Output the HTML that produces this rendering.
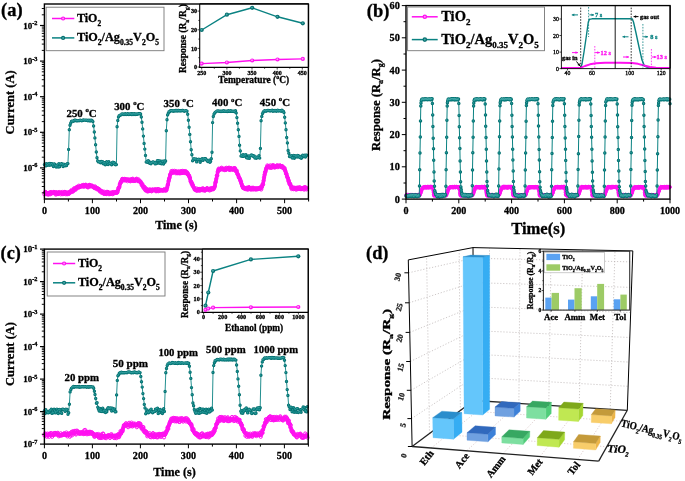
<!DOCTYPE html><html><head><meta charset="utf-8"><style>html,body{margin:0;padding:0;background:#fff}svg{display:block;filter:blur(0.45px)}text{stroke:#000;stroke-width:.3px}</style></head><body><svg width="685" height="481" viewBox="0 0 685 481" font-family="Liberation Serif, serif">
<rect width="685" height="481" fill="#fff"/>
<path d="M44.4 164.6 45.1 164 45.8 165.9 46.5 163.7 47.2 165.4 47.9 164.8 48.6 163.6 49.2 165.3 49.9 163.5 50.6 165 51.3 163.7 52 163.7 52.7 165 53.4 166.5 54.1 163.9 54.8 164.2 55.5 165.8 56.2 167 56.9 165.6 57.6 164.9 58.2 167.1 58.9 163.6 59.6 166.7 60.3 164.5 61 163.9 61.7 163.8 62.4 164.6 63.1 166.5 63.8 164.1 64.5 165.6 65.2 165.8 65.9 164.8 66.6 165.5 67.2 163.6 67.9 163.6 68.6 149.4 69.3 129.7 70 125.3 70.7 123.3 71.4 121.5 72.1 121.2 72.8 121.1 73.5 121.2 74.2 120.5 74.9 120.2 75.6 120.1 76.2 120.8 76.9 120.9 77.6 120.7 78.3 120.6 79 120.8 79.7 120.5 80.4 120.1 81.1 120.6 81.8 120.8 82.5 120.4 83.2 120 83.9 120.2 84.6 120.1 85.3 120.1 85.9 120.4 86.6 120.1 87.3 120.5 88 120.8 88.7 120.3 89.4 120.4 90.1 121 90.8 120.2 91.5 120.2 92.2 120.6 92.9 121.6 93.6 126 94.3 132 94.9 137.9 95.6 144.8 96.3 152 97 157.8 97.7 160.9 98.4 161.9 99.1 161.7 99.8 162.3 100.5 162.8 101.2 161.5 101.9 161.9 102.6 161.6 103.3 163.8 103.9 162.5 104.6 162.9 105.3 164.7 106 163.3 106.7 161.8 107.4 162.8 108.1 164.6 108.8 161.6 109.5 163.5 110.2 163.6 110.9 163.5 111.6 164.8 112.3 162.5 112.9 162.1 113.6 163.5 114.3 162.8 115 164.6 115.7 164.7 116.4 164.6 117.1 126.8 117.8 120.5 118.5 117 119.2 115.6 119.9 115.5 120.6 115 121.3 114.8 121.9 113.9 122.6 113.9 123.3 114.3 124 114.5 124.7 114.3 125.4 113.7 126.1 114.5 126.8 114.4 127.5 113.8 128.2 113.9 128.9 114.6 129.6 114 130.3 114.3 130.9 113.7 131.6 114.5 132.3 113.7 133 114.6 133.7 114 134.4 113.7 135.1 114.6 135.8 114.1 136.5 114 137.2 114.4 137.9 113.9 138.6 113.8 139.3 113.9 139.9 113.7 140.6 114 141.3 117 142 122.3 142.7 128.9 143.4 136.1 144.1 143.4 144.8 149.1 145.5 155.4 146.2 162.1 146.9 161.5 147.6 162.4 148.3 160.7 148.9 161.2 149.6 163.2 150.3 162.4 151 163.8 151.7 162.6 152.4 162.2 153.1 162 153.8 162.1 154.5 163 155.2 163.9 155.9 162.4 156.6 163.5 157.3 160.8 157.9 160.6 158.6 160.6 159.3 163.3 160 160.9 160.7 162.8 161.4 163.7 162.1 161.1 162.8 161.8 163.5 164.1 164.2 160.9 164.9 162.3 165.6 161 166.3 130.7 167 119.7 167.6 114.9 168.3 113.3 169 111.7 169.7 111.8 170.4 110.8 171.1 110.6 171.8 110.8 172.5 110.9 173.2 111.2 173.9 110.6 174.6 111 175.3 110.5 176 111.1 176.6 110.5 177.3 111 178 110.5 178.7 110.5 179.4 110.9 180.1 111 180.8 110.7 181.5 110.9 182.2 110.5 182.9 110.5 183.6 110.7 184.3 111.2 185 110.9 185.6 110.7 186.3 110.7 187 111.1 187.7 114.3 188.4 120.3 189.1 127.2 189.8 134.4 190.5 141.7 191.2 149.7 191.9 154.7 192.6 160.7 193.3 160.1 194 158.8 194.6 158.9 195.3 159.6 196 158.9 196.7 161.9 197.4 159.7 198.1 159.7 198.8 159.2 199.5 159.6 200.2 162.3 200.9 159.5 201.6 159.8 202.3 158.6 203 160.4 203.6 159.4 204.3 158.6 205 158.9 205.7 158.8 206.4 159.8 207.1 160.8 207.8 161.5 208.5 161.3 209.2 160.1 209.9 162.3 210.6 161.4 211.3 158.8 212 152.2 212.6 122.6 213.3 116.5 214 114.1 214.7 113 215.4 112.1 216.1 111.8 216.8 111.1 217.5 110.9 218.2 110.9 218.9 111.3 219.6 111.3 220.3 111.2 221 111.5 221.6 111.2 222.3 111.4 223 111.4 223.7 110.8 224.4 111.4 225.1 111.4 225.8 111.2 226.5 111.2 227.2 111.5 227.9 111.3 228.6 110.8 229.3 111.4 230 111.3 230.6 110.8 231.3 111.4 232 111.4 232.7 111.2 233.4 111.2 234.1 111.6 234.8 111.7 235.5 110.7 236.2 112.9 236.9 117.6 237.6 123.2 238.3 129.8 239 136.4 239.6 145.2 240.3 150.9 241 156.1 241.7 155.5 242.4 156.4 243.1 154.6 243.8 156.3 244.5 155.1 245.2 155.8 245.9 154.6 246.6 157.8 247.3 158.1 248 158 248.7 156 249.3 158.4 250 156 250.7 155.6 251.4 155 252.1 155.7 252.8 155.5 253.5 156.5 254.2 156 254.9 158 255.6 157 256.3 158.2 257 157.3 257.7 157.4 258.3 157.5 259 155.7 259.7 158.1 260.4 148.4 261.1 120.8 261.8 116.4 262.5 113.6 263.2 112.2 263.9 111.1 264.6 110.8 265.3 110.9 266 111.2 266.7 110.7 267.3 110.4 268 110.6 268.7 110.4 269.4 110.8 270.1 111 270.8 110.6 271.5 110.6 272.2 110.3 272.9 111.2 273.6 110.7 274.3 111.1 275 110.5 275.7 110.6 276.3 111.2 277 111.1 277.7 110.2 278.4 111.1 279.1 110.8 279.8 110.6 280.5 111 281.2 111.2 281.9 110.3 282.6 110.7 283.3 111.1 284 112.6 284.7 117.3 285.3 122.9 286 129.7 286.7 137.5 287.4 142.9 288.1 150.4 288.8 153.3 289.5 156.5 290.2 156 290.9 156.8 291.6 155.6 292.3 158.1 293 157.9 293.7 155.4 294.3 158.2 295 155.7 295.7 156.4 296.4 156.1 297.1 157 297.8 155.4 298.5 155.8 299.2 157.1 299.9 157.5 300.6 156.4 301.3 158.2 302 157.6 302.7 155.3 303.3 155.6 304 156.4 304.7 155.3 305.4 157 306.1 155.1 306.8 155.3" stroke="#0a8282" stroke-width="0.9" fill="none" stroke-linejoin="round"/>
<path d="M44.4 164.6h0M45.1 164h0M45.8 165.9h0M46.5 163.7h0M47.2 165.4h0M47.9 164.8h0M48.6 163.6h0M49.2 165.3h0M49.9 163.5h0M50.6 165h0M51.3 163.7h0M52 163.7h0M52.7 165h0M53.4 166.5h0M54.1 163.9h0M54.8 164.2h0M55.5 165.8h0M56.2 167h0M56.9 165.6h0M57.6 164.9h0M58.2 167.1h0M58.9 163.6h0M59.6 166.7h0M60.3 164.5h0M61 163.9h0M61.7 163.8h0M62.4 164.6h0M63.1 166.5h0M63.8 164.1h0M64.5 165.6h0M65.2 165.8h0M65.9 164.8h0M66.6 165.5h0M67.2 163.6h0M67.9 163.6h0M68.6 149.4h0M69.3 129.7h0M70 125.3h0M70.7 123.3h0M71.4 121.5h0M72.1 121.2h0M72.8 121.1h0M73.5 121.2h0M74.2 120.5h0M74.9 120.2h0M75.6 120.1h0M76.2 120.8h0M76.9 120.9h0M77.6 120.7h0M78.3 120.6h0M79 120.8h0M79.7 120.5h0M80.4 120.1h0M81.1 120.6h0M81.8 120.8h0M82.5 120.4h0M83.2 120h0M83.9 120.2h0M84.6 120.1h0M85.3 120.1h0M85.9 120.4h0M86.6 120.1h0M87.3 120.5h0M88 120.8h0M88.7 120.3h0M89.4 120.4h0M90.1 121h0M90.8 120.2h0M91.5 120.2h0M92.2 120.6h0M92.9 121.6h0M93.6 126h0M94.3 132h0M94.9 137.9h0M95.6 144.8h0M96.3 152h0M97 157.8h0M97.7 160.9h0M98.4 161.9h0M99.1 161.7h0M99.8 162.3h0M100.5 162.8h0M101.2 161.5h0M101.9 161.9h0M102.6 161.6h0M103.3 163.8h0M103.9 162.5h0M104.6 162.9h0M105.3 164.7h0M106 163.3h0M106.7 161.8h0M107.4 162.8h0M108.1 164.6h0M108.8 161.6h0M109.5 163.5h0M110.2 163.6h0M110.9 163.5h0M111.6 164.8h0M112.3 162.5h0M112.9 162.1h0M113.6 163.5h0M114.3 162.8h0M115 164.6h0M115.7 164.7h0M116.4 164.6h0M117.1 126.8h0M117.8 120.5h0M118.5 117h0M119.2 115.6h0M119.9 115.5h0M120.6 115h0M121.3 114.8h0M121.9 113.9h0M122.6 113.9h0M123.3 114.3h0M124 114.5h0M124.7 114.3h0M125.4 113.7h0M126.1 114.5h0M126.8 114.4h0M127.5 113.8h0M128.2 113.9h0M128.9 114.6h0M129.6 114h0M130.3 114.3h0M130.9 113.7h0M131.6 114.5h0M132.3 113.7h0M133 114.6h0M133.7 114h0M134.4 113.7h0M135.1 114.6h0M135.8 114.1h0M136.5 114h0M137.2 114.4h0M137.9 113.9h0M138.6 113.8h0M139.3 113.9h0M139.9 113.7h0M140.6 114h0M141.3 117h0M142 122.3h0M142.7 128.9h0M143.4 136.1h0M144.1 143.4h0M144.8 149.1h0M145.5 155.4h0M146.2 162.1h0M146.9 161.5h0M147.6 162.4h0M148.3 160.7h0M148.9 161.2h0M149.6 163.2h0M150.3 162.4h0M151 163.8h0M151.7 162.6h0M152.4 162.2h0M153.1 162h0M153.8 162.1h0M154.5 163h0M155.2 163.9h0M155.9 162.4h0M156.6 163.5h0M157.3 160.8h0M157.9 160.6h0M158.6 160.6h0M159.3 163.3h0M160 160.9h0M160.7 162.8h0M161.4 163.7h0M162.1 161.1h0M162.8 161.8h0M163.5 164.1h0M164.2 160.9h0M164.9 162.3h0M165.6 161h0M166.3 130.7h0M167 119.7h0M167.6 114.9h0M168.3 113.3h0M169 111.7h0M169.7 111.8h0M170.4 110.8h0M171.1 110.6h0M171.8 110.8h0M172.5 110.9h0M173.2 111.2h0M173.9 110.6h0M174.6 111h0M175.3 110.5h0M176 111.1h0M176.6 110.5h0M177.3 111h0M178 110.5h0M178.7 110.5h0M179.4 110.9h0M180.1 111h0M180.8 110.7h0M181.5 110.9h0M182.2 110.5h0M182.9 110.5h0M183.6 110.7h0M184.3 111.2h0M185 110.9h0M185.6 110.7h0M186.3 110.7h0M187 111.1h0M187.7 114.3h0M188.4 120.3h0M189.1 127.2h0M189.8 134.4h0M190.5 141.7h0M191.2 149.7h0M191.9 154.7h0M192.6 160.7h0M193.3 160.1h0M194 158.8h0M194.6 158.9h0M195.3 159.6h0M196 158.9h0M196.7 161.9h0M197.4 159.7h0M198.1 159.7h0M198.8 159.2h0M199.5 159.6h0M200.2 162.3h0M200.9 159.5h0M201.6 159.8h0M202.3 158.6h0M203 160.4h0M203.6 159.4h0M204.3 158.6h0M205 158.9h0M205.7 158.8h0M206.4 159.8h0M207.1 160.8h0M207.8 161.5h0M208.5 161.3h0M209.2 160.1h0M209.9 162.3h0M210.6 161.4h0M211.3 158.8h0M212 152.2h0M212.6 122.6h0M213.3 116.5h0M214 114.1h0M214.7 113h0M215.4 112.1h0M216.1 111.8h0M216.8 111.1h0M217.5 110.9h0M218.2 110.9h0M218.9 111.3h0M219.6 111.3h0M220.3 111.2h0M221 111.5h0M221.6 111.2h0M222.3 111.4h0M223 111.4h0M223.7 110.8h0M224.4 111.4h0M225.1 111.4h0M225.8 111.2h0M226.5 111.2h0M227.2 111.5h0M227.9 111.3h0M228.6 110.8h0M229.3 111.4h0M230 111.3h0M230.6 110.8h0M231.3 111.4h0M232 111.4h0M232.7 111.2h0M233.4 111.2h0M234.1 111.6h0M234.8 111.7h0M235.5 110.7h0M236.2 112.9h0M236.9 117.6h0M237.6 123.2h0M238.3 129.8h0M239 136.4h0M239.6 145.2h0M240.3 150.9h0M241 156.1h0M241.7 155.5h0M242.4 156.4h0M243.1 154.6h0M243.8 156.3h0M244.5 155.1h0M245.2 155.8h0M245.9 154.6h0M246.6 157.8h0M247.3 158.1h0M248 158h0M248.7 156h0M249.3 158.4h0M250 156h0M250.7 155.6h0M251.4 155h0M252.1 155.7h0M252.8 155.5h0M253.5 156.5h0M254.2 156h0M254.9 158h0M255.6 157h0M256.3 158.2h0M257 157.3h0M257.7 157.4h0M258.3 157.5h0M259 155.7h0M259.7 158.1h0M260.4 148.4h0M261.1 120.8h0M261.8 116.4h0M262.5 113.6h0M263.2 112.2h0M263.9 111.1h0M264.6 110.8h0M265.3 110.9h0M266 111.2h0M266.7 110.7h0M267.3 110.4h0M268 110.6h0M268.7 110.4h0M269.4 110.8h0M270.1 111h0M270.8 110.6h0M271.5 110.6h0M272.2 110.3h0M272.9 111.2h0M273.6 110.7h0M274.3 111.1h0M275 110.5h0M275.7 110.6h0M276.3 111.2h0M277 111.1h0M277.7 110.2h0M278.4 111.1h0M279.1 110.8h0M279.8 110.6h0M280.5 111h0M281.2 111.2h0M281.9 110.3h0M282.6 110.7h0M283.3 111.1h0M284 112.6h0M284.7 117.3h0M285.3 122.9h0M286 129.7h0M286.7 137.5h0M287.4 142.9h0M288.1 150.4h0M288.8 153.3h0M289.5 156.5h0M290.2 156h0M290.9 156.8h0M291.6 155.6h0M292.3 158.1h0M293 157.9h0M293.7 155.4h0M294.3 158.2h0M295 155.7h0M295.7 156.4h0M296.4 156.1h0M297.1 157h0M297.8 155.4h0M298.5 155.8h0M299.2 157.1h0M299.9 157.5h0M300.6 156.4h0M301.3 158.2h0M302 157.6h0M302.7 155.3h0M303.3 155.6h0M304 156.4h0M304.7 155.3h0M305.4 157h0M306.1 155.1h0M306.8 155.3h0" stroke="#077070" stroke-width="3.4" stroke-linecap="round" fill="none"/>
<path d="M44.4 164.6h0M45.1 164h0M45.8 165.9h0M46.5 163.7h0M47.2 165.4h0M47.9 164.8h0M48.6 163.6h0M49.2 165.3h0M49.9 163.5h0M50.6 165h0M51.3 163.7h0M52 163.7h0M52.7 165h0M53.4 166.5h0M54.1 163.9h0M54.8 164.2h0M55.5 165.8h0M56.2 167h0M56.9 165.6h0M57.6 164.9h0M58.2 167.1h0M58.9 163.6h0M59.6 166.7h0M60.3 164.5h0M61 163.9h0M61.7 163.8h0M62.4 164.6h0M63.1 166.5h0M63.8 164.1h0M64.5 165.6h0M65.2 165.8h0M65.9 164.8h0M66.6 165.5h0M67.2 163.6h0M67.9 163.6h0M68.6 149.4h0M69.3 129.7h0M70 125.3h0M70.7 123.3h0M71.4 121.5h0M72.1 121.2h0M72.8 121.1h0M73.5 121.2h0M74.2 120.5h0M74.9 120.2h0M75.6 120.1h0M76.2 120.8h0M76.9 120.9h0M77.6 120.7h0M78.3 120.6h0M79 120.8h0M79.7 120.5h0M80.4 120.1h0M81.1 120.6h0M81.8 120.8h0M82.5 120.4h0M83.2 120h0M83.9 120.2h0M84.6 120.1h0M85.3 120.1h0M85.9 120.4h0M86.6 120.1h0M87.3 120.5h0M88 120.8h0M88.7 120.3h0M89.4 120.4h0M90.1 121h0M90.8 120.2h0M91.5 120.2h0M92.2 120.6h0M92.9 121.6h0M93.6 126h0M94.3 132h0M94.9 137.9h0M95.6 144.8h0M96.3 152h0M97 157.8h0M97.7 160.9h0M98.4 161.9h0M99.1 161.7h0M99.8 162.3h0M100.5 162.8h0M101.2 161.5h0M101.9 161.9h0M102.6 161.6h0M103.3 163.8h0M103.9 162.5h0M104.6 162.9h0M105.3 164.7h0M106 163.3h0M106.7 161.8h0M107.4 162.8h0M108.1 164.6h0M108.8 161.6h0M109.5 163.5h0M110.2 163.6h0M110.9 163.5h0M111.6 164.8h0M112.3 162.5h0M112.9 162.1h0M113.6 163.5h0M114.3 162.8h0M115 164.6h0M115.7 164.7h0M116.4 164.6h0M117.1 126.8h0M117.8 120.5h0M118.5 117h0M119.2 115.6h0M119.9 115.5h0M120.6 115h0M121.3 114.8h0M121.9 113.9h0M122.6 113.9h0M123.3 114.3h0M124 114.5h0M124.7 114.3h0M125.4 113.7h0M126.1 114.5h0M126.8 114.4h0M127.5 113.8h0M128.2 113.9h0M128.9 114.6h0M129.6 114h0M130.3 114.3h0M130.9 113.7h0M131.6 114.5h0M132.3 113.7h0M133 114.6h0M133.7 114h0M134.4 113.7h0M135.1 114.6h0M135.8 114.1h0M136.5 114h0M137.2 114.4h0M137.9 113.9h0M138.6 113.8h0M139.3 113.9h0M139.9 113.7h0M140.6 114h0M141.3 117h0M142 122.3h0M142.7 128.9h0M143.4 136.1h0M144.1 143.4h0M144.8 149.1h0M145.5 155.4h0M146.2 162.1h0M146.9 161.5h0M147.6 162.4h0M148.3 160.7h0M148.9 161.2h0M149.6 163.2h0M150.3 162.4h0M151 163.8h0M151.7 162.6h0M152.4 162.2h0M153.1 162h0M153.8 162.1h0M154.5 163h0M155.2 163.9h0M155.9 162.4h0M156.6 163.5h0M157.3 160.8h0M157.9 160.6h0M158.6 160.6h0M159.3 163.3h0M160 160.9h0M160.7 162.8h0M161.4 163.7h0M162.1 161.1h0M162.8 161.8h0M163.5 164.1h0M164.2 160.9h0M164.9 162.3h0M165.6 161h0M166.3 130.7h0M167 119.7h0M167.6 114.9h0M168.3 113.3h0M169 111.7h0M169.7 111.8h0M170.4 110.8h0M171.1 110.6h0M171.8 110.8h0M172.5 110.9h0M173.2 111.2h0M173.9 110.6h0M174.6 111h0M175.3 110.5h0M176 111.1h0M176.6 110.5h0M177.3 111h0M178 110.5h0M178.7 110.5h0M179.4 110.9h0M180.1 111h0M180.8 110.7h0M181.5 110.9h0M182.2 110.5h0M182.9 110.5h0M183.6 110.7h0M184.3 111.2h0M185 110.9h0M185.6 110.7h0M186.3 110.7h0M187 111.1h0M187.7 114.3h0M188.4 120.3h0M189.1 127.2h0M189.8 134.4h0M190.5 141.7h0M191.2 149.7h0M191.9 154.7h0M192.6 160.7h0M193.3 160.1h0M194 158.8h0M194.6 158.9h0M195.3 159.6h0M196 158.9h0M196.7 161.9h0M197.4 159.7h0M198.1 159.7h0M198.8 159.2h0M199.5 159.6h0M200.2 162.3h0M200.9 159.5h0M201.6 159.8h0M202.3 158.6h0M203 160.4h0M203.6 159.4h0M204.3 158.6h0M205 158.9h0M205.7 158.8h0M206.4 159.8h0M207.1 160.8h0M207.8 161.5h0M208.5 161.3h0M209.2 160.1h0M209.9 162.3h0M210.6 161.4h0M211.3 158.8h0M212 152.2h0M212.6 122.6h0M213.3 116.5h0M214 114.1h0M214.7 113h0M215.4 112.1h0M216.1 111.8h0M216.8 111.1h0M217.5 110.9h0M218.2 110.9h0M218.9 111.3h0M219.6 111.3h0M220.3 111.2h0M221 111.5h0M221.6 111.2h0M222.3 111.4h0M223 111.4h0M223.7 110.8h0M224.4 111.4h0M225.1 111.4h0M225.8 111.2h0M226.5 111.2h0M227.2 111.5h0M227.9 111.3h0M228.6 110.8h0M229.3 111.4h0M230 111.3h0M230.6 110.8h0M231.3 111.4h0M232 111.4h0M232.7 111.2h0M233.4 111.2h0M234.1 111.6h0M234.8 111.7h0M235.5 110.7h0M236.2 112.9h0M236.9 117.6h0M237.6 123.2h0M238.3 129.8h0M239 136.4h0M239.6 145.2h0M240.3 150.9h0M241 156.1h0M241.7 155.5h0M242.4 156.4h0M243.1 154.6h0M243.8 156.3h0M244.5 155.1h0M245.2 155.8h0M245.9 154.6h0M246.6 157.8h0M247.3 158.1h0M248 158h0M248.7 156h0M249.3 158.4h0M250 156h0M250.7 155.6h0M251.4 155h0M252.1 155.7h0M252.8 155.5h0M253.5 156.5h0M254.2 156h0M254.9 158h0M255.6 157h0M256.3 158.2h0M257 157.3h0M257.7 157.4h0M258.3 157.5h0M259 155.7h0M259.7 158.1h0M260.4 148.4h0M261.1 120.8h0M261.8 116.4h0M262.5 113.6h0M263.2 112.2h0M263.9 111.1h0M264.6 110.8h0M265.3 110.9h0M266 111.2h0M266.7 110.7h0M267.3 110.4h0M268 110.6h0M268.7 110.4h0M269.4 110.8h0M270.1 111h0M270.8 110.6h0M271.5 110.6h0M272.2 110.3h0M272.9 111.2h0M273.6 110.7h0M274.3 111.1h0M275 110.5h0M275.7 110.6h0M276.3 111.2h0M277 111.1h0M277.7 110.2h0M278.4 111.1h0M279.1 110.8h0M279.8 110.6h0M280.5 111h0M281.2 111.2h0M281.9 110.3h0M282.6 110.7h0M283.3 111.1h0M284 112.6h0M284.7 117.3h0M285.3 122.9h0M286 129.7h0M286.7 137.5h0M287.4 142.9h0M288.1 150.4h0M288.8 153.3h0M289.5 156.5h0M290.2 156h0M290.9 156.8h0M291.6 155.6h0M292.3 158.1h0M293 157.9h0M293.7 155.4h0M294.3 158.2h0M295 155.7h0M295.7 156.4h0M296.4 156.1h0M297.1 157h0M297.8 155.4h0M298.5 155.8h0M299.2 157.1h0M299.9 157.5h0M300.6 156.4h0M301.3 158.2h0M302 157.6h0M302.7 155.3h0M303.3 155.6h0M304 156.4h0M304.7 155.3h0M305.4 157h0M306.1 155.1h0M306.8 155.3h0" stroke="#0a8282" stroke-width="2" stroke-linecap="round" fill="none"/>
<path d="M44.1 164.4h0M44.8 163.7h0M45.5 165.6h0M46.2 163.4h0M46.9 165.2h0M47.6 164.5h0M48.3 163.4h0M49 165.1h0M49.7 163.3h0M50.4 164.8h0M51.1 163.4h0M51.8 163.5h0M52.5 164.8h0M53.2 166.3h0M53.8 163.6h0M54.5 164h0M55.2 165.5h0M55.9 166.8h0M56.6 165.3h0M57.3 164.7h0M58 166.9h0M58.7 163.3h0M59.4 166.4h0M60.1 164.3h0M60.8 163.7h0M61.5 163.6h0M62.2 164.3h0M62.8 166.3h0M63.5 163.8h0M64.2 165.4h0M64.9 165.6h0M65.6 164.6h0M66.3 165.2h0M67 163.4h0M67.7 163.4h0M68.4 149.1h0M69.1 129.5h0M69.8 125h0M70.5 123h0M71.2 121.3h0M71.8 120.9h0M72.5 120.8h0M73.2 120.9h0M73.9 120.3h0M74.6 119.9h0M75.3 119.8h0M76 120.5h0M76.7 120.6h0M77.4 120.4h0M78.1 120.3h0M78.8 120.6h0M79.5 120.2h0M80.2 119.8h0M80.8 120.4h0M81.5 120.6h0M82.2 120.1h0M82.9 119.8h0M83.6 119.9h0M84.3 119.8h0M85 119.9h0M85.7 120.1h0M86.4 119.8h0M87.1 120.3h0M87.8 120.6h0M88.5 120h0M89.2 120.1h0M89.8 120.7h0M90.5 119.9h0M91.2 120h0M91.9 120.3h0M92.6 121.4h0M93.3 125.7h0M94 131.7h0M94.7 137.6h0M95.4 144.6h0M96.1 151.7h0M96.8 157.6h0M97.5 160.6h0M98.2 161.6h0M98.8 161.5h0M99.5 162h0M100.2 162.5h0M100.9 161.3h0M101.6 161.6h0M102.3 161.3h0M103 163.6h0M103.7 162.2h0M104.4 162.6h0M105.1 164.5h0M105.8 163h0M106.5 161.6h0M107.2 162.6h0M107.8 164.4h0M108.5 161.3h0M109.2 163.3h0M109.9 163.3h0M110.6 163.3h0M111.3 164.5h0M112 162.2h0M112.7 161.9h0M113.4 163.3h0M114.1 162.5h0M114.8 164.3h0M115.5 164.5h0M116.2 164.4h0M116.8 126.6h0M117.5 120.2h0M118.2 116.7h0M118.9 115.3h0M119.6 115.2h0M120.3 114.8h0M121 114.5h0M121.7 113.7h0M122.4 113.6h0M123.1 114h0M123.8 114.2h0M124.5 114h0M125.2 113.4h0M125.9 114.3h0M126.5 114.1h0M127.2 113.5h0M127.9 113.7h0M128.6 114.3h0M129.3 113.8h0M130 114.1h0M130.7 113.5h0M131.4 114.3h0M132.1 113.5h0M132.8 114.3h0M133.5 113.7h0M134.2 113.5h0M134.9 114.3h0M135.5 113.9h0M136.2 113.8h0M136.9 114.2h0M137.6 113.6h0M138.3 113.6h0M139 113.6h0M139.7 113.5h0M140.4 113.7h0M141.1 116.7h0M141.8 122h0M142.5 128.6h0M143.2 135.9h0M143.9 143.1h0M144.5 148.8h0M145.2 155.2h0M145.9 161.9h0M146.6 161.3h0M147.3 162.2h0M148 160.5h0M148.7 161h0M149.4 163h0M150.1 162.2h0M150.8 163.5h0M151.5 162.4h0M152.2 162h0M152.9 161.8h0M153.5 161.9h0M154.2 162.7h0M154.9 163.6h0M155.6 162.2h0M156.3 163.2h0M157 160.5h0M157.7 160.3h0M158.4 160.3h0M159.1 163h0M159.8 160.6h0M160.5 162.6h0M161.2 163.4h0M161.9 160.9h0M162.5 161.6h0M163.2 163.8h0M163.9 160.7h0M164.6 162h0M165.3 160.8h0M166 130.4h0M166.7 119.4h0M167.4 114.7h0M168.1 113.1h0M168.8 111.4h0M169.5 111.6h0M170.2 110.6h0M170.9 110.4h0M171.5 110.5h0M172.2 110.6h0M172.9 111h0M173.6 110.3h0M174.3 110.7h0M175 110.2h0M175.7 110.8h0M176.4 110.2h0M177.1 110.8h0M177.8 110.2h0M178.5 110.2h0M179.2 110.6h0M179.9 110.7h0M180.5 110.4h0M181.2 110.7h0M181.9 110.3h0M182.6 110.2h0M183.3 110.5h0M184 110.9h0M184.7 110.7h0M185.4 110.5h0M186.1 110.4h0M186.8 110.9h0M187.5 114h0M188.2 120.1h0M188.9 127h0M189.5 134.1h0M190.2 141.5h0M190.9 149.4h0M191.6 154.5h0M192.3 160.5h0M193 159.9h0M193.7 158.6h0M194.4 158.6h0M195.1 159.3h0M195.8 158.7h0M196.5 161.7h0M197.2 159.4h0M197.9 159.5h0M198.5 158.9h0M199.2 159.4h0M199.9 162h0M200.6 159.3h0M201.3 159.5h0M202 158.4h0M202.7 160.2h0M203.4 159.1h0M204.1 158.4h0M204.8 158.7h0M205.5 158.5h0M206.2 159.5h0M206.9 160.6h0M207.6 161.2h0M208.2 161.1h0M208.9 159.8h0M209.6 162.1h0M210.3 161.1h0M211 158.5h0M211.7 152h0M212.4 122.3h0M213.1 116.3h0M213.8 113.9h0M214.5 112.8h0M215.2 111.8h0M215.9 111.5h0M216.6 110.9h0M217.2 110.7h0M217.9 110.6h0M218.6 111h0M219.3 111.1h0M220 110.9h0M220.7 111.3h0M221.4 111h0M222.1 111.1h0M222.8 111.2h0M223.5 110.5h0M224.2 111.2h0M224.9 111.2h0M225.6 110.9h0M226.2 110.9h0M226.9 111.2h0M227.6 111.1h0M228.3 110.6h0M229 111.2h0M229.7 111h0M230.4 110.5h0M231.1 111.1h0M231.8 111.1h0M232.5 111h0M233.2 110.9h0M233.9 111.3h0M234.6 111.4h0M235.2 110.5h0M235.9 112.7h0M236.6 117.3h0M237.3 123h0M238 129.5h0M238.7 136.2h0M239.4 144.9h0M240.1 150.7h0M240.8 155.8h0M241.5 155.2h0M242.2 156.2h0M242.9 154.4h0M243.6 156.1h0M244.2 154.9h0M244.9 155.6h0M245.6 154.4h0M246.3 157.5h0M247 157.9h0M247.7 157.8h0M248.4 155.8h0M249.1 158.1h0M249.8 155.7h0M250.5 155.4h0M251.2 154.7h0M251.9 155.4h0M252.6 155.3h0M253.2 156.3h0M253.9 155.8h0M254.6 157.7h0M255.3 156.7h0M256 157.9h0M256.7 157.1h0M257.4 157.1h0M258.1 157.2h0M258.8 155.4h0M259.5 157.9h0M260.2 148.2h0M260.9 120.6h0M261.6 116.2h0M262.2 113.3h0M262.9 111.9h0M263.6 110.8h0M264.3 110.5h0M265 110.6h0M265.7 111h0M266.4 110.5h0M267.1 110.2h0M267.8 110.3h0M268.5 110.2h0M269.2 110.5h0M269.9 110.7h0M270.6 110.4h0M271.2 110.3h0M271.9 110h0M272.6 110.9h0M273.3 110.5h0M274 110.8h0M274.7 110.2h0M275.4 110.3h0M276.1 110.9h0M276.8 110.8h0M277.5 110h0M278.2 110.8h0M278.9 110.5h0M279.6 110.3h0M280.2 110.8h0M280.9 110.9h0M281.6 110.1h0M282.3 110.5h0M283 110.9h0M283.7 112.3h0M284.4 117.1h0M285.1 122.6h0M285.8 129.5h0M286.5 137.3h0M287.2 142.7h0M287.9 150.1h0M288.6 153h0M289.3 156.2h0M289.9 155.7h0M290.6 156.5h0M291.3 155.4h0M292 157.9h0M292.7 157.6h0M293.4 155.1h0M294.1 157.9h0M294.8 155.4h0M295.5 156.1h0M296.2 155.8h0M296.9 156.8h0M297.6 155.1h0M298.3 155.5h0M298.9 156.8h0M299.6 157.3h0M300.3 156.2h0M301 157.9h0M301.7 157.4h0M302.4 155.1h0M303.1 155.4h0M303.8 156.1h0M304.5 155.1h0M305.2 156.8h0M305.9 154.8h0M306.6 155.1h0" stroke="#48aaaa" stroke-width="0.8" stroke-linecap="round" fill="none"/>
<path d="M44.4 193.2 44.9 193.2 45.4 193.2 45.8 193.2 46.3 193.2 46.8 193.2 47.3 193.2 47.7 193.2 48.2 193.2 48.7 193.2 49.2 193.2 49.7 193.2 50.1 193.2 50.6 193.2 51.1 193.2 51.6 193.2 52 193.2 52.5 193.2 53 193.2 53.5 193.2 53.9 193.2 54.4 193.2 54.9 193.2 55.4 193.2 55.9 193.2 56.3 193.2 56.8 193.2 57.3 193.2 57.8 193.2 58.2 193.2 58.7 193.2 59.2 193.2 59.7 193.2 60.2 193.2 60.6 193.2 61.1 193.2 61.6 193.2 62.1 193.2 62.5 193.2 63 193.2 63.5 193.2 64 193.2 64.5 193.2 64.9 193.2 65.4 193.2 65.9 193.2 66.4 193.2 66.8 193.2 67.3 193.2 67.8 193.1 68.3 193 68.8 192.9 69.2 192.7 69.7 192.5 70.2 192.2 70.7 191.9 71.1 191.6 71.6 191.3 72.1 191 72.6 190.7 73 190.3 73.5 190 74 189.6 74.5 189.2 75 188.9 75.4 188.5 75.9 188.2 76.4 187.9 76.9 187.6 77.3 187.3 77.8 187 78.3 186.7 78.8 186.5 79.3 186.3 79.7 186.2 80.2 186.1 80.7 186 81.2 186 81.6 186 82.1 186 82.6 186 83.1 186 83.6 186 84 186 84.5 186 85 186 85.5 186 85.9 186 86.4 186 86.9 186 87.4 186 87.9 186 88.3 186 88.8 186 89.3 186 89.8 186 90.2 186 90.7 186 91.2 186 91.7 186.1 92.2 186.2 92.6 186.3 93.1 186.5 93.6 186.6 94.1 186.9 94.5 187.1 95 187.3 95.5 187.6 96 187.9 96.4 188.2 96.9 188.5 97.4 188.8 97.9 189.2 98.4 189.5 98.8 189.8 99.3 190.2 99.8 190.5 100.3 190.8 100.7 191.1 101.2 191.4 101.7 191.7 102.2 191.9 102.7 192.1 103.1 192.4 103.6 192.5 104.1 192.7 104.6 192.8 105 192.9 105.5 193 106 193 106.5 193 107 193 107.4 193 107.9 193 108.4 193 108.9 193 109.3 193 109.8 193 110.3 193 110.8 193 111.2 193 111.7 193 112.2 193 112.7 193 113.2 193 113.6 193 114.1 193 114.6 193 115.1 193 115.5 193 116 193 116.5 192.9 117 192.5 117.5 191.7 117.9 190.7 118.4 189.4 118.9 188 119.4 186.5 119.8 185 120.3 183.6 120.8 182.3 121.3 181.3 121.8 180.5 122.2 180.1 122.7 180 123.2 180 123.7 180 124.1 180 124.6 180 125.1 180 125.6 180 126.1 180 126.5 180 127 180 127.5 180 128 180 128.4 180 128.9 180 129.4 180 129.9 180 130.3 180 130.8 180 131.3 180 131.8 180 132.3 180 132.7 180 133.2 180 133.7 180 134.2 180 134.6 180 135.1 180 135.6 180 136.1 180 136.6 180 137 180 137.5 180 138 180.2 138.5 180.4 138.9 180.7 139.4 181.2 139.9 181.7 140.4 182.2 140.9 182.8 141.3 183.5 141.8 184.2 142.3 184.9 142.8 185.6 143.2 186.3 143.7 186.9 144.2 187.6 144.7 188.2 145.2 188.7 145.6 189.2 146.1 189.6 146.6 190 147.1 190.2 147.5 190.3 148 190.3 148.5 190.3 149 190.3 149.4 190.3 149.9 190.3 150.4 190.3 150.9 190.3 151.4 190.3 151.8 190.3 152.3 190.3 152.8 190.3 153.3 190.3 153.7 190.3 154.2 190.3 154.7 190.3 155.2 190.3 155.7 190.3 156.1 190.3 156.6 190.3 157.1 190.3 157.6 190.3 158 190.3 158.5 190.3 159 190.3 159.5 190.3 160 190.3 160.4 190.3 160.9 190.3 161.4 190.3 161.9 190.3 162.3 190.3 162.8 190.3 163.3 190.3 163.8 190.3 164.3 190.3 164.7 190.3 165.2 190.3 165.7 190.3 166.2 189.9 166.6 189 167.1 187.7 167.6 186 168.1 184.1 168.5 182 169 179.9 169.5 177.8 170 176 170.5 174.3 170.9 173.1 171.4 172.3 171.9 172 172.4 172 172.8 172 173.3 172 173.8 172 174.3 172 174.8 172 175.2 172 175.7 172 176.2 172 176.7 172 177.1 172 177.6 172 178.1 172 178.6 172 179.1 172 179.5 172 180 172 180.5 172 181 172 181.4 172 181.9 172 182.4 172 182.9 172 183.4 172 183.8 172 184.3 172 184.8 172 185.3 172 185.7 172 186.2 172.2 186.7 172.6 187.2 173.2 187.7 173.9 188.1 174.7 188.6 175.7 189.1 176.7 189.6 177.8 190 179 190.5 180.2 191 181.3 191.5 182.5 191.9 183.7 192.4 184.8 192.9 185.8 193.4 186.8 193.9 187.6 194.3 188.3 194.8 188.9 195.3 189.3 195.8 189.5 196.2 189.5 196.7 189.5 197.2 189.5 197.7 189.5 198.2 189.5 198.6 189.5 199.1 189.5 199.6 189.5 200.1 189.5 200.5 189.5 201 189.5 201.5 189.5 202 189.5 202.5 189.5 202.9 189.5 203.4 189.5 203.9 189.5 204.4 189.5 204.8 189.5 205.3 189.5 205.8 189.5 206.3 189.5 206.8 189.5 207.2 189.5 207.7 189.5 208.2 189.5 208.7 189.5 209.1 189.5 209.6 189.5 210.1 189.5 210.6 189.5 211 189.5 211.5 189.5 212 189.5 212.5 189.5 213 189.5 213.4 189.4 213.9 188.6 214.4 187.4 214.9 185.7 215.3 183.6 215.8 181.4 216.3 179 216.8 176.7 217.3 174.5 217.7 172.5 218.2 170.8 218.7 169.7 219.2 169.1 219.6 169 220.1 169 220.6 169 221.1 169 221.6 169 222 169 222.5 169 223 169 223.5 169 223.9 169 224.4 169 224.9 169 225.4 169 225.8 169 226.3 169 226.8 169 227.3 169 227.8 169 228.2 169 228.7 169 229.2 169 229.7 169 230.1 169 230.6 169 231.1 169 231.6 169 232.1 169 232.5 169 233 169 233.5 169 234 169 234.4 169 234.9 169.2 235.4 169.6 235.9 170.2 236.4 171 236.8 171.9 237.3 173 237.8 174.1 238.3 175.3 238.7 176.6 239.2 177.9 239.7 179.2 240.2 180.5 240.7 181.8 241.1 183.1 241.6 184.2 242.1 185.3 242.6 186.2 243 187 243.5 187.7 244 188.1 244.5 188.4 244.9 188.4 245.4 188.4 245.9 188.4 246.4 188.4 246.9 188.4 247.3 188.4 247.8 188.4 248.3 188.4 248.8 188.4 249.2 188.4 249.7 188.4 250.2 188.4 250.7 188.4 251.2 188.4 251.6 188.4 252.1 188.4 252.6 188.4 253.1 188.4 253.5 188.4 254 188.4 254.5 188.4 255 188.4 255.5 188.4 255.9 188.4 256.4 188.4 256.9 188.4 257.4 188.4 257.8 188.4 258.3 188.4 258.8 188.4 259.3 188.4 259.8 188.4 260.2 188.4 260.7 188.4 261.2 188.4 261.7 188 262.1 186.9 262.6 185.3 263.1 183.2 263.6 180.9 264 178.5 264.5 175.9 265 173.5 265.5 171.2 266 169.3 266.4 167.8 266.9 166.8 267.4 166.5 267.9 166.5 268.3 166.5 268.8 166.5 269.3 166.5 269.8 166.5 270.3 166.5 270.7 166.5 271.2 166.5 271.7 166.5 272.2 166.5 272.6 166.5 273.1 166.5 273.6 166.5 274.1 166.5 274.6 166.5 275 166.5 275.5 166.5 276 166.5 276.5 166.5 276.9 166.5 277.4 166.5 277.9 166.5 278.4 166.5 278.9 166.5 279.3 166.5 279.8 166.5 280.3 166.5 280.8 166.5 281.2 166.5 281.7 166.5 282.2 166.5 282.7 166.6 283.1 167 283.6 167.5 284.1 168.3 284.6 169.3 285.1 170.4 285.5 171.6 286 172.9 286.5 174.4 287 175.8 287.4 177.3 287.9 178.8 288.4 180.3 288.9 181.7 289.4 183 289.8 184.3 290.3 185.4 290.8 186.4 291.3 187.2 291.7 187.8 292.2 188.2 292.7 188.4 293.2 188.4 293.7 188.4 294.1 188.4 294.6 188.4 295.1 188.4 295.6 188.4 296 188.4 296.5 188.4 297 188.4 297.5 188.4 298 188.4 298.4 188.4 298.9 188.4 299.4 188.4 299.9 188.4 300.3 188.4 300.8 188.4 301.3 188.4 301.8 188.4 302.2 188.4 302.7 188.4 303.2 188.4 303.7 188.4 304.2 188.4 304.6 188.4 305.1 188.4 305.6 188.4 306.1 188.4 306.5 188.4 307 188.4" stroke="#ff10f0" stroke-width="3.6" fill="none" stroke-linejoin="round"/>
<path d="M42.8 194.4a1.6 1.6 0 1 0 3.2 0a1.6 1.6 0 1 0 -3.2 0M43.3 192.3a1.6 1.6 0 1 0 3.2 0a1.6 1.6 0 1 0 -3.2 0M43.8 192a1.6 1.6 0 1 0 3.2 0a1.6 1.6 0 1 0 -3.2 0M44.2 192.1a1.6 1.6 0 1 0 3.2 0a1.6 1.6 0 1 0 -3.2 0M44.7 192.9a1.6 1.6 0 1 0 3.2 0a1.6 1.6 0 1 0 -3.2 0M45.2 194.2a1.6 1.6 0 1 0 3.2 0a1.6 1.6 0 1 0 -3.2 0M45.7 194.2a1.6 1.6 0 1 0 3.2 0a1.6 1.6 0 1 0 -3.2 0M46.1 193.8a1.6 1.6 0 1 0 3.2 0a1.6 1.6 0 1 0 -3.2 0M46.6 194.5a1.6 1.6 0 1 0 3.2 0a1.6 1.6 0 1 0 -3.2 0M47.1 194.3a1.6 1.6 0 1 0 3.2 0a1.6 1.6 0 1 0 -3.2 0M47.6 192.8a1.6 1.6 0 1 0 3.2 0a1.6 1.6 0 1 0 -3.2 0M48.1 192.4a1.6 1.6 0 1 0 3.2 0a1.6 1.6 0 1 0 -3.2 0M48.5 194.3a1.6 1.6 0 1 0 3.2 0a1.6 1.6 0 1 0 -3.2 0M49 193.8a1.6 1.6 0 1 0 3.2 0a1.6 1.6 0 1 0 -3.2 0M49.5 192a1.6 1.6 0 1 0 3.2 0a1.6 1.6 0 1 0 -3.2 0M50 193.6a1.6 1.6 0 1 0 3.2 0a1.6 1.6 0 1 0 -3.2 0M50.4 192.9a1.6 1.6 0 1 0 3.2 0a1.6 1.6 0 1 0 -3.2 0M50.9 192.9a1.6 1.6 0 1 0 3.2 0a1.6 1.6 0 1 0 -3.2 0M51.4 192.8a1.6 1.6 0 1 0 3.2 0a1.6 1.6 0 1 0 -3.2 0M51.9 192.3a1.6 1.6 0 1 0 3.2 0a1.6 1.6 0 1 0 -3.2 0M52.3 191.9a1.6 1.6 0 1 0 3.2 0a1.6 1.6 0 1 0 -3.2 0M52.8 192.6a1.6 1.6 0 1 0 3.2 0a1.6 1.6 0 1 0 -3.2 0M53.3 192.8a1.6 1.6 0 1 0 3.2 0a1.6 1.6 0 1 0 -3.2 0M53.8 194.4a1.6 1.6 0 1 0 3.2 0a1.6 1.6 0 1 0 -3.2 0M54.3 192.2a1.6 1.6 0 1 0 3.2 0a1.6 1.6 0 1 0 -3.2 0M54.7 194.4a1.6 1.6 0 1 0 3.2 0a1.6 1.6 0 1 0 -3.2 0M55.2 192.4a1.6 1.6 0 1 0 3.2 0a1.6 1.6 0 1 0 -3.2 0M55.7 192.8a1.6 1.6 0 1 0 3.2 0a1.6 1.6 0 1 0 -3.2 0M56.2 194a1.6 1.6 0 1 0 3.2 0a1.6 1.6 0 1 0 -3.2 0M56.6 194a1.6 1.6 0 1 0 3.2 0a1.6 1.6 0 1 0 -3.2 0M57.1 193a1.6 1.6 0 1 0 3.2 0a1.6 1.6 0 1 0 -3.2 0M57.6 192a1.6 1.6 0 1 0 3.2 0a1.6 1.6 0 1 0 -3.2 0M58.1 193.1a1.6 1.6 0 1 0 3.2 0a1.6 1.6 0 1 0 -3.2 0M58.6 192.9a1.6 1.6 0 1 0 3.2 0a1.6 1.6 0 1 0 -3.2 0M59 194.3a1.6 1.6 0 1 0 3.2 0a1.6 1.6 0 1 0 -3.2 0M59.5 192.4a1.6 1.6 0 1 0 3.2 0a1.6 1.6 0 1 0 -3.2 0M60 192.8a1.6 1.6 0 1 0 3.2 0a1.6 1.6 0 1 0 -3.2 0M60.5 194.2a1.6 1.6 0 1 0 3.2 0a1.6 1.6 0 1 0 -3.2 0M60.9 192a1.6 1.6 0 1 0 3.2 0a1.6 1.6 0 1 0 -3.2 0M61.4 193a1.6 1.6 0 1 0 3.2 0a1.6 1.6 0 1 0 -3.2 0M61.9 194a1.6 1.6 0 1 0 3.2 0a1.6 1.6 0 1 0 -3.2 0M62.4 193.9a1.6 1.6 0 1 0 3.2 0a1.6 1.6 0 1 0 -3.2 0M62.9 192a1.6 1.6 0 1 0 3.2 0a1.6 1.6 0 1 0 -3.2 0M63.3 192a1.6 1.6 0 1 0 3.2 0a1.6 1.6 0 1 0 -3.2 0M63.8 192.1a1.6 1.6 0 1 0 3.2 0a1.6 1.6 0 1 0 -3.2 0M64.3 194.3a1.6 1.6 0 1 0 3.2 0a1.6 1.6 0 1 0 -3.2 0M64.8 192.6a1.6 1.6 0 1 0 3.2 0a1.6 1.6 0 1 0 -3.2 0M65.2 193.8a1.6 1.6 0 1 0 3.2 0a1.6 1.6 0 1 0 -3.2 0M65.7 194.2a1.6 1.6 0 1 0 3.2 0a1.6 1.6 0 1 0 -3.2 0M66.2 192.7a1.6 1.6 0 1 0 3.2 0a1.6 1.6 0 1 0 -3.2 0M66.7 192.4a1.6 1.6 0 1 0 3.2 0a1.6 1.6 0 1 0 -3.2 0M67.2 194a1.6 1.6 0 1 0 3.2 0a1.6 1.6 0 1 0 -3.2 0M67.6 193a1.6 1.6 0 1 0 3.2 0a1.6 1.6 0 1 0 -3.2 0M68.1 191.8a1.6 1.6 0 1 0 3.2 0a1.6 1.6 0 1 0 -3.2 0M68.6 192.8a1.6 1.6 0 1 0 3.2 0a1.6 1.6 0 1 0 -3.2 0M69.1 191.5a1.6 1.6 0 1 0 3.2 0a1.6 1.6 0 1 0 -3.2 0M69.5 191.1a1.6 1.6 0 1 0 3.2 0a1.6 1.6 0 1 0 -3.2 0M70 190a1.6 1.6 0 1 0 3.2 0a1.6 1.6 0 1 0 -3.2 0M70.5 191.7a1.6 1.6 0 1 0 3.2 0a1.6 1.6 0 1 0 -3.2 0M71 191.7a1.6 1.6 0 1 0 3.2 0a1.6 1.6 0 1 0 -3.2 0M71.5 190.7a1.6 1.6 0 1 0 3.2 0a1.6 1.6 0 1 0 -3.2 0M71.9 191.1a1.6 1.6 0 1 0 3.2 0a1.6 1.6 0 1 0 -3.2 0M72.4 188.4a1.6 1.6 0 1 0 3.2 0a1.6 1.6 0 1 0 -3.2 0M72.9 188.5a1.6 1.6 0 1 0 3.2 0a1.6 1.6 0 1 0 -3.2 0M73.4 188.8a1.6 1.6 0 1 0 3.2 0a1.6 1.6 0 1 0 -3.2 0M73.8 189.7a1.6 1.6 0 1 0 3.2 0a1.6 1.6 0 1 0 -3.2 0M74.3 189.4a1.6 1.6 0 1 0 3.2 0a1.6 1.6 0 1 0 -3.2 0M74.8 187.6a1.6 1.6 0 1 0 3.2 0a1.6 1.6 0 1 0 -3.2 0M75.3 186.9a1.6 1.6 0 1 0 3.2 0a1.6 1.6 0 1 0 -3.2 0M75.7 187.1a1.6 1.6 0 1 0 3.2 0a1.6 1.6 0 1 0 -3.2 0M76.2 187a1.6 1.6 0 1 0 3.2 0a1.6 1.6 0 1 0 -3.2 0M76.7 187.9a1.6 1.6 0 1 0 3.2 0a1.6 1.6 0 1 0 -3.2 0M77.2 185.7a1.6 1.6 0 1 0 3.2 0a1.6 1.6 0 1 0 -3.2 0M77.7 187.1a1.6 1.6 0 1 0 3.2 0a1.6 1.6 0 1 0 -3.2 0M78.1 186.8a1.6 1.6 0 1 0 3.2 0a1.6 1.6 0 1 0 -3.2 0M78.6 186.9a1.6 1.6 0 1 0 3.2 0a1.6 1.6 0 1 0 -3.2 0M79.1 186.7a1.6 1.6 0 1 0 3.2 0a1.6 1.6 0 1 0 -3.2 0M79.6 186.3a1.6 1.6 0 1 0 3.2 0a1.6 1.6 0 1 0 -3.2 0M80 185.6a1.6 1.6 0 1 0 3.2 0a1.6 1.6 0 1 0 -3.2 0M80.5 185.5a1.6 1.6 0 1 0 3.2 0a1.6 1.6 0 1 0 -3.2 0M81 185.6a1.6 1.6 0 1 0 3.2 0a1.6 1.6 0 1 0 -3.2 0M81.5 186.7a1.6 1.6 0 1 0 3.2 0a1.6 1.6 0 1 0 -3.2 0M82 184.9a1.6 1.6 0 1 0 3.2 0a1.6 1.6 0 1 0 -3.2 0M82.4 185.2a1.6 1.6 0 1 0 3.2 0a1.6 1.6 0 1 0 -3.2 0M82.9 186.7a1.6 1.6 0 1 0 3.2 0a1.6 1.6 0 1 0 -3.2 0M83.4 185.3a1.6 1.6 0 1 0 3.2 0a1.6 1.6 0 1 0 -3.2 0M83.9 184.9a1.6 1.6 0 1 0 3.2 0a1.6 1.6 0 1 0 -3.2 0M84.3 184.8a1.6 1.6 0 1 0 3.2 0a1.6 1.6 0 1 0 -3.2 0M84.8 186.1a1.6 1.6 0 1 0 3.2 0a1.6 1.6 0 1 0 -3.2 0M85.3 185.5a1.6 1.6 0 1 0 3.2 0a1.6 1.6 0 1 0 -3.2 0M85.8 187.2a1.6 1.6 0 1 0 3.2 0a1.6 1.6 0 1 0 -3.2 0M86.3 187a1.6 1.6 0 1 0 3.2 0a1.6 1.6 0 1 0 -3.2 0M86.7 187.3a1.6 1.6 0 1 0 3.2 0a1.6 1.6 0 1 0 -3.2 0M87.2 185.4a1.6 1.6 0 1 0 3.2 0a1.6 1.6 0 1 0 -3.2 0M87.7 184.9a1.6 1.6 0 1 0 3.2 0a1.6 1.6 0 1 0 -3.2 0M88.2 185a1.6 1.6 0 1 0 3.2 0a1.6 1.6 0 1 0 -3.2 0M88.6 186a1.6 1.6 0 1 0 3.2 0a1.6 1.6 0 1 0 -3.2 0M89.1 186.5a1.6 1.6 0 1 0 3.2 0a1.6 1.6 0 1 0 -3.2 0M89.6 185.9a1.6 1.6 0 1 0 3.2 0a1.6 1.6 0 1 0 -3.2 0M90.1 185.4a1.6 1.6 0 1 0 3.2 0a1.6 1.6 0 1 0 -3.2 0M90.6 186a1.6 1.6 0 1 0 3.2 0a1.6 1.6 0 1 0 -3.2 0M91 186.6a1.6 1.6 0 1 0 3.2 0a1.6 1.6 0 1 0 -3.2 0M91.5 186.9a1.6 1.6 0 1 0 3.2 0a1.6 1.6 0 1 0 -3.2 0M92 187.3a1.6 1.6 0 1 0 3.2 0a1.6 1.6 0 1 0 -3.2 0M92.5 187.8a1.6 1.6 0 1 0 3.2 0a1.6 1.6 0 1 0 -3.2 0M92.9 187.5a1.6 1.6 0 1 0 3.2 0a1.6 1.6 0 1 0 -3.2 0M93.4 186.4a1.6 1.6 0 1 0 3.2 0a1.6 1.6 0 1 0 -3.2 0M93.9 188.5a1.6 1.6 0 1 0 3.2 0a1.6 1.6 0 1 0 -3.2 0M94.4 187.4a1.6 1.6 0 1 0 3.2 0a1.6 1.6 0 1 0 -3.2 0M94.8 188.4a1.6 1.6 0 1 0 3.2 0a1.6 1.6 0 1 0 -3.2 0M95.3 188.2a1.6 1.6 0 1 0 3.2 0a1.6 1.6 0 1 0 -3.2 0M95.8 189.5a1.6 1.6 0 1 0 3.2 0a1.6 1.6 0 1 0 -3.2 0M96.3 188.4a1.6 1.6 0 1 0 3.2 0a1.6 1.6 0 1 0 -3.2 0M96.8 188.8a1.6 1.6 0 1 0 3.2 0a1.6 1.6 0 1 0 -3.2 0M97.2 189.2a1.6 1.6 0 1 0 3.2 0a1.6 1.6 0 1 0 -3.2 0M97.7 189.3a1.6 1.6 0 1 0 3.2 0a1.6 1.6 0 1 0 -3.2 0M98.2 191.5a1.6 1.6 0 1 0 3.2 0a1.6 1.6 0 1 0 -3.2 0M98.7 191a1.6 1.6 0 1 0 3.2 0a1.6 1.6 0 1 0 -3.2 0M99.1 190.6a1.6 1.6 0 1 0 3.2 0a1.6 1.6 0 1 0 -3.2 0M99.6 191.1a1.6 1.6 0 1 0 3.2 0a1.6 1.6 0 1 0 -3.2 0M100.1 192.9a1.6 1.6 0 1 0 3.2 0a1.6 1.6 0 1 0 -3.2 0M100.6 191.9a1.6 1.6 0 1 0 3.2 0a1.6 1.6 0 1 0 -3.2 0M101.1 191.4a1.6 1.6 0 1 0 3.2 0a1.6 1.6 0 1 0 -3.2 0M101.5 193.2a1.6 1.6 0 1 0 3.2 0a1.6 1.6 0 1 0 -3.2 0M102 192.9a1.6 1.6 0 1 0 3.2 0a1.6 1.6 0 1 0 -3.2 0M102.5 194a1.6 1.6 0 1 0 3.2 0a1.6 1.6 0 1 0 -3.2 0M103 191.8a1.6 1.6 0 1 0 3.2 0a1.6 1.6 0 1 0 -3.2 0M103.4 192.9a1.6 1.6 0 1 0 3.2 0a1.6 1.6 0 1 0 -3.2 0M103.9 193.8a1.6 1.6 0 1 0 3.2 0a1.6 1.6 0 1 0 -3.2 0M104.4 193.9a1.6 1.6 0 1 0 3.2 0a1.6 1.6 0 1 0 -3.2 0M104.9 194.1a1.6 1.6 0 1 0 3.2 0a1.6 1.6 0 1 0 -3.2 0M105.4 191.8a1.6 1.6 0 1 0 3.2 0a1.6 1.6 0 1 0 -3.2 0M105.8 192.5a1.6 1.6 0 1 0 3.2 0a1.6 1.6 0 1 0 -3.2 0M106.3 192a1.6 1.6 0 1 0 3.2 0a1.6 1.6 0 1 0 -3.2 0M106.8 192.2a1.6 1.6 0 1 0 3.2 0a1.6 1.6 0 1 0 -3.2 0M107.3 194.2a1.6 1.6 0 1 0 3.2 0a1.6 1.6 0 1 0 -3.2 0M107.7 193.2a1.6 1.6 0 1 0 3.2 0a1.6 1.6 0 1 0 -3.2 0M108.2 194.1a1.6 1.6 0 1 0 3.2 0a1.6 1.6 0 1 0 -3.2 0M108.7 192.7a1.6 1.6 0 1 0 3.2 0a1.6 1.6 0 1 0 -3.2 0M109.2 194a1.6 1.6 0 1 0 3.2 0a1.6 1.6 0 1 0 -3.2 0M109.7 192.9a1.6 1.6 0 1 0 3.2 0a1.6 1.6 0 1 0 -3.2 0M110.1 192.4a1.6 1.6 0 1 0 3.2 0a1.6 1.6 0 1 0 -3.2 0M110.6 193.7a1.6 1.6 0 1 0 3.2 0a1.6 1.6 0 1 0 -3.2 0M111.1 194.2a1.6 1.6 0 1 0 3.2 0a1.6 1.6 0 1 0 -3.2 0M111.6 192a1.6 1.6 0 1 0 3.2 0a1.6 1.6 0 1 0 -3.2 0M112 193.2a1.6 1.6 0 1 0 3.2 0a1.6 1.6 0 1 0 -3.2 0M112.5 193.3a1.6 1.6 0 1 0 3.2 0a1.6 1.6 0 1 0 -3.2 0M113 192.3a1.6 1.6 0 1 0 3.2 0a1.6 1.6 0 1 0 -3.2 0M113.5 192.7a1.6 1.6 0 1 0 3.2 0a1.6 1.6 0 1 0 -3.2 0M113.9 192.1a1.6 1.6 0 1 0 3.2 0a1.6 1.6 0 1 0 -3.2 0M114.4 192.2a1.6 1.6 0 1 0 3.2 0a1.6 1.6 0 1 0 -3.2 0M114.9 192.3a1.6 1.6 0 1 0 3.2 0a1.6 1.6 0 1 0 -3.2 0M115.4 192.8a1.6 1.6 0 1 0 3.2 0a1.6 1.6 0 1 0 -3.2 0M115.9 192.1a1.6 1.6 0 1 0 3.2 0a1.6 1.6 0 1 0 -3.2 0M116.3 189.9a1.6 1.6 0 1 0 3.2 0a1.6 1.6 0 1 0 -3.2 0M116.8 188.1a1.6 1.6 0 1 0 3.2 0a1.6 1.6 0 1 0 -3.2 0M117.3 187.5a1.6 1.6 0 1 0 3.2 0a1.6 1.6 0 1 0 -3.2 0M117.8 187a1.6 1.6 0 1 0 3.2 0a1.6 1.6 0 1 0 -3.2 0M118.2 184.2a1.6 1.6 0 1 0 3.2 0a1.6 1.6 0 1 0 -3.2 0M118.7 183.1a1.6 1.6 0 1 0 3.2 0a1.6 1.6 0 1 0 -3.2 0M119.2 181.5a1.6 1.6 0 1 0 3.2 0a1.6 1.6 0 1 0 -3.2 0M119.7 182a1.6 1.6 0 1 0 3.2 0a1.6 1.6 0 1 0 -3.2 0M120.2 180.6a1.6 1.6 0 1 0 3.2 0a1.6 1.6 0 1 0 -3.2 0M120.6 178.9a1.6 1.6 0 1 0 3.2 0a1.6 1.6 0 1 0 -3.2 0M121.1 179a1.6 1.6 0 1 0 3.2 0a1.6 1.6 0 1 0 -3.2 0M121.6 179.7a1.6 1.6 0 1 0 3.2 0a1.6 1.6 0 1 0 -3.2 0M122.1 180.1a1.6 1.6 0 1 0 3.2 0a1.6 1.6 0 1 0 -3.2 0M122.5 180.4a1.6 1.6 0 1 0 3.2 0a1.6 1.6 0 1 0 -3.2 0M123 178.9a1.6 1.6 0 1 0 3.2 0a1.6 1.6 0 1 0 -3.2 0M123.5 179.1a1.6 1.6 0 1 0 3.2 0a1.6 1.6 0 1 0 -3.2 0M124 180.5a1.6 1.6 0 1 0 3.2 0a1.6 1.6 0 1 0 -3.2 0M124.5 179.8a1.6 1.6 0 1 0 3.2 0a1.6 1.6 0 1 0 -3.2 0M124.9 179.4a1.6 1.6 0 1 0 3.2 0a1.6 1.6 0 1 0 -3.2 0M125.4 179.5a1.6 1.6 0 1 0 3.2 0a1.6 1.6 0 1 0 -3.2 0M125.9 181.2a1.6 1.6 0 1 0 3.2 0a1.6 1.6 0 1 0 -3.2 0M126.4 179.5a1.6 1.6 0 1 0 3.2 0a1.6 1.6 0 1 0 -3.2 0M126.8 180.2a1.6 1.6 0 1 0 3.2 0a1.6 1.6 0 1 0 -3.2 0M127.3 179.6a1.6 1.6 0 1 0 3.2 0a1.6 1.6 0 1 0 -3.2 0M127.8 179.8a1.6 1.6 0 1 0 3.2 0a1.6 1.6 0 1 0 -3.2 0M128.3 180.9a1.6 1.6 0 1 0 3.2 0a1.6 1.6 0 1 0 -3.2 0M128.8 181.3a1.6 1.6 0 1 0 3.2 0a1.6 1.6 0 1 0 -3.2 0M129.2 179.6a1.6 1.6 0 1 0 3.2 0a1.6 1.6 0 1 0 -3.2 0M129.7 179.2a1.6 1.6 0 1 0 3.2 0a1.6 1.6 0 1 0 -3.2 0M130.2 180.6a1.6 1.6 0 1 0 3.2 0a1.6 1.6 0 1 0 -3.2 0M130.7 179.2a1.6 1.6 0 1 0 3.2 0a1.6 1.6 0 1 0 -3.2 0M131.1 178.7a1.6 1.6 0 1 0 3.2 0a1.6 1.6 0 1 0 -3.2 0M131.6 181a1.6 1.6 0 1 0 3.2 0a1.6 1.6 0 1 0 -3.2 0M132.1 179.8a1.6 1.6 0 1 0 3.2 0a1.6 1.6 0 1 0 -3.2 0M132.6 180.8a1.6 1.6 0 1 0 3.2 0a1.6 1.6 0 1 0 -3.2 0M133 179.8a1.6 1.6 0 1 0 3.2 0a1.6 1.6 0 1 0 -3.2 0M133.5 181a1.6 1.6 0 1 0 3.2 0a1.6 1.6 0 1 0 -3.2 0M134 179.9a1.6 1.6 0 1 0 3.2 0a1.6 1.6 0 1 0 -3.2 0M134.5 179.1a1.6 1.6 0 1 0 3.2 0a1.6 1.6 0 1 0 -3.2 0M135 178.7a1.6 1.6 0 1 0 3.2 0a1.6 1.6 0 1 0 -3.2 0M135.4 180.1a1.6 1.6 0 1 0 3.2 0a1.6 1.6 0 1 0 -3.2 0M135.9 180.4a1.6 1.6 0 1 0 3.2 0a1.6 1.6 0 1 0 -3.2 0M136.4 181.2a1.6 1.6 0 1 0 3.2 0a1.6 1.6 0 1 0 -3.2 0M136.9 179.3a1.6 1.6 0 1 0 3.2 0a1.6 1.6 0 1 0 -3.2 0M137.3 181.1a1.6 1.6 0 1 0 3.2 0a1.6 1.6 0 1 0 -3.2 0M137.8 180.8a1.6 1.6 0 1 0 3.2 0a1.6 1.6 0 1 0 -3.2 0M138.3 181.7a1.6 1.6 0 1 0 3.2 0a1.6 1.6 0 1 0 -3.2 0M138.8 181.3a1.6 1.6 0 1 0 3.2 0a1.6 1.6 0 1 0 -3.2 0M139.3 182.3a1.6 1.6 0 1 0 3.2 0a1.6 1.6 0 1 0 -3.2 0M139.7 183.5a1.6 1.6 0 1 0 3.2 0a1.6 1.6 0 1 0 -3.2 0M140.2 185.3a1.6 1.6 0 1 0 3.2 0a1.6 1.6 0 1 0 -3.2 0M140.7 183.9a1.6 1.6 0 1 0 3.2 0a1.6 1.6 0 1 0 -3.2 0M141.2 185.5a1.6 1.6 0 1 0 3.2 0a1.6 1.6 0 1 0 -3.2 0M141.6 187.1a1.6 1.6 0 1 0 3.2 0a1.6 1.6 0 1 0 -3.2 0M142.1 188.2a1.6 1.6 0 1 0 3.2 0a1.6 1.6 0 1 0 -3.2 0M142.6 186.8a1.6 1.6 0 1 0 3.2 0a1.6 1.6 0 1 0 -3.2 0M143.1 187.2a1.6 1.6 0 1 0 3.2 0a1.6 1.6 0 1 0 -3.2 0M143.6 189.9a1.6 1.6 0 1 0 3.2 0a1.6 1.6 0 1 0 -3.2 0M144 190.5a1.6 1.6 0 1 0 3.2 0a1.6 1.6 0 1 0 -3.2 0M144.5 189.6a1.6 1.6 0 1 0 3.2 0a1.6 1.6 0 1 0 -3.2 0M145 188.8a1.6 1.6 0 1 0 3.2 0a1.6 1.6 0 1 0 -3.2 0M145.5 191.3a1.6 1.6 0 1 0 3.2 0a1.6 1.6 0 1 0 -3.2 0M145.9 190a1.6 1.6 0 1 0 3.2 0a1.6 1.6 0 1 0 -3.2 0M146.4 191.4a1.6 1.6 0 1 0 3.2 0a1.6 1.6 0 1 0 -3.2 0M146.9 190.6a1.6 1.6 0 1 0 3.2 0a1.6 1.6 0 1 0 -3.2 0M147.4 191.1a1.6 1.6 0 1 0 3.2 0a1.6 1.6 0 1 0 -3.2 0M147.8 189.4a1.6 1.6 0 1 0 3.2 0a1.6 1.6 0 1 0 -3.2 0M148.3 191a1.6 1.6 0 1 0 3.2 0a1.6 1.6 0 1 0 -3.2 0M148.8 189.6a1.6 1.6 0 1 0 3.2 0a1.6 1.6 0 1 0 -3.2 0M149.3 190.1a1.6 1.6 0 1 0 3.2 0a1.6 1.6 0 1 0 -3.2 0M149.8 191.2a1.6 1.6 0 1 0 3.2 0a1.6 1.6 0 1 0 -3.2 0M150.2 191.2a1.6 1.6 0 1 0 3.2 0a1.6 1.6 0 1 0 -3.2 0M150.7 189.5a1.6 1.6 0 1 0 3.2 0a1.6 1.6 0 1 0 -3.2 0M151.2 189.6a1.6 1.6 0 1 0 3.2 0a1.6 1.6 0 1 0 -3.2 0M151.7 190a1.6 1.6 0 1 0 3.2 0a1.6 1.6 0 1 0 -3.2 0M152.1 190.3a1.6 1.6 0 1 0 3.2 0a1.6 1.6 0 1 0 -3.2 0M152.6 190a1.6 1.6 0 1 0 3.2 0a1.6 1.6 0 1 0 -3.2 0M153.1 189.3a1.6 1.6 0 1 0 3.2 0a1.6 1.6 0 1 0 -3.2 0M153.6 189.6a1.6 1.6 0 1 0 3.2 0a1.6 1.6 0 1 0 -3.2 0M154.1 190.9a1.6 1.6 0 1 0 3.2 0a1.6 1.6 0 1 0 -3.2 0M154.5 191.3a1.6 1.6 0 1 0 3.2 0a1.6 1.6 0 1 0 -3.2 0M155 189.1a1.6 1.6 0 1 0 3.2 0a1.6 1.6 0 1 0 -3.2 0M155.5 190.5a1.6 1.6 0 1 0 3.2 0a1.6 1.6 0 1 0 -3.2 0M156 191a1.6 1.6 0 1 0 3.2 0a1.6 1.6 0 1 0 -3.2 0M156.4 189.1a1.6 1.6 0 1 0 3.2 0a1.6 1.6 0 1 0 -3.2 0M156.9 191.2a1.6 1.6 0 1 0 3.2 0a1.6 1.6 0 1 0 -3.2 0M157.4 189.3a1.6 1.6 0 1 0 3.2 0a1.6 1.6 0 1 0 -3.2 0M157.9 190.6a1.6 1.6 0 1 0 3.2 0a1.6 1.6 0 1 0 -3.2 0M158.4 190.4a1.6 1.6 0 1 0 3.2 0a1.6 1.6 0 1 0 -3.2 0M158.8 190.6a1.6 1.6 0 1 0 3.2 0a1.6 1.6 0 1 0 -3.2 0M159.3 189.8a1.6 1.6 0 1 0 3.2 0a1.6 1.6 0 1 0 -3.2 0M159.8 190.1a1.6 1.6 0 1 0 3.2 0a1.6 1.6 0 1 0 -3.2 0M160.3 190.5a1.6 1.6 0 1 0 3.2 0a1.6 1.6 0 1 0 -3.2 0M160.7 190.1a1.6 1.6 0 1 0 3.2 0a1.6 1.6 0 1 0 -3.2 0M161.2 190.7a1.6 1.6 0 1 0 3.2 0a1.6 1.6 0 1 0 -3.2 0M161.7 190.2a1.6 1.6 0 1 0 3.2 0a1.6 1.6 0 1 0 -3.2 0M162.2 190.1a1.6 1.6 0 1 0 3.2 0a1.6 1.6 0 1 0 -3.2 0M162.7 189.1a1.6 1.6 0 1 0 3.2 0a1.6 1.6 0 1 0 -3.2 0M163.1 190.6a1.6 1.6 0 1 0 3.2 0a1.6 1.6 0 1 0 -3.2 0M163.6 190.3a1.6 1.6 0 1 0 3.2 0a1.6 1.6 0 1 0 -3.2 0M164.1 189.6a1.6 1.6 0 1 0 3.2 0a1.6 1.6 0 1 0 -3.2 0M164.6 190.6a1.6 1.6 0 1 0 3.2 0a1.6 1.6 0 1 0 -3.2 0M165 189.7a1.6 1.6 0 1 0 3.2 0a1.6 1.6 0 1 0 -3.2 0M165.5 187.6a1.6 1.6 0 1 0 3.2 0a1.6 1.6 0 1 0 -3.2 0M166 185.2a1.6 1.6 0 1 0 3.2 0a1.6 1.6 0 1 0 -3.2 0M166.5 184a1.6 1.6 0 1 0 3.2 0a1.6 1.6 0 1 0 -3.2 0M166.9 181a1.6 1.6 0 1 0 3.2 0a1.6 1.6 0 1 0 -3.2 0M167.4 178.9a1.6 1.6 0 1 0 3.2 0a1.6 1.6 0 1 0 -3.2 0M167.9 177.7a1.6 1.6 0 1 0 3.2 0a1.6 1.6 0 1 0 -3.2 0M168.4 174.9a1.6 1.6 0 1 0 3.2 0a1.6 1.6 0 1 0 -3.2 0M168.9 174.2a1.6 1.6 0 1 0 3.2 0a1.6 1.6 0 1 0 -3.2 0M169.3 173.1a1.6 1.6 0 1 0 3.2 0a1.6 1.6 0 1 0 -3.2 0M169.8 171.1a1.6 1.6 0 1 0 3.2 0a1.6 1.6 0 1 0 -3.2 0M170.3 172.4a1.6 1.6 0 1 0 3.2 0a1.6 1.6 0 1 0 -3.2 0M170.8 170.9a1.6 1.6 0 1 0 3.2 0a1.6 1.6 0 1 0 -3.2 0M171.2 172.6a1.6 1.6 0 1 0 3.2 0a1.6 1.6 0 1 0 -3.2 0M171.7 172.7a1.6 1.6 0 1 0 3.2 0a1.6 1.6 0 1 0 -3.2 0M172.2 172a1.6 1.6 0 1 0 3.2 0a1.6 1.6 0 1 0 -3.2 0M172.7 170.8a1.6 1.6 0 1 0 3.2 0a1.6 1.6 0 1 0 -3.2 0M173.2 172a1.6 1.6 0 1 0 3.2 0a1.6 1.6 0 1 0 -3.2 0M173.6 171.7a1.6 1.6 0 1 0 3.2 0a1.6 1.6 0 1 0 -3.2 0M174.1 173.2a1.6 1.6 0 1 0 3.2 0a1.6 1.6 0 1 0 -3.2 0M174.6 171.1a1.6 1.6 0 1 0 3.2 0a1.6 1.6 0 1 0 -3.2 0M175.1 172.9a1.6 1.6 0 1 0 3.2 0a1.6 1.6 0 1 0 -3.2 0M175.5 173.3a1.6 1.6 0 1 0 3.2 0a1.6 1.6 0 1 0 -3.2 0M176 172.6a1.6 1.6 0 1 0 3.2 0a1.6 1.6 0 1 0 -3.2 0M176.5 172.8a1.6 1.6 0 1 0 3.2 0a1.6 1.6 0 1 0 -3.2 0M177 171.2a1.6 1.6 0 1 0 3.2 0a1.6 1.6 0 1 0 -3.2 0M177.5 173.3a1.6 1.6 0 1 0 3.2 0a1.6 1.6 0 1 0 -3.2 0M177.9 172a1.6 1.6 0 1 0 3.2 0a1.6 1.6 0 1 0 -3.2 0M178.4 173.2a1.6 1.6 0 1 0 3.2 0a1.6 1.6 0 1 0 -3.2 0M178.9 173.1a1.6 1.6 0 1 0 3.2 0a1.6 1.6 0 1 0 -3.2 0M179.4 171.1a1.6 1.6 0 1 0 3.2 0a1.6 1.6 0 1 0 -3.2 0M179.8 172.7a1.6 1.6 0 1 0 3.2 0a1.6 1.6 0 1 0 -3.2 0M180.3 173.1a1.6 1.6 0 1 0 3.2 0a1.6 1.6 0 1 0 -3.2 0M180.8 170.9a1.6 1.6 0 1 0 3.2 0a1.6 1.6 0 1 0 -3.2 0M181.3 171.6a1.6 1.6 0 1 0 3.2 0a1.6 1.6 0 1 0 -3.2 0M181.8 172.7a1.6 1.6 0 1 0 3.2 0a1.6 1.6 0 1 0 -3.2 0M182.2 171.1a1.6 1.6 0 1 0 3.2 0a1.6 1.6 0 1 0 -3.2 0M182.7 173a1.6 1.6 0 1 0 3.2 0a1.6 1.6 0 1 0 -3.2 0M183.2 171.4a1.6 1.6 0 1 0 3.2 0a1.6 1.6 0 1 0 -3.2 0M183.7 172.8a1.6 1.6 0 1 0 3.2 0a1.6 1.6 0 1 0 -3.2 0M184.1 171.1a1.6 1.6 0 1 0 3.2 0a1.6 1.6 0 1 0 -3.2 0M184.6 172.2a1.6 1.6 0 1 0 3.2 0a1.6 1.6 0 1 0 -3.2 0M185.1 173.7a1.6 1.6 0 1 0 3.2 0a1.6 1.6 0 1 0 -3.2 0M185.6 172.4a1.6 1.6 0 1 0 3.2 0a1.6 1.6 0 1 0 -3.2 0M186.1 173.3a1.6 1.6 0 1 0 3.2 0a1.6 1.6 0 1 0 -3.2 0M186.5 174.7a1.6 1.6 0 1 0 3.2 0a1.6 1.6 0 1 0 -3.2 0M187 175.2a1.6 1.6 0 1 0 3.2 0a1.6 1.6 0 1 0 -3.2 0M187.5 175.5a1.6 1.6 0 1 0 3.2 0a1.6 1.6 0 1 0 -3.2 0M188 177a1.6 1.6 0 1 0 3.2 0a1.6 1.6 0 1 0 -3.2 0M188.4 178.1a1.6 1.6 0 1 0 3.2 0a1.6 1.6 0 1 0 -3.2 0M188.9 181.3a1.6 1.6 0 1 0 3.2 0a1.6 1.6 0 1 0 -3.2 0M189.4 181.8a1.6 1.6 0 1 0 3.2 0a1.6 1.6 0 1 0 -3.2 0M189.9 183.6a1.6 1.6 0 1 0 3.2 0a1.6 1.6 0 1 0 -3.2 0M190.3 182.8a1.6 1.6 0 1 0 3.2 0a1.6 1.6 0 1 0 -3.2 0M190.8 185.5a1.6 1.6 0 1 0 3.2 0a1.6 1.6 0 1 0 -3.2 0M191.3 184.8a1.6 1.6 0 1 0 3.2 0a1.6 1.6 0 1 0 -3.2 0M191.8 186.8a1.6 1.6 0 1 0 3.2 0a1.6 1.6 0 1 0 -3.2 0M192.3 188a1.6 1.6 0 1 0 3.2 0a1.6 1.6 0 1 0 -3.2 0M192.7 187.9a1.6 1.6 0 1 0 3.2 0a1.6 1.6 0 1 0 -3.2 0M193.2 189.8a1.6 1.6 0 1 0 3.2 0a1.6 1.6 0 1 0 -3.2 0M193.7 189.4a1.6 1.6 0 1 0 3.2 0a1.6 1.6 0 1 0 -3.2 0M194.2 189.7a1.6 1.6 0 1 0 3.2 0a1.6 1.6 0 1 0 -3.2 0M194.6 190.5a1.6 1.6 0 1 0 3.2 0a1.6 1.6 0 1 0 -3.2 0M195.1 188.5a1.6 1.6 0 1 0 3.2 0a1.6 1.6 0 1 0 -3.2 0M195.6 190.8a1.6 1.6 0 1 0 3.2 0a1.6 1.6 0 1 0 -3.2 0M196.1 189.8a1.6 1.6 0 1 0 3.2 0a1.6 1.6 0 1 0 -3.2 0M196.6 189.2a1.6 1.6 0 1 0 3.2 0a1.6 1.6 0 1 0 -3.2 0M197 190.3a1.6 1.6 0 1 0 3.2 0a1.6 1.6 0 1 0 -3.2 0M197.5 188.9a1.6 1.6 0 1 0 3.2 0a1.6 1.6 0 1 0 -3.2 0M198 190.8a1.6 1.6 0 1 0 3.2 0a1.6 1.6 0 1 0 -3.2 0M198.5 189.7a1.6 1.6 0 1 0 3.2 0a1.6 1.6 0 1 0 -3.2 0M198.9 189.1a1.6 1.6 0 1 0 3.2 0a1.6 1.6 0 1 0 -3.2 0M199.4 190.2a1.6 1.6 0 1 0 3.2 0a1.6 1.6 0 1 0 -3.2 0M199.9 189.3a1.6 1.6 0 1 0 3.2 0a1.6 1.6 0 1 0 -3.2 0M200.4 188.7a1.6 1.6 0 1 0 3.2 0a1.6 1.6 0 1 0 -3.2 0M200.9 190.1a1.6 1.6 0 1 0 3.2 0a1.6 1.6 0 1 0 -3.2 0M201.3 188.3a1.6 1.6 0 1 0 3.2 0a1.6 1.6 0 1 0 -3.2 0M201.8 190.3a1.6 1.6 0 1 0 3.2 0a1.6 1.6 0 1 0 -3.2 0M202.3 188.9a1.6 1.6 0 1 0 3.2 0a1.6 1.6 0 1 0 -3.2 0M202.8 189.9a1.6 1.6 0 1 0 3.2 0a1.6 1.6 0 1 0 -3.2 0M203.2 190.8a1.6 1.6 0 1 0 3.2 0a1.6 1.6 0 1 0 -3.2 0M203.7 189.7a1.6 1.6 0 1 0 3.2 0a1.6 1.6 0 1 0 -3.2 0M204.2 189.9a1.6 1.6 0 1 0 3.2 0a1.6 1.6 0 1 0 -3.2 0M204.7 189a1.6 1.6 0 1 0 3.2 0a1.6 1.6 0 1 0 -3.2 0M205.2 188.2a1.6 1.6 0 1 0 3.2 0a1.6 1.6 0 1 0 -3.2 0M205.6 188.3a1.6 1.6 0 1 0 3.2 0a1.6 1.6 0 1 0 -3.2 0M206.1 188.6a1.6 1.6 0 1 0 3.2 0a1.6 1.6 0 1 0 -3.2 0M206.6 189.8a1.6 1.6 0 1 0 3.2 0a1.6 1.6 0 1 0 -3.2 0M207.1 189.3a1.6 1.6 0 1 0 3.2 0a1.6 1.6 0 1 0 -3.2 0M207.5 189.5a1.6 1.6 0 1 0 3.2 0a1.6 1.6 0 1 0 -3.2 0M208 190.5a1.6 1.6 0 1 0 3.2 0a1.6 1.6 0 1 0 -3.2 0M208.5 188.5a1.6 1.6 0 1 0 3.2 0a1.6 1.6 0 1 0 -3.2 0M209 188.8a1.6 1.6 0 1 0 3.2 0a1.6 1.6 0 1 0 -3.2 0M209.4 189.9a1.6 1.6 0 1 0 3.2 0a1.6 1.6 0 1 0 -3.2 0M209.9 188.3a1.6 1.6 0 1 0 3.2 0a1.6 1.6 0 1 0 -3.2 0M210.4 188.2a1.6 1.6 0 1 0 3.2 0a1.6 1.6 0 1 0 -3.2 0M210.9 189.1a1.6 1.6 0 1 0 3.2 0a1.6 1.6 0 1 0 -3.2 0M211.4 188.5a1.6 1.6 0 1 0 3.2 0a1.6 1.6 0 1 0 -3.2 0M211.8 189a1.6 1.6 0 1 0 3.2 0a1.6 1.6 0 1 0 -3.2 0M212.3 187.9a1.6 1.6 0 1 0 3.2 0a1.6 1.6 0 1 0 -3.2 0M212.8 187.6a1.6 1.6 0 1 0 3.2 0a1.6 1.6 0 1 0 -3.2 0M213.3 185.9a1.6 1.6 0 1 0 3.2 0a1.6 1.6 0 1 0 -3.2 0M213.7 182.8a1.6 1.6 0 1 0 3.2 0a1.6 1.6 0 1 0 -3.2 0M214.2 181.7a1.6 1.6 0 1 0 3.2 0a1.6 1.6 0 1 0 -3.2 0M214.7 178.9a1.6 1.6 0 1 0 3.2 0a1.6 1.6 0 1 0 -3.2 0M215.2 175.7a1.6 1.6 0 1 0 3.2 0a1.6 1.6 0 1 0 -3.2 0M215.7 175.6a1.6 1.6 0 1 0 3.2 0a1.6 1.6 0 1 0 -3.2 0M216.1 171.8a1.6 1.6 0 1 0 3.2 0a1.6 1.6 0 1 0 -3.2 0M216.6 169.9a1.6 1.6 0 1 0 3.2 0a1.6 1.6 0 1 0 -3.2 0M217.1 168.6a1.6 1.6 0 1 0 3.2 0a1.6 1.6 0 1 0 -3.2 0M217.6 169.4a1.6 1.6 0 1 0 3.2 0a1.6 1.6 0 1 0 -3.2 0M218 170a1.6 1.6 0 1 0 3.2 0a1.6 1.6 0 1 0 -3.2 0M218.5 169.7a1.6 1.6 0 1 0 3.2 0a1.6 1.6 0 1 0 -3.2 0M219 168.7a1.6 1.6 0 1 0 3.2 0a1.6 1.6 0 1 0 -3.2 0M219.5 168.4a1.6 1.6 0 1 0 3.2 0a1.6 1.6 0 1 0 -3.2 0M220 167.7a1.6 1.6 0 1 0 3.2 0a1.6 1.6 0 1 0 -3.2 0M220.4 169.4a1.6 1.6 0 1 0 3.2 0a1.6 1.6 0 1 0 -3.2 0M220.9 169.2a1.6 1.6 0 1 0 3.2 0a1.6 1.6 0 1 0 -3.2 0M221.4 168.6a1.6 1.6 0 1 0 3.2 0a1.6 1.6 0 1 0 -3.2 0M221.9 169.4a1.6 1.6 0 1 0 3.2 0a1.6 1.6 0 1 0 -3.2 0M222.3 168.9a1.6 1.6 0 1 0 3.2 0a1.6 1.6 0 1 0 -3.2 0M222.8 170.1a1.6 1.6 0 1 0 3.2 0a1.6 1.6 0 1 0 -3.2 0M223.3 169.6a1.6 1.6 0 1 0 3.2 0a1.6 1.6 0 1 0 -3.2 0M223.8 168.3a1.6 1.6 0 1 0 3.2 0a1.6 1.6 0 1 0 -3.2 0M224.2 170a1.6 1.6 0 1 0 3.2 0a1.6 1.6 0 1 0 -3.2 0M224.7 167.8a1.6 1.6 0 1 0 3.2 0a1.6 1.6 0 1 0 -3.2 0M225.2 169.1a1.6 1.6 0 1 0 3.2 0a1.6 1.6 0 1 0 -3.2 0M225.7 168.8a1.6 1.6 0 1 0 3.2 0a1.6 1.6 0 1 0 -3.2 0M226.2 168.3a1.6 1.6 0 1 0 3.2 0a1.6 1.6 0 1 0 -3.2 0M226.6 167.9a1.6 1.6 0 1 0 3.2 0a1.6 1.6 0 1 0 -3.2 0M227.1 169.7a1.6 1.6 0 1 0 3.2 0a1.6 1.6 0 1 0 -3.2 0M227.6 167.7a1.6 1.6 0 1 0 3.2 0a1.6 1.6 0 1 0 -3.2 0M228.1 169.1a1.6 1.6 0 1 0 3.2 0a1.6 1.6 0 1 0 -3.2 0M228.5 170.1a1.6 1.6 0 1 0 3.2 0a1.6 1.6 0 1 0 -3.2 0M229 168.1a1.6 1.6 0 1 0 3.2 0a1.6 1.6 0 1 0 -3.2 0M229.5 168.2a1.6 1.6 0 1 0 3.2 0a1.6 1.6 0 1 0 -3.2 0M230 169.3a1.6 1.6 0 1 0 3.2 0a1.6 1.6 0 1 0 -3.2 0M230.5 169a1.6 1.6 0 1 0 3.2 0a1.6 1.6 0 1 0 -3.2 0M230.9 169.4a1.6 1.6 0 1 0 3.2 0a1.6 1.6 0 1 0 -3.2 0M231.4 169.8a1.6 1.6 0 1 0 3.2 0a1.6 1.6 0 1 0 -3.2 0M231.9 168.2a1.6 1.6 0 1 0 3.2 0a1.6 1.6 0 1 0 -3.2 0M232.4 168.5a1.6 1.6 0 1 0 3.2 0a1.6 1.6 0 1 0 -3.2 0M232.8 168.5a1.6 1.6 0 1 0 3.2 0a1.6 1.6 0 1 0 -3.2 0M233.3 168.1a1.6 1.6 0 1 0 3.2 0a1.6 1.6 0 1 0 -3.2 0M233.8 170.7a1.6 1.6 0 1 0 3.2 0a1.6 1.6 0 1 0 -3.2 0M234.3 171a1.6 1.6 0 1 0 3.2 0a1.6 1.6 0 1 0 -3.2 0M234.8 171.6a1.6 1.6 0 1 0 3.2 0a1.6 1.6 0 1 0 -3.2 0M235.2 170.6a1.6 1.6 0 1 0 3.2 0a1.6 1.6 0 1 0 -3.2 0M235.7 173.9a1.6 1.6 0 1 0 3.2 0a1.6 1.6 0 1 0 -3.2 0M236.2 174.7a1.6 1.6 0 1 0 3.2 0a1.6 1.6 0 1 0 -3.2 0M236.7 175.2a1.6 1.6 0 1 0 3.2 0a1.6 1.6 0 1 0 -3.2 0M237.1 177.2a1.6 1.6 0 1 0 3.2 0a1.6 1.6 0 1 0 -3.2 0M237.6 177.8a1.6 1.6 0 1 0 3.2 0a1.6 1.6 0 1 0 -3.2 0M238.1 178.5a1.6 1.6 0 1 0 3.2 0a1.6 1.6 0 1 0 -3.2 0M238.6 179.5a1.6 1.6 0 1 0 3.2 0a1.6 1.6 0 1 0 -3.2 0M239.1 181.1a1.6 1.6 0 1 0 3.2 0a1.6 1.6 0 1 0 -3.2 0M239.5 181.9a1.6 1.6 0 1 0 3.2 0a1.6 1.6 0 1 0 -3.2 0M240 183.8a1.6 1.6 0 1 0 3.2 0a1.6 1.6 0 1 0 -3.2 0M240.5 185.9a1.6 1.6 0 1 0 3.2 0a1.6 1.6 0 1 0 -3.2 0M241 186.7a1.6 1.6 0 1 0 3.2 0a1.6 1.6 0 1 0 -3.2 0M241.4 187.9a1.6 1.6 0 1 0 3.2 0a1.6 1.6 0 1 0 -3.2 0M241.9 188.2a1.6 1.6 0 1 0 3.2 0a1.6 1.6 0 1 0 -3.2 0M242.4 187.5a1.6 1.6 0 1 0 3.2 0a1.6 1.6 0 1 0 -3.2 0M242.9 188.5a1.6 1.6 0 1 0 3.2 0a1.6 1.6 0 1 0 -3.2 0M243.3 188.2a1.6 1.6 0 1 0 3.2 0a1.6 1.6 0 1 0 -3.2 0M243.8 189.1a1.6 1.6 0 1 0 3.2 0a1.6 1.6 0 1 0 -3.2 0M244.3 188.5a1.6 1.6 0 1 0 3.2 0a1.6 1.6 0 1 0 -3.2 0M244.8 187.8a1.6 1.6 0 1 0 3.2 0a1.6 1.6 0 1 0 -3.2 0M245.3 188.8a1.6 1.6 0 1 0 3.2 0a1.6 1.6 0 1 0 -3.2 0M245.7 189.6a1.6 1.6 0 1 0 3.2 0a1.6 1.6 0 1 0 -3.2 0M246.2 187.7a1.6 1.6 0 1 0 3.2 0a1.6 1.6 0 1 0 -3.2 0M246.7 189.4a1.6 1.6 0 1 0 3.2 0a1.6 1.6 0 1 0 -3.2 0M247.2 187.1a1.6 1.6 0 1 0 3.2 0a1.6 1.6 0 1 0 -3.2 0M247.6 187.8a1.6 1.6 0 1 0 3.2 0a1.6 1.6 0 1 0 -3.2 0M248.1 187.7a1.6 1.6 0 1 0 3.2 0a1.6 1.6 0 1 0 -3.2 0M248.6 189a1.6 1.6 0 1 0 3.2 0a1.6 1.6 0 1 0 -3.2 0M249.1 189.6a1.6 1.6 0 1 0 3.2 0a1.6 1.6 0 1 0 -3.2 0M249.6 189a1.6 1.6 0 1 0 3.2 0a1.6 1.6 0 1 0 -3.2 0M250 187.9a1.6 1.6 0 1 0 3.2 0a1.6 1.6 0 1 0 -3.2 0M250.5 189.4a1.6 1.6 0 1 0 3.2 0a1.6 1.6 0 1 0 -3.2 0M251 188a1.6 1.6 0 1 0 3.2 0a1.6 1.6 0 1 0 -3.2 0M251.5 187.7a1.6 1.6 0 1 0 3.2 0a1.6 1.6 0 1 0 -3.2 0M251.9 189.5a1.6 1.6 0 1 0 3.2 0a1.6 1.6 0 1 0 -3.2 0M252.4 188.7a1.6 1.6 0 1 0 3.2 0a1.6 1.6 0 1 0 -3.2 0M252.9 188.9a1.6 1.6 0 1 0 3.2 0a1.6 1.6 0 1 0 -3.2 0M253.4 188.8a1.6 1.6 0 1 0 3.2 0a1.6 1.6 0 1 0 -3.2 0M253.9 189.6a1.6 1.6 0 1 0 3.2 0a1.6 1.6 0 1 0 -3.2 0M254.3 188.3a1.6 1.6 0 1 0 3.2 0a1.6 1.6 0 1 0 -3.2 0M254.8 189.3a1.6 1.6 0 1 0 3.2 0a1.6 1.6 0 1 0 -3.2 0M255.3 188.9a1.6 1.6 0 1 0 3.2 0a1.6 1.6 0 1 0 -3.2 0M255.8 189.3a1.6 1.6 0 1 0 3.2 0a1.6 1.6 0 1 0 -3.2 0M256.2 188.2a1.6 1.6 0 1 0 3.2 0a1.6 1.6 0 1 0 -3.2 0M256.7 189a1.6 1.6 0 1 0 3.2 0a1.6 1.6 0 1 0 -3.2 0M257.2 188.6a1.6 1.6 0 1 0 3.2 0a1.6 1.6 0 1 0 -3.2 0M257.7 187.9a1.6 1.6 0 1 0 3.2 0a1.6 1.6 0 1 0 -3.2 0M258.2 187.7a1.6 1.6 0 1 0 3.2 0a1.6 1.6 0 1 0 -3.2 0M258.6 188.7a1.6 1.6 0 1 0 3.2 0a1.6 1.6 0 1 0 -3.2 0M259.1 187.3a1.6 1.6 0 1 0 3.2 0a1.6 1.6 0 1 0 -3.2 0M259.6 189.5a1.6 1.6 0 1 0 3.2 0a1.6 1.6 0 1 0 -3.2 0M260.1 187a1.6 1.6 0 1 0 3.2 0a1.6 1.6 0 1 0 -3.2 0M260.5 185.6a1.6 1.6 0 1 0 3.2 0a1.6 1.6 0 1 0 -3.2 0M261 184.2a1.6 1.6 0 1 0 3.2 0a1.6 1.6 0 1 0 -3.2 0M261.5 184.4a1.6 1.6 0 1 0 3.2 0a1.6 1.6 0 1 0 -3.2 0M262 180.5a1.6 1.6 0 1 0 3.2 0a1.6 1.6 0 1 0 -3.2 0M262.4 177.5a1.6 1.6 0 1 0 3.2 0a1.6 1.6 0 1 0 -3.2 0M262.9 174.7a1.6 1.6 0 1 0 3.2 0a1.6 1.6 0 1 0 -3.2 0M263.4 172.3a1.6 1.6 0 1 0 3.2 0a1.6 1.6 0 1 0 -3.2 0M263.9 171.7a1.6 1.6 0 1 0 3.2 0a1.6 1.6 0 1 0 -3.2 0M264.4 169.6a1.6 1.6 0 1 0 3.2 0a1.6 1.6 0 1 0 -3.2 0M264.8 168.3a1.6 1.6 0 1 0 3.2 0a1.6 1.6 0 1 0 -3.2 0M265.3 167.4a1.6 1.6 0 1 0 3.2 0a1.6 1.6 0 1 0 -3.2 0M265.8 165.4a1.6 1.6 0 1 0 3.2 0a1.6 1.6 0 1 0 -3.2 0M266.3 166.7a1.6 1.6 0 1 0 3.2 0a1.6 1.6 0 1 0 -3.2 0M266.7 166.1a1.6 1.6 0 1 0 3.2 0a1.6 1.6 0 1 0 -3.2 0M267.2 167.3a1.6 1.6 0 1 0 3.2 0a1.6 1.6 0 1 0 -3.2 0M267.7 167.3a1.6 1.6 0 1 0 3.2 0a1.6 1.6 0 1 0 -3.2 0M268.2 167.5a1.6 1.6 0 1 0 3.2 0a1.6 1.6 0 1 0 -3.2 0M268.7 165.4a1.6 1.6 0 1 0 3.2 0a1.6 1.6 0 1 0 -3.2 0M269.1 167.5a1.6 1.6 0 1 0 3.2 0a1.6 1.6 0 1 0 -3.2 0M269.6 167.6a1.6 1.6 0 1 0 3.2 0a1.6 1.6 0 1 0 -3.2 0M270.1 167.7a1.6 1.6 0 1 0 3.2 0a1.6 1.6 0 1 0 -3.2 0M270.6 165.5a1.6 1.6 0 1 0 3.2 0a1.6 1.6 0 1 0 -3.2 0M271 165.7a1.6 1.6 0 1 0 3.2 0a1.6 1.6 0 1 0 -3.2 0M271.5 165.5a1.6 1.6 0 1 0 3.2 0a1.6 1.6 0 1 0 -3.2 0M272 165.3a1.6 1.6 0 1 0 3.2 0a1.6 1.6 0 1 0 -3.2 0M272.5 167.4a1.6 1.6 0 1 0 3.2 0a1.6 1.6 0 1 0 -3.2 0M273 167.3a1.6 1.6 0 1 0 3.2 0a1.6 1.6 0 1 0 -3.2 0M273.4 166.8a1.6 1.6 0 1 0 3.2 0a1.6 1.6 0 1 0 -3.2 0M273.9 167.3a1.6 1.6 0 1 0 3.2 0a1.6 1.6 0 1 0 -3.2 0M274.4 166.8a1.6 1.6 0 1 0 3.2 0a1.6 1.6 0 1 0 -3.2 0M274.9 165.9a1.6 1.6 0 1 0 3.2 0a1.6 1.6 0 1 0 -3.2 0M275.3 165.5a1.6 1.6 0 1 0 3.2 0a1.6 1.6 0 1 0 -3.2 0M275.8 165.5a1.6 1.6 0 1 0 3.2 0a1.6 1.6 0 1 0 -3.2 0M276.3 167.2a1.6 1.6 0 1 0 3.2 0a1.6 1.6 0 1 0 -3.2 0M276.8 165.7a1.6 1.6 0 1 0 3.2 0a1.6 1.6 0 1 0 -3.2 0M277.3 166a1.6 1.6 0 1 0 3.2 0a1.6 1.6 0 1 0 -3.2 0M277.7 166.3a1.6 1.6 0 1 0 3.2 0a1.6 1.6 0 1 0 -3.2 0M278.2 165.3a1.6 1.6 0 1 0 3.2 0a1.6 1.6 0 1 0 -3.2 0M278.7 165.9a1.6 1.6 0 1 0 3.2 0a1.6 1.6 0 1 0 -3.2 0M279.2 165.9a1.6 1.6 0 1 0 3.2 0a1.6 1.6 0 1 0 -3.2 0M279.6 167.1a1.6 1.6 0 1 0 3.2 0a1.6 1.6 0 1 0 -3.2 0M280.1 166.2a1.6 1.6 0 1 0 3.2 0a1.6 1.6 0 1 0 -3.2 0M280.6 166a1.6 1.6 0 1 0 3.2 0a1.6 1.6 0 1 0 -3.2 0M281.1 167.8a1.6 1.6 0 1 0 3.2 0a1.6 1.6 0 1 0 -3.2 0M281.5 167a1.6 1.6 0 1 0 3.2 0a1.6 1.6 0 1 0 -3.2 0M282 168.5a1.6 1.6 0 1 0 3.2 0a1.6 1.6 0 1 0 -3.2 0M282.5 168.6a1.6 1.6 0 1 0 3.2 0a1.6 1.6 0 1 0 -3.2 0M283 168.1a1.6 1.6 0 1 0 3.2 0a1.6 1.6 0 1 0 -3.2 0M283.5 170.2a1.6 1.6 0 1 0 3.2 0a1.6 1.6 0 1 0 -3.2 0M283.9 171.4a1.6 1.6 0 1 0 3.2 0a1.6 1.6 0 1 0 -3.2 0M284.4 173.7a1.6 1.6 0 1 0 3.2 0a1.6 1.6 0 1 0 -3.2 0M284.9 174a1.6 1.6 0 1 0 3.2 0a1.6 1.6 0 1 0 -3.2 0M285.4 176.3a1.6 1.6 0 1 0 3.2 0a1.6 1.6 0 1 0 -3.2 0M285.8 177.4a1.6 1.6 0 1 0 3.2 0a1.6 1.6 0 1 0 -3.2 0M286.3 178.1a1.6 1.6 0 1 0 3.2 0a1.6 1.6 0 1 0 -3.2 0M286.8 181.2a1.6 1.6 0 1 0 3.2 0a1.6 1.6 0 1 0 -3.2 0M287.3 180.6a1.6 1.6 0 1 0 3.2 0a1.6 1.6 0 1 0 -3.2 0M287.8 183.9a1.6 1.6 0 1 0 3.2 0a1.6 1.6 0 1 0 -3.2 0M288.2 183.4a1.6 1.6 0 1 0 3.2 0a1.6 1.6 0 1 0 -3.2 0M288.7 184.1a1.6 1.6 0 1 0 3.2 0a1.6 1.6 0 1 0 -3.2 0M289.2 185.6a1.6 1.6 0 1 0 3.2 0a1.6 1.6 0 1 0 -3.2 0M289.7 187.9a1.6 1.6 0 1 0 3.2 0a1.6 1.6 0 1 0 -3.2 0M290.1 189.1a1.6 1.6 0 1 0 3.2 0a1.6 1.6 0 1 0 -3.2 0M290.6 187a1.6 1.6 0 1 0 3.2 0a1.6 1.6 0 1 0 -3.2 0M291.1 188.4a1.6 1.6 0 1 0 3.2 0a1.6 1.6 0 1 0 -3.2 0M291.6 188.4a1.6 1.6 0 1 0 3.2 0a1.6 1.6 0 1 0 -3.2 0M292.1 189.2a1.6 1.6 0 1 0 3.2 0a1.6 1.6 0 1 0 -3.2 0M292.5 187.6a1.6 1.6 0 1 0 3.2 0a1.6 1.6 0 1 0 -3.2 0M293 188.4a1.6 1.6 0 1 0 3.2 0a1.6 1.6 0 1 0 -3.2 0M293.5 188a1.6 1.6 0 1 0 3.2 0a1.6 1.6 0 1 0 -3.2 0M294 189.3a1.6 1.6 0 1 0 3.2 0a1.6 1.6 0 1 0 -3.2 0M294.4 187.8a1.6 1.6 0 1 0 3.2 0a1.6 1.6 0 1 0 -3.2 0M294.9 189.6a1.6 1.6 0 1 0 3.2 0a1.6 1.6 0 1 0 -3.2 0M295.4 187.8a1.6 1.6 0 1 0 3.2 0a1.6 1.6 0 1 0 -3.2 0M295.9 187.7a1.6 1.6 0 1 0 3.2 0a1.6 1.6 0 1 0 -3.2 0M296.4 188.9a1.6 1.6 0 1 0 3.2 0a1.6 1.6 0 1 0 -3.2 0M296.8 188.4a1.6 1.6 0 1 0 3.2 0a1.6 1.6 0 1 0 -3.2 0M297.3 187.4a1.6 1.6 0 1 0 3.2 0a1.6 1.6 0 1 0 -3.2 0M297.8 188.8a1.6 1.6 0 1 0 3.2 0a1.6 1.6 0 1 0 -3.2 0M298.3 187.3a1.6 1.6 0 1 0 3.2 0a1.6 1.6 0 1 0 -3.2 0M298.7 189.1a1.6 1.6 0 1 0 3.2 0a1.6 1.6 0 1 0 -3.2 0M299.2 188.9a1.6 1.6 0 1 0 3.2 0a1.6 1.6 0 1 0 -3.2 0M299.7 189.1a1.6 1.6 0 1 0 3.2 0a1.6 1.6 0 1 0 -3.2 0M300.2 188.7a1.6 1.6 0 1 0 3.2 0a1.6 1.6 0 1 0 -3.2 0M300.6 188a1.6 1.6 0 1 0 3.2 0a1.6 1.6 0 1 0 -3.2 0M301.1 188.1a1.6 1.6 0 1 0 3.2 0a1.6 1.6 0 1 0 -3.2 0M301.6 188.1a1.6 1.6 0 1 0 3.2 0a1.6 1.6 0 1 0 -3.2 0M302.1 189.4a1.6 1.6 0 1 0 3.2 0a1.6 1.6 0 1 0 -3.2 0M302.6 187.3a1.6 1.6 0 1 0 3.2 0a1.6 1.6 0 1 0 -3.2 0M303 189.4a1.6 1.6 0 1 0 3.2 0a1.6 1.6 0 1 0 -3.2 0M303.5 187.2a1.6 1.6 0 1 0 3.2 0a1.6 1.6 0 1 0 -3.2 0M304 187.6a1.6 1.6 0 1 0 3.2 0a1.6 1.6 0 1 0 -3.2 0M304.5 187.8a1.6 1.6 0 1 0 3.2 0a1.6 1.6 0 1 0 -3.2 0M304.9 189.4a1.6 1.6 0 1 0 3.2 0a1.6 1.6 0 1 0 -3.2 0M305.4 188.4a1.6 1.6 0 1 0 3.2 0a1.6 1.6 0 1 0 -3.2 0" stroke="#ff10f0" stroke-width="1.0" fill="none"/>
<line x1="44.4" y1="199" x2="44.4" y2="203.2" stroke="#000" stroke-width="1.0"/>
<text x="44.4" y="214" font-size="10.1" text-anchor="middle" font-weight="bold">0</text>
<line x1="68.4" y1="199" x2="68.4" y2="201.5" stroke="#000" stroke-width="1.0"/>
<line x1="92.4" y1="199" x2="92.4" y2="203.2" stroke="#000" stroke-width="1.0"/>
<text x="92.4" y="214" font-size="10.1" text-anchor="middle" font-weight="bold">100</text>
<line x1="116.5" y1="199" x2="116.5" y2="201.5" stroke="#000" stroke-width="1.0"/>
<line x1="140.5" y1="199" x2="140.5" y2="203.2" stroke="#000" stroke-width="1.0"/>
<text x="140.5" y="214" font-size="10.1" text-anchor="middle" font-weight="bold">200</text>
<line x1="164.5" y1="199" x2="164.5" y2="201.5" stroke="#000" stroke-width="1.0"/>
<line x1="188.5" y1="199" x2="188.5" y2="203.2" stroke="#000" stroke-width="1.0"/>
<text x="188.5" y="214" font-size="10.1" text-anchor="middle" font-weight="bold">300</text>
<line x1="212.5" y1="199" x2="212.5" y2="201.5" stroke="#000" stroke-width="1.0"/>
<line x1="236.6" y1="199" x2="236.6" y2="203.2" stroke="#000" stroke-width="1.0"/>
<text x="236.6" y="214" font-size="10.1" text-anchor="middle" font-weight="bold">400</text>
<line x1="260.6" y1="199" x2="260.6" y2="201.5" stroke="#000" stroke-width="1.0"/>
<line x1="284.6" y1="199" x2="284.6" y2="203.2" stroke="#000" stroke-width="1.0"/>
<text x="284.6" y="214" font-size="10.1" text-anchor="middle" font-weight="bold">500</text>
<line x1="308.6" y1="199" x2="308.6" y2="201.5" stroke="#000" stroke-width="1.0"/>
<line x1="40" y1="167.9" x2="44.4" y2="167.9" stroke="#000" stroke-width="1.2"/>
<line x1="41.8" y1="157.2" x2="44.4" y2="157.2" stroke="#000" stroke-width="0.95"/>
<line x1="41.8" y1="150.9" x2="44.4" y2="150.9" stroke="#000" stroke-width="0.95"/>
<line x1="41.8" y1="146.5" x2="44.4" y2="146.5" stroke="#000" stroke-width="0.95"/>
<line x1="41.8" y1="143" x2="44.4" y2="143" stroke="#000" stroke-width="0.95"/>
<line x1="41.8" y1="140.2" x2="44.4" y2="140.2" stroke="#000" stroke-width="0.95"/>
<line x1="41.8" y1="137.8" x2="44.4" y2="137.8" stroke="#000" stroke-width="0.95"/>
<line x1="41.8" y1="135.7" x2="44.4" y2="135.7" stroke="#000" stroke-width="0.95"/>
<line x1="41.8" y1="133.9" x2="44.4" y2="133.9" stroke="#000" stroke-width="0.95"/>
<line x1="40" y1="132.3" x2="44.4" y2="132.3" stroke="#000" stroke-width="1.2"/>
<line x1="41.8" y1="121.6" x2="44.4" y2="121.6" stroke="#000" stroke-width="0.95"/>
<line x1="41.8" y1="115.3" x2="44.4" y2="115.3" stroke="#000" stroke-width="0.95"/>
<line x1="41.8" y1="110.9" x2="44.4" y2="110.9" stroke="#000" stroke-width="0.95"/>
<line x1="41.8" y1="107.4" x2="44.4" y2="107.4" stroke="#000" stroke-width="0.95"/>
<line x1="41.8" y1="104.6" x2="44.4" y2="104.6" stroke="#000" stroke-width="0.95"/>
<line x1="41.8" y1="102.2" x2="44.4" y2="102.2" stroke="#000" stroke-width="0.95"/>
<line x1="41.8" y1="100.1" x2="44.4" y2="100.1" stroke="#000" stroke-width="0.95"/>
<line x1="41.8" y1="98.3" x2="44.4" y2="98.3" stroke="#000" stroke-width="0.95"/>
<line x1="40" y1="96.7" x2="44.4" y2="96.7" stroke="#000" stroke-width="1.2"/>
<line x1="41.8" y1="86" x2="44.4" y2="86" stroke="#000" stroke-width="0.95"/>
<line x1="41.8" y1="79.7" x2="44.4" y2="79.7" stroke="#000" stroke-width="0.95"/>
<line x1="41.8" y1="75.3" x2="44.4" y2="75.3" stroke="#000" stroke-width="0.95"/>
<line x1="41.8" y1="71.8" x2="44.4" y2="71.8" stroke="#000" stroke-width="0.95"/>
<line x1="41.8" y1="69" x2="44.4" y2="69" stroke="#000" stroke-width="0.95"/>
<line x1="41.8" y1="66.6" x2="44.4" y2="66.6" stroke="#000" stroke-width="0.95"/>
<line x1="41.8" y1="64.5" x2="44.4" y2="64.5" stroke="#000" stroke-width="0.95"/>
<line x1="41.8" y1="62.7" x2="44.4" y2="62.7" stroke="#000" stroke-width="0.95"/>
<line x1="40" y1="61.1" x2="44.4" y2="61.1" stroke="#000" stroke-width="1.2"/>
<line x1="41.8" y1="50.4" x2="44.4" y2="50.4" stroke="#000" stroke-width="0.95"/>
<line x1="41.8" y1="44.1" x2="44.4" y2="44.1" stroke="#000" stroke-width="0.95"/>
<line x1="41.8" y1="39.7" x2="44.4" y2="39.7" stroke="#000" stroke-width="0.95"/>
<line x1="41.8" y1="36.2" x2="44.4" y2="36.2" stroke="#000" stroke-width="0.95"/>
<line x1="41.8" y1="33.4" x2="44.4" y2="33.4" stroke="#000" stroke-width="0.95"/>
<line x1="41.8" y1="31" x2="44.4" y2="31" stroke="#000" stroke-width="0.95"/>
<line x1="41.8" y1="28.9" x2="44.4" y2="28.9" stroke="#000" stroke-width="0.95"/>
<line x1="41.8" y1="27.1" x2="44.4" y2="27.1" stroke="#000" stroke-width="0.95"/>
<line x1="40" y1="25.5" x2="44.4" y2="25.5" stroke="#000" stroke-width="1.2"/>
<line x1="41.8" y1="14.8" x2="44.4" y2="14.8" stroke="#000" stroke-width="0.95"/>
<line x1="41.8" y1="8.5" x2="44.4" y2="8.5" stroke="#000" stroke-width="0.95"/>
<line x1="41.8" y1="192.8" x2="44.4" y2="192.8" stroke="#000" stroke-width="0.95"/>
<line x1="41.8" y1="186.5" x2="44.4" y2="186.5" stroke="#000" stroke-width="0.95"/>
<line x1="41.8" y1="182.1" x2="44.4" y2="182.1" stroke="#000" stroke-width="0.95"/>
<line x1="41.8" y1="178.6" x2="44.4" y2="178.6" stroke="#000" stroke-width="0.95"/>
<line x1="41.8" y1="175.8" x2="44.4" y2="175.8" stroke="#000" stroke-width="0.95"/>
<line x1="41.8" y1="173.4" x2="44.4" y2="173.4" stroke="#000" stroke-width="0.95"/>
<line x1="41.8" y1="171.3" x2="44.4" y2="171.3" stroke="#000" stroke-width="0.95"/>
<line x1="41.8" y1="169.5" x2="44.4" y2="169.5" stroke="#000" stroke-width="0.95"/>
<text x="37.4" y="170.9" font-size="9.0" font-weight="bold" text-anchor="end">10<tspan font-size="6.3" dy="-3.6">-6</tspan></text>
<text x="37.4" y="135.3" font-size="9.0" font-weight="bold" text-anchor="end">10<tspan font-size="6.3" dy="-3.6">-5</tspan></text>
<text x="37.4" y="99.7" font-size="9.0" font-weight="bold" text-anchor="end">10<tspan font-size="6.3" dy="-3.6">-4</tspan></text>
<text x="37.4" y="64.1" font-size="9.0" font-weight="bold" text-anchor="end">10<tspan font-size="6.3" dy="-3.6">-3</tspan></text>
<text x="37.4" y="28.5" font-size="9.0" font-weight="bold" text-anchor="end">10<tspan font-size="6.3" dy="-3.6">-2</tspan></text>
<rect x="44.4" y="4" width="264" height="195" fill="none" stroke="#000" stroke-width="1.4"/>
<text x="1" y="15.6" font-size="18.5" font-weight="bold">(a)</text>
<text transform="translate(14.2 102.4) rotate(-90)" font-size="12.5" font-weight="bold" text-anchor="middle">Current (A)</text>
<text x="176.4" y="228.5" font-size="12.5" text-anchor="middle" font-weight="bold" textLength="42.5" lengthAdjust="spacingAndGlyphs">Time (s)</text>
<text x="66.5" y="116.6" font-size="10.4" font-weight="bold" textLength="30.2" lengthAdjust="spacingAndGlyphs">250 <tspan font-size="6.5" dy="-4.6">o</tspan><tspan dy="4.6">C</tspan></text>
<text x="114.2" y="109.9" font-size="10.4" font-weight="bold" textLength="30.2" lengthAdjust="spacingAndGlyphs">300 <tspan font-size="6.5" dy="-4.6">o</tspan><tspan dy="4.6">C</tspan></text>
<text x="163.6" y="106.5" font-size="10.4" font-weight="bold" textLength="30.2" lengthAdjust="spacingAndGlyphs">350 <tspan font-size="6.5" dy="-4.6">o</tspan><tspan dy="4.6">C</tspan></text>
<text x="212.1" y="106.3" font-size="10.4" font-weight="bold" textLength="30.2" lengthAdjust="spacingAndGlyphs">400 <tspan font-size="6.5" dy="-4.6">o</tspan><tspan dy="4.6">C</tspan></text>
<text x="259.8" y="105.9" font-size="10.4" font-weight="bold" textLength="30.2" lengthAdjust="spacingAndGlyphs">450 <tspan font-size="6.5" dy="-4.6">o</tspan><tspan dy="4.6">C</tspan></text>
<rect x="46.1" y="7.2" width="117.9" height="43.5" fill="#fff" stroke="#777" stroke-width="0.9"/>
<line x1="52" y1="18.5" x2="74.3" y2="18.5" stroke="#ff10f0" stroke-width="1.5"/>
<circle cx="63.1" cy="18.5" r="2.1" fill="#ff10f0"/>
<circle cx="63.1" cy="18.5" r="0.9450000000000001" fill="#ff90f8"/>
<line x1="52" y1="37.9" x2="74.3" y2="37.9" stroke="#0a8282" stroke-width="1.5"/>
<circle cx="63.1" cy="37.9" r="2.1" fill="#077070"/>
<circle cx="63.1" cy="37.9" r="0.9450000000000001" fill="#48aaaa"/>
<text x="77" y="21.9" font-size="12" font-weight="bold">TiO<tspan font-size="7.4" dy="3.6">2</tspan></text>
<text x="77" y="41.3" font-size="12" font-weight="bold" textLength="82" lengthAdjust="spacingAndGlyphs">TiO<tspan font-size="7.4" dy="3.6">2</tspan><tspan dy="-3.6">/Ag</tspan><tspan font-size="7.4" dy="3.6">0.35</tspan><tspan dy="-3.6">V</tspan><tspan font-size="7.4" dy="3.6">2</tspan><tspan dy="-3.6">O</tspan><tspan font-size="7.4" dy="3.6">5</tspan></text>
<path d="M44.4 410.6 45.1 413.6 45.8 409.7 46.5 411.1 47.2 411.5 47.9 412.8 48.6 412.8 49.3 412.2 50 410.4 50.6 410.3 51.3 409.2 52 413.4 52.7 412.3 53.4 412.8 54.1 409.3 54.8 410.9 55.5 412.9 56.2 411.8 56.9 409.1 57.6 411.1 58.3 413.6 59 409.7 59.7 409.4 60.4 410.1 61.1 412.5 61.7 413.4 62.4 409.2 63.1 409.2 63.8 409.8 64.5 410.3 65.2 411.4 65.9 409.3 66.6 410.3 67.3 409.4 68 414.2 68.7 412.7 69.4 404.2 70.1 391.9 70.8 389.8 71.5 388.1 72.2 387.7 72.8 386.9 73.5 386.5 74.2 387.2 74.9 386.9 75.6 386.8 76.3 386.9 77 387 77.7 386.7 78.4 387.1 79.1 386.5 79.8 387.2 80.5 387 81.2 387 81.9 386.8 82.6 386.9 83.3 386.7 83.9 387 84.6 386.6 85.3 386.8 86 386.7 86.7 387.2 87.4 387 88.1 386.7 88.8 387.3 89.5 386.8 90.2 387.1 90.9 386.8 91.6 386.9 92.3 387 93 386.9 93.7 388.2 94.4 391.3 95 394.5 95.7 398.5 96.4 403.3 97.1 402.8 97.8 407.2 98.5 409.3 99.2 411 99.9 408.4 100.6 411.2 101.3 410 102 411.6 102.7 408.1 103.4 411.5 104.1 410.6 104.8 410.2 105.5 412.6 106.2 410.6 106.8 411.7 107.5 408.6 108.2 407.6 108.9 408.9 109.6 408.4 110.3 408.3 111 407.9 111.7 411.1 112.4 408.3 113.1 409.7 113.8 410.6 114.5 409 115.2 411.9 115.9 411.8 116.6 394.9 117.3 380.4 117.9 375.8 118.6 374.9 119.3 373.2 120 372.6 120.7 373 121.4 372.2 122.1 372.8 122.8 372.8 123.5 372.7 124.2 372.8 124.9 372.7 125.6 372.6 126.3 372.6 127 372.8 127.7 372.2 128.4 372 129 372 129.7 372 130.4 372.4 131.1 372.8 131.8 372.7 132.5 372.5 133.2 372.7 133.9 372.3 134.6 372 135.3 372.5 136 372.5 136.7 372.8 137.4 372.9 138.1 372.4 138.8 371.9 139.5 372.5 140.1 372.6 140.8 376.4 141.5 381.8 142.2 387.1 142.9 393.6 143.6 398.6 144.3 404.4 145 407.9 145.7 413.8 146.4 412.8 147.1 409.9 147.8 411.5 148.5 412.7 149.2 412.3 149.9 411.3 150.6 409.8 151.2 409.1 151.9 411.7 152.6 412.7 153.3 411.7 154 411.8 154.7 411.6 155.4 409.3 156.1 410.7 156.8 408.6 157.5 408.2 158.2 413.5 158.9 410.2 159.6 412.7 160.3 409.5 161 410.5 161.7 410.6 162.4 413.6 163 411.4 163.7 408.7 164.4 411.5 165.1 391.5 165.8 372.7 166.5 368.5 167.2 365.6 167.9 364 168.6 363.4 169.3 362.9 170 363.4 170.7 363.6 171.4 363.4 172.1 362.5 172.8 362.8 173.5 362.7 174.1 363.3 174.8 363.4 175.5 362.6 176.2 363.2 176.9 363.4 177.6 363.5 178.3 362.5 179 363.2 179.7 362.6 180.4 363.2 181.1 363.4 181.8 362.6 182.5 363.1 183.2 363.2 183.9 363.3 184.6 363.1 185.2 362.9 185.9 363.3 186.6 363.3 187.3 362.8 188 363.5 188.7 363.3 189.4 366.2 190.1 372.2 190.8 378.4 191.5 387.6 192.2 394.8 192.9 403 193.6 405.8 194.3 409.5 195 411.4 195.7 413.2 196.3 412.9 197 413.1 197.7 409.5 198.4 412.7 199.1 413.4 199.8 408.4 200.5 412.7 201.2 412.4 201.9 409.3 202.6 412 203.3 409.1 204 412.4 204.7 410.7 205.4 412.7 206.1 409.3 206.8 413.3 207.4 411 208.1 411.4 208.8 409.1 209.5 412.1 210.2 411.3 210.9 411 211.6 408.2 212.3 410.1 213 372.5 213.7 365.6 214.4 362.7 215.1 360.8 215.8 360.9 216.5 360 217.2 359.5 217.9 359.6 218.6 359.8 219.2 360 219.9 359.1 220.6 359.2 221.3 359.1 222 359.9 222.7 359.9 223.4 359.1 224.1 359.4 224.8 360 225.5 359.6 226.2 360 226.9 359.4 227.6 359.2 228.3 360 229 359 229.7 359.4 230.3 359.9 231 359 231.7 359.7 232.4 360 233.1 359.1 233.8 359.9 234.5 359.3 235.2 359.8 235.9 360.1 236.6 365 237.3 371.4 238 378.9 238.7 386.3 239.4 394.7 240.1 405.2 240.8 411.2 241.4 413 242.1 410.4 242.8 413.3 243.5 411.5 244.2 409.7 244.9 410.6 245.6 408.6 246.3 408 247 411 247.7 412.9 248.4 410.2 249.1 409.3 249.8 409.7 250.5 410.6 251.2 413.1 251.9 413.6 252.5 413.1 253.2 409 253.9 409.4 254.6 408.9 255.3 413.6 256 413.3 256.7 409.4 257.4 408 258.1 409.5 258.8 407.8 259.5 409.7 260.2 407.7 260.9 375.2 261.6 366.1 262.3 361.9 263 359.8 263.6 359.4 264.3 358.3 265 357.9 265.7 358.2 266.4 357.8 267.1 358.2 267.8 358.1 268.5 357.6 269.2 357.9 269.9 357.6 270.6 357.8 271.3 358.4 272 357.5 272.7 358 273.4 357.8 274.1 358.3 274.7 357.7 275.4 358.1 276.1 358 276.8 358 277.5 358.2 278.2 358.4 278.9 358.2 279.6 358.3 280.3 358.4 281 358 281.7 358 282.4 357.5 283.1 357.7 283.8 357.6 284.5 360.3 285.2 365.6 285.9 372.6 286.5 381.5 287.2 389.6 287.9 395.5 288.6 405.2 289.3 406.9 290 409.6 290.7 407.3 291.4 407.4 292.1 411.8 292.8 410 293.5 407.6 294.2 412.2 294.9 409.1 295.6 409.8 296.3 412.2 297 408.6 297.6 408.6 298.3 412.5 299 412.1 299.7 411.7 300.4 409.7 301.1 412.2 301.8 409.1 302.5 408.8 303.2 407 303.9 409.6 304.6 407.4 305.3 411.3 306 410.4 306.7 411.9 307.4 406.8" stroke="#0a8282" stroke-width="0.9" fill="none" stroke-linejoin="round"/>
<path d="M44.4 410.6h0M45.1 413.6h0M45.8 409.7h0M46.5 411.1h0M47.2 411.5h0M47.9 412.8h0M48.6 412.8h0M49.3 412.2h0M50 410.4h0M50.6 410.3h0M51.3 409.2h0M52 413.4h0M52.7 412.3h0M53.4 412.8h0M54.1 409.3h0M54.8 410.9h0M55.5 412.9h0M56.2 411.8h0M56.9 409.1h0M57.6 411.1h0M58.3 413.6h0M59 409.7h0M59.7 409.4h0M60.4 410.1h0M61.1 412.5h0M61.7 413.4h0M62.4 409.2h0M63.1 409.2h0M63.8 409.8h0M64.5 410.3h0M65.2 411.4h0M65.9 409.3h0M66.6 410.3h0M67.3 409.4h0M68 414.2h0M68.7 412.7h0M69.4 404.2h0M70.1 391.9h0M70.8 389.8h0M71.5 388.1h0M72.2 387.7h0M72.8 386.9h0M73.5 386.5h0M74.2 387.2h0M74.9 386.9h0M75.6 386.8h0M76.3 386.9h0M77 387h0M77.7 386.7h0M78.4 387.1h0M79.1 386.5h0M79.8 387.2h0M80.5 387h0M81.2 387h0M81.9 386.8h0M82.6 386.9h0M83.3 386.7h0M83.9 387h0M84.6 386.6h0M85.3 386.8h0M86 386.7h0M86.7 387.2h0M87.4 387h0M88.1 386.7h0M88.8 387.3h0M89.5 386.8h0M90.2 387.1h0M90.9 386.8h0M91.6 386.9h0M92.3 387h0M93 386.9h0M93.7 388.2h0M94.4 391.3h0M95 394.5h0M95.7 398.5h0M96.4 403.3h0M97.1 402.8h0M97.8 407.2h0M98.5 409.3h0M99.2 411h0M99.9 408.4h0M100.6 411.2h0M101.3 410h0M102 411.6h0M102.7 408.1h0M103.4 411.5h0M104.1 410.6h0M104.8 410.2h0M105.5 412.6h0M106.2 410.6h0M106.8 411.7h0M107.5 408.6h0M108.2 407.6h0M108.9 408.9h0M109.6 408.4h0M110.3 408.3h0M111 407.9h0M111.7 411.1h0M112.4 408.3h0M113.1 409.7h0M113.8 410.6h0M114.5 409h0M115.2 411.9h0M115.9 411.8h0M116.6 394.9h0M117.3 380.4h0M117.9 375.8h0M118.6 374.9h0M119.3 373.2h0M120 372.6h0M120.7 373h0M121.4 372.2h0M122.1 372.8h0M122.8 372.8h0M123.5 372.7h0M124.2 372.8h0M124.9 372.7h0M125.6 372.6h0M126.3 372.6h0M127 372.8h0M127.7 372.2h0M128.4 372h0M129 372h0M129.7 372h0M130.4 372.4h0M131.1 372.8h0M131.8 372.7h0M132.5 372.5h0M133.2 372.7h0M133.9 372.3h0M134.6 372h0M135.3 372.5h0M136 372.5h0M136.7 372.8h0M137.4 372.9h0M138.1 372.4h0M138.8 371.9h0M139.5 372.5h0M140.1 372.6h0M140.8 376.4h0M141.5 381.8h0M142.2 387.1h0M142.9 393.6h0M143.6 398.6h0M144.3 404.4h0M145 407.9h0M145.7 413.8h0M146.4 412.8h0M147.1 409.9h0M147.8 411.5h0M148.5 412.7h0M149.2 412.3h0M149.9 411.3h0M150.6 409.8h0M151.2 409.1h0M151.9 411.7h0M152.6 412.7h0M153.3 411.7h0M154 411.8h0M154.7 411.6h0M155.4 409.3h0M156.1 410.7h0M156.8 408.6h0M157.5 408.2h0M158.2 413.5h0M158.9 410.2h0M159.6 412.7h0M160.3 409.5h0M161 410.5h0M161.7 410.6h0M162.4 413.6h0M163 411.4h0M163.7 408.7h0M164.4 411.5h0M165.1 391.5h0M165.8 372.7h0M166.5 368.5h0M167.2 365.6h0M167.9 364h0M168.6 363.4h0M169.3 362.9h0M170 363.4h0M170.7 363.6h0M171.4 363.4h0M172.1 362.5h0M172.8 362.8h0M173.5 362.7h0M174.1 363.3h0M174.8 363.4h0M175.5 362.6h0M176.2 363.2h0M176.9 363.4h0M177.6 363.5h0M178.3 362.5h0M179 363.2h0M179.7 362.6h0M180.4 363.2h0M181.1 363.4h0M181.8 362.6h0M182.5 363.1h0M183.2 363.2h0M183.9 363.3h0M184.6 363.1h0M185.2 362.9h0M185.9 363.3h0M186.6 363.3h0M187.3 362.8h0M188 363.5h0M188.7 363.3h0M189.4 366.2h0M190.1 372.2h0M190.8 378.4h0M191.5 387.6h0M192.2 394.8h0M192.9 403h0M193.6 405.8h0M194.3 409.5h0M195 411.4h0M195.7 413.2h0M196.3 412.9h0M197 413.1h0M197.7 409.5h0M198.4 412.7h0M199.1 413.4h0M199.8 408.4h0M200.5 412.7h0M201.2 412.4h0M201.9 409.3h0M202.6 412h0M203.3 409.1h0M204 412.4h0M204.7 410.7h0M205.4 412.7h0M206.1 409.3h0M206.8 413.3h0M207.4 411h0M208.1 411.4h0M208.8 409.1h0M209.5 412.1h0M210.2 411.3h0M210.9 411h0M211.6 408.2h0M212.3 410.1h0M213 372.5h0M213.7 365.6h0M214.4 362.7h0M215.1 360.8h0M215.8 360.9h0M216.5 360h0M217.2 359.5h0M217.9 359.6h0M218.6 359.8h0M219.2 360h0M219.9 359.1h0M220.6 359.2h0M221.3 359.1h0M222 359.9h0M222.7 359.9h0M223.4 359.1h0M224.1 359.4h0M224.8 360h0M225.5 359.6h0M226.2 360h0M226.9 359.4h0M227.6 359.2h0M228.3 360h0M229 359h0M229.7 359.4h0M230.3 359.9h0M231 359h0M231.7 359.7h0M232.4 360h0M233.1 359.1h0M233.8 359.9h0M234.5 359.3h0M235.2 359.8h0M235.9 360.1h0M236.6 365h0M237.3 371.4h0M238 378.9h0M238.7 386.3h0M239.4 394.7h0M240.1 405.2h0M240.8 411.2h0M241.4 413h0M242.1 410.4h0M242.8 413.3h0M243.5 411.5h0M244.2 409.7h0M244.9 410.6h0M245.6 408.6h0M246.3 408h0M247 411h0M247.7 412.9h0M248.4 410.2h0M249.1 409.3h0M249.8 409.7h0M250.5 410.6h0M251.2 413.1h0M251.9 413.6h0M252.5 413.1h0M253.2 409h0M253.9 409.4h0M254.6 408.9h0M255.3 413.6h0M256 413.3h0M256.7 409.4h0M257.4 408h0M258.1 409.5h0M258.8 407.8h0M259.5 409.7h0M260.2 407.7h0M260.9 375.2h0M261.6 366.1h0M262.3 361.9h0M263 359.8h0M263.6 359.4h0M264.3 358.3h0M265 357.9h0M265.7 358.2h0M266.4 357.8h0M267.1 358.2h0M267.8 358.1h0M268.5 357.6h0M269.2 357.9h0M269.9 357.6h0M270.6 357.8h0M271.3 358.4h0M272 357.5h0M272.7 358h0M273.4 357.8h0M274.1 358.3h0M274.7 357.7h0M275.4 358.1h0M276.1 358h0M276.8 358h0M277.5 358.2h0M278.2 358.4h0M278.9 358.2h0M279.6 358.3h0M280.3 358.4h0M281 358h0M281.7 358h0M282.4 357.5h0M283.1 357.7h0M283.8 357.6h0M284.5 360.3h0M285.2 365.6h0M285.9 372.6h0M286.5 381.5h0M287.2 389.6h0M287.9 395.5h0M288.6 405.2h0M289.3 406.9h0M290 409.6h0M290.7 407.3h0M291.4 407.4h0M292.1 411.8h0M292.8 410h0M293.5 407.6h0M294.2 412.2h0M294.9 409.1h0M295.6 409.8h0M296.3 412.2h0M297 408.6h0M297.6 408.6h0M298.3 412.5h0M299 412.1h0M299.7 411.7h0M300.4 409.7h0M301.1 412.2h0M301.8 409.1h0M302.5 408.8h0M303.2 407h0M303.9 409.6h0M304.6 407.4h0M305.3 411.3h0M306 410.4h0M306.7 411.9h0M307.4 406.8h0" stroke="#077070" stroke-width="3.4" stroke-linecap="round" fill="none"/>
<path d="M44.4 410.6h0M45.1 413.6h0M45.8 409.7h0M46.5 411.1h0M47.2 411.5h0M47.9 412.8h0M48.6 412.8h0M49.3 412.2h0M50 410.4h0M50.6 410.3h0M51.3 409.2h0M52 413.4h0M52.7 412.3h0M53.4 412.8h0M54.1 409.3h0M54.8 410.9h0M55.5 412.9h0M56.2 411.8h0M56.9 409.1h0M57.6 411.1h0M58.3 413.6h0M59 409.7h0M59.7 409.4h0M60.4 410.1h0M61.1 412.5h0M61.7 413.4h0M62.4 409.2h0M63.1 409.2h0M63.8 409.8h0M64.5 410.3h0M65.2 411.4h0M65.9 409.3h0M66.6 410.3h0M67.3 409.4h0M68 414.2h0M68.7 412.7h0M69.4 404.2h0M70.1 391.9h0M70.8 389.8h0M71.5 388.1h0M72.2 387.7h0M72.8 386.9h0M73.5 386.5h0M74.2 387.2h0M74.9 386.9h0M75.6 386.8h0M76.3 386.9h0M77 387h0M77.7 386.7h0M78.4 387.1h0M79.1 386.5h0M79.8 387.2h0M80.5 387h0M81.2 387h0M81.9 386.8h0M82.6 386.9h0M83.3 386.7h0M83.9 387h0M84.6 386.6h0M85.3 386.8h0M86 386.7h0M86.7 387.2h0M87.4 387h0M88.1 386.7h0M88.8 387.3h0M89.5 386.8h0M90.2 387.1h0M90.9 386.8h0M91.6 386.9h0M92.3 387h0M93 386.9h0M93.7 388.2h0M94.4 391.3h0M95 394.5h0M95.7 398.5h0M96.4 403.3h0M97.1 402.8h0M97.8 407.2h0M98.5 409.3h0M99.2 411h0M99.9 408.4h0M100.6 411.2h0M101.3 410h0M102 411.6h0M102.7 408.1h0M103.4 411.5h0M104.1 410.6h0M104.8 410.2h0M105.5 412.6h0M106.2 410.6h0M106.8 411.7h0M107.5 408.6h0M108.2 407.6h0M108.9 408.9h0M109.6 408.4h0M110.3 408.3h0M111 407.9h0M111.7 411.1h0M112.4 408.3h0M113.1 409.7h0M113.8 410.6h0M114.5 409h0M115.2 411.9h0M115.9 411.8h0M116.6 394.9h0M117.3 380.4h0M117.9 375.8h0M118.6 374.9h0M119.3 373.2h0M120 372.6h0M120.7 373h0M121.4 372.2h0M122.1 372.8h0M122.8 372.8h0M123.5 372.7h0M124.2 372.8h0M124.9 372.7h0M125.6 372.6h0M126.3 372.6h0M127 372.8h0M127.7 372.2h0M128.4 372h0M129 372h0M129.7 372h0M130.4 372.4h0M131.1 372.8h0M131.8 372.7h0M132.5 372.5h0M133.2 372.7h0M133.9 372.3h0M134.6 372h0M135.3 372.5h0M136 372.5h0M136.7 372.8h0M137.4 372.9h0M138.1 372.4h0M138.8 371.9h0M139.5 372.5h0M140.1 372.6h0M140.8 376.4h0M141.5 381.8h0M142.2 387.1h0M142.9 393.6h0M143.6 398.6h0M144.3 404.4h0M145 407.9h0M145.7 413.8h0M146.4 412.8h0M147.1 409.9h0M147.8 411.5h0M148.5 412.7h0M149.2 412.3h0M149.9 411.3h0M150.6 409.8h0M151.2 409.1h0M151.9 411.7h0M152.6 412.7h0M153.3 411.7h0M154 411.8h0M154.7 411.6h0M155.4 409.3h0M156.1 410.7h0M156.8 408.6h0M157.5 408.2h0M158.2 413.5h0M158.9 410.2h0M159.6 412.7h0M160.3 409.5h0M161 410.5h0M161.7 410.6h0M162.4 413.6h0M163 411.4h0M163.7 408.7h0M164.4 411.5h0M165.1 391.5h0M165.8 372.7h0M166.5 368.5h0M167.2 365.6h0M167.9 364h0M168.6 363.4h0M169.3 362.9h0M170 363.4h0M170.7 363.6h0M171.4 363.4h0M172.1 362.5h0M172.8 362.8h0M173.5 362.7h0M174.1 363.3h0M174.8 363.4h0M175.5 362.6h0M176.2 363.2h0M176.9 363.4h0M177.6 363.5h0M178.3 362.5h0M179 363.2h0M179.7 362.6h0M180.4 363.2h0M181.1 363.4h0M181.8 362.6h0M182.5 363.1h0M183.2 363.2h0M183.9 363.3h0M184.6 363.1h0M185.2 362.9h0M185.9 363.3h0M186.6 363.3h0M187.3 362.8h0M188 363.5h0M188.7 363.3h0M189.4 366.2h0M190.1 372.2h0M190.8 378.4h0M191.5 387.6h0M192.2 394.8h0M192.9 403h0M193.6 405.8h0M194.3 409.5h0M195 411.4h0M195.7 413.2h0M196.3 412.9h0M197 413.1h0M197.7 409.5h0M198.4 412.7h0M199.1 413.4h0M199.8 408.4h0M200.5 412.7h0M201.2 412.4h0M201.9 409.3h0M202.6 412h0M203.3 409.1h0M204 412.4h0M204.7 410.7h0M205.4 412.7h0M206.1 409.3h0M206.8 413.3h0M207.4 411h0M208.1 411.4h0M208.8 409.1h0M209.5 412.1h0M210.2 411.3h0M210.9 411h0M211.6 408.2h0M212.3 410.1h0M213 372.5h0M213.7 365.6h0M214.4 362.7h0M215.1 360.8h0M215.8 360.9h0M216.5 360h0M217.2 359.5h0M217.9 359.6h0M218.6 359.8h0M219.2 360h0M219.9 359.1h0M220.6 359.2h0M221.3 359.1h0M222 359.9h0M222.7 359.9h0M223.4 359.1h0M224.1 359.4h0M224.8 360h0M225.5 359.6h0M226.2 360h0M226.9 359.4h0M227.6 359.2h0M228.3 360h0M229 359h0M229.7 359.4h0M230.3 359.9h0M231 359h0M231.7 359.7h0M232.4 360h0M233.1 359.1h0M233.8 359.9h0M234.5 359.3h0M235.2 359.8h0M235.9 360.1h0M236.6 365h0M237.3 371.4h0M238 378.9h0M238.7 386.3h0M239.4 394.7h0M240.1 405.2h0M240.8 411.2h0M241.4 413h0M242.1 410.4h0M242.8 413.3h0M243.5 411.5h0M244.2 409.7h0M244.9 410.6h0M245.6 408.6h0M246.3 408h0M247 411h0M247.7 412.9h0M248.4 410.2h0M249.1 409.3h0M249.8 409.7h0M250.5 410.6h0M251.2 413.1h0M251.9 413.6h0M252.5 413.1h0M253.2 409h0M253.9 409.4h0M254.6 408.9h0M255.3 413.6h0M256 413.3h0M256.7 409.4h0M257.4 408h0M258.1 409.5h0M258.8 407.8h0M259.5 409.7h0M260.2 407.7h0M260.9 375.2h0M261.6 366.1h0M262.3 361.9h0M263 359.8h0M263.6 359.4h0M264.3 358.3h0M265 357.9h0M265.7 358.2h0M266.4 357.8h0M267.1 358.2h0M267.8 358.1h0M268.5 357.6h0M269.2 357.9h0M269.9 357.6h0M270.6 357.8h0M271.3 358.4h0M272 357.5h0M272.7 358h0M273.4 357.8h0M274.1 358.3h0M274.7 357.7h0M275.4 358.1h0M276.1 358h0M276.8 358h0M277.5 358.2h0M278.2 358.4h0M278.9 358.2h0M279.6 358.3h0M280.3 358.4h0M281 358h0M281.7 358h0M282.4 357.5h0M283.1 357.7h0M283.8 357.6h0M284.5 360.3h0M285.2 365.6h0M285.9 372.6h0M286.5 381.5h0M287.2 389.6h0M287.9 395.5h0M288.6 405.2h0M289.3 406.9h0M290 409.6h0M290.7 407.3h0M291.4 407.4h0M292.1 411.8h0M292.8 410h0M293.5 407.6h0M294.2 412.2h0M294.9 409.1h0M295.6 409.8h0M296.3 412.2h0M297 408.6h0M297.6 408.6h0M298.3 412.5h0M299 412.1h0M299.7 411.7h0M300.4 409.7h0M301.1 412.2h0M301.8 409.1h0M302.5 408.8h0M303.2 407h0M303.9 409.6h0M304.6 407.4h0M305.3 411.3h0M306 410.4h0M306.7 411.9h0M307.4 406.8h0" stroke="#0a8282" stroke-width="2" stroke-linecap="round" fill="none"/>
<path d="M44.1 410.3h0M44.8 413.4h0M45.5 409.5h0M46.2 410.8h0M46.9 411.2h0M47.6 412.6h0M48.3 412.6h0M49 411.9h0M49.7 410.1h0M50.4 410h0M51.1 409h0M51.8 413.1h0M52.5 412h0M53.2 412.5h0M53.9 409.1h0M54.6 410.7h0M55.3 412.7h0M55.9 411.5h0M56.6 408.8h0M57.3 410.8h0M58 413.4h0M58.7 409.5h0M59.4 409.2h0M60.1 409.9h0M60.8 412.3h0M61.5 413.1h0M62.2 409h0M62.9 409h0M63.6 409.5h0M64.3 410h0M65 411.2h0M65.7 409h0M66.4 410h0M67 409.2h0M67.7 413.9h0M68.4 412.4h0M69.1 404h0M69.8 391.7h0M70.5 389.5h0M71.2 387.9h0M71.9 387.4h0M72.6 386.6h0M73.3 386.3h0M74 386.9h0M74.7 386.6h0M75.4 386.5h0M76.1 386.7h0M76.8 386.8h0M77.5 386.5h0M78.1 386.8h0M78.8 386.3h0M79.5 386.9h0M80.2 386.8h0M80.9 386.7h0M81.6 386.5h0M82.3 386.7h0M83 386.5h0M83.7 386.8h0M84.4 386.3h0M85.1 386.5h0M85.8 386.5h0M86.5 387h0M87.2 386.7h0M87.9 386.4h0M88.6 387h0M89.2 386.6h0M89.9 386.8h0M90.6 386.6h0M91.3 386.6h0M92 386.8h0M92.7 386.7h0M93.4 387.9h0M94.1 391.1h0M94.8 394.2h0M95.5 398.3h0M96.2 403.1h0M96.9 402.6h0M97.6 407h0M98.3 409.1h0M99 410.7h0M99.7 408.1h0M100.3 411h0M101 409.7h0M101.7 411.4h0M102.4 407.8h0M103.1 411.2h0M103.8 410.4h0M104.5 409.9h0M105.2 412.3h0M105.9 410.4h0M106.6 411.4h0M107.3 408.3h0M108 407.3h0M108.7 408.7h0M109.4 408.2h0M110.1 408.1h0M110.8 407.7h0M111.5 410.9h0M112.1 408h0M112.8 409.4h0M113.5 410.4h0M114.2 408.7h0M114.9 411.7h0M115.6 411.5h0M116.3 394.7h0M117 380.1h0M117.7 375.6h0M118.4 374.6h0M119.1 373h0M119.8 372.3h0M120.5 372.7h0M121.2 371.9h0M121.9 372.5h0M122.6 372.6h0M123.2 372.5h0M123.9 372.6h0M124.6 372.5h0M125.3 372.3h0M126 372.4h0M126.7 372.5h0M127.4 371.9h0M128.1 371.8h0M128.8 371.7h0M129.5 371.8h0M130.2 372.1h0M130.9 372.5h0M131.6 372.5h0M132.3 372.2h0M133 372.5h0M133.7 372.1h0M134.3 371.7h0M135 372.3h0M135.7 372.3h0M136.4 372.6h0M137.1 372.6h0M137.8 372.1h0M138.5 371.7h0M139.2 372.3h0M139.9 372.4h0M140.6 376.1h0M141.3 381.5h0M142 386.8h0M142.7 393.3h0M143.4 398.4h0M144.1 404.2h0M144.8 407.7h0M145.4 413.6h0M146.1 412.5h0M146.8 409.7h0M147.5 411.3h0M148.2 412.5h0M148.9 412.1h0M149.6 411h0M150.3 409.6h0M151 408.9h0M151.7 411.4h0M152.4 412.5h0M153.1 411.4h0M153.8 411.5h0M154.5 411.3h0M155.2 409h0M155.9 410.5h0M156.5 408.4h0M157.2 408h0M157.9 413.2h0M158.6 410h0M159.3 412.5h0M160 409.3h0M160.7 410.3h0M161.4 410.3h0M162.1 413.4h0M162.8 411.2h0M163.5 408.5h0M164.2 411.2h0M164.9 391.3h0M165.6 372.5h0M166.3 368.2h0M167 365.3h0M167.7 363.7h0M168.3 363.2h0M169 362.6h0M169.7 363.1h0M170.4 363.3h0M171.1 363.2h0M171.8 362.3h0M172.5 362.5h0M173.2 362.4h0M173.9 363h0M174.6 363.1h0M175.3 362.3h0M176 363h0M176.7 363.2h0M177.4 363.2h0M178.1 362.3h0M178.8 362.9h0M179.4 362.3h0M180.1 363h0M180.8 363.1h0M181.5 362.3h0M182.2 362.8h0M182.9 362.9h0M183.6 363h0M184.3 362.9h0M185 362.7h0M185.7 363h0M186.4 363h0M187.1 362.5h0M187.8 363.2h0M188.5 363.1h0M189.2 366h0M189.9 372h0M190.5 378.2h0M191.2 387.3h0M191.9 394.5h0M192.6 402.8h0M193.3 405.6h0M194 409.2h0M194.7 411.2h0M195.4 413h0M196.1 412.6h0M196.8 412.9h0M197.5 409.3h0M198.2 412.5h0M198.9 413.1h0M199.6 408.2h0M200.3 412.4h0M201 412.2h0M201.6 409.1h0M202.3 411.7h0M203 408.9h0M203.7 412.2h0M204.4 410.4h0M205.1 412.5h0M205.8 409h0M206.5 413h0M207.2 410.8h0M207.9 411.2h0M208.6 408.8h0M209.3 411.9h0M210 411h0M210.7 410.8h0M211.4 407.9h0M212.1 409.9h0M212.7 372.2h0M213.4 365.4h0M214.1 362.4h0M214.8 360.5h0M215.5 360.6h0M216.2 359.7h0M216.9 359.3h0M217.6 359.3h0M218.3 359.6h0M219 359.7h0M219.7 358.8h0M220.4 358.9h0M221.1 358.8h0M221.8 359.6h0M222.5 359.7h0M223.2 358.8h0M223.9 359.1h0M224.5 359.7h0M225.2 359.3h0M225.9 359.7h0M226.6 359.1h0M227.3 358.9h0M228 359.7h0M228.7 358.8h0M229.4 359.1h0M230.1 359.7h0M230.8 358.8h0M231.5 359.5h0M232.2 359.7h0M232.9 358.9h0M233.6 359.7h0M234.3 359h0M235 359.5h0M235.6 359.8h0M236.3 364.7h0M237 371.2h0M237.7 378.6h0M238.4 386.1h0M239.1 394.4h0M239.8 405h0M240.5 411h0M241.2 412.8h0M241.9 410.1h0M242.6 413h0M243.3 411.2h0M244 409.5h0M244.7 410.3h0M245.4 408.3h0M246.1 407.8h0M246.7 410.8h0M247.4 412.7h0M248.1 409.9h0M248.8 409.1h0M249.5 409.5h0M250.2 410.4h0M250.9 412.9h0M251.6 413.3h0M252.3 412.8h0M253 408.7h0M253.7 409.2h0M254.4 408.7h0M255.1 413.4h0M255.8 413h0M256.5 409.2h0M257.2 407.8h0M257.8 409.2h0M258.5 407.5h0M259.2 409.5h0M259.9 407.5h0M260.6 375h0M261.3 365.8h0M262 361.7h0M262.7 359.6h0M263.4 359.1h0M264.1 358h0M264.8 357.6h0M265.5 357.9h0M266.2 357.5h0M266.9 358h0M267.6 357.9h0M268.3 357.3h0M268.9 357.7h0M269.6 357.3h0M270.3 357.6h0M271 358.1h0M271.7 357.3h0M272.4 357.7h0M273.1 357.5h0M273.8 358.1h0M274.5 357.4h0M275.2 357.8h0M275.9 357.8h0M276.6 357.8h0M277.3 358h0M278 358.1h0M278.7 358h0M279.4 358h0M280.1 358.1h0M280.7 357.7h0M281.4 357.8h0M282.1 357.3h0M282.8 357.5h0M283.5 357.4h0M284.2 360h0M284.9 365.3h0M285.6 372.3h0M286.3 381.2h0M287 389.4h0M287.7 395.3h0M288.4 405h0M289.1 406.7h0M289.8 409.4h0M290.5 407.1h0M291.2 407.2h0M291.8 411.5h0M292.5 409.8h0M293.2 407.3h0M293.9 412h0M294.6 408.9h0M295.3 409.5h0M296 412h0M296.7 408.4h0M297.4 408.4h0M298.1 412.2h0M298.8 411.8h0M299.5 411.4h0M300.2 409.5h0M300.9 412h0M301.6 408.9h0M302.3 408.5h0M302.9 406.8h0M303.6 409.4h0M304.3 407.2h0M305 411h0M305.7 410.1h0M306.4 411.7h0M307.1 406.6h0" stroke="#48aaaa" stroke-width="0.8" stroke-linecap="round" fill="none"/>
<path d="M44.4 434.7 44.9 434.7 45.4 434.7 45.8 434.7 46.3 434.7 46.8 434.7 47.3 434.7 47.7 434.7 48.2 434.7 48.7 434.7 49.2 434.7 49.7 434.7 50.1 434.7 50.6 434.7 51.1 434.7 51.6 434.7 52.1 434.7 52.5 434.7 53 434.7 53.5 434.7 54 434.7 54.4 434.7 54.9 434.7 55.4 434.7 55.9 434.7 56.4 434.7 56.8 434.7 57.3 434.7 57.8 434.7 58.3 434.7 58.8 434.7 59.2 434.7 59.7 434.7 60.2 434.7 60.7 434.7 61.1 434.7 61.6 434.7 62.1 434.7 62.6 434.7 63.1 434.7 63.5 434.7 64 434.7 64.5 434.7 65 434.7 65.5 434.7 65.9 434.7 66.4 434.7 66.9 434.7 67.4 434.7 67.8 434.7 68.3 434.7 68.8 434.6 69.3 434.5 69.8 434.4 70.2 434.3 70.7 434.2 71.2 434 71.7 433.8 72.2 433.6 72.6 433.4 73.1 433.3 73.6 433.1 74.1 432.9 74.5 432.7 75 432.6 75.5 432.5 76 432.4 76.5 432.3 76.9 432.2 77.4 432.2 77.9 432.2 78.4 432.2 78.9 432.2 79.3 432.2 79.8 432.2 80.3 432.2 80.8 432.2 81.2 432.2 81.7 432.2 82.2 432.2 82.7 432.2 83.2 432.2 83.6 432.2 84.1 432.2 84.6 432.2 85.1 432.2 85.6 432.2 86 432.2 86.5 432.2 87 432.2 87.5 432.2 87.9 432.2 88.4 432.2 88.9 432.2 89.4 432.2 89.9 432.2 90.3 432.4 90.8 432.6 91.3 432.8 91.8 433.2 92.2 433.5 92.7 433.9 93.2 434.2 93.7 434.6 94.2 434.9 94.6 435.3 95.1 435.5 95.6 435.7 96.1 435.9 96.6 435.9 97 435.9 97.5 435.9 98 435.9 98.5 435.9 98.9 435.9 99.4 435.9 99.9 435.9 100.4 435.9 100.9 435.9 101.3 435.9 101.8 435.9 102.3 435.9 102.8 435.9 103.3 435.9 103.7 435.9 104.2 435.9 104.7 435.9 105.2 435.9 105.6 435.9 106.1 435.9 106.6 435.9 107.1 435.9 107.6 435.9 108 435.9 108.5 435.9 109 435.9 109.5 435.9 110 435.9 110.4 435.9 110.9 435.9 111.4 435.9 111.9 435.9 112.3 435.9 112.8 435.9 113.3 435.9 113.8 435.9 114.3 435.9 114.7 435.9 115.2 435.9 115.7 435.9 116.2 435.9 116.7 435.9 117.1 435.9 117.6 435.9 118.1 435.8 118.6 435.4 119 435 119.5 434.4 120 433.7 120.5 432.9 121 432 121.4 431.1 121.9 430.2 122.4 429.3 122.9 428.4 123.4 427.6 123.8 426.8 124.3 426.2 124.8 425.6 125.3 425.2 125.7 425 126.2 424.9 126.7 424.9 127.2 424.9 127.7 424.9 128.1 424.9 128.6 424.9 129.1 424.9 129.6 424.9 130.1 424.9 130.5 424.9 131 424.9 131.5 424.9 132 424.9 132.4 424.9 132.9 424.9 133.4 424.9 133.9 424.9 134.4 424.9 134.8 424.9 135.3 424.9 135.8 424.9 136.3 424.9 136.8 424.9 137.2 424.9 137.7 424.9 138.2 424.9 138.7 424.9 139.1 425 139.6 425.2 140.1 425.5 140.6 425.9 141.1 426.4 141.5 427 142 427.5 142.5 428.2 143 428.9 143.4 429.6 143.9 430.3 144.4 431 144.9 431.6 145.4 432.3 145.8 432.9 146.3 433.5 146.8 434 147.3 434.4 147.8 434.8 148.2 435 148.7 435.2 149.2 435.2 149.7 435.2 150.1 435.2 150.6 435.2 151.1 435.2 151.6 435.2 152.1 435.2 152.5 435.2 153 435.2 153.5 435.2 154 435.2 154.5 435.2 154.9 435.2 155.4 435.2 155.9 435.2 156.4 435.2 156.8 435.2 157.3 435.2 157.8 435.2 158.3 435.2 158.8 435.2 159.2 435.2 159.7 435.2 160.2 435.2 160.7 435.2 161.2 435.2 161.6 435.2 162.1 435.2 162.6 435.2 163.1 435.2 163.5 435.2 164 435.2 164.5 435 165 434.6 165.5 434 165.9 433.2 166.4 432.2 166.9 431.1 167.4 429.9 167.9 428.7 168.3 427.4 168.8 426.1 169.3 424.9 169.8 423.7 170.2 422.6 170.7 421.7 171.2 420.9 171.7 420.3 172.2 419.9 172.6 419.8 173.1 419.8 173.6 419.8 174.1 419.8 174.6 419.8 175 419.8 175.5 419.8 176 419.8 176.5 419.8 176.9 419.8 177.4 419.8 177.9 419.8 178.4 419.8 178.9 419.8 179.3 419.8 179.8 419.8 180.3 419.8 180.8 419.8 181.3 419.8 181.7 419.8 182.2 419.8 182.7 419.8 183.2 419.8 183.6 419.8 184.1 419.8 184.6 419.8 185.1 419.8 185.6 419.8 186 419.8 186.5 419.8 187 419.8 187.5 420 187.9 420.4 188.4 420.9 188.9 421.5 189.4 422.3 189.9 423.1 190.3 424 190.8 425 191.3 426.1 191.8 427.1 192.3 428.2 192.7 429.2 193.2 430.3 193.7 431.3 194.2 432.2 194.6 433 195.1 433.8 195.6 434.4 196.1 434.9 196.6 435.3 197 435.5 197.5 435.5 198 435.5 198.5 435.5 199 435.5 199.4 435.5 199.9 435.5 200.4 435.5 200.9 435.5 201.3 435.5 201.8 435.5 202.3 435.5 202.8 435.5 203.3 435.5 203.7 435.5 204.2 435.5 204.7 435.5 205.2 435.5 205.7 435.5 206.1 435.5 206.6 435.5 207.1 435.5 207.6 435.5 208 435.5 208.5 435.5 209 435.5 209.5 435.5 210 435.5 210.4 435.5 210.9 435.5 211.4 435.5 211.9 435.2 212.4 434.7 212.8 434 213.3 433 213.8 432 214.3 430.8 214.7 429.5 215.2 428.1 215.7 426.8 216.2 425.4 216.7 424.1 217.1 422.9 217.6 421.8 218.1 420.8 218.6 420 219.1 419.5 219.5 419.2 220 419.1 220.5 419.1 221 419.1 221.4 419.1 221.9 419.1 222.4 419.1 222.9 419.1 223.4 419.1 223.8 419.1 224.3 419.1 224.8 419.1 225.3 419.1 225.8 419.1 226.2 419.1 226.7 419.1 227.2 419.1 227.7 419.1 228.1 419.1 228.6 419.1 229.1 419.1 229.6 419.1 230.1 419.1 230.5 419.1 231 419.1 231.5 419.1 232 419.1 232.5 419.1 232.9 419.1 233.4 419.1 233.9 419.1 234.4 419.1 234.8 419.1 235.3 419.1 235.8 419.1 236.3 419.1 236.8 419.1 237.2 419.2 237.7 419.4 238.2 419.8 238.7 420.4 239.1 421.1 239.6 421.9 240.1 422.8 240.6 423.7 241.1 424.8 241.5 425.8 242 426.9 242.5 428 243 429.1 243.5 430.2 243.9 431.2 244.4 432.1 244.9 432.9 245.4 433.7 245.8 434.3 246.3 434.7 246.8 435.1 247.3 435.2 247.8 435.2 248.2 435.2 248.7 435.2 249.2 435.2 249.7 435.2 250.2 435.2 250.6 435.2 251.1 435.2 251.6 435.2 252.1 435.2 252.5 435.2 253 435.2 253.5 435.2 254 435.2 254.5 435.2 254.9 435.2 255.4 435.2 255.9 435.2 256.4 435.2 256.9 435.2 257.3 435.2 257.8 435.2 258.3 435.2 258.8 435.2 259.2 435.2 259.7 435.2 260.2 435 260.7 434.6 261.2 433.9 261.6 433 262.1 431.9 262.6 430.7 263.1 429.4 263.6 428.1 264 426.7 264.5 425.3 265 423.9 265.5 422.6 265.9 421.5 266.4 420.4 266.9 419.6 267.4 418.9 267.9 418.5 268.3 418.4 268.8 418.4 269.3 418.4 269.8 418.4 270.3 418.4 270.7 418.4 271.2 418.4 271.7 418.4 272.2 418.4 272.6 418.4 273.1 418.4 273.6 418.4 274.1 418.4 274.6 418.4 275 418.4 275.5 418.4 276 418.4 276.5 418.4 277 418.4 277.4 418.4 277.9 418.4 278.4 418.4 278.9 418.4 279.3 418.4 279.8 418.4 280.3 418.4 280.8 418.4 281.3 418.4 281.7 418.4 282.2 418.4 282.7 418.4 283.2 418.4 283.6 418.4 284.1 418.4 284.6 418.4 285.1 418.4 285.6 418.4 286 418.6 286.5 419 287 419.6 287.5 420.3 288 421.1 288.4 422 288.9 423 289.4 424.1 289.9 425.2 290.3 426.4 290.8 427.5 291.3 428.7 291.8 429.8 292.3 430.9 292.7 431.9 293.2 432.8 293.7 433.6 294.2 434.3 294.7 434.9 295.1 435.3 295.6 435.5 296.1 435.5 296.6 435.5 297 435.5 297.5 435.5 298 435.5 298.5 435.5 299 435.5 299.4 435.5 299.9 435.5 300.4 435.5 300.9 435.5 301.4 435.5 301.8 435.5 302.3 435.5 302.8 435.5 303.3 435.5 303.7 435.5 304.2 435.5 304.7 435.5 305.2 435.5 305.7 435.5 306.1 435.5 306.6 435.5 307.1 435.5 307.6 435.5" stroke="#ff10f0" stroke-width="3.6" fill="none" stroke-linejoin="round"/>
<path d="M42.8 435.4a1.6 1.6 0 1 0 3.2 0a1.6 1.6 0 1 0 -3.2 0M43.3 433.6a1.6 1.6 0 1 0 3.2 0a1.6 1.6 0 1 0 -3.2 0M43.8 435.5a1.6 1.6 0 1 0 3.2 0a1.6 1.6 0 1 0 -3.2 0M44.2 433.7a1.6 1.6 0 1 0 3.2 0a1.6 1.6 0 1 0 -3.2 0M44.7 434.9a1.6 1.6 0 1 0 3.2 0a1.6 1.6 0 1 0 -3.2 0M45.2 436.7a1.6 1.6 0 1 0 3.2 0a1.6 1.6 0 1 0 -3.2 0M45.7 435.3a1.6 1.6 0 1 0 3.2 0a1.6 1.6 0 1 0 -3.2 0M46.1 433.6a1.6 1.6 0 1 0 3.2 0a1.6 1.6 0 1 0 -3.2 0M46.6 434.8a1.6 1.6 0 1 0 3.2 0a1.6 1.6 0 1 0 -3.2 0M47.1 434.4a1.6 1.6 0 1 0 3.2 0a1.6 1.6 0 1 0 -3.2 0M47.6 436.8a1.6 1.6 0 1 0 3.2 0a1.6 1.6 0 1 0 -3.2 0M48.1 433.7a1.6 1.6 0 1 0 3.2 0a1.6 1.6 0 1 0 -3.2 0M48.5 433.8a1.6 1.6 0 1 0 3.2 0a1.6 1.6 0 1 0 -3.2 0M49 435.4a1.6 1.6 0 1 0 3.2 0a1.6 1.6 0 1 0 -3.2 0M49.5 433a1.6 1.6 0 1 0 3.2 0a1.6 1.6 0 1 0 -3.2 0M50 435.1a1.6 1.6 0 1 0 3.2 0a1.6 1.6 0 1 0 -3.2 0M50.5 436.8a1.6 1.6 0 1 0 3.2 0a1.6 1.6 0 1 0 -3.2 0M50.9 434.8a1.6 1.6 0 1 0 3.2 0a1.6 1.6 0 1 0 -3.2 0M51.4 433.6a1.6 1.6 0 1 0 3.2 0a1.6 1.6 0 1 0 -3.2 0M51.9 434.5a1.6 1.6 0 1 0 3.2 0a1.6 1.6 0 1 0 -3.2 0M52.4 434.9a1.6 1.6 0 1 0 3.2 0a1.6 1.6 0 1 0 -3.2 0M52.8 433.1a1.6 1.6 0 1 0 3.2 0a1.6 1.6 0 1 0 -3.2 0M53.3 433a1.6 1.6 0 1 0 3.2 0a1.6 1.6 0 1 0 -3.2 0M53.8 433a1.6 1.6 0 1 0 3.2 0a1.6 1.6 0 1 0 -3.2 0M54.3 433.8a1.6 1.6 0 1 0 3.2 0a1.6 1.6 0 1 0 -3.2 0M54.8 434.3a1.6 1.6 0 1 0 3.2 0a1.6 1.6 0 1 0 -3.2 0M55.2 433.7a1.6 1.6 0 1 0 3.2 0a1.6 1.6 0 1 0 -3.2 0M55.7 433.5a1.6 1.6 0 1 0 3.2 0a1.6 1.6 0 1 0 -3.2 0M56.2 432.8a1.6 1.6 0 1 0 3.2 0a1.6 1.6 0 1 0 -3.2 0M56.7 434.9a1.6 1.6 0 1 0 3.2 0a1.6 1.6 0 1 0 -3.2 0M57.2 436.3a1.6 1.6 0 1 0 3.2 0a1.6 1.6 0 1 0 -3.2 0M57.6 435.2a1.6 1.6 0 1 0 3.2 0a1.6 1.6 0 1 0 -3.2 0M58.1 435a1.6 1.6 0 1 0 3.2 0a1.6 1.6 0 1 0 -3.2 0M58.6 435.4a1.6 1.6 0 1 0 3.2 0a1.6 1.6 0 1 0 -3.2 0M59.1 433.3a1.6 1.6 0 1 0 3.2 0a1.6 1.6 0 1 0 -3.2 0M59.5 435.7a1.6 1.6 0 1 0 3.2 0a1.6 1.6 0 1 0 -3.2 0M60 434.5a1.6 1.6 0 1 0 3.2 0a1.6 1.6 0 1 0 -3.2 0M60.5 434.9a1.6 1.6 0 1 0 3.2 0a1.6 1.6 0 1 0 -3.2 0M61 435.2a1.6 1.6 0 1 0 3.2 0a1.6 1.6 0 1 0 -3.2 0M61.5 434.6a1.6 1.6 0 1 0 3.2 0a1.6 1.6 0 1 0 -3.2 0M61.9 433.8a1.6 1.6 0 1 0 3.2 0a1.6 1.6 0 1 0 -3.2 0M62.4 433.5a1.6 1.6 0 1 0 3.2 0a1.6 1.6 0 1 0 -3.2 0M62.9 433.4a1.6 1.6 0 1 0 3.2 0a1.6 1.6 0 1 0 -3.2 0M63.4 434.8a1.6 1.6 0 1 0 3.2 0a1.6 1.6 0 1 0 -3.2 0M63.9 434.2a1.6 1.6 0 1 0 3.2 0a1.6 1.6 0 1 0 -3.2 0M64.3 435.1a1.6 1.6 0 1 0 3.2 0a1.6 1.6 0 1 0 -3.2 0M64.8 432.5a1.6 1.6 0 1 0 3.2 0a1.6 1.6 0 1 0 -3.2 0M65.3 434a1.6 1.6 0 1 0 3.2 0a1.6 1.6 0 1 0 -3.2 0M65.8 436.4a1.6 1.6 0 1 0 3.2 0a1.6 1.6 0 1 0 -3.2 0M66.2 433.5a1.6 1.6 0 1 0 3.2 0a1.6 1.6 0 1 0 -3.2 0M66.7 434.9a1.6 1.6 0 1 0 3.2 0a1.6 1.6 0 1 0 -3.2 0M67.2 434.6a1.6 1.6 0 1 0 3.2 0a1.6 1.6 0 1 0 -3.2 0M67.7 433.6a1.6 1.6 0 1 0 3.2 0a1.6 1.6 0 1 0 -3.2 0M68.2 436.7a1.6 1.6 0 1 0 3.2 0a1.6 1.6 0 1 0 -3.2 0M68.6 433.4a1.6 1.6 0 1 0 3.2 0a1.6 1.6 0 1 0 -3.2 0M69.1 435.4a1.6 1.6 0 1 0 3.2 0a1.6 1.6 0 1 0 -3.2 0M69.6 432.4a1.6 1.6 0 1 0 3.2 0a1.6 1.6 0 1 0 -3.2 0M70.1 431.8a1.6 1.6 0 1 0 3.2 0a1.6 1.6 0 1 0 -3.2 0M70.6 435.3a1.6 1.6 0 1 0 3.2 0a1.6 1.6 0 1 0 -3.2 0M71 433.2a1.6 1.6 0 1 0 3.2 0a1.6 1.6 0 1 0 -3.2 0M71.5 431.2a1.6 1.6 0 1 0 3.2 0a1.6 1.6 0 1 0 -3.2 0M72 432.6a1.6 1.6 0 1 0 3.2 0a1.6 1.6 0 1 0 -3.2 0M72.5 432.6a1.6 1.6 0 1 0 3.2 0a1.6 1.6 0 1 0 -3.2 0M72.9 433.8a1.6 1.6 0 1 0 3.2 0a1.6 1.6 0 1 0 -3.2 0M73.4 430.8a1.6 1.6 0 1 0 3.2 0a1.6 1.6 0 1 0 -3.2 0M73.9 431.2a1.6 1.6 0 1 0 3.2 0a1.6 1.6 0 1 0 -3.2 0M74.4 434.5a1.6 1.6 0 1 0 3.2 0a1.6 1.6 0 1 0 -3.2 0M74.9 433.4a1.6 1.6 0 1 0 3.2 0a1.6 1.6 0 1 0 -3.2 0M75.3 430.6a1.6 1.6 0 1 0 3.2 0a1.6 1.6 0 1 0 -3.2 0M75.8 431.5a1.6 1.6 0 1 0 3.2 0a1.6 1.6 0 1 0 -3.2 0M76.3 431.5a1.6 1.6 0 1 0 3.2 0a1.6 1.6 0 1 0 -3.2 0M76.8 433a1.6 1.6 0 1 0 3.2 0a1.6 1.6 0 1 0 -3.2 0M77.3 432.7a1.6 1.6 0 1 0 3.2 0a1.6 1.6 0 1 0 -3.2 0M77.7 433.8a1.6 1.6 0 1 0 3.2 0a1.6 1.6 0 1 0 -3.2 0M78.2 433.7a1.6 1.6 0 1 0 3.2 0a1.6 1.6 0 1 0 -3.2 0M78.7 432.3a1.6 1.6 0 1 0 3.2 0a1.6 1.6 0 1 0 -3.2 0M79.2 433.3a1.6 1.6 0 1 0 3.2 0a1.6 1.6 0 1 0 -3.2 0M79.6 433.3a1.6 1.6 0 1 0 3.2 0a1.6 1.6 0 1 0 -3.2 0M80.1 433.4a1.6 1.6 0 1 0 3.2 0a1.6 1.6 0 1 0 -3.2 0M80.6 432.1a1.6 1.6 0 1 0 3.2 0a1.6 1.6 0 1 0 -3.2 0M81.1 433.5a1.6 1.6 0 1 0 3.2 0a1.6 1.6 0 1 0 -3.2 0M81.6 433.2a1.6 1.6 0 1 0 3.2 0a1.6 1.6 0 1 0 -3.2 0M82 434.1a1.6 1.6 0 1 0 3.2 0a1.6 1.6 0 1 0 -3.2 0M82.5 430.5a1.6 1.6 0 1 0 3.2 0a1.6 1.6 0 1 0 -3.2 0M83 433.9a1.6 1.6 0 1 0 3.2 0a1.6 1.6 0 1 0 -3.2 0M83.5 429.9a1.6 1.6 0 1 0 3.2 0a1.6 1.6 0 1 0 -3.2 0M84 433.4a1.6 1.6 0 1 0 3.2 0a1.6 1.6 0 1 0 -3.2 0M84.4 432.6a1.6 1.6 0 1 0 3.2 0a1.6 1.6 0 1 0 -3.2 0M84.9 432.2a1.6 1.6 0 1 0 3.2 0a1.6 1.6 0 1 0 -3.2 0M85.4 434.3a1.6 1.6 0 1 0 3.2 0a1.6 1.6 0 1 0 -3.2 0M85.9 432.5a1.6 1.6 0 1 0 3.2 0a1.6 1.6 0 1 0 -3.2 0M86.3 431.8a1.6 1.6 0 1 0 3.2 0a1.6 1.6 0 1 0 -3.2 0M86.8 433.5a1.6 1.6 0 1 0 3.2 0a1.6 1.6 0 1 0 -3.2 0M87.3 433.9a1.6 1.6 0 1 0 3.2 0a1.6 1.6 0 1 0 -3.2 0M87.8 432.7a1.6 1.6 0 1 0 3.2 0a1.6 1.6 0 1 0 -3.2 0M88.3 431.7a1.6 1.6 0 1 0 3.2 0a1.6 1.6 0 1 0 -3.2 0M88.7 432.2a1.6 1.6 0 1 0 3.2 0a1.6 1.6 0 1 0 -3.2 0M89.2 432.4a1.6 1.6 0 1 0 3.2 0a1.6 1.6 0 1 0 -3.2 0M89.7 433.9a1.6 1.6 0 1 0 3.2 0a1.6 1.6 0 1 0 -3.2 0M90.2 432.2a1.6 1.6 0 1 0 3.2 0a1.6 1.6 0 1 0 -3.2 0M90.7 433a1.6 1.6 0 1 0 3.2 0a1.6 1.6 0 1 0 -3.2 0M91.1 434.1a1.6 1.6 0 1 0 3.2 0a1.6 1.6 0 1 0 -3.2 0M91.6 433.7a1.6 1.6 0 1 0 3.2 0a1.6 1.6 0 1 0 -3.2 0M92.1 433.8a1.6 1.6 0 1 0 3.2 0a1.6 1.6 0 1 0 -3.2 0M92.6 436.3a1.6 1.6 0 1 0 3.2 0a1.6 1.6 0 1 0 -3.2 0M93 436.9a1.6 1.6 0 1 0 3.2 0a1.6 1.6 0 1 0 -3.2 0M93.5 435.5a1.6 1.6 0 1 0 3.2 0a1.6 1.6 0 1 0 -3.2 0M94 435.5a1.6 1.6 0 1 0 3.2 0a1.6 1.6 0 1 0 -3.2 0M94.5 434.4a1.6 1.6 0 1 0 3.2 0a1.6 1.6 0 1 0 -3.2 0M95 435a1.6 1.6 0 1 0 3.2 0a1.6 1.6 0 1 0 -3.2 0M95.4 434.3a1.6 1.6 0 1 0 3.2 0a1.6 1.6 0 1 0 -3.2 0M95.9 436.2a1.6 1.6 0 1 0 3.2 0a1.6 1.6 0 1 0 -3.2 0M96.4 436.3a1.6 1.6 0 1 0 3.2 0a1.6 1.6 0 1 0 -3.2 0M96.9 434a1.6 1.6 0 1 0 3.2 0a1.6 1.6 0 1 0 -3.2 0M97.3 437.8a1.6 1.6 0 1 0 3.2 0a1.6 1.6 0 1 0 -3.2 0M97.8 435.1a1.6 1.6 0 1 0 3.2 0a1.6 1.6 0 1 0 -3.2 0M98.3 437.5a1.6 1.6 0 1 0 3.2 0a1.6 1.6 0 1 0 -3.2 0M98.8 437.5a1.6 1.6 0 1 0 3.2 0a1.6 1.6 0 1 0 -3.2 0M99.3 438a1.6 1.6 0 1 0 3.2 0a1.6 1.6 0 1 0 -3.2 0M99.7 434.5a1.6 1.6 0 1 0 3.2 0a1.6 1.6 0 1 0 -3.2 0M100.2 435.6a1.6 1.6 0 1 0 3.2 0a1.6 1.6 0 1 0 -3.2 0M100.7 437.8a1.6 1.6 0 1 0 3.2 0a1.6 1.6 0 1 0 -3.2 0M101.2 433.6a1.6 1.6 0 1 0 3.2 0a1.6 1.6 0 1 0 -3.2 0M101.7 433.8a1.6 1.6 0 1 0 3.2 0a1.6 1.6 0 1 0 -3.2 0M102.1 436.2a1.6 1.6 0 1 0 3.2 0a1.6 1.6 0 1 0 -3.2 0M102.6 435.9a1.6 1.6 0 1 0 3.2 0a1.6 1.6 0 1 0 -3.2 0M103.1 437.8a1.6 1.6 0 1 0 3.2 0a1.6 1.6 0 1 0 -3.2 0M103.6 437.2a1.6 1.6 0 1 0 3.2 0a1.6 1.6 0 1 0 -3.2 0M104 436.1a1.6 1.6 0 1 0 3.2 0a1.6 1.6 0 1 0 -3.2 0M104.5 438.2a1.6 1.6 0 1 0 3.2 0a1.6 1.6 0 1 0 -3.2 0M105 436a1.6 1.6 0 1 0 3.2 0a1.6 1.6 0 1 0 -3.2 0M105.5 436a1.6 1.6 0 1 0 3.2 0a1.6 1.6 0 1 0 -3.2 0M106 436.8a1.6 1.6 0 1 0 3.2 0a1.6 1.6 0 1 0 -3.2 0M106.4 435.4a1.6 1.6 0 1 0 3.2 0a1.6 1.6 0 1 0 -3.2 0M106.9 435.2a1.6 1.6 0 1 0 3.2 0a1.6 1.6 0 1 0 -3.2 0M107.4 436.3a1.6 1.6 0 1 0 3.2 0a1.6 1.6 0 1 0 -3.2 0M107.9 435.2a1.6 1.6 0 1 0 3.2 0a1.6 1.6 0 1 0 -3.2 0M108.4 438a1.6 1.6 0 1 0 3.2 0a1.6 1.6 0 1 0 -3.2 0M108.8 436.7a1.6 1.6 0 1 0 3.2 0a1.6 1.6 0 1 0 -3.2 0M109.3 436a1.6 1.6 0 1 0 3.2 0a1.6 1.6 0 1 0 -3.2 0M109.8 434.1a1.6 1.6 0 1 0 3.2 0a1.6 1.6 0 1 0 -3.2 0M110.3 435.3a1.6 1.6 0 1 0 3.2 0a1.6 1.6 0 1 0 -3.2 0M110.7 435.4a1.6 1.6 0 1 0 3.2 0a1.6 1.6 0 1 0 -3.2 0M111.2 436.2a1.6 1.6 0 1 0 3.2 0a1.6 1.6 0 1 0 -3.2 0M111.7 436.2a1.6 1.6 0 1 0 3.2 0a1.6 1.6 0 1 0 -3.2 0M112.2 437.6a1.6 1.6 0 1 0 3.2 0a1.6 1.6 0 1 0 -3.2 0M112.7 438a1.6 1.6 0 1 0 3.2 0a1.6 1.6 0 1 0 -3.2 0M113.1 435.8a1.6 1.6 0 1 0 3.2 0a1.6 1.6 0 1 0 -3.2 0M113.6 435.6a1.6 1.6 0 1 0 3.2 0a1.6 1.6 0 1 0 -3.2 0M114.1 436.5a1.6 1.6 0 1 0 3.2 0a1.6 1.6 0 1 0 -3.2 0M114.6 438.2a1.6 1.6 0 1 0 3.2 0a1.6 1.6 0 1 0 -3.2 0M115.1 435.2a1.6 1.6 0 1 0 3.2 0a1.6 1.6 0 1 0 -3.2 0M115.5 436a1.6 1.6 0 1 0 3.2 0a1.6 1.6 0 1 0 -3.2 0M116 437.3a1.6 1.6 0 1 0 3.2 0a1.6 1.6 0 1 0 -3.2 0M116.5 434.2a1.6 1.6 0 1 0 3.2 0a1.6 1.6 0 1 0 -3.2 0M117 434.6a1.6 1.6 0 1 0 3.2 0a1.6 1.6 0 1 0 -3.2 0M117.4 437.2a1.6 1.6 0 1 0 3.2 0a1.6 1.6 0 1 0 -3.2 0M117.9 435.9a1.6 1.6 0 1 0 3.2 0a1.6 1.6 0 1 0 -3.2 0M118.4 433.7a1.6 1.6 0 1 0 3.2 0a1.6 1.6 0 1 0 -3.2 0M118.9 431.1a1.6 1.6 0 1 0 3.2 0a1.6 1.6 0 1 0 -3.2 0M119.4 433.8a1.6 1.6 0 1 0 3.2 0a1.6 1.6 0 1 0 -3.2 0M119.8 432a1.6 1.6 0 1 0 3.2 0a1.6 1.6 0 1 0 -3.2 0M120.3 431.7a1.6 1.6 0 1 0 3.2 0a1.6 1.6 0 1 0 -3.2 0M120.8 431.6a1.6 1.6 0 1 0 3.2 0a1.6 1.6 0 1 0 -3.2 0M121.3 430.2a1.6 1.6 0 1 0 3.2 0a1.6 1.6 0 1 0 -3.2 0M121.8 427.2a1.6 1.6 0 1 0 3.2 0a1.6 1.6 0 1 0 -3.2 0M122.2 425.2a1.6 1.6 0 1 0 3.2 0a1.6 1.6 0 1 0 -3.2 0M122.7 425.2a1.6 1.6 0 1 0 3.2 0a1.6 1.6 0 1 0 -3.2 0M123.2 425.7a1.6 1.6 0 1 0 3.2 0a1.6 1.6 0 1 0 -3.2 0M123.7 425.2a1.6 1.6 0 1 0 3.2 0a1.6 1.6 0 1 0 -3.2 0M124.1 423.5a1.6 1.6 0 1 0 3.2 0a1.6 1.6 0 1 0 -3.2 0M124.6 423.4a1.6 1.6 0 1 0 3.2 0a1.6 1.6 0 1 0 -3.2 0M125.1 425.5a1.6 1.6 0 1 0 3.2 0a1.6 1.6 0 1 0 -3.2 0M125.6 425.4a1.6 1.6 0 1 0 3.2 0a1.6 1.6 0 1 0 -3.2 0M126.1 424.2a1.6 1.6 0 1 0 3.2 0a1.6 1.6 0 1 0 -3.2 0M126.5 427.2a1.6 1.6 0 1 0 3.2 0a1.6 1.6 0 1 0 -3.2 0M127 425.5a1.6 1.6 0 1 0 3.2 0a1.6 1.6 0 1 0 -3.2 0M127.5 422.8a1.6 1.6 0 1 0 3.2 0a1.6 1.6 0 1 0 -3.2 0M128 424.5a1.6 1.6 0 1 0 3.2 0a1.6 1.6 0 1 0 -3.2 0M128.5 426.2a1.6 1.6 0 1 0 3.2 0a1.6 1.6 0 1 0 -3.2 0M128.9 424a1.6 1.6 0 1 0 3.2 0a1.6 1.6 0 1 0 -3.2 0M129.4 425.8a1.6 1.6 0 1 0 3.2 0a1.6 1.6 0 1 0 -3.2 0M129.9 422.6a1.6 1.6 0 1 0 3.2 0a1.6 1.6 0 1 0 -3.2 0M130.4 424a1.6 1.6 0 1 0 3.2 0a1.6 1.6 0 1 0 -3.2 0M130.8 426.5a1.6 1.6 0 1 0 3.2 0a1.6 1.6 0 1 0 -3.2 0M131.3 425.3a1.6 1.6 0 1 0 3.2 0a1.6 1.6 0 1 0 -3.2 0M131.8 425.7a1.6 1.6 0 1 0 3.2 0a1.6 1.6 0 1 0 -3.2 0M132.3 423.5a1.6 1.6 0 1 0 3.2 0a1.6 1.6 0 1 0 -3.2 0M132.8 424.9a1.6 1.6 0 1 0 3.2 0a1.6 1.6 0 1 0 -3.2 0M133.2 425.1a1.6 1.6 0 1 0 3.2 0a1.6 1.6 0 1 0 -3.2 0M133.7 423.8a1.6 1.6 0 1 0 3.2 0a1.6 1.6 0 1 0 -3.2 0M134.2 425.6a1.6 1.6 0 1 0 3.2 0a1.6 1.6 0 1 0 -3.2 0M134.7 425a1.6 1.6 0 1 0 3.2 0a1.6 1.6 0 1 0 -3.2 0M135.2 427.2a1.6 1.6 0 1 0 3.2 0a1.6 1.6 0 1 0 -3.2 0M135.6 425.2a1.6 1.6 0 1 0 3.2 0a1.6 1.6 0 1 0 -3.2 0M136.1 424.5a1.6 1.6 0 1 0 3.2 0a1.6 1.6 0 1 0 -3.2 0M136.6 423.2a1.6 1.6 0 1 0 3.2 0a1.6 1.6 0 1 0 -3.2 0M137.1 423.3a1.6 1.6 0 1 0 3.2 0a1.6 1.6 0 1 0 -3.2 0M137.5 426.2a1.6 1.6 0 1 0 3.2 0a1.6 1.6 0 1 0 -3.2 0M138 423.4a1.6 1.6 0 1 0 3.2 0a1.6 1.6 0 1 0 -3.2 0M138.5 423.7a1.6 1.6 0 1 0 3.2 0a1.6 1.6 0 1 0 -3.2 0M139 424.4a1.6 1.6 0 1 0 3.2 0a1.6 1.6 0 1 0 -3.2 0M139.5 426.5a1.6 1.6 0 1 0 3.2 0a1.6 1.6 0 1 0 -3.2 0M139.9 428.4a1.6 1.6 0 1 0 3.2 0a1.6 1.6 0 1 0 -3.2 0M140.4 428.1a1.6 1.6 0 1 0 3.2 0a1.6 1.6 0 1 0 -3.2 0M140.9 429.6a1.6 1.6 0 1 0 3.2 0a1.6 1.6 0 1 0 -3.2 0M141.4 426.9a1.6 1.6 0 1 0 3.2 0a1.6 1.6 0 1 0 -3.2 0M141.8 427.3a1.6 1.6 0 1 0 3.2 0a1.6 1.6 0 1 0 -3.2 0M142.3 431.5a1.6 1.6 0 1 0 3.2 0a1.6 1.6 0 1 0 -3.2 0M142.8 430.1a1.6 1.6 0 1 0 3.2 0a1.6 1.6 0 1 0 -3.2 0M143.3 432.6a1.6 1.6 0 1 0 3.2 0a1.6 1.6 0 1 0 -3.2 0M143.8 431.6a1.6 1.6 0 1 0 3.2 0a1.6 1.6 0 1 0 -3.2 0M144.2 431.4a1.6 1.6 0 1 0 3.2 0a1.6 1.6 0 1 0 -3.2 0M144.7 432.4a1.6 1.6 0 1 0 3.2 0a1.6 1.6 0 1 0 -3.2 0M145.2 432.1a1.6 1.6 0 1 0 3.2 0a1.6 1.6 0 1 0 -3.2 0M145.7 436.3a1.6 1.6 0 1 0 3.2 0a1.6 1.6 0 1 0 -3.2 0M146.2 435.2a1.6 1.6 0 1 0 3.2 0a1.6 1.6 0 1 0 -3.2 0M146.6 434.3a1.6 1.6 0 1 0 3.2 0a1.6 1.6 0 1 0 -3.2 0M147.1 434.9a1.6 1.6 0 1 0 3.2 0a1.6 1.6 0 1 0 -3.2 0M147.6 434.7a1.6 1.6 0 1 0 3.2 0a1.6 1.6 0 1 0 -3.2 0M148.1 433.2a1.6 1.6 0 1 0 3.2 0a1.6 1.6 0 1 0 -3.2 0M148.5 437a1.6 1.6 0 1 0 3.2 0a1.6 1.6 0 1 0 -3.2 0M149 435.6a1.6 1.6 0 1 0 3.2 0a1.6 1.6 0 1 0 -3.2 0M149.5 437.3a1.6 1.6 0 1 0 3.2 0a1.6 1.6 0 1 0 -3.2 0M150 434.9a1.6 1.6 0 1 0 3.2 0a1.6 1.6 0 1 0 -3.2 0M150.5 435.8a1.6 1.6 0 1 0 3.2 0a1.6 1.6 0 1 0 -3.2 0M150.9 434a1.6 1.6 0 1 0 3.2 0a1.6 1.6 0 1 0 -3.2 0M151.4 433.1a1.6 1.6 0 1 0 3.2 0a1.6 1.6 0 1 0 -3.2 0M151.9 437.2a1.6 1.6 0 1 0 3.2 0a1.6 1.6 0 1 0 -3.2 0M152.4 436.8a1.6 1.6 0 1 0 3.2 0a1.6 1.6 0 1 0 -3.2 0M152.9 434.3a1.6 1.6 0 1 0 3.2 0a1.6 1.6 0 1 0 -3.2 0M153.3 437a1.6 1.6 0 1 0 3.2 0a1.6 1.6 0 1 0 -3.2 0M153.8 436.7a1.6 1.6 0 1 0 3.2 0a1.6 1.6 0 1 0 -3.2 0M154.3 434.3a1.6 1.6 0 1 0 3.2 0a1.6 1.6 0 1 0 -3.2 0M154.8 435.7a1.6 1.6 0 1 0 3.2 0a1.6 1.6 0 1 0 -3.2 0M155.2 437.3a1.6 1.6 0 1 0 3.2 0a1.6 1.6 0 1 0 -3.2 0M155.7 435.2a1.6 1.6 0 1 0 3.2 0a1.6 1.6 0 1 0 -3.2 0M156.2 437.3a1.6 1.6 0 1 0 3.2 0a1.6 1.6 0 1 0 -3.2 0M156.7 434a1.6 1.6 0 1 0 3.2 0a1.6 1.6 0 1 0 -3.2 0M157.2 434.7a1.6 1.6 0 1 0 3.2 0a1.6 1.6 0 1 0 -3.2 0M157.6 436.2a1.6 1.6 0 1 0 3.2 0a1.6 1.6 0 1 0 -3.2 0M158.1 433.9a1.6 1.6 0 1 0 3.2 0a1.6 1.6 0 1 0 -3.2 0M158.6 434.3a1.6 1.6 0 1 0 3.2 0a1.6 1.6 0 1 0 -3.2 0M159.1 436.9a1.6 1.6 0 1 0 3.2 0a1.6 1.6 0 1 0 -3.2 0M159.6 435.1a1.6 1.6 0 1 0 3.2 0a1.6 1.6 0 1 0 -3.2 0M160 436.5a1.6 1.6 0 1 0 3.2 0a1.6 1.6 0 1 0 -3.2 0M160.5 434a1.6 1.6 0 1 0 3.2 0a1.6 1.6 0 1 0 -3.2 0M161 433.7a1.6 1.6 0 1 0 3.2 0a1.6 1.6 0 1 0 -3.2 0M161.5 434.5a1.6 1.6 0 1 0 3.2 0a1.6 1.6 0 1 0 -3.2 0M161.9 433.8a1.6 1.6 0 1 0 3.2 0a1.6 1.6 0 1 0 -3.2 0M162.4 437.4a1.6 1.6 0 1 0 3.2 0a1.6 1.6 0 1 0 -3.2 0M162.9 434.1a1.6 1.6 0 1 0 3.2 0a1.6 1.6 0 1 0 -3.2 0M163.4 434.9a1.6 1.6 0 1 0 3.2 0a1.6 1.6 0 1 0 -3.2 0M163.9 432.2a1.6 1.6 0 1 0 3.2 0a1.6 1.6 0 1 0 -3.2 0M164.3 433.3a1.6 1.6 0 1 0 3.2 0a1.6 1.6 0 1 0 -3.2 0M164.8 431.7a1.6 1.6 0 1 0 3.2 0a1.6 1.6 0 1 0 -3.2 0M165.3 430.6a1.6 1.6 0 1 0 3.2 0a1.6 1.6 0 1 0 -3.2 0M165.8 427.9a1.6 1.6 0 1 0 3.2 0a1.6 1.6 0 1 0 -3.2 0M166.3 426.9a1.6 1.6 0 1 0 3.2 0a1.6 1.6 0 1 0 -3.2 0M166.7 428.9a1.6 1.6 0 1 0 3.2 0a1.6 1.6 0 1 0 -3.2 0M167.2 425.4a1.6 1.6 0 1 0 3.2 0a1.6 1.6 0 1 0 -3.2 0M167.7 423.7a1.6 1.6 0 1 0 3.2 0a1.6 1.6 0 1 0 -3.2 0M168.2 422.3a1.6 1.6 0 1 0 3.2 0a1.6 1.6 0 1 0 -3.2 0M168.6 421.6a1.6 1.6 0 1 0 3.2 0a1.6 1.6 0 1 0 -3.2 0M169.1 420.4a1.6 1.6 0 1 0 3.2 0a1.6 1.6 0 1 0 -3.2 0M169.6 418.7a1.6 1.6 0 1 0 3.2 0a1.6 1.6 0 1 0 -3.2 0M170.1 421a1.6 1.6 0 1 0 3.2 0a1.6 1.6 0 1 0 -3.2 0M170.6 419.2a1.6 1.6 0 1 0 3.2 0a1.6 1.6 0 1 0 -3.2 0M171 418.2a1.6 1.6 0 1 0 3.2 0a1.6 1.6 0 1 0 -3.2 0M171.5 420.7a1.6 1.6 0 1 0 3.2 0a1.6 1.6 0 1 0 -3.2 0M172 417.9a1.6 1.6 0 1 0 3.2 0a1.6 1.6 0 1 0 -3.2 0M172.5 418.7a1.6 1.6 0 1 0 3.2 0a1.6 1.6 0 1 0 -3.2 0M173 421.3a1.6 1.6 0 1 0 3.2 0a1.6 1.6 0 1 0 -3.2 0M173.4 418.1a1.6 1.6 0 1 0 3.2 0a1.6 1.6 0 1 0 -3.2 0M173.9 419.5a1.6 1.6 0 1 0 3.2 0a1.6 1.6 0 1 0 -3.2 0M174.4 421.3a1.6 1.6 0 1 0 3.2 0a1.6 1.6 0 1 0 -3.2 0M174.9 421.2a1.6 1.6 0 1 0 3.2 0a1.6 1.6 0 1 0 -3.2 0M175.3 418.2a1.6 1.6 0 1 0 3.2 0a1.6 1.6 0 1 0 -3.2 0M175.8 419.1a1.6 1.6 0 1 0 3.2 0a1.6 1.6 0 1 0 -3.2 0M176.3 420.8a1.6 1.6 0 1 0 3.2 0a1.6 1.6 0 1 0 -3.2 0M176.8 419.2a1.6 1.6 0 1 0 3.2 0a1.6 1.6 0 1 0 -3.2 0M177.3 421.9a1.6 1.6 0 1 0 3.2 0a1.6 1.6 0 1 0 -3.2 0M177.7 418.5a1.6 1.6 0 1 0 3.2 0a1.6 1.6 0 1 0 -3.2 0M178.2 421.9a1.6 1.6 0 1 0 3.2 0a1.6 1.6 0 1 0 -3.2 0M178.7 419.8a1.6 1.6 0 1 0 3.2 0a1.6 1.6 0 1 0 -3.2 0M179.2 418.5a1.6 1.6 0 1 0 3.2 0a1.6 1.6 0 1 0 -3.2 0M179.7 419.6a1.6 1.6 0 1 0 3.2 0a1.6 1.6 0 1 0 -3.2 0M180.1 418.1a1.6 1.6 0 1 0 3.2 0a1.6 1.6 0 1 0 -3.2 0M180.6 420.7a1.6 1.6 0 1 0 3.2 0a1.6 1.6 0 1 0 -3.2 0M181.1 418.7a1.6 1.6 0 1 0 3.2 0a1.6 1.6 0 1 0 -3.2 0M181.6 421.6a1.6 1.6 0 1 0 3.2 0a1.6 1.6 0 1 0 -3.2 0M182 420.2a1.6 1.6 0 1 0 3.2 0a1.6 1.6 0 1 0 -3.2 0M182.5 419.2a1.6 1.6 0 1 0 3.2 0a1.6 1.6 0 1 0 -3.2 0M183 418.6a1.6 1.6 0 1 0 3.2 0a1.6 1.6 0 1 0 -3.2 0M183.5 420.3a1.6 1.6 0 1 0 3.2 0a1.6 1.6 0 1 0 -3.2 0M184 418.5a1.6 1.6 0 1 0 3.2 0a1.6 1.6 0 1 0 -3.2 0M184.4 421.5a1.6 1.6 0 1 0 3.2 0a1.6 1.6 0 1 0 -3.2 0M184.9 418.1a1.6 1.6 0 1 0 3.2 0a1.6 1.6 0 1 0 -3.2 0M185.4 419.9a1.6 1.6 0 1 0 3.2 0a1.6 1.6 0 1 0 -3.2 0M185.9 420.2a1.6 1.6 0 1 0 3.2 0a1.6 1.6 0 1 0 -3.2 0M186.3 419.3a1.6 1.6 0 1 0 3.2 0a1.6 1.6 0 1 0 -3.2 0M186.8 422.1a1.6 1.6 0 1 0 3.2 0a1.6 1.6 0 1 0 -3.2 0M187.3 421a1.6 1.6 0 1 0 3.2 0a1.6 1.6 0 1 0 -3.2 0M187.8 423a1.6 1.6 0 1 0 3.2 0a1.6 1.6 0 1 0 -3.2 0M188.3 423.4a1.6 1.6 0 1 0 3.2 0a1.6 1.6 0 1 0 -3.2 0M188.7 423.2a1.6 1.6 0 1 0 3.2 0a1.6 1.6 0 1 0 -3.2 0M189.2 424.5a1.6 1.6 0 1 0 3.2 0a1.6 1.6 0 1 0 -3.2 0M189.7 424.2a1.6 1.6 0 1 0 3.2 0a1.6 1.6 0 1 0 -3.2 0M190.2 425.6a1.6 1.6 0 1 0 3.2 0a1.6 1.6 0 1 0 -3.2 0M190.7 429.8a1.6 1.6 0 1 0 3.2 0a1.6 1.6 0 1 0 -3.2 0M191.1 428.4a1.6 1.6 0 1 0 3.2 0a1.6 1.6 0 1 0 -3.2 0M191.6 431a1.6 1.6 0 1 0 3.2 0a1.6 1.6 0 1 0 -3.2 0M192.1 429.5a1.6 1.6 0 1 0 3.2 0a1.6 1.6 0 1 0 -3.2 0M192.6 432.5a1.6 1.6 0 1 0 3.2 0a1.6 1.6 0 1 0 -3.2 0M193 432.4a1.6 1.6 0 1 0 3.2 0a1.6 1.6 0 1 0 -3.2 0M193.5 433.8a1.6 1.6 0 1 0 3.2 0a1.6 1.6 0 1 0 -3.2 0M194 433.5a1.6 1.6 0 1 0 3.2 0a1.6 1.6 0 1 0 -3.2 0M194.5 432.9a1.6 1.6 0 1 0 3.2 0a1.6 1.6 0 1 0 -3.2 0M195 434.4a1.6 1.6 0 1 0 3.2 0a1.6 1.6 0 1 0 -3.2 0M195.4 434.2a1.6 1.6 0 1 0 3.2 0a1.6 1.6 0 1 0 -3.2 0M195.9 433.8a1.6 1.6 0 1 0 3.2 0a1.6 1.6 0 1 0 -3.2 0M196.4 436.5a1.6 1.6 0 1 0 3.2 0a1.6 1.6 0 1 0 -3.2 0M196.9 434.5a1.6 1.6 0 1 0 3.2 0a1.6 1.6 0 1 0 -3.2 0M197.4 435.1a1.6 1.6 0 1 0 3.2 0a1.6 1.6 0 1 0 -3.2 0M197.8 437.4a1.6 1.6 0 1 0 3.2 0a1.6 1.6 0 1 0 -3.2 0M198.3 436.8a1.6 1.6 0 1 0 3.2 0a1.6 1.6 0 1 0 -3.2 0M198.8 437.3a1.6 1.6 0 1 0 3.2 0a1.6 1.6 0 1 0 -3.2 0M199.3 437.2a1.6 1.6 0 1 0 3.2 0a1.6 1.6 0 1 0 -3.2 0M199.7 433.8a1.6 1.6 0 1 0 3.2 0a1.6 1.6 0 1 0 -3.2 0M200.2 434.5a1.6 1.6 0 1 0 3.2 0a1.6 1.6 0 1 0 -3.2 0M200.7 433.3a1.6 1.6 0 1 0 3.2 0a1.6 1.6 0 1 0 -3.2 0M201.2 436.3a1.6 1.6 0 1 0 3.2 0a1.6 1.6 0 1 0 -3.2 0M201.7 436.3a1.6 1.6 0 1 0 3.2 0a1.6 1.6 0 1 0 -3.2 0M202.1 434.8a1.6 1.6 0 1 0 3.2 0a1.6 1.6 0 1 0 -3.2 0M202.6 435.1a1.6 1.6 0 1 0 3.2 0a1.6 1.6 0 1 0 -3.2 0M203.1 436.2a1.6 1.6 0 1 0 3.2 0a1.6 1.6 0 1 0 -3.2 0M203.6 436.4a1.6 1.6 0 1 0 3.2 0a1.6 1.6 0 1 0 -3.2 0M204.1 434.3a1.6 1.6 0 1 0 3.2 0a1.6 1.6 0 1 0 -3.2 0M204.5 437.1a1.6 1.6 0 1 0 3.2 0a1.6 1.6 0 1 0 -3.2 0M205 434.8a1.6 1.6 0 1 0 3.2 0a1.6 1.6 0 1 0 -3.2 0M205.5 436.1a1.6 1.6 0 1 0 3.2 0a1.6 1.6 0 1 0 -3.2 0M206 434a1.6 1.6 0 1 0 3.2 0a1.6 1.6 0 1 0 -3.2 0M206.4 433.7a1.6 1.6 0 1 0 3.2 0a1.6 1.6 0 1 0 -3.2 0M206.9 437.4a1.6 1.6 0 1 0 3.2 0a1.6 1.6 0 1 0 -3.2 0M207.4 436.6a1.6 1.6 0 1 0 3.2 0a1.6 1.6 0 1 0 -3.2 0M207.9 436.5a1.6 1.6 0 1 0 3.2 0a1.6 1.6 0 1 0 -3.2 0M208.4 433.4a1.6 1.6 0 1 0 3.2 0a1.6 1.6 0 1 0 -3.2 0M208.8 433.4a1.6 1.6 0 1 0 3.2 0a1.6 1.6 0 1 0 -3.2 0M209.3 433.9a1.6 1.6 0 1 0 3.2 0a1.6 1.6 0 1 0 -3.2 0M209.8 434.1a1.6 1.6 0 1 0 3.2 0a1.6 1.6 0 1 0 -3.2 0M210.3 434.3a1.6 1.6 0 1 0 3.2 0a1.6 1.6 0 1 0 -3.2 0M210.8 434.2a1.6 1.6 0 1 0 3.2 0a1.6 1.6 0 1 0 -3.2 0M211.2 431.8a1.6 1.6 0 1 0 3.2 0a1.6 1.6 0 1 0 -3.2 0M211.7 432.2a1.6 1.6 0 1 0 3.2 0a1.6 1.6 0 1 0 -3.2 0M212.2 432.6a1.6 1.6 0 1 0 3.2 0a1.6 1.6 0 1 0 -3.2 0M212.7 429.3a1.6 1.6 0 1 0 3.2 0a1.6 1.6 0 1 0 -3.2 0M213.1 431a1.6 1.6 0 1 0 3.2 0a1.6 1.6 0 1 0 -3.2 0M213.6 428.4a1.6 1.6 0 1 0 3.2 0a1.6 1.6 0 1 0 -3.2 0M214.1 427.8a1.6 1.6 0 1 0 3.2 0a1.6 1.6 0 1 0 -3.2 0M214.6 424.3a1.6 1.6 0 1 0 3.2 0a1.6 1.6 0 1 0 -3.2 0M215.1 423.8a1.6 1.6 0 1 0 3.2 0a1.6 1.6 0 1 0 -3.2 0M215.5 423.7a1.6 1.6 0 1 0 3.2 0a1.6 1.6 0 1 0 -3.2 0M216 421.1a1.6 1.6 0 1 0 3.2 0a1.6 1.6 0 1 0 -3.2 0M216.5 418.5a1.6 1.6 0 1 0 3.2 0a1.6 1.6 0 1 0 -3.2 0M217 421.6a1.6 1.6 0 1 0 3.2 0a1.6 1.6 0 1 0 -3.2 0M217.5 420.7a1.6 1.6 0 1 0 3.2 0a1.6 1.6 0 1 0 -3.2 0M217.9 418.2a1.6 1.6 0 1 0 3.2 0a1.6 1.6 0 1 0 -3.2 0M218.4 417a1.6 1.6 0 1 0 3.2 0a1.6 1.6 0 1 0 -3.2 0M218.9 420.7a1.6 1.6 0 1 0 3.2 0a1.6 1.6 0 1 0 -3.2 0M219.4 419.6a1.6 1.6 0 1 0 3.2 0a1.6 1.6 0 1 0 -3.2 0M219.8 417a1.6 1.6 0 1 0 3.2 0a1.6 1.6 0 1 0 -3.2 0M220.3 417.9a1.6 1.6 0 1 0 3.2 0a1.6 1.6 0 1 0 -3.2 0M220.8 417.3a1.6 1.6 0 1 0 3.2 0a1.6 1.6 0 1 0 -3.2 0M221.3 420.4a1.6 1.6 0 1 0 3.2 0a1.6 1.6 0 1 0 -3.2 0M221.8 417.8a1.6 1.6 0 1 0 3.2 0a1.6 1.6 0 1 0 -3.2 0M222.2 421a1.6 1.6 0 1 0 3.2 0a1.6 1.6 0 1 0 -3.2 0M222.7 420.2a1.6 1.6 0 1 0 3.2 0a1.6 1.6 0 1 0 -3.2 0M223.2 417.2a1.6 1.6 0 1 0 3.2 0a1.6 1.6 0 1 0 -3.2 0M223.7 420a1.6 1.6 0 1 0 3.2 0a1.6 1.6 0 1 0 -3.2 0M224.2 418.6a1.6 1.6 0 1 0 3.2 0a1.6 1.6 0 1 0 -3.2 0M224.6 420.2a1.6 1.6 0 1 0 3.2 0a1.6 1.6 0 1 0 -3.2 0M225.1 420.6a1.6 1.6 0 1 0 3.2 0a1.6 1.6 0 1 0 -3.2 0M225.6 418.1a1.6 1.6 0 1 0 3.2 0a1.6 1.6 0 1 0 -3.2 0M226.1 417.2a1.6 1.6 0 1 0 3.2 0a1.6 1.6 0 1 0 -3.2 0M226.5 421.2a1.6 1.6 0 1 0 3.2 0a1.6 1.6 0 1 0 -3.2 0M227 418.8a1.6 1.6 0 1 0 3.2 0a1.6 1.6 0 1 0 -3.2 0M227.5 421.1a1.6 1.6 0 1 0 3.2 0a1.6 1.6 0 1 0 -3.2 0M228 420a1.6 1.6 0 1 0 3.2 0a1.6 1.6 0 1 0 -3.2 0M228.5 420.2a1.6 1.6 0 1 0 3.2 0a1.6 1.6 0 1 0 -3.2 0M228.9 420.6a1.6 1.6 0 1 0 3.2 0a1.6 1.6 0 1 0 -3.2 0M229.4 419.7a1.6 1.6 0 1 0 3.2 0a1.6 1.6 0 1 0 -3.2 0M229.9 418.9a1.6 1.6 0 1 0 3.2 0a1.6 1.6 0 1 0 -3.2 0M230.4 417a1.6 1.6 0 1 0 3.2 0a1.6 1.6 0 1 0 -3.2 0M230.9 420a1.6 1.6 0 1 0 3.2 0a1.6 1.6 0 1 0 -3.2 0M231.3 418.8a1.6 1.6 0 1 0 3.2 0a1.6 1.6 0 1 0 -3.2 0M231.8 419.2a1.6 1.6 0 1 0 3.2 0a1.6 1.6 0 1 0 -3.2 0M232.3 421.1a1.6 1.6 0 1 0 3.2 0a1.6 1.6 0 1 0 -3.2 0M232.8 417.4a1.6 1.6 0 1 0 3.2 0a1.6 1.6 0 1 0 -3.2 0M233.2 420.3a1.6 1.6 0 1 0 3.2 0a1.6 1.6 0 1 0 -3.2 0M233.7 417a1.6 1.6 0 1 0 3.2 0a1.6 1.6 0 1 0 -3.2 0M234.2 420a1.6 1.6 0 1 0 3.2 0a1.6 1.6 0 1 0 -3.2 0M234.7 420.5a1.6 1.6 0 1 0 3.2 0a1.6 1.6 0 1 0 -3.2 0M235.2 418a1.6 1.6 0 1 0 3.2 0a1.6 1.6 0 1 0 -3.2 0M235.6 419.4a1.6 1.6 0 1 0 3.2 0a1.6 1.6 0 1 0 -3.2 0M236.1 421.6a1.6 1.6 0 1 0 3.2 0a1.6 1.6 0 1 0 -3.2 0M236.6 420.4a1.6 1.6 0 1 0 3.2 0a1.6 1.6 0 1 0 -3.2 0M237.1 420.6a1.6 1.6 0 1 0 3.2 0a1.6 1.6 0 1 0 -3.2 0M237.5 419.9a1.6 1.6 0 1 0 3.2 0a1.6 1.6 0 1 0 -3.2 0M238 419.8a1.6 1.6 0 1 0 3.2 0a1.6 1.6 0 1 0 -3.2 0M238.5 422.1a1.6 1.6 0 1 0 3.2 0a1.6 1.6 0 1 0 -3.2 0M239 423.3a1.6 1.6 0 1 0 3.2 0a1.6 1.6 0 1 0 -3.2 0M239.5 423.4a1.6 1.6 0 1 0 3.2 0a1.6 1.6 0 1 0 -3.2 0M239.9 425a1.6 1.6 0 1 0 3.2 0a1.6 1.6 0 1 0 -3.2 0M240.4 425.3a1.6 1.6 0 1 0 3.2 0a1.6 1.6 0 1 0 -3.2 0M240.9 429a1.6 1.6 0 1 0 3.2 0a1.6 1.6 0 1 0 -3.2 0M241.4 429.9a1.6 1.6 0 1 0 3.2 0a1.6 1.6 0 1 0 -3.2 0M241.9 429a1.6 1.6 0 1 0 3.2 0a1.6 1.6 0 1 0 -3.2 0M242.3 430a1.6 1.6 0 1 0 3.2 0a1.6 1.6 0 1 0 -3.2 0M242.8 432.2a1.6 1.6 0 1 0 3.2 0a1.6 1.6 0 1 0 -3.2 0M243.3 432.7a1.6 1.6 0 1 0 3.2 0a1.6 1.6 0 1 0 -3.2 0M243.8 435.7a1.6 1.6 0 1 0 3.2 0a1.6 1.6 0 1 0 -3.2 0M244.2 433.6a1.6 1.6 0 1 0 3.2 0a1.6 1.6 0 1 0 -3.2 0M244.7 433.8a1.6 1.6 0 1 0 3.2 0a1.6 1.6 0 1 0 -3.2 0M245.2 436.8a1.6 1.6 0 1 0 3.2 0a1.6 1.6 0 1 0 -3.2 0M245.7 433.5a1.6 1.6 0 1 0 3.2 0a1.6 1.6 0 1 0 -3.2 0M246.2 435.5a1.6 1.6 0 1 0 3.2 0a1.6 1.6 0 1 0 -3.2 0M246.6 434.4a1.6 1.6 0 1 0 3.2 0a1.6 1.6 0 1 0 -3.2 0M247.1 436.7a1.6 1.6 0 1 0 3.2 0a1.6 1.6 0 1 0 -3.2 0M247.6 435.4a1.6 1.6 0 1 0 3.2 0a1.6 1.6 0 1 0 -3.2 0M248.1 436.4a1.6 1.6 0 1 0 3.2 0a1.6 1.6 0 1 0 -3.2 0M248.6 433.7a1.6 1.6 0 1 0 3.2 0a1.6 1.6 0 1 0 -3.2 0M249 436a1.6 1.6 0 1 0 3.2 0a1.6 1.6 0 1 0 -3.2 0M249.5 435.7a1.6 1.6 0 1 0 3.2 0a1.6 1.6 0 1 0 -3.2 0M250 435a1.6 1.6 0 1 0 3.2 0a1.6 1.6 0 1 0 -3.2 0M250.5 436.4a1.6 1.6 0 1 0 3.2 0a1.6 1.6 0 1 0 -3.2 0M250.9 436.7a1.6 1.6 0 1 0 3.2 0a1.6 1.6 0 1 0 -3.2 0M251.4 433.4a1.6 1.6 0 1 0 3.2 0a1.6 1.6 0 1 0 -3.2 0M251.9 434.2a1.6 1.6 0 1 0 3.2 0a1.6 1.6 0 1 0 -3.2 0M252.4 434.6a1.6 1.6 0 1 0 3.2 0a1.6 1.6 0 1 0 -3.2 0M252.9 433.8a1.6 1.6 0 1 0 3.2 0a1.6 1.6 0 1 0 -3.2 0M253.3 433.2a1.6 1.6 0 1 0 3.2 0a1.6 1.6 0 1 0 -3.2 0M253.8 434.2a1.6 1.6 0 1 0 3.2 0a1.6 1.6 0 1 0 -3.2 0M254.3 433.8a1.6 1.6 0 1 0 3.2 0a1.6 1.6 0 1 0 -3.2 0M254.8 436.1a1.6 1.6 0 1 0 3.2 0a1.6 1.6 0 1 0 -3.2 0M255.3 435a1.6 1.6 0 1 0 3.2 0a1.6 1.6 0 1 0 -3.2 0M255.7 433.4a1.6 1.6 0 1 0 3.2 0a1.6 1.6 0 1 0 -3.2 0M256.2 434.4a1.6 1.6 0 1 0 3.2 0a1.6 1.6 0 1 0 -3.2 0M256.7 435.1a1.6 1.6 0 1 0 3.2 0a1.6 1.6 0 1 0 -3.2 0M257.2 434.6a1.6 1.6 0 1 0 3.2 0a1.6 1.6 0 1 0 -3.2 0M257.6 433.7a1.6 1.6 0 1 0 3.2 0a1.6 1.6 0 1 0 -3.2 0M258.1 433.2a1.6 1.6 0 1 0 3.2 0a1.6 1.6 0 1 0 -3.2 0M258.6 432.8a1.6 1.6 0 1 0 3.2 0a1.6 1.6 0 1 0 -3.2 0M259.1 436.8a1.6 1.6 0 1 0 3.2 0a1.6 1.6 0 1 0 -3.2 0M259.6 435a1.6 1.6 0 1 0 3.2 0a1.6 1.6 0 1 0 -3.2 0M260 431.1a1.6 1.6 0 1 0 3.2 0a1.6 1.6 0 1 0 -3.2 0M260.5 432.9a1.6 1.6 0 1 0 3.2 0a1.6 1.6 0 1 0 -3.2 0M261 432.9a1.6 1.6 0 1 0 3.2 0a1.6 1.6 0 1 0 -3.2 0M261.5 429.7a1.6 1.6 0 1 0 3.2 0a1.6 1.6 0 1 0 -3.2 0M262 426.3a1.6 1.6 0 1 0 3.2 0a1.6 1.6 0 1 0 -3.2 0M262.4 426.6a1.6 1.6 0 1 0 3.2 0a1.6 1.6 0 1 0 -3.2 0M262.9 425a1.6 1.6 0 1 0 3.2 0a1.6 1.6 0 1 0 -3.2 0M263.4 422.5a1.6 1.6 0 1 0 3.2 0a1.6 1.6 0 1 0 -3.2 0M263.9 422.8a1.6 1.6 0 1 0 3.2 0a1.6 1.6 0 1 0 -3.2 0M264.3 419.2a1.6 1.6 0 1 0 3.2 0a1.6 1.6 0 1 0 -3.2 0M264.8 422.4a1.6 1.6 0 1 0 3.2 0a1.6 1.6 0 1 0 -3.2 0M265.3 420.2a1.6 1.6 0 1 0 3.2 0a1.6 1.6 0 1 0 -3.2 0M265.8 419.5a1.6 1.6 0 1 0 3.2 0a1.6 1.6 0 1 0 -3.2 0M266.3 420.5a1.6 1.6 0 1 0 3.2 0a1.6 1.6 0 1 0 -3.2 0M266.7 419.1a1.6 1.6 0 1 0 3.2 0a1.6 1.6 0 1 0 -3.2 0M267.2 417.3a1.6 1.6 0 1 0 3.2 0a1.6 1.6 0 1 0 -3.2 0M267.7 417.2a1.6 1.6 0 1 0 3.2 0a1.6 1.6 0 1 0 -3.2 0M268.2 416.7a1.6 1.6 0 1 0 3.2 0a1.6 1.6 0 1 0 -3.2 0M268.7 416.2a1.6 1.6 0 1 0 3.2 0a1.6 1.6 0 1 0 -3.2 0M269.1 419.7a1.6 1.6 0 1 0 3.2 0a1.6 1.6 0 1 0 -3.2 0M269.6 420a1.6 1.6 0 1 0 3.2 0a1.6 1.6 0 1 0 -3.2 0M270.1 417.5a1.6 1.6 0 1 0 3.2 0a1.6 1.6 0 1 0 -3.2 0M270.6 417a1.6 1.6 0 1 0 3.2 0a1.6 1.6 0 1 0 -3.2 0M271 419a1.6 1.6 0 1 0 3.2 0a1.6 1.6 0 1 0 -3.2 0M271.5 420a1.6 1.6 0 1 0 3.2 0a1.6 1.6 0 1 0 -3.2 0M272 420.4a1.6 1.6 0 1 0 3.2 0a1.6 1.6 0 1 0 -3.2 0M272.5 416.9a1.6 1.6 0 1 0 3.2 0a1.6 1.6 0 1 0 -3.2 0M273 419.7a1.6 1.6 0 1 0 3.2 0a1.6 1.6 0 1 0 -3.2 0M273.4 419.9a1.6 1.6 0 1 0 3.2 0a1.6 1.6 0 1 0 -3.2 0M273.9 419.5a1.6 1.6 0 1 0 3.2 0a1.6 1.6 0 1 0 -3.2 0M274.4 417.6a1.6 1.6 0 1 0 3.2 0a1.6 1.6 0 1 0 -3.2 0M274.9 416.9a1.6 1.6 0 1 0 3.2 0a1.6 1.6 0 1 0 -3.2 0M275.4 419.9a1.6 1.6 0 1 0 3.2 0a1.6 1.6 0 1 0 -3.2 0M275.8 417.6a1.6 1.6 0 1 0 3.2 0a1.6 1.6 0 1 0 -3.2 0M276.3 417.8a1.6 1.6 0 1 0 3.2 0a1.6 1.6 0 1 0 -3.2 0M276.8 418.6a1.6 1.6 0 1 0 3.2 0a1.6 1.6 0 1 0 -3.2 0M277.3 417.8a1.6 1.6 0 1 0 3.2 0a1.6 1.6 0 1 0 -3.2 0M277.7 419.9a1.6 1.6 0 1 0 3.2 0a1.6 1.6 0 1 0 -3.2 0M278.2 417.2a1.6 1.6 0 1 0 3.2 0a1.6 1.6 0 1 0 -3.2 0M278.7 416.3a1.6 1.6 0 1 0 3.2 0a1.6 1.6 0 1 0 -3.2 0M279.2 418.7a1.6 1.6 0 1 0 3.2 0a1.6 1.6 0 1 0 -3.2 0M279.7 419a1.6 1.6 0 1 0 3.2 0a1.6 1.6 0 1 0 -3.2 0M280.1 419.9a1.6 1.6 0 1 0 3.2 0a1.6 1.6 0 1 0 -3.2 0M280.6 419.3a1.6 1.6 0 1 0 3.2 0a1.6 1.6 0 1 0 -3.2 0M281.1 420.3a1.6 1.6 0 1 0 3.2 0a1.6 1.6 0 1 0 -3.2 0M281.6 420.4a1.6 1.6 0 1 0 3.2 0a1.6 1.6 0 1 0 -3.2 0M282 418.4a1.6 1.6 0 1 0 3.2 0a1.6 1.6 0 1 0 -3.2 0M282.5 418.4a1.6 1.6 0 1 0 3.2 0a1.6 1.6 0 1 0 -3.2 0M283 416.8a1.6 1.6 0 1 0 3.2 0a1.6 1.6 0 1 0 -3.2 0M283.5 417.5a1.6 1.6 0 1 0 3.2 0a1.6 1.6 0 1 0 -3.2 0M284 418.8a1.6 1.6 0 1 0 3.2 0a1.6 1.6 0 1 0 -3.2 0M284.4 416.7a1.6 1.6 0 1 0 3.2 0a1.6 1.6 0 1 0 -3.2 0M284.9 419.9a1.6 1.6 0 1 0 3.2 0a1.6 1.6 0 1 0 -3.2 0M285.4 418a1.6 1.6 0 1 0 3.2 0a1.6 1.6 0 1 0 -3.2 0M285.9 420a1.6 1.6 0 1 0 3.2 0a1.6 1.6 0 1 0 -3.2 0M286.4 423.2a1.6 1.6 0 1 0 3.2 0a1.6 1.6 0 1 0 -3.2 0M286.8 420.1a1.6 1.6 0 1 0 3.2 0a1.6 1.6 0 1 0 -3.2 0M287.3 420.9a1.6 1.6 0 1 0 3.2 0a1.6 1.6 0 1 0 -3.2 0M287.8 423.8a1.6 1.6 0 1 0 3.2 0a1.6 1.6 0 1 0 -3.2 0M288.3 423.8a1.6 1.6 0 1 0 3.2 0a1.6 1.6 0 1 0 -3.2 0M288.7 427.4a1.6 1.6 0 1 0 3.2 0a1.6 1.6 0 1 0 -3.2 0M289.2 425.2a1.6 1.6 0 1 0 3.2 0a1.6 1.6 0 1 0 -3.2 0M289.7 430.3a1.6 1.6 0 1 0 3.2 0a1.6 1.6 0 1 0 -3.2 0M290.2 431.4a1.6 1.6 0 1 0 3.2 0a1.6 1.6 0 1 0 -3.2 0M290.7 432.2a1.6 1.6 0 1 0 3.2 0a1.6 1.6 0 1 0 -3.2 0M291.1 431.6a1.6 1.6 0 1 0 3.2 0a1.6 1.6 0 1 0 -3.2 0M291.6 431.8a1.6 1.6 0 1 0 3.2 0a1.6 1.6 0 1 0 -3.2 0M292.1 434.4a1.6 1.6 0 1 0 3.2 0a1.6 1.6 0 1 0 -3.2 0M292.6 434.4a1.6 1.6 0 1 0 3.2 0a1.6 1.6 0 1 0 -3.2 0M293.1 434.5a1.6 1.6 0 1 0 3.2 0a1.6 1.6 0 1 0 -3.2 0M293.5 434.5a1.6 1.6 0 1 0 3.2 0a1.6 1.6 0 1 0 -3.2 0M294 435.2a1.6 1.6 0 1 0 3.2 0a1.6 1.6 0 1 0 -3.2 0M294.5 436.3a1.6 1.6 0 1 0 3.2 0a1.6 1.6 0 1 0 -3.2 0M295 437a1.6 1.6 0 1 0 3.2 0a1.6 1.6 0 1 0 -3.2 0M295.4 437.4a1.6 1.6 0 1 0 3.2 0a1.6 1.6 0 1 0 -3.2 0M295.9 434a1.6 1.6 0 1 0 3.2 0a1.6 1.6 0 1 0 -3.2 0M296.4 434.6a1.6 1.6 0 1 0 3.2 0a1.6 1.6 0 1 0 -3.2 0M296.9 435.2a1.6 1.6 0 1 0 3.2 0a1.6 1.6 0 1 0 -3.2 0M297.4 435.8a1.6 1.6 0 1 0 3.2 0a1.6 1.6 0 1 0 -3.2 0M297.8 434.8a1.6 1.6 0 1 0 3.2 0a1.6 1.6 0 1 0 -3.2 0M298.3 434.1a1.6 1.6 0 1 0 3.2 0a1.6 1.6 0 1 0 -3.2 0M298.8 433.6a1.6 1.6 0 1 0 3.2 0a1.6 1.6 0 1 0 -3.2 0M299.3 434.7a1.6 1.6 0 1 0 3.2 0a1.6 1.6 0 1 0 -3.2 0M299.8 435.3a1.6 1.6 0 1 0 3.2 0a1.6 1.6 0 1 0 -3.2 0M300.2 437.7a1.6 1.6 0 1 0 3.2 0a1.6 1.6 0 1 0 -3.2 0M300.7 437.4a1.6 1.6 0 1 0 3.2 0a1.6 1.6 0 1 0 -3.2 0M301.2 437.2a1.6 1.6 0 1 0 3.2 0a1.6 1.6 0 1 0 -3.2 0M301.7 437.7a1.6 1.6 0 1 0 3.2 0a1.6 1.6 0 1 0 -3.2 0M302.1 437.6a1.6 1.6 0 1 0 3.2 0a1.6 1.6 0 1 0 -3.2 0M302.6 436.1a1.6 1.6 0 1 0 3.2 0a1.6 1.6 0 1 0 -3.2 0M303.1 436.9a1.6 1.6 0 1 0 3.2 0a1.6 1.6 0 1 0 -3.2 0M303.6 433.5a1.6 1.6 0 1 0 3.2 0a1.6 1.6 0 1 0 -3.2 0M304.1 436.3a1.6 1.6 0 1 0 3.2 0a1.6 1.6 0 1 0 -3.2 0M304.5 436a1.6 1.6 0 1 0 3.2 0a1.6 1.6 0 1 0 -3.2 0M305 434.6a1.6 1.6 0 1 0 3.2 0a1.6 1.6 0 1 0 -3.2 0M305.5 435.8a1.6 1.6 0 1 0 3.2 0a1.6 1.6 0 1 0 -3.2 0M306 437.6a1.6 1.6 0 1 0 3.2 0a1.6 1.6 0 1 0 -3.2 0" stroke="#ff10f0" stroke-width="1.0" fill="none"/>
<line x1="44.4" y1="444.1" x2="44.4" y2="448.3" stroke="#000" stroke-width="1.0"/>
<text x="44.4" y="459.2" font-size="10.1" text-anchor="middle" font-weight="bold">0</text>
<line x1="68.4" y1="444.1" x2="68.4" y2="446.6" stroke="#000" stroke-width="1.0"/>
<line x1="92.4" y1="444.1" x2="92.4" y2="448.3" stroke="#000" stroke-width="1.0"/>
<text x="92.4" y="459.2" font-size="10.1" text-anchor="middle" font-weight="bold">100</text>
<line x1="116.4" y1="444.1" x2="116.4" y2="446.6" stroke="#000" stroke-width="1.0"/>
<line x1="140.4" y1="444.1" x2="140.4" y2="448.3" stroke="#000" stroke-width="1.0"/>
<text x="140.4" y="459.2" font-size="10.1" text-anchor="middle" font-weight="bold">200</text>
<line x1="164.4" y1="444.1" x2="164.4" y2="446.6" stroke="#000" stroke-width="1.0"/>
<line x1="188.4" y1="444.1" x2="188.4" y2="448.3" stroke="#000" stroke-width="1.0"/>
<text x="188.4" y="459.2" font-size="10.1" text-anchor="middle" font-weight="bold">300</text>
<line x1="212.4" y1="444.1" x2="212.4" y2="446.6" stroke="#000" stroke-width="1.0"/>
<line x1="236.4" y1="444.1" x2="236.4" y2="448.3" stroke="#000" stroke-width="1.0"/>
<text x="236.4" y="459.2" font-size="10.1" text-anchor="middle" font-weight="bold">400</text>
<line x1="260.4" y1="444.1" x2="260.4" y2="446.6" stroke="#000" stroke-width="1.0"/>
<line x1="284.4" y1="444.1" x2="284.4" y2="448.3" stroke="#000" stroke-width="1.0"/>
<text x="284.4" y="459.2" font-size="10.1" text-anchor="middle" font-weight="bold">500</text>
<line x1="308.4" y1="444.1" x2="308.4" y2="446.6" stroke="#000" stroke-width="1.0"/>
<line x1="40" y1="444.1" x2="44.4" y2="444.1" stroke="#000" stroke-width="1.2"/>
<line x1="41.8" y1="434.3" x2="44.4" y2="434.3" stroke="#000" stroke-width="0.95"/>
<line x1="41.8" y1="428.6" x2="44.4" y2="428.6" stroke="#000" stroke-width="0.95"/>
<line x1="41.8" y1="424.5" x2="44.4" y2="424.5" stroke="#000" stroke-width="0.95"/>
<line x1="41.8" y1="421.4" x2="44.4" y2="421.4" stroke="#000" stroke-width="0.95"/>
<line x1="41.8" y1="418.8" x2="44.4" y2="418.8" stroke="#000" stroke-width="0.95"/>
<line x1="41.8" y1="416.6" x2="44.4" y2="416.6" stroke="#000" stroke-width="0.95"/>
<line x1="41.8" y1="414.7" x2="44.4" y2="414.7" stroke="#000" stroke-width="0.95"/>
<line x1="41.8" y1="413.1" x2="44.4" y2="413.1" stroke="#000" stroke-width="0.95"/>
<line x1="40" y1="411.6" x2="44.4" y2="411.6" stroke="#000" stroke-width="1.2"/>
<line x1="41.8" y1="401.8" x2="44.4" y2="401.8" stroke="#000" stroke-width="0.95"/>
<line x1="41.8" y1="396.1" x2="44.4" y2="396.1" stroke="#000" stroke-width="0.95"/>
<line x1="41.8" y1="392" x2="44.4" y2="392" stroke="#000" stroke-width="0.95"/>
<line x1="41.8" y1="388.9" x2="44.4" y2="388.9" stroke="#000" stroke-width="0.95"/>
<line x1="41.8" y1="386.3" x2="44.4" y2="386.3" stroke="#000" stroke-width="0.95"/>
<line x1="41.8" y1="384.1" x2="44.4" y2="384.1" stroke="#000" stroke-width="0.95"/>
<line x1="41.8" y1="382.2" x2="44.4" y2="382.2" stroke="#000" stroke-width="0.95"/>
<line x1="41.8" y1="380.6" x2="44.4" y2="380.6" stroke="#000" stroke-width="0.95"/>
<line x1="40" y1="379.1" x2="44.4" y2="379.1" stroke="#000" stroke-width="1.2"/>
<line x1="41.8" y1="369.3" x2="44.4" y2="369.3" stroke="#000" stroke-width="0.95"/>
<line x1="41.8" y1="363.6" x2="44.4" y2="363.6" stroke="#000" stroke-width="0.95"/>
<line x1="41.8" y1="359.5" x2="44.4" y2="359.5" stroke="#000" stroke-width="0.95"/>
<line x1="41.8" y1="356.4" x2="44.4" y2="356.4" stroke="#000" stroke-width="0.95"/>
<line x1="41.8" y1="353.8" x2="44.4" y2="353.8" stroke="#000" stroke-width="0.95"/>
<line x1="41.8" y1="351.6" x2="44.4" y2="351.6" stroke="#000" stroke-width="0.95"/>
<line x1="41.8" y1="349.7" x2="44.4" y2="349.7" stroke="#000" stroke-width="0.95"/>
<line x1="41.8" y1="348.1" x2="44.4" y2="348.1" stroke="#000" stroke-width="0.95"/>
<line x1="40" y1="346.6" x2="44.4" y2="346.6" stroke="#000" stroke-width="1.2"/>
<line x1="41.8" y1="336.8" x2="44.4" y2="336.8" stroke="#000" stroke-width="0.95"/>
<line x1="41.8" y1="331.1" x2="44.4" y2="331.1" stroke="#000" stroke-width="0.95"/>
<line x1="41.8" y1="327" x2="44.4" y2="327" stroke="#000" stroke-width="0.95"/>
<line x1="41.8" y1="323.9" x2="44.4" y2="323.9" stroke="#000" stroke-width="0.95"/>
<line x1="41.8" y1="321.3" x2="44.4" y2="321.3" stroke="#000" stroke-width="0.95"/>
<line x1="41.8" y1="319.1" x2="44.4" y2="319.1" stroke="#000" stroke-width="0.95"/>
<line x1="41.8" y1="317.2" x2="44.4" y2="317.2" stroke="#000" stroke-width="0.95"/>
<line x1="41.8" y1="315.6" x2="44.4" y2="315.6" stroke="#000" stroke-width="0.95"/>
<line x1="40" y1="314.1" x2="44.4" y2="314.1" stroke="#000" stroke-width="1.2"/>
<line x1="41.8" y1="304.3" x2="44.4" y2="304.3" stroke="#000" stroke-width="0.95"/>
<line x1="41.8" y1="298.6" x2="44.4" y2="298.6" stroke="#000" stroke-width="0.95"/>
<line x1="41.8" y1="294.5" x2="44.4" y2="294.5" stroke="#000" stroke-width="0.95"/>
<line x1="41.8" y1="291.4" x2="44.4" y2="291.4" stroke="#000" stroke-width="0.95"/>
<line x1="41.8" y1="288.8" x2="44.4" y2="288.8" stroke="#000" stroke-width="0.95"/>
<line x1="41.8" y1="286.6" x2="44.4" y2="286.6" stroke="#000" stroke-width="0.95"/>
<line x1="41.8" y1="284.7" x2="44.4" y2="284.7" stroke="#000" stroke-width="0.95"/>
<line x1="41.8" y1="283.1" x2="44.4" y2="283.1" stroke="#000" stroke-width="0.95"/>
<line x1="40" y1="281.6" x2="44.4" y2="281.6" stroke="#000" stroke-width="1.2"/>
<line x1="41.8" y1="271.8" x2="44.4" y2="271.8" stroke="#000" stroke-width="0.95"/>
<line x1="41.8" y1="266.1" x2="44.4" y2="266.1" stroke="#000" stroke-width="0.95"/>
<line x1="41.8" y1="262" x2="44.4" y2="262" stroke="#000" stroke-width="0.95"/>
<line x1="41.8" y1="258.9" x2="44.4" y2="258.9" stroke="#000" stroke-width="0.95"/>
<line x1="41.8" y1="256.3" x2="44.4" y2="256.3" stroke="#000" stroke-width="0.95"/>
<line x1="41.8" y1="254.1" x2="44.4" y2="254.1" stroke="#000" stroke-width="0.95"/>
<line x1="41.8" y1="252.2" x2="44.4" y2="252.2" stroke="#000" stroke-width="0.95"/>
<line x1="41.8" y1="250.6" x2="44.4" y2="250.6" stroke="#000" stroke-width="0.95"/>
<line x1="40" y1="249.1" x2="44.4" y2="249.1" stroke="#000" stroke-width="1.2"/>
<text x="37.4" y="447.1" font-size="9.0" font-weight="bold" text-anchor="end">10<tspan font-size="6.3" dy="-3.6">-7</tspan></text>
<text x="37.4" y="414.6" font-size="9.0" font-weight="bold" text-anchor="end">10<tspan font-size="6.3" dy="-3.6">-6</tspan></text>
<text x="37.4" y="382.1" font-size="9.0" font-weight="bold" text-anchor="end">10<tspan font-size="6.3" dy="-3.6">-5</tspan></text>
<text x="37.4" y="349.6" font-size="9.0" font-weight="bold" text-anchor="end">10<tspan font-size="6.3" dy="-3.6">-4</tspan></text>
<text x="37.4" y="317.1" font-size="9.0" font-weight="bold" text-anchor="end">10<tspan font-size="6.3" dy="-3.6">-3</tspan></text>
<text x="37.4" y="284.6" font-size="9.0" font-weight="bold" text-anchor="end">10<tspan font-size="6.3" dy="-3.6">-2</tspan></text>
<text x="37.4" y="252.1" font-size="9.0" font-weight="bold" text-anchor="end">10<tspan font-size="6.3" dy="-3.6">-1</tspan></text>
<rect x="44.4" y="249.1" width="263.8" height="195" fill="none" stroke="#000" stroke-width="1.4"/>
<text x="0.6" y="259" font-size="18.5" font-weight="bold" textLength="20.2" lengthAdjust="spacingAndGlyphs">(c)</text>
<text transform="translate(14.4 354) rotate(-90)" font-size="12.5" font-weight="bold" text-anchor="middle">Current (A)</text>
<text x="174.5" y="476.2" font-size="12.5" text-anchor="middle" font-weight="bold" textLength="42.5" lengthAdjust="spacingAndGlyphs">Time (s)</text>
<text x="64.5" y="380.8" font-size="10.5" font-weight="bold" textLength="34.6" lengthAdjust="spacingAndGlyphs">20 ppm</text>
<text x="112.7" y="366.8" font-size="10.5" font-weight="bold" textLength="35.4" lengthAdjust="spacingAndGlyphs">50 ppm</text>
<text x="158.4" y="356.4" font-size="10.5" font-weight="bold" textLength="39.6" lengthAdjust="spacingAndGlyphs">100 ppm</text>
<text x="206" y="353.3" font-size="10.5" font-weight="bold" textLength="39.8" lengthAdjust="spacingAndGlyphs">500 ppm</text>
<text x="253.5" y="352.6" font-size="10.5" font-weight="bold" textLength="44.6" lengthAdjust="spacingAndGlyphs">1000 ppm</text>
<rect x="47.2" y="252" width="117.8" height="44" fill="#fff" stroke="#777" stroke-width="0.9"/>
<line x1="53" y1="263.5" x2="75.2" y2="263.5" stroke="#ff10f0" stroke-width="1.5"/>
<circle cx="64.1" cy="263.5" r="2.1" fill="#ff10f0"/>
<circle cx="64.1" cy="263.5" r="0.9450000000000001" fill="#ff90f8"/>
<line x1="53" y1="282.8" x2="75.2" y2="282.8" stroke="#0a8282" stroke-width="1.5"/>
<circle cx="64.1" cy="282.8" r="2.1" fill="#077070"/>
<circle cx="64.1" cy="282.8" r="0.9450000000000001" fill="#48aaaa"/>
<text x="77.9" y="266.9" font-size="12" font-weight="bold">TiO<tspan font-size="7.4" dy="3.6">2</tspan></text>
<text x="77.9" y="286.2" font-size="12" font-weight="bold" textLength="82" lengthAdjust="spacingAndGlyphs">TiO<tspan font-size="7.4" dy="3.6">2</tspan><tspan dy="-3.6">/Ag</tspan><tspan font-size="7.4" dy="3.6">0.35</tspan><tspan dy="-3.6">V</tspan><tspan font-size="7.4" dy="3.6">2</tspan><tspan dy="-3.6">O</tspan><tspan font-size="7.4" dy="3.6">5</tspan></text>
<rect x="199.7" y="4" width="108.7" height="63.4" fill="#fff"/>
<line x1="199.7" y1="4" x2="199.7" y2="67.9" stroke="#000" stroke-width="1.1"/>
<line x1="199.2" y1="67.4" x2="308.4" y2="67.4" stroke="#000" stroke-width="1.1"/>
<line x1="201.7" y1="67.4" x2="201.7" y2="69.6" stroke="#000" stroke-width="0.7"/>
<text x="201.7" y="75" font-size="6.0" text-anchor="middle" font-weight="bold">250</text>
<line x1="214.3" y1="67.4" x2="214.3" y2="68.8" stroke="#000" stroke-width="0.7"/>
<line x1="226.9" y1="67.4" x2="226.9" y2="69.6" stroke="#000" stroke-width="0.7"/>
<text x="226.9" y="75" font-size="6.0" text-anchor="middle" font-weight="bold">300</text>
<line x1="239.4" y1="67.4" x2="239.4" y2="68.8" stroke="#000" stroke-width="0.7"/>
<line x1="252" y1="67.4" x2="252" y2="69.6" stroke="#000" stroke-width="0.7"/>
<text x="252" y="75" font-size="6.0" text-anchor="middle" font-weight="bold">350</text>
<line x1="264.6" y1="67.4" x2="264.6" y2="68.8" stroke="#000" stroke-width="0.7"/>
<line x1="277.2" y1="67.4" x2="277.2" y2="69.6" stroke="#000" stroke-width="0.7"/>
<text x="277.2" y="75" font-size="6.0" text-anchor="middle" font-weight="bold">400</text>
<line x1="289.8" y1="67.4" x2="289.8" y2="68.8" stroke="#000" stroke-width="0.7"/>
<line x1="302.3" y1="67.4" x2="302.3" y2="69.6" stroke="#000" stroke-width="0.7"/>
<text x="302.3" y="75" font-size="6.0" text-anchor="middle" font-weight="bold">450</text>
<line x1="197.5" y1="67" x2="199.7" y2="67" stroke="#000" stroke-width="0.7"/>
<text x="197.2" y="69.1" font-size="6.2" text-anchor="end" font-weight="bold">0</text>
<line x1="198.3" y1="57.7" x2="199.7" y2="57.7" stroke="#000" stroke-width="0.7"/>
<line x1="197.5" y1="48.4" x2="199.7" y2="48.4" stroke="#000" stroke-width="0.7"/>
<text x="197.2" y="50.5" font-size="6.2" text-anchor="end" font-weight="bold">10</text>
<line x1="198.3" y1="39.1" x2="199.7" y2="39.1" stroke="#000" stroke-width="0.7"/>
<line x1="197.5" y1="29.8" x2="199.7" y2="29.8" stroke="#000" stroke-width="0.7"/>
<text x="197.2" y="31.9" font-size="6.2" text-anchor="end" font-weight="bold">20</text>
<line x1="198.3" y1="20.4" x2="199.7" y2="20.4" stroke="#000" stroke-width="0.7"/>
<line x1="197.5" y1="11.1" x2="199.7" y2="11.1" stroke="#000" stroke-width="0.7"/>
<text x="197.2" y="13.2" font-size="6.2" text-anchor="end" font-weight="bold">30</text>
<path d="M201.7 30 226.9 14.7 252.2 7.8 277.5 16.8 302.8 23.3" stroke="#0a8282" stroke-width="1.4" fill="none" stroke-linejoin="round"/>
<path d="M201.7 63.6 226.9 62.5 252.2 60.5 277.5 59.5 302.8 58.9" stroke="#ff10f0" stroke-width="1.4" fill="none" stroke-linejoin="round"/>
<circle cx="201.7" cy="30" r="2.1" fill="#077070"/>
<circle cx="201.5" cy="29.8" r="0.95" fill="#48aaaa"/>
<circle cx="226.9" cy="14.7" r="2.1" fill="#077070"/>
<circle cx="226.7" cy="14.5" r="0.95" fill="#48aaaa"/>
<circle cx="252.2" cy="7.8" r="2.1" fill="#077070"/>
<circle cx="252" cy="7.6" r="0.95" fill="#48aaaa"/>
<circle cx="277.5" cy="16.8" r="2.1" fill="#077070"/>
<circle cx="277.3" cy="16.6" r="0.95" fill="#48aaaa"/>
<circle cx="302.8" cy="23.3" r="2.1" fill="#077070"/>
<circle cx="302.6" cy="23.1" r="0.95" fill="#48aaaa"/>
<circle cx="201.7" cy="63.6" r="2.1" fill="#ff10f0"/>
<circle cx="201.5" cy="63.4" r="0.95" fill="#ff9cf6"/>
<circle cx="226.9" cy="62.5" r="2.1" fill="#ff10f0"/>
<circle cx="226.7" cy="62.3" r="0.95" fill="#ff9cf6"/>
<circle cx="252.2" cy="60.5" r="2.1" fill="#ff10f0"/>
<circle cx="252" cy="60.3" r="0.95" fill="#ff9cf6"/>
<circle cx="277.5" cy="59.5" r="2.1" fill="#ff10f0"/>
<circle cx="277.3" cy="59.3" r="0.95" fill="#ff9cf6"/>
<circle cx="302.8" cy="58.9" r="2.1" fill="#ff10f0"/>
<circle cx="302.6" cy="58.7" r="0.95" fill="#ff9cf6"/>
<text x="218.3" y="82.7" font-size="9.5" font-weight="bold" textLength="70.8" lengthAdjust="spacingAndGlyphs">Temperature (<tspan font-size="6" dy="-3.6">o</tspan><tspan dy="3.6">C)</tspan></text>
<text transform="translate(186.2 38.6) rotate(-90)" font-size="9.6" font-weight="bold" text-anchor="middle" textLength="69" lengthAdjust="spacingAndGlyphs">Response (R<tspan font-size="6.0" dy="2.4">a</tspan><tspan dy="-2.4">/R</tspan><tspan font-size="6.0" dy="2.4">g</tspan><tspan dy="-2.4">)</tspan></text>
<line x1="199.7" y1="4" x2="308.4" y2="4" stroke="#000" stroke-width="1.4"/>
<line x1="308.4" y1="4" x2="308.4" y2="67.4" stroke="#000" stroke-width="1.4"/>
<rect x="202.3" y="249.1" width="105.9" height="63.3" fill="#fff"/>
<line x1="202.3" y1="249.1" x2="202.3" y2="312.9" stroke="#000" stroke-width="1.1"/>
<line x1="201.8" y1="312.4" x2="308.2" y2="312.4" stroke="#000" stroke-width="1.1"/>
<line x1="203.6" y1="312.4" x2="203.6" y2="314.6" stroke="#000" stroke-width="0.7"/>
<text x="203.6" y="319.2" font-size="6.2" text-anchor="middle" font-weight="bold">0</text>
<line x1="213.1" y1="312.4" x2="213.1" y2="313.8" stroke="#000" stroke-width="0.7"/>
<line x1="222.6" y1="312.4" x2="222.6" y2="314.6" stroke="#000" stroke-width="0.7"/>
<text x="222.6" y="319.2" font-size="6.2" text-anchor="middle" font-weight="bold">200</text>
<line x1="232" y1="312.4" x2="232" y2="313.8" stroke="#000" stroke-width="0.7"/>
<line x1="241.5" y1="312.4" x2="241.5" y2="314.6" stroke="#000" stroke-width="0.7"/>
<text x="241.5" y="319.2" font-size="6.2" text-anchor="middle" font-weight="bold">400</text>
<line x1="251" y1="312.4" x2="251" y2="313.8" stroke="#000" stroke-width="0.7"/>
<line x1="260.5" y1="312.4" x2="260.5" y2="314.6" stroke="#000" stroke-width="0.7"/>
<text x="260.5" y="319.2" font-size="6.2" text-anchor="middle" font-weight="bold">600</text>
<line x1="270" y1="312.4" x2="270" y2="313.8" stroke="#000" stroke-width="0.7"/>
<line x1="279.4" y1="312.4" x2="279.4" y2="314.6" stroke="#000" stroke-width="0.7"/>
<text x="279.4" y="319.2" font-size="6.2" text-anchor="middle" font-weight="bold">800</text>
<line x1="288.9" y1="312.4" x2="288.9" y2="313.8" stroke="#000" stroke-width="0.7"/>
<line x1="298.4" y1="312.4" x2="298.4" y2="314.6" stroke="#000" stroke-width="0.7"/>
<text x="298.4" y="319.2" font-size="6.2" text-anchor="middle" font-weight="bold">1000</text>
<line x1="200.1" y1="312.3" x2="202.3" y2="312.3" stroke="#000" stroke-width="0.7"/>
<text x="199.8" y="314.4" font-size="6.2" text-anchor="end" font-weight="bold">0</text>
<line x1="200.9" y1="305.6" x2="202.3" y2="305.6" stroke="#000" stroke-width="0.7"/>
<line x1="200.1" y1="298.9" x2="202.3" y2="298.9" stroke="#000" stroke-width="0.7"/>
<text x="199.8" y="301.1" font-size="6.2" text-anchor="end" font-weight="bold">10</text>
<line x1="200.9" y1="292.3" x2="202.3" y2="292.3" stroke="#000" stroke-width="0.7"/>
<line x1="200.1" y1="285.6" x2="202.3" y2="285.6" stroke="#000" stroke-width="0.7"/>
<text x="199.8" y="287.7" font-size="6.2" text-anchor="end" font-weight="bold">20</text>
<line x1="200.9" y1="278.9" x2="202.3" y2="278.9" stroke="#000" stroke-width="0.7"/>
<line x1="200.1" y1="272.2" x2="202.3" y2="272.2" stroke="#000" stroke-width="0.7"/>
<text x="199.8" y="274.4" font-size="6.2" text-anchor="end" font-weight="bold">30</text>
<line x1="200.9" y1="265.6" x2="202.3" y2="265.6" stroke="#000" stroke-width="0.7"/>
<line x1="200.1" y1="258.9" x2="202.3" y2="258.9" stroke="#000" stroke-width="0.7"/>
<text x="199.8" y="261" font-size="6.2" text-anchor="end" font-weight="bold">40</text>
<line x1="200.9" y1="252.2" x2="202.3" y2="252.2" stroke="#000" stroke-width="0.7"/>
<path d="M205.5 305.7 208.3 292.5 213.1 271 250.9 259.4 298.3 256.3" stroke="#0a8282" stroke-width="1.4" fill="none" stroke-linejoin="round"/>
<path d="M205.5 309.8 208.3 308.6 213.1 307.6 250.9 307.3 298.3 307" stroke="#ff10f0" stroke-width="1.4" fill="none" stroke-linejoin="round"/>
<circle cx="205.5" cy="305.7" r="2.1" fill="#077070"/>
<circle cx="205.3" cy="305.5" r="0.95" fill="#48aaaa"/>
<circle cx="208.3" cy="292.5" r="2.1" fill="#077070"/>
<circle cx="208.1" cy="292.3" r="0.95" fill="#48aaaa"/>
<circle cx="213.1" cy="271" r="2.1" fill="#077070"/>
<circle cx="212.9" cy="270.8" r="0.95" fill="#48aaaa"/>
<circle cx="250.9" cy="259.4" r="2.1" fill="#077070"/>
<circle cx="250.7" cy="259.2" r="0.95" fill="#48aaaa"/>
<circle cx="298.3" cy="256.3" r="2.1" fill="#077070"/>
<circle cx="298.1" cy="256.1" r="0.95" fill="#48aaaa"/>
<circle cx="205.5" cy="309.8" r="2.1" fill="#ff10f0"/>
<circle cx="205.3" cy="309.6" r="0.95" fill="#ff9cf6"/>
<circle cx="208.3" cy="308.6" r="2.1" fill="#ff10f0"/>
<circle cx="208.1" cy="308.4" r="0.95" fill="#ff9cf6"/>
<circle cx="213.1" cy="307.6" r="2.1" fill="#ff10f0"/>
<circle cx="212.9" cy="307.4" r="0.95" fill="#ff9cf6"/>
<circle cx="250.9" cy="307.3" r="2.1" fill="#ff10f0"/>
<circle cx="250.7" cy="307.1" r="0.95" fill="#ff9cf6"/>
<circle cx="298.3" cy="307" r="2.1" fill="#ff10f0"/>
<circle cx="298.1" cy="306.8" r="0.95" fill="#ff9cf6"/>
<text x="225" y="330.6" font-size="9.5" font-weight="bold" textLength="58.2" lengthAdjust="spacingAndGlyphs">Ethanol (ppm)</text>
<text transform="translate(187.6 284.4) rotate(-90)" font-size="9.6" font-weight="bold" text-anchor="middle" textLength="67" lengthAdjust="spacingAndGlyphs">Response (R<tspan font-size="6.0" dy="2.4">a</tspan><tspan dy="-2.4">/R</tspan><tspan font-size="6.0" dy="2.4">g</tspan><tspan dy="-2.4">)</tspan></text>
<line x1="202.3" y1="249.1" x2="308.2" y2="249.1" stroke="#000" stroke-width="1.4"/>
<line x1="308.2" y1="249.1" x2="308.2" y2="312.4" stroke="#000" stroke-width="1.4"/>
<path d="M406 195.3 406.3 195.3 406.5 195.3 406.8 195.3 407.1 195.3 407.3 195.3 407.6 195.3 407.8 195.3 408.1 195.3 408.4 195.3 408.6 195.3 408.9 195.3 409.2 195.3 409.4 195.3 409.7 195.3 410 195.3 410.2 195.3 410.5 195.3 410.8 195.3 411 195.3 411.3 195.3 411.5 195.3 411.8 195.3 412.1 195.3 412.3 195.3 412.6 195.3 412.9 195.3 413.1 195.3 413.4 195.3 413.7 195.3 413.9 195.3 414.2 195.3 414.4 195.3 414.7 195.3 415 195.3 415.2 195.3 415.5 195.3 415.8 195.3 416 195.3 416.3 195.3 416.6 195.3 416.8 195.3 417.1 195.3 417.4 195.3 417.6 195.3 417.9 195.3 418.1 195.3 418.4 195.3 418.7 195.3 418.9 195.3 419.2 195.3 419.5 195.3 419.7 195 420 194.7 420.3 194.1 420.5 193.5 420.8 192.8 421 192 421.3 191.2 421.6 190.4 421.8 189.6 422.1 188.9 422.4 188.3 422.6 187.8 422.9 187.4 423.2 187.2 423.4 187.2 423.7 187.2 424 187.2 424.2 187.2 424.5 187.2 424.7 187.2 425 187.2 425.3 187.2 425.5 187.2 425.8 187.2 426.1 187.2 426.3 187.2 426.6 187.2 426.9 187.2 427.1 187.2 427.4 187.2 427.6 187.2 427.9 187.2 428.2 187.2 428.4 187.2 428.7 187.2 429 187.2 429.2 187.2 429.5 187.2 429.8 187.2 430 187.2 430.3 187.2 430.6 187.2 430.8 187.2 431.1 187.2 431.3 187.2 431.6 187.2 431.9 187.2 432.1 187.2 432.4 187.2 432.7 187.2 432.9 187.9 433.2 189.8 433.5 192.2 433.7 194.3 434 195.3 434.2 195.3 434.5 195.3 434.8 195.3 435 195.3 435.3 195.3 435.6 195.3 435.8 195.3 436.1 195.3 436.4 195.3 436.6 195.3 436.9 195.3 437.2 195.3 437.4 195.3 437.7 195.3 437.9 195.3 438.2 195.3 438.5 195.3 438.7 195.3 439 195.3 439.3 195.3 439.5 195.3 439.8 195.3 440.1 195.3 440.3 195.3 440.6 195.3 440.8 195.3 441.1 195.3 441.4 195.3 441.6 195.3 441.9 195.3 442.2 195.3 442.4 195.3 442.7 195.3 443 195.3 443.2 195.3 443.5 195.3 443.8 195.3 444 195.3 444.3 195.3 444.5 195.3 444.8 195.3 445.1 195.3 445.3 195.3 445.6 195.3 445.9 195.3 446.1 195 446.4 194.7 446.7 194.1 446.9 193.5 447.2 192.8 447.4 192 447.7 191.2 448 190.4 448.2 189.6 448.5 188.9 448.8 188.3 449 187.8 449.3 187.4 449.6 187.2 449.8 187.2 450.1 187.2 450.4 187.2 450.6 187.2 450.9 187.2 451.1 187.2 451.4 187.2 451.7 187.2 451.9 187.2 452.2 187.2 452.5 187.2 452.7 187.2 453 187.2 453.3 187.2 453.5 187.2 453.8 187.2 454 187.2 454.3 187.2 454.6 187.2 454.8 187.2 455.1 187.2 455.4 187.2 455.6 187.2 455.9 187.2 456.2 187.2 456.4 187.2 456.7 187.2 457 187.2 457.2 187.2 457.5 187.2 457.7 187.2 458 187.2 458.3 187.2 458.5 187.2 458.8 187.2 459.1 187.2 459.3 187.9 459.6 189.8 459.9 192.2 460.1 194.3 460.4 195.3 460.6 195.3 460.9 195.3 461.2 195.3 461.4 195.3 461.7 195.3 462 195.3 462.2 195.3 462.5 195.3 462.8 195.3 463 195.3 463.3 195.3 463.6 195.3 463.8 195.3 464.1 195.3 464.3 195.3 464.6 195.3 464.9 195.3 465.1 195.3 465.4 195.3 465.7 195.3 465.9 195.3 466.2 195.3 466.5 195.3 466.7 195.3 467 195.3 467.2 195.3 467.5 195.3 467.8 195.3 468 195.3 468.3 195.3 468.6 195.3 468.8 195.3 469.1 195.3 469.4 195.3 469.6 195.3 469.9 195.3 470.2 195.3 470.4 195.3 470.7 195.3 470.9 195.3 471.2 195.3 471.5 195.3 471.7 195.3 472 195.3 472.3 195.3 472.5 195 472.8 194.7 473.1 194.1 473.3 193.5 473.6 192.8 473.8 192 474.1 191.2 474.4 190.4 474.6 189.6 474.9 188.9 475.2 188.3 475.4 187.8 475.7 187.4 476 187.2 476.2 187.2 476.5 187.2 476.8 187.2 477 187.2 477.3 187.2 477.5 187.2 477.8 187.2 478.1 187.2 478.3 187.2 478.6 187.2 478.9 187.2 479.1 187.2 479.4 187.2 479.7 187.2 479.9 187.2 480.2 187.2 480.4 187.2 480.7 187.2 481 187.2 481.2 187.2 481.5 187.2 481.8 187.2 482 187.2 482.3 187.2 482.6 187.2 482.8 187.2 483.1 187.2 483.4 187.2 483.6 187.2 483.9 187.2 484.1 187.2 484.4 187.2 484.7 187.2 484.9 187.2 485.2 187.2 485.5 187.2 485.7 187.9 486 189.8 486.3 192.2 486.5 194.3 486.8 195.3 487 195.3 487.3 195.3 487.6 195.3 487.8 195.3 488.1 195.3 488.4 195.3 488.6 195.3 488.9 195.3 489.2 195.3 489.4 195.3 489.7 195.3 490 195.3 490.2 195.3 490.5 195.3 490.7 195.3 491 195.3 491.3 195.3 491.5 195.3 491.8 195.3 492.1 195.3 492.3 195.3 492.6 195.3 492.9 195.3 493.1 195.3 493.4 195.3 493.6 195.3 493.9 195.3 494.2 195.3 494.4 195.3 494.7 195.3 495 195.3 495.2 195.3 495.5 195.3 495.8 195.3 496 195.3 496.3 195.3 496.6 195.3 496.8 195.3 497.1 195.3 497.3 195.3 497.6 195.3 497.9 195.3 498.1 195.3 498.4 195.3 498.7 195.3 498.9 195 499.2 194.7 499.5 194.1 499.7 193.5 500 192.8 500.2 192 500.5 191.2 500.8 190.4 501 189.6 501.3 188.9 501.6 188.3 501.8 187.8 502.1 187.4 502.4 187.2 502.6 187.2 502.9 187.2 503.2 187.2 503.4 187.2 503.7 187.2 503.9 187.2 504.2 187.2 504.5 187.2 504.7 187.2 505 187.2 505.3 187.2 505.5 187.2 505.8 187.2 506.1 187.2 506.3 187.2 506.6 187.2 506.8 187.2 507.1 187.2 507.4 187.2 507.6 187.2 507.9 187.2 508.2 187.2 508.4 187.2 508.7 187.2 509 187.2 509.2 187.2 509.5 187.2 509.8 187.2 510 187.2 510.3 187.2 510.5 187.2 510.8 187.2 511.1 187.2 511.3 187.2 511.6 187.2 511.9 187.2 512.1 187.9 512.4 189.8 512.7 192.2 512.9 194.3 513.2 195.3 513.4 195.3 513.7 195.3 514 195.3 514.2 195.3 514.5 195.3 514.8 195.3 515 195.3 515.3 195.3 515.6 195.3 515.8 195.3 516.1 195.3 516.4 195.3 516.6 195.3 516.9 195.3 517.1 195.3 517.4 195.3 517.7 195.3 517.9 195.3 518.2 195.3 518.5 195.3 518.7 195.3 519 195.3 519.3 195.3 519.5 195.3 519.8 195.3 520 195.3 520.3 195.3 520.6 195.3 520.8 195.3 521.1 195.3 521.4 195.3 521.6 195.3 521.9 195.3 522.2 195.3 522.4 195.3 522.7 195.3 523 195.3 523.2 195.3 523.5 195.3 523.7 195.3 524 195.3 524.3 195.3 524.5 195.3 524.8 195.3 525.1 195.3 525.3 195 525.6 194.7 525.9 194.1 526.1 193.5 526.4 192.8 526.6 192 526.9 191.2 527.2 190.4 527.4 189.6 527.7 188.9 528 188.3 528.2 187.8 528.5 187.4 528.8 187.2 529 187.2 529.3 187.2 529.6 187.2 529.8 187.2 530.1 187.2 530.3 187.2 530.6 187.2 530.9 187.2 531.1 187.2 531.4 187.2 531.7 187.2 531.9 187.2 532.2 187.2 532.5 187.2 532.7 187.2 533 187.2 533.2 187.2 533.5 187.2 533.8 187.2 534 187.2 534.3 187.2 534.6 187.2 534.8 187.2 535.1 187.2 535.4 187.2 535.6 187.2 535.9 187.2 536.2 187.2 536.4 187.2 536.7 187.2 536.9 187.2 537.2 187.2 537.5 187.2 537.7 187.2 538 187.2 538.3 187.2 538.5 187.9 538.8 189.8 539.1 192.2 539.3 194.3 539.6 195.3 539.8 195.3 540.1 195.3 540.4 195.3 540.6 195.3 540.9 195.3 541.2 195.3 541.4 195.3 541.7 195.3 542 195.3 542.2 195.3 542.5 195.3 542.8 195.3 543 195.3 543.3 195.3 543.5 195.3 543.8 195.3 544.1 195.3 544.3 195.3 544.6 195.3 544.9 195.3 545.1 195.3 545.4 195.3 545.7 195.3 545.9 195.3 546.2 195.3 546.4 195.3 546.7 195.3 547 195.3 547.2 195.3 547.5 195.3 547.8 195.3 548 195.3 548.3 195.3 548.6 195.3 548.8 195.3 549.1 195.3 549.4 195.3 549.6 195.3 549.9 195.3 550.1 195.3 550.4 195.3 550.7 195.3 550.9 195.3 551.2 195.3 551.5 195.3 551.7 195 552 194.7 552.3 194.1 552.5 193.5 552.8 192.8 553 192 553.3 191.2 553.6 190.4 553.8 189.6 554.1 188.9 554.4 188.3 554.6 187.8 554.9 187.4 555.2 187.2 555.4 187.2 555.7 187.2 556 187.2 556.2 187.2 556.5 187.2 556.7 187.2 557 187.2 557.3 187.2 557.5 187.2 557.8 187.2 558.1 187.2 558.3 187.2 558.6 187.2 558.9 187.2 559.1 187.2 559.4 187.2 559.6 187.2 559.9 187.2 560.2 187.2 560.4 187.2 560.7 187.2 561 187.2 561.2 187.2 561.5 187.2 561.8 187.2 562 187.2 562.3 187.2 562.6 187.2 562.8 187.2 563.1 187.2 563.3 187.2 563.6 187.2 563.9 187.2 564.1 187.2 564.4 187.2 564.7 187.2 564.9 187.9 565.2 189.8 565.5 192.2 565.7 194.3 566 195.3 566.2 195.3 566.5 195.3 566.8 195.3 567 195.3 567.3 195.3 567.6 195.3 567.8 195.3 568.1 195.3 568.4 195.3 568.6 195.3 568.9 195.3 569.2 195.3 569.4 195.3 569.7 195.3 569.9 195.3 570.2 195.3 570.5 195.3 570.7 195.3 571 195.3 571.3 195.3 571.5 195.3 571.8 195.3 572.1 195.3 572.3 195.3 572.6 195.3 572.8 195.3 573.1 195.3 573.4 195.3 573.6 195.3 573.9 195.3 574.2 195.3 574.4 195.3 574.7 195.3 575 195.3 575.2 195.3 575.5 195.3 575.8 195.3 576 195.3 576.3 195.3 576.5 195.3 576.8 195.3 577.1 195.3 577.3 195.3 577.6 195.3 577.9 195.3 578.1 195 578.4 194.7 578.7 194.1 578.9 193.5 579.2 192.8 579.4 192 579.7 191.2 580 190.4 580.2 189.6 580.5 188.9 580.8 188.3 581 187.8 581.3 187.4 581.6 187.2 581.8 187.2 582.1 187.2 582.4 187.2 582.6 187.2 582.9 187.2 583.1 187.2 583.4 187.2 583.7 187.2 583.9 187.2 584.2 187.2 584.5 187.2 584.7 187.2 585 187.2 585.3 187.2 585.5 187.2 585.8 187.2 586 187.2 586.3 187.2 586.6 187.2 586.8 187.2 587.1 187.2 587.4 187.2 587.6 187.2 587.9 187.2 588.2 187.2 588.4 187.2 588.7 187.2 589 187.2 589.2 187.2 589.5 187.2 589.7 187.2 590 187.2 590.3 187.2 590.5 187.2 590.8 187.2 591.1 187.2 591.3 187.9 591.6 189.8 591.9 192.2 592.1 194.3 592.4 195.3 592.6 195.3 592.9 195.3 593.2 195.3 593.4 195.3 593.7 195.3 594 195.3 594.2 195.3 594.5 195.3 594.8 195.3 595 195.3 595.3 195.3 595.6 195.3 595.8 195.3 596.1 195.3 596.3 195.3 596.6 195.3 596.9 195.3 597.1 195.3 597.4 195.3 597.7 195.3 597.9 195.3 598.2 195.3 598.5 195.3 598.7 195.3 599 195.3 599.2 195.3 599.5 195.3 599.8 195.3 600 195.3 600.3 195.3 600.6 195.3 600.8 195.3 601.1 195.3 601.4 195.3 601.6 195.3 601.9 195.3 602.2 195.3 602.4 195.3 602.7 195.3 602.9 195.3 603.2 195.3 603.5 195.3 603.7 195.3 604 195.3 604.3 195.3 604.5 195 604.8 194.7 605.1 194.1 605.3 193.5 605.6 192.8 605.8 192 606.1 191.2 606.4 190.4 606.6 189.6 606.9 188.9 607.2 188.3 607.4 187.8 607.7 187.4 608 187.2 608.2 187.2 608.5 187.2 608.8 187.2 609 187.2 609.3 187.2 609.5 187.2 609.8 187.2 610.1 187.2 610.3 187.2 610.6 187.2 610.9 187.2 611.1 187.2 611.4 187.2 611.7 187.2 611.9 187.2 612.2 187.2 612.4 187.2 612.7 187.2 613 187.2 613.2 187.2 613.5 187.2 613.8 187.2 614 187.2 614.3 187.2 614.6 187.2 614.8 187.2 615.1 187.2 615.4 187.2 615.6 187.2 615.9 187.2 616.1 187.2 616.4 187.2 616.7 187.2 616.9 187.2 617.2 187.2 617.5 187.2 617.7 187.9 618 189.8 618.3 192.2 618.5 194.3 618.8 195.3 619 195.3 619.3 195.3 619.6 195.3 619.8 195.3 620.1 195.3 620.4 195.3 620.6 195.3 620.9 195.3 621.2 195.3 621.4 195.3 621.7 195.3 622 195.3 622.2 195.3 622.5 195.3 622.7 195.3 623 195.3 623.3 195.3 623.5 195.3 623.8 195.3 624.1 195.3 624.3 195.3 624.6 195.3 624.9 195.3 625.1 195.3 625.4 195.3 625.6 195.3 625.9 195.3 626.2 195.3 626.4 195.3 626.7 195.3 627 195.3 627.2 195.3 627.5 195.3 627.8 195.3 628 195.3 628.3 195.3 628.6 195.3 628.8 195.3 629.1 195.3 629.3 195.3 629.6 195.3 629.9 195.3 630.1 195.3 630.4 195.3 630.7 195.3 630.9 195 631.2 194.7 631.5 194.1 631.7 193.5 632 192.8 632.2 192 632.5 191.2 632.8 190.4 633 189.6 633.3 188.9 633.6 188.3 633.8 187.8 634.1 187.4 634.4 187.2 634.6 187.2 634.9 187.2 635.2 187.2 635.4 187.2 635.7 187.2 635.9 187.2 636.2 187.2 636.5 187.2 636.7 187.2 637 187.2 637.3 187.2 637.5 187.2 637.8 187.2 638.1 187.2 638.3 187.2 638.6 187.2 638.8 187.2 639.1 187.2 639.4 187.2 639.6 187.2 639.9 187.2 640.2 187.2 640.4 187.2 640.7 187.2 641 187.2 641.2 187.2 641.5 187.2 641.8 187.2 642 187.2 642.3 187.2 642.5 187.2 642.8 187.2 643.1 187.2 643.3 187.2 643.6 187.2 643.9 187.2 644.1 187.9 644.4 189.8 644.7 192.2 644.9 194.3 645.2 195.3 645.4 195.3 645.7 195.3 646 195.3 646.2 195.3 646.5 195.3 646.8 195.3 647 195.3 647.3 195.3 647.6 195.3 647.8 195.3 648.1 195.3 648.4 195.3 648.6 195.3 648.9 195.3 649.1 195.3 649.4 195.3 649.7 195.3 649.9 195.3 650.2 195.3 650.5 195.3 650.7 195.3 651 195.3 651.3 195.3 651.5 195.3 651.8 195.3 652 195.3 652.3 195.3 652.6 195.3 652.8 195.3 653.1 195.3 653.4 195.3 653.6 195.3 653.9 195.3 654.2 195.3 654.4 195.3 654.7 195.3 655 195.3 655.2 195.3 655.5 195.3 655.7 195.3 656 195.3 656.3 195.3 656.5 195.3 656.8 195.3 657.1 195.3 657.3 195 657.6 194.7 657.9 194.1 658.1 193.5 658.4 192.8 658.6 192 658.9 191.2 659.2 190.4 659.4 189.6 659.7 188.9 660 188.3 660.2 187.8 660.5 187.4 660.8 187.2 661 187.2 661.3 187.2 661.6 187.2 661.8 187.2 662.1 187.2 662.3 187.2 662.6 187.2 662.9 187.2 663.1 187.2 663.4 187.2 663.7 187.2 663.9 187.2 664.2 187.2 664.5 187.2 664.7 187.2 665 187.2 665.2 187.2 665.5 187.2 665.8 187.2 666 187.2 666.3 187.2 666.6 187.2 666.8 187.2 667.1 187.2 667.4 187.2 667.6 187.2 667.9 187.2 668.2 187.2 668.4 187.2 668.7 187.2 668.9 187.2 669.2 187.2 669.5 187.2 669.7 187.2 670 187.2" stroke="#ff10f0" stroke-width="3.0" fill="none" stroke-linejoin="round"/>
<path d="M404.6 195.3a1.4 1.4 0 1 0 2.8 0a1.4 1.4 0 1 0 -2.8 0M404.9 195.5a1.4 1.4 0 1 0 2.8 0a1.4 1.4 0 1 0 -2.8 0M405.1 195.1a1.4 1.4 0 1 0 2.8 0a1.4 1.4 0 1 0 -2.8 0M405.4 195.1a1.4 1.4 0 1 0 2.8 0a1.4 1.4 0 1 0 -2.8 0M405.7 195.8a1.4 1.4 0 1 0 2.8 0a1.4 1.4 0 1 0 -2.8 0M405.9 194.7a1.4 1.4 0 1 0 2.8 0a1.4 1.4 0 1 0 -2.8 0M406.2 194.9a1.4 1.4 0 1 0 2.8 0a1.4 1.4 0 1 0 -2.8 0M406.4 195.5a1.4 1.4 0 1 0 2.8 0a1.4 1.4 0 1 0 -2.8 0M406.7 195.2a1.4 1.4 0 1 0 2.8 0a1.4 1.4 0 1 0 -2.8 0M407 194.8a1.4 1.4 0 1 0 2.8 0a1.4 1.4 0 1 0 -2.8 0M407.2 195.5a1.4 1.4 0 1 0 2.8 0a1.4 1.4 0 1 0 -2.8 0M407.5 195.1a1.4 1.4 0 1 0 2.8 0a1.4 1.4 0 1 0 -2.8 0M407.8 195.4a1.4 1.4 0 1 0 2.8 0a1.4 1.4 0 1 0 -2.8 0M408 195.2a1.4 1.4 0 1 0 2.8 0a1.4 1.4 0 1 0 -2.8 0M408.3 195.3a1.4 1.4 0 1 0 2.8 0a1.4 1.4 0 1 0 -2.8 0M408.6 195.4a1.4 1.4 0 1 0 2.8 0a1.4 1.4 0 1 0 -2.8 0M408.8 195.2a1.4 1.4 0 1 0 2.8 0a1.4 1.4 0 1 0 -2.8 0M409.1 194.8a1.4 1.4 0 1 0 2.8 0a1.4 1.4 0 1 0 -2.8 0M409.4 194.9a1.4 1.4 0 1 0 2.8 0a1.4 1.4 0 1 0 -2.8 0M409.6 195.8a1.4 1.4 0 1 0 2.8 0a1.4 1.4 0 1 0 -2.8 0M409.9 195.4a1.4 1.4 0 1 0 2.8 0a1.4 1.4 0 1 0 -2.8 0M410.1 194.8a1.4 1.4 0 1 0 2.8 0a1.4 1.4 0 1 0 -2.8 0M410.4 195.7a1.4 1.4 0 1 0 2.8 0a1.4 1.4 0 1 0 -2.8 0M410.7 195a1.4 1.4 0 1 0 2.8 0a1.4 1.4 0 1 0 -2.8 0M410.9 194.8a1.4 1.4 0 1 0 2.8 0a1.4 1.4 0 1 0 -2.8 0M411.2 195.3a1.4 1.4 0 1 0 2.8 0a1.4 1.4 0 1 0 -2.8 0M411.5 195a1.4 1.4 0 1 0 2.8 0a1.4 1.4 0 1 0 -2.8 0M411.7 195.3a1.4 1.4 0 1 0 2.8 0a1.4 1.4 0 1 0 -2.8 0M412 195.4a1.4 1.4 0 1 0 2.8 0a1.4 1.4 0 1 0 -2.8 0M412.3 195a1.4 1.4 0 1 0 2.8 0a1.4 1.4 0 1 0 -2.8 0M412.5 195.4a1.4 1.4 0 1 0 2.8 0a1.4 1.4 0 1 0 -2.8 0M412.8 194.8a1.4 1.4 0 1 0 2.8 0a1.4 1.4 0 1 0 -2.8 0M413 195.3a1.4 1.4 0 1 0 2.8 0a1.4 1.4 0 1 0 -2.8 0M413.3 195.4a1.4 1.4 0 1 0 2.8 0a1.4 1.4 0 1 0 -2.8 0M413.6 194.8a1.4 1.4 0 1 0 2.8 0a1.4 1.4 0 1 0 -2.8 0M413.8 195.2a1.4 1.4 0 1 0 2.8 0a1.4 1.4 0 1 0 -2.8 0M414.1 194.8a1.4 1.4 0 1 0 2.8 0a1.4 1.4 0 1 0 -2.8 0M414.4 195.2a1.4 1.4 0 1 0 2.8 0a1.4 1.4 0 1 0 -2.8 0M414.6 195.7a1.4 1.4 0 1 0 2.8 0a1.4 1.4 0 1 0 -2.8 0M414.9 195.4a1.4 1.4 0 1 0 2.8 0a1.4 1.4 0 1 0 -2.8 0M415.2 195.6a1.4 1.4 0 1 0 2.8 0a1.4 1.4 0 1 0 -2.8 0M415.4 195.6a1.4 1.4 0 1 0 2.8 0a1.4 1.4 0 1 0 -2.8 0M415.7 194.8a1.4 1.4 0 1 0 2.8 0a1.4 1.4 0 1 0 -2.8 0M416 195.9a1.4 1.4 0 1 0 2.8 0a1.4 1.4 0 1 0 -2.8 0M416.2 195.6a1.4 1.4 0 1 0 2.8 0a1.4 1.4 0 1 0 -2.8 0M416.5 194.8a1.4 1.4 0 1 0 2.8 0a1.4 1.4 0 1 0 -2.8 0M416.7 195.7a1.4 1.4 0 1 0 2.8 0a1.4 1.4 0 1 0 -2.8 0M417 195.2a1.4 1.4 0 1 0 2.8 0a1.4 1.4 0 1 0 -2.8 0M417.3 194.9a1.4 1.4 0 1 0 2.8 0a1.4 1.4 0 1 0 -2.8 0M417.5 195.9a1.4 1.4 0 1 0 2.8 0a1.4 1.4 0 1 0 -2.8 0M417.8 195.4a1.4 1.4 0 1 0 2.8 0a1.4 1.4 0 1 0 -2.8 0M418.1 195.6a1.4 1.4 0 1 0 2.8 0a1.4 1.4 0 1 0 -2.8 0M418.3 194.6a1.4 1.4 0 1 0 2.8 0a1.4 1.4 0 1 0 -2.8 0M418.6 195a1.4 1.4 0 1 0 2.8 0a1.4 1.4 0 1 0 -2.8 0M418.9 193.6a1.4 1.4 0 1 0 2.8 0a1.4 1.4 0 1 0 -2.8 0M419.1 193.2a1.4 1.4 0 1 0 2.8 0a1.4 1.4 0 1 0 -2.8 0M419.4 192.6a1.4 1.4 0 1 0 2.8 0a1.4 1.4 0 1 0 -2.8 0M419.6 191.4a1.4 1.4 0 1 0 2.8 0a1.4 1.4 0 1 0 -2.8 0M419.9 191.3a1.4 1.4 0 1 0 2.8 0a1.4 1.4 0 1 0 -2.8 0M420.2 190a1.4 1.4 0 1 0 2.8 0a1.4 1.4 0 1 0 -2.8 0M420.4 189.4a1.4 1.4 0 1 0 2.8 0a1.4 1.4 0 1 0 -2.8 0M420.7 189.1a1.4 1.4 0 1 0 2.8 0a1.4 1.4 0 1 0 -2.8 0M421 188.2a1.4 1.4 0 1 0 2.8 0a1.4 1.4 0 1 0 -2.8 0M421.2 188.2a1.4 1.4 0 1 0 2.8 0a1.4 1.4 0 1 0 -2.8 0M421.5 187.5a1.4 1.4 0 1 0 2.8 0a1.4 1.4 0 1 0 -2.8 0M421.8 187.7a1.4 1.4 0 1 0 2.8 0a1.4 1.4 0 1 0 -2.8 0M422 187.3a1.4 1.4 0 1 0 2.8 0a1.4 1.4 0 1 0 -2.8 0M422.3 187.7a1.4 1.4 0 1 0 2.8 0a1.4 1.4 0 1 0 -2.8 0M422.6 187.6a1.4 1.4 0 1 0 2.8 0a1.4 1.4 0 1 0 -2.8 0M422.8 186.8a1.4 1.4 0 1 0 2.8 0a1.4 1.4 0 1 0 -2.8 0M423.1 187.5a1.4 1.4 0 1 0 2.8 0a1.4 1.4 0 1 0 -2.8 0M423.3 187a1.4 1.4 0 1 0 2.8 0a1.4 1.4 0 1 0 -2.8 0M423.6 187.5a1.4 1.4 0 1 0 2.8 0a1.4 1.4 0 1 0 -2.8 0M423.9 187.4a1.4 1.4 0 1 0 2.8 0a1.4 1.4 0 1 0 -2.8 0M424.1 187.6a1.4 1.4 0 1 0 2.8 0a1.4 1.4 0 1 0 -2.8 0M424.4 186.7a1.4 1.4 0 1 0 2.8 0a1.4 1.4 0 1 0 -2.8 0M424.7 187a1.4 1.4 0 1 0 2.8 0a1.4 1.4 0 1 0 -2.8 0M424.9 187.5a1.4 1.4 0 1 0 2.8 0a1.4 1.4 0 1 0 -2.8 0M425.2 187.7a1.4 1.4 0 1 0 2.8 0a1.4 1.4 0 1 0 -2.8 0M425.5 187.5a1.4 1.4 0 1 0 2.8 0a1.4 1.4 0 1 0 -2.8 0M425.7 186.7a1.4 1.4 0 1 0 2.8 0a1.4 1.4 0 1 0 -2.8 0M426 187.3a1.4 1.4 0 1 0 2.8 0a1.4 1.4 0 1 0 -2.8 0M426.2 186.7a1.4 1.4 0 1 0 2.8 0a1.4 1.4 0 1 0 -2.8 0M426.5 187.3a1.4 1.4 0 1 0 2.8 0a1.4 1.4 0 1 0 -2.8 0M426.8 187.6a1.4 1.4 0 1 0 2.8 0a1.4 1.4 0 1 0 -2.8 0M427 186.7a1.4 1.4 0 1 0 2.8 0a1.4 1.4 0 1 0 -2.8 0M427.3 187.7a1.4 1.4 0 1 0 2.8 0a1.4 1.4 0 1 0 -2.8 0M427.6 187.4a1.4 1.4 0 1 0 2.8 0a1.4 1.4 0 1 0 -2.8 0M427.8 186.9a1.4 1.4 0 1 0 2.8 0a1.4 1.4 0 1 0 -2.8 0M428.1 186.8a1.4 1.4 0 1 0 2.8 0a1.4 1.4 0 1 0 -2.8 0M428.4 187.1a1.4 1.4 0 1 0 2.8 0a1.4 1.4 0 1 0 -2.8 0M428.6 187.6a1.4 1.4 0 1 0 2.8 0a1.4 1.4 0 1 0 -2.8 0M428.9 187.3a1.4 1.4 0 1 0 2.8 0a1.4 1.4 0 1 0 -2.8 0M429.2 186.7a1.4 1.4 0 1 0 2.8 0a1.4 1.4 0 1 0 -2.8 0M429.4 186.6a1.4 1.4 0 1 0 2.8 0a1.4 1.4 0 1 0 -2.8 0M429.7 186.7a1.4 1.4 0 1 0 2.8 0a1.4 1.4 0 1 0 -2.8 0M429.9 187.6a1.4 1.4 0 1 0 2.8 0a1.4 1.4 0 1 0 -2.8 0M430.2 186.8a1.4 1.4 0 1 0 2.8 0a1.4 1.4 0 1 0 -2.8 0M430.5 187.3a1.4 1.4 0 1 0 2.8 0a1.4 1.4 0 1 0 -2.8 0M430.7 186.9a1.4 1.4 0 1 0 2.8 0a1.4 1.4 0 1 0 -2.8 0M431 187.4a1.4 1.4 0 1 0 2.8 0a1.4 1.4 0 1 0 -2.8 0M431.3 187.1a1.4 1.4 0 1 0 2.8 0a1.4 1.4 0 1 0 -2.8 0M431.5 187.5a1.4 1.4 0 1 0 2.8 0a1.4 1.4 0 1 0 -2.8 0M431.8 190.3a1.4 1.4 0 1 0 2.8 0a1.4 1.4 0 1 0 -2.8 0M432.1 192.3a1.4 1.4 0 1 0 2.8 0a1.4 1.4 0 1 0 -2.8 0M432.3 194.5a1.4 1.4 0 1 0 2.8 0a1.4 1.4 0 1 0 -2.8 0M432.6 195.7a1.4 1.4 0 1 0 2.8 0a1.4 1.4 0 1 0 -2.8 0M432.8 195.8a1.4 1.4 0 1 0 2.8 0a1.4 1.4 0 1 0 -2.8 0M433.1 194.7a1.4 1.4 0 1 0 2.8 0a1.4 1.4 0 1 0 -2.8 0M433.4 195.1a1.4 1.4 0 1 0 2.8 0a1.4 1.4 0 1 0 -2.8 0M433.6 194.9a1.4 1.4 0 1 0 2.8 0a1.4 1.4 0 1 0 -2.8 0M433.9 195.3a1.4 1.4 0 1 0 2.8 0a1.4 1.4 0 1 0 -2.8 0M434.2 195.7a1.4 1.4 0 1 0 2.8 0a1.4 1.4 0 1 0 -2.8 0M434.4 195.7a1.4 1.4 0 1 0 2.8 0a1.4 1.4 0 1 0 -2.8 0M434.7 194.7a1.4 1.4 0 1 0 2.8 0a1.4 1.4 0 1 0 -2.8 0M435 194.9a1.4 1.4 0 1 0 2.8 0a1.4 1.4 0 1 0 -2.8 0M435.2 195.7a1.4 1.4 0 1 0 2.8 0a1.4 1.4 0 1 0 -2.8 0M435.5 195.5a1.4 1.4 0 1 0 2.8 0a1.4 1.4 0 1 0 -2.8 0M435.8 195.2a1.4 1.4 0 1 0 2.8 0a1.4 1.4 0 1 0 -2.8 0M436 195.3a1.4 1.4 0 1 0 2.8 0a1.4 1.4 0 1 0 -2.8 0M436.3 194.9a1.4 1.4 0 1 0 2.8 0a1.4 1.4 0 1 0 -2.8 0M436.5 195.7a1.4 1.4 0 1 0 2.8 0a1.4 1.4 0 1 0 -2.8 0M436.8 195.2a1.4 1.4 0 1 0 2.8 0a1.4 1.4 0 1 0 -2.8 0M437.1 195.7a1.4 1.4 0 1 0 2.8 0a1.4 1.4 0 1 0 -2.8 0M437.3 195.4a1.4 1.4 0 1 0 2.8 0a1.4 1.4 0 1 0 -2.8 0M437.6 194.8a1.4 1.4 0 1 0 2.8 0a1.4 1.4 0 1 0 -2.8 0M437.9 195.1a1.4 1.4 0 1 0 2.8 0a1.4 1.4 0 1 0 -2.8 0M438.1 195a1.4 1.4 0 1 0 2.8 0a1.4 1.4 0 1 0 -2.8 0M438.4 195.8a1.4 1.4 0 1 0 2.8 0a1.4 1.4 0 1 0 -2.8 0M438.7 195.4a1.4 1.4 0 1 0 2.8 0a1.4 1.4 0 1 0 -2.8 0M438.9 194.8a1.4 1.4 0 1 0 2.8 0a1.4 1.4 0 1 0 -2.8 0M439.2 194.9a1.4 1.4 0 1 0 2.8 0a1.4 1.4 0 1 0 -2.8 0M439.4 195.1a1.4 1.4 0 1 0 2.8 0a1.4 1.4 0 1 0 -2.8 0M439.7 195.3a1.4 1.4 0 1 0 2.8 0a1.4 1.4 0 1 0 -2.8 0M440 195.4a1.4 1.4 0 1 0 2.8 0a1.4 1.4 0 1 0 -2.8 0M440.2 195.2a1.4 1.4 0 1 0 2.8 0a1.4 1.4 0 1 0 -2.8 0M440.5 195.1a1.4 1.4 0 1 0 2.8 0a1.4 1.4 0 1 0 -2.8 0M440.8 194.7a1.4 1.4 0 1 0 2.8 0a1.4 1.4 0 1 0 -2.8 0M441 195.4a1.4 1.4 0 1 0 2.8 0a1.4 1.4 0 1 0 -2.8 0M441.3 195.1a1.4 1.4 0 1 0 2.8 0a1.4 1.4 0 1 0 -2.8 0M441.6 194.7a1.4 1.4 0 1 0 2.8 0a1.4 1.4 0 1 0 -2.8 0M441.8 195.3a1.4 1.4 0 1 0 2.8 0a1.4 1.4 0 1 0 -2.8 0M442.1 195.9a1.4 1.4 0 1 0 2.8 0a1.4 1.4 0 1 0 -2.8 0M442.4 194.8a1.4 1.4 0 1 0 2.8 0a1.4 1.4 0 1 0 -2.8 0M442.6 194.9a1.4 1.4 0 1 0 2.8 0a1.4 1.4 0 1 0 -2.8 0M442.9 195.5a1.4 1.4 0 1 0 2.8 0a1.4 1.4 0 1 0 -2.8 0M443.1 195a1.4 1.4 0 1 0 2.8 0a1.4 1.4 0 1 0 -2.8 0M443.4 195a1.4 1.4 0 1 0 2.8 0a1.4 1.4 0 1 0 -2.8 0M443.7 195.3a1.4 1.4 0 1 0 2.8 0a1.4 1.4 0 1 0 -2.8 0M443.9 195a1.4 1.4 0 1 0 2.8 0a1.4 1.4 0 1 0 -2.8 0M444.2 195.4a1.4 1.4 0 1 0 2.8 0a1.4 1.4 0 1 0 -2.8 0M444.5 195.3a1.4 1.4 0 1 0 2.8 0a1.4 1.4 0 1 0 -2.8 0M444.7 195.6a1.4 1.4 0 1 0 2.8 0a1.4 1.4 0 1 0 -2.8 0M445 195.2a1.4 1.4 0 1 0 2.8 0a1.4 1.4 0 1 0 -2.8 0M445.3 193.6a1.4 1.4 0 1 0 2.8 0a1.4 1.4 0 1 0 -2.8 0M445.5 193.6a1.4 1.4 0 1 0 2.8 0a1.4 1.4 0 1 0 -2.8 0M445.8 193.1a1.4 1.4 0 1 0 2.8 0a1.4 1.4 0 1 0 -2.8 0M446 192.4a1.4 1.4 0 1 0 2.8 0a1.4 1.4 0 1 0 -2.8 0M446.3 191.5a1.4 1.4 0 1 0 2.8 0a1.4 1.4 0 1 0 -2.8 0M446.6 190.5a1.4 1.4 0 1 0 2.8 0a1.4 1.4 0 1 0 -2.8 0M446.8 189.8a1.4 1.4 0 1 0 2.8 0a1.4 1.4 0 1 0 -2.8 0M447.1 188.7a1.4 1.4 0 1 0 2.8 0a1.4 1.4 0 1 0 -2.8 0M447.4 188a1.4 1.4 0 1 0 2.8 0a1.4 1.4 0 1 0 -2.8 0M447.6 188.1a1.4 1.4 0 1 0 2.8 0a1.4 1.4 0 1 0 -2.8 0M447.9 187.8a1.4 1.4 0 1 0 2.8 0a1.4 1.4 0 1 0 -2.8 0M448.2 187.7a1.4 1.4 0 1 0 2.8 0a1.4 1.4 0 1 0 -2.8 0M448.4 187.4a1.4 1.4 0 1 0 2.8 0a1.4 1.4 0 1 0 -2.8 0M448.7 187a1.4 1.4 0 1 0 2.8 0a1.4 1.4 0 1 0 -2.8 0M449 187.5a1.4 1.4 0 1 0 2.8 0a1.4 1.4 0 1 0 -2.8 0M449.2 187.5a1.4 1.4 0 1 0 2.8 0a1.4 1.4 0 1 0 -2.8 0M449.5 187.2a1.4 1.4 0 1 0 2.8 0a1.4 1.4 0 1 0 -2.8 0M449.7 187.4a1.4 1.4 0 1 0 2.8 0a1.4 1.4 0 1 0 -2.8 0M450 187a1.4 1.4 0 1 0 2.8 0a1.4 1.4 0 1 0 -2.8 0M450.3 187.3a1.4 1.4 0 1 0 2.8 0a1.4 1.4 0 1 0 -2.8 0M450.5 187.1a1.4 1.4 0 1 0 2.8 0a1.4 1.4 0 1 0 -2.8 0M450.8 186.7a1.4 1.4 0 1 0 2.8 0a1.4 1.4 0 1 0 -2.8 0M451.1 187a1.4 1.4 0 1 0 2.8 0a1.4 1.4 0 1 0 -2.8 0M451.3 187a1.4 1.4 0 1 0 2.8 0a1.4 1.4 0 1 0 -2.8 0M451.6 187.8a1.4 1.4 0 1 0 2.8 0a1.4 1.4 0 1 0 -2.8 0M451.9 187.2a1.4 1.4 0 1 0 2.8 0a1.4 1.4 0 1 0 -2.8 0M452.1 187a1.4 1.4 0 1 0 2.8 0a1.4 1.4 0 1 0 -2.8 0M452.4 186.9a1.4 1.4 0 1 0 2.8 0a1.4 1.4 0 1 0 -2.8 0M452.6 186.9a1.4 1.4 0 1 0 2.8 0a1.4 1.4 0 1 0 -2.8 0M452.9 187a1.4 1.4 0 1 0 2.8 0a1.4 1.4 0 1 0 -2.8 0M453.2 186.8a1.4 1.4 0 1 0 2.8 0a1.4 1.4 0 1 0 -2.8 0M453.4 186.6a1.4 1.4 0 1 0 2.8 0a1.4 1.4 0 1 0 -2.8 0M453.7 187.6a1.4 1.4 0 1 0 2.8 0a1.4 1.4 0 1 0 -2.8 0M454 187.1a1.4 1.4 0 1 0 2.8 0a1.4 1.4 0 1 0 -2.8 0M454.2 187.1a1.4 1.4 0 1 0 2.8 0a1.4 1.4 0 1 0 -2.8 0M454.5 187.3a1.4 1.4 0 1 0 2.8 0a1.4 1.4 0 1 0 -2.8 0M454.8 187a1.4 1.4 0 1 0 2.8 0a1.4 1.4 0 1 0 -2.8 0M455 186.8a1.4 1.4 0 1 0 2.8 0a1.4 1.4 0 1 0 -2.8 0M455.3 186.7a1.4 1.4 0 1 0 2.8 0a1.4 1.4 0 1 0 -2.8 0M455.6 187a1.4 1.4 0 1 0 2.8 0a1.4 1.4 0 1 0 -2.8 0M455.8 187a1.4 1.4 0 1 0 2.8 0a1.4 1.4 0 1 0 -2.8 0M456.1 187.5a1.4 1.4 0 1 0 2.8 0a1.4 1.4 0 1 0 -2.8 0M456.3 187.3a1.4 1.4 0 1 0 2.8 0a1.4 1.4 0 1 0 -2.8 0M456.6 187.7a1.4 1.4 0 1 0 2.8 0a1.4 1.4 0 1 0 -2.8 0M456.9 187a1.4 1.4 0 1 0 2.8 0a1.4 1.4 0 1 0 -2.8 0M457.1 187.7a1.4 1.4 0 1 0 2.8 0a1.4 1.4 0 1 0 -2.8 0M457.4 187.3a1.4 1.4 0 1 0 2.8 0a1.4 1.4 0 1 0 -2.8 0M457.7 186.7a1.4 1.4 0 1 0 2.8 0a1.4 1.4 0 1 0 -2.8 0M457.9 187.5a1.4 1.4 0 1 0 2.8 0a1.4 1.4 0 1 0 -2.8 0M458.2 189.9a1.4 1.4 0 1 0 2.8 0a1.4 1.4 0 1 0 -2.8 0M458.5 192.8a1.4 1.4 0 1 0 2.8 0a1.4 1.4 0 1 0 -2.8 0M458.7 194.1a1.4 1.4 0 1 0 2.8 0a1.4 1.4 0 1 0 -2.8 0M459 195.6a1.4 1.4 0 1 0 2.8 0a1.4 1.4 0 1 0 -2.8 0M459.2 195.2a1.4 1.4 0 1 0 2.8 0a1.4 1.4 0 1 0 -2.8 0M459.5 195.7a1.4 1.4 0 1 0 2.8 0a1.4 1.4 0 1 0 -2.8 0M459.8 194.8a1.4 1.4 0 1 0 2.8 0a1.4 1.4 0 1 0 -2.8 0M460 195.3a1.4 1.4 0 1 0 2.8 0a1.4 1.4 0 1 0 -2.8 0M460.3 195.8a1.4 1.4 0 1 0 2.8 0a1.4 1.4 0 1 0 -2.8 0M460.6 195a1.4 1.4 0 1 0 2.8 0a1.4 1.4 0 1 0 -2.8 0M460.8 195a1.4 1.4 0 1 0 2.8 0a1.4 1.4 0 1 0 -2.8 0M461.1 194.7a1.4 1.4 0 1 0 2.8 0a1.4 1.4 0 1 0 -2.8 0M461.4 194.9a1.4 1.4 0 1 0 2.8 0a1.4 1.4 0 1 0 -2.8 0M461.6 195a1.4 1.4 0 1 0 2.8 0a1.4 1.4 0 1 0 -2.8 0M461.9 195.5a1.4 1.4 0 1 0 2.8 0a1.4 1.4 0 1 0 -2.8 0M462.2 195a1.4 1.4 0 1 0 2.8 0a1.4 1.4 0 1 0 -2.8 0M462.4 195.2a1.4 1.4 0 1 0 2.8 0a1.4 1.4 0 1 0 -2.8 0M462.7 194.9a1.4 1.4 0 1 0 2.8 0a1.4 1.4 0 1 0 -2.8 0M462.9 195.4a1.4 1.4 0 1 0 2.8 0a1.4 1.4 0 1 0 -2.8 0M463.2 195.7a1.4 1.4 0 1 0 2.8 0a1.4 1.4 0 1 0 -2.8 0M463.5 195.5a1.4 1.4 0 1 0 2.8 0a1.4 1.4 0 1 0 -2.8 0M463.7 194.9a1.4 1.4 0 1 0 2.8 0a1.4 1.4 0 1 0 -2.8 0M464 195.6a1.4 1.4 0 1 0 2.8 0a1.4 1.4 0 1 0 -2.8 0M464.3 195.9a1.4 1.4 0 1 0 2.8 0a1.4 1.4 0 1 0 -2.8 0M464.5 195.4a1.4 1.4 0 1 0 2.8 0a1.4 1.4 0 1 0 -2.8 0M464.8 194.8a1.4 1.4 0 1 0 2.8 0a1.4 1.4 0 1 0 -2.8 0M465.1 195.7a1.4 1.4 0 1 0 2.8 0a1.4 1.4 0 1 0 -2.8 0M465.3 195.8a1.4 1.4 0 1 0 2.8 0a1.4 1.4 0 1 0 -2.8 0M465.6 195.1a1.4 1.4 0 1 0 2.8 0a1.4 1.4 0 1 0 -2.8 0M465.8 194.9a1.4 1.4 0 1 0 2.8 0a1.4 1.4 0 1 0 -2.8 0M466.1 194.9a1.4 1.4 0 1 0 2.8 0a1.4 1.4 0 1 0 -2.8 0M466.4 195.3a1.4 1.4 0 1 0 2.8 0a1.4 1.4 0 1 0 -2.8 0M466.6 195.8a1.4 1.4 0 1 0 2.8 0a1.4 1.4 0 1 0 -2.8 0M466.9 195.5a1.4 1.4 0 1 0 2.8 0a1.4 1.4 0 1 0 -2.8 0M467.2 195.8a1.4 1.4 0 1 0 2.8 0a1.4 1.4 0 1 0 -2.8 0M467.4 195a1.4 1.4 0 1 0 2.8 0a1.4 1.4 0 1 0 -2.8 0M467.7 195.1a1.4 1.4 0 1 0 2.8 0a1.4 1.4 0 1 0 -2.8 0M468 195.6a1.4 1.4 0 1 0 2.8 0a1.4 1.4 0 1 0 -2.8 0M468.2 195.5a1.4 1.4 0 1 0 2.8 0a1.4 1.4 0 1 0 -2.8 0M468.5 195.2a1.4 1.4 0 1 0 2.8 0a1.4 1.4 0 1 0 -2.8 0M468.8 195.5a1.4 1.4 0 1 0 2.8 0a1.4 1.4 0 1 0 -2.8 0M469 195.1a1.4 1.4 0 1 0 2.8 0a1.4 1.4 0 1 0 -2.8 0M469.3 194.8a1.4 1.4 0 1 0 2.8 0a1.4 1.4 0 1 0 -2.8 0M469.5 195.2a1.4 1.4 0 1 0 2.8 0a1.4 1.4 0 1 0 -2.8 0M469.8 194.8a1.4 1.4 0 1 0 2.8 0a1.4 1.4 0 1 0 -2.8 0M470.1 195.5a1.4 1.4 0 1 0 2.8 0a1.4 1.4 0 1 0 -2.8 0M470.3 195.1a1.4 1.4 0 1 0 2.8 0a1.4 1.4 0 1 0 -2.8 0M470.6 195.3a1.4 1.4 0 1 0 2.8 0a1.4 1.4 0 1 0 -2.8 0M470.9 195.4a1.4 1.4 0 1 0 2.8 0a1.4 1.4 0 1 0 -2.8 0M471.1 194.8a1.4 1.4 0 1 0 2.8 0a1.4 1.4 0 1 0 -2.8 0M471.4 194.6a1.4 1.4 0 1 0 2.8 0a1.4 1.4 0 1 0 -2.8 0M471.7 193.5a1.4 1.4 0 1 0 2.8 0a1.4 1.4 0 1 0 -2.8 0M471.9 194a1.4 1.4 0 1 0 2.8 0a1.4 1.4 0 1 0 -2.8 0M472.2 192.8a1.4 1.4 0 1 0 2.8 0a1.4 1.4 0 1 0 -2.8 0M472.4 192.6a1.4 1.4 0 1 0 2.8 0a1.4 1.4 0 1 0 -2.8 0M472.7 190.6a1.4 1.4 0 1 0 2.8 0a1.4 1.4 0 1 0 -2.8 0M473 190.5a1.4 1.4 0 1 0 2.8 0a1.4 1.4 0 1 0 -2.8 0M473.2 189.9a1.4 1.4 0 1 0 2.8 0a1.4 1.4 0 1 0 -2.8 0M473.5 188.7a1.4 1.4 0 1 0 2.8 0a1.4 1.4 0 1 0 -2.8 0M473.8 187.8a1.4 1.4 0 1 0 2.8 0a1.4 1.4 0 1 0 -2.8 0M474 187.3a1.4 1.4 0 1 0 2.8 0a1.4 1.4 0 1 0 -2.8 0M474.3 187a1.4 1.4 0 1 0 2.8 0a1.4 1.4 0 1 0 -2.8 0M474.6 187.5a1.4 1.4 0 1 0 2.8 0a1.4 1.4 0 1 0 -2.8 0M474.8 186.7a1.4 1.4 0 1 0 2.8 0a1.4 1.4 0 1 0 -2.8 0M475.1 187.6a1.4 1.4 0 1 0 2.8 0a1.4 1.4 0 1 0 -2.8 0M475.4 187.1a1.4 1.4 0 1 0 2.8 0a1.4 1.4 0 1 0 -2.8 0M475.6 187.2a1.4 1.4 0 1 0 2.8 0a1.4 1.4 0 1 0 -2.8 0M475.9 187.3a1.4 1.4 0 1 0 2.8 0a1.4 1.4 0 1 0 -2.8 0M476.1 187.3a1.4 1.4 0 1 0 2.8 0a1.4 1.4 0 1 0 -2.8 0M476.4 187.4a1.4 1.4 0 1 0 2.8 0a1.4 1.4 0 1 0 -2.8 0M476.7 187.3a1.4 1.4 0 1 0 2.8 0a1.4 1.4 0 1 0 -2.8 0M476.9 187a1.4 1.4 0 1 0 2.8 0a1.4 1.4 0 1 0 -2.8 0M477.2 187.5a1.4 1.4 0 1 0 2.8 0a1.4 1.4 0 1 0 -2.8 0M477.5 186.9a1.4 1.4 0 1 0 2.8 0a1.4 1.4 0 1 0 -2.8 0M477.7 187.5a1.4 1.4 0 1 0 2.8 0a1.4 1.4 0 1 0 -2.8 0M478 187.5a1.4 1.4 0 1 0 2.8 0a1.4 1.4 0 1 0 -2.8 0M478.3 187.5a1.4 1.4 0 1 0 2.8 0a1.4 1.4 0 1 0 -2.8 0M478.5 187a1.4 1.4 0 1 0 2.8 0a1.4 1.4 0 1 0 -2.8 0M478.8 187.5a1.4 1.4 0 1 0 2.8 0a1.4 1.4 0 1 0 -2.8 0M479 187.8a1.4 1.4 0 1 0 2.8 0a1.4 1.4 0 1 0 -2.8 0M479.3 187.1a1.4 1.4 0 1 0 2.8 0a1.4 1.4 0 1 0 -2.8 0M479.6 186.9a1.4 1.4 0 1 0 2.8 0a1.4 1.4 0 1 0 -2.8 0M479.8 187.2a1.4 1.4 0 1 0 2.8 0a1.4 1.4 0 1 0 -2.8 0M480.1 187.7a1.4 1.4 0 1 0 2.8 0a1.4 1.4 0 1 0 -2.8 0M480.4 186.8a1.4 1.4 0 1 0 2.8 0a1.4 1.4 0 1 0 -2.8 0M480.6 186.6a1.4 1.4 0 1 0 2.8 0a1.4 1.4 0 1 0 -2.8 0M480.9 187.2a1.4 1.4 0 1 0 2.8 0a1.4 1.4 0 1 0 -2.8 0M481.2 187.4a1.4 1.4 0 1 0 2.8 0a1.4 1.4 0 1 0 -2.8 0M481.4 187.5a1.4 1.4 0 1 0 2.8 0a1.4 1.4 0 1 0 -2.8 0M481.7 187a1.4 1.4 0 1 0 2.8 0a1.4 1.4 0 1 0 -2.8 0M482 187.8a1.4 1.4 0 1 0 2.8 0a1.4 1.4 0 1 0 -2.8 0M482.2 186.9a1.4 1.4 0 1 0 2.8 0a1.4 1.4 0 1 0 -2.8 0M482.5 187.5a1.4 1.4 0 1 0 2.8 0a1.4 1.4 0 1 0 -2.8 0M482.7 186.7a1.4 1.4 0 1 0 2.8 0a1.4 1.4 0 1 0 -2.8 0M483 186.6a1.4 1.4 0 1 0 2.8 0a1.4 1.4 0 1 0 -2.8 0M483.3 186.8a1.4 1.4 0 1 0 2.8 0a1.4 1.4 0 1 0 -2.8 0M483.5 186.7a1.4 1.4 0 1 0 2.8 0a1.4 1.4 0 1 0 -2.8 0M483.8 187.2a1.4 1.4 0 1 0 2.8 0a1.4 1.4 0 1 0 -2.8 0M484.1 187.3a1.4 1.4 0 1 0 2.8 0a1.4 1.4 0 1 0 -2.8 0M484.3 187.5a1.4 1.4 0 1 0 2.8 0a1.4 1.4 0 1 0 -2.8 0M484.6 190.3a1.4 1.4 0 1 0 2.8 0a1.4 1.4 0 1 0 -2.8 0M484.9 192.1a1.4 1.4 0 1 0 2.8 0a1.4 1.4 0 1 0 -2.8 0M485.1 193.9a1.4 1.4 0 1 0 2.8 0a1.4 1.4 0 1 0 -2.8 0M485.4 194.9a1.4 1.4 0 1 0 2.8 0a1.4 1.4 0 1 0 -2.8 0M485.6 195.6a1.4 1.4 0 1 0 2.8 0a1.4 1.4 0 1 0 -2.8 0M485.9 195.8a1.4 1.4 0 1 0 2.8 0a1.4 1.4 0 1 0 -2.8 0M486.2 194.9a1.4 1.4 0 1 0 2.8 0a1.4 1.4 0 1 0 -2.8 0M486.4 194.7a1.4 1.4 0 1 0 2.8 0a1.4 1.4 0 1 0 -2.8 0M486.7 195.6a1.4 1.4 0 1 0 2.8 0a1.4 1.4 0 1 0 -2.8 0M487 195a1.4 1.4 0 1 0 2.8 0a1.4 1.4 0 1 0 -2.8 0M487.2 195.9a1.4 1.4 0 1 0 2.8 0a1.4 1.4 0 1 0 -2.8 0M487.5 195.3a1.4 1.4 0 1 0 2.8 0a1.4 1.4 0 1 0 -2.8 0M487.8 195.5a1.4 1.4 0 1 0 2.8 0a1.4 1.4 0 1 0 -2.8 0M488 195.1a1.4 1.4 0 1 0 2.8 0a1.4 1.4 0 1 0 -2.8 0M488.3 195.7a1.4 1.4 0 1 0 2.8 0a1.4 1.4 0 1 0 -2.8 0M488.6 195.3a1.4 1.4 0 1 0 2.8 0a1.4 1.4 0 1 0 -2.8 0M488.8 195.1a1.4 1.4 0 1 0 2.8 0a1.4 1.4 0 1 0 -2.8 0M489.1 195.8a1.4 1.4 0 1 0 2.8 0a1.4 1.4 0 1 0 -2.8 0M489.3 194.8a1.4 1.4 0 1 0 2.8 0a1.4 1.4 0 1 0 -2.8 0M489.6 195.6a1.4 1.4 0 1 0 2.8 0a1.4 1.4 0 1 0 -2.8 0M489.9 194.8a1.4 1.4 0 1 0 2.8 0a1.4 1.4 0 1 0 -2.8 0M490.1 195.5a1.4 1.4 0 1 0 2.8 0a1.4 1.4 0 1 0 -2.8 0M490.4 195.2a1.4 1.4 0 1 0 2.8 0a1.4 1.4 0 1 0 -2.8 0M490.7 195.7a1.4 1.4 0 1 0 2.8 0a1.4 1.4 0 1 0 -2.8 0M490.9 194.8a1.4 1.4 0 1 0 2.8 0a1.4 1.4 0 1 0 -2.8 0M491.2 195.4a1.4 1.4 0 1 0 2.8 0a1.4 1.4 0 1 0 -2.8 0M491.5 195.2a1.4 1.4 0 1 0 2.8 0a1.4 1.4 0 1 0 -2.8 0M491.7 195.8a1.4 1.4 0 1 0 2.8 0a1.4 1.4 0 1 0 -2.8 0M492 195.8a1.4 1.4 0 1 0 2.8 0a1.4 1.4 0 1 0 -2.8 0M492.2 195.5a1.4 1.4 0 1 0 2.8 0a1.4 1.4 0 1 0 -2.8 0M492.5 195a1.4 1.4 0 1 0 2.8 0a1.4 1.4 0 1 0 -2.8 0M492.8 195a1.4 1.4 0 1 0 2.8 0a1.4 1.4 0 1 0 -2.8 0M493 195a1.4 1.4 0 1 0 2.8 0a1.4 1.4 0 1 0 -2.8 0M493.3 195.2a1.4 1.4 0 1 0 2.8 0a1.4 1.4 0 1 0 -2.8 0M493.6 195a1.4 1.4 0 1 0 2.8 0a1.4 1.4 0 1 0 -2.8 0M493.8 194.9a1.4 1.4 0 1 0 2.8 0a1.4 1.4 0 1 0 -2.8 0M494.1 195.6a1.4 1.4 0 1 0 2.8 0a1.4 1.4 0 1 0 -2.8 0M494.4 195.5a1.4 1.4 0 1 0 2.8 0a1.4 1.4 0 1 0 -2.8 0M494.6 195.1a1.4 1.4 0 1 0 2.8 0a1.4 1.4 0 1 0 -2.8 0M494.9 195.9a1.4 1.4 0 1 0 2.8 0a1.4 1.4 0 1 0 -2.8 0M495.2 195a1.4 1.4 0 1 0 2.8 0a1.4 1.4 0 1 0 -2.8 0M495.4 195.4a1.4 1.4 0 1 0 2.8 0a1.4 1.4 0 1 0 -2.8 0M495.7 194.9a1.4 1.4 0 1 0 2.8 0a1.4 1.4 0 1 0 -2.8 0M495.9 195.7a1.4 1.4 0 1 0 2.8 0a1.4 1.4 0 1 0 -2.8 0M496.2 195.7a1.4 1.4 0 1 0 2.8 0a1.4 1.4 0 1 0 -2.8 0M496.5 195a1.4 1.4 0 1 0 2.8 0a1.4 1.4 0 1 0 -2.8 0M496.7 195.6a1.4 1.4 0 1 0 2.8 0a1.4 1.4 0 1 0 -2.8 0M497 195.7a1.4 1.4 0 1 0 2.8 0a1.4 1.4 0 1 0 -2.8 0M497.3 195a1.4 1.4 0 1 0 2.8 0a1.4 1.4 0 1 0 -2.8 0M497.5 194.8a1.4 1.4 0 1 0 2.8 0a1.4 1.4 0 1 0 -2.8 0M497.8 194.6a1.4 1.4 0 1 0 2.8 0a1.4 1.4 0 1 0 -2.8 0M498.1 194.6a1.4 1.4 0 1 0 2.8 0a1.4 1.4 0 1 0 -2.8 0M498.3 193.1a1.4 1.4 0 1 0 2.8 0a1.4 1.4 0 1 0 -2.8 0M498.6 193a1.4 1.4 0 1 0 2.8 0a1.4 1.4 0 1 0 -2.8 0M498.8 192.1a1.4 1.4 0 1 0 2.8 0a1.4 1.4 0 1 0 -2.8 0M499.1 191.1a1.4 1.4 0 1 0 2.8 0a1.4 1.4 0 1 0 -2.8 0M499.4 190.5a1.4 1.4 0 1 0 2.8 0a1.4 1.4 0 1 0 -2.8 0M499.6 190.1a1.4 1.4 0 1 0 2.8 0a1.4 1.4 0 1 0 -2.8 0M499.9 188.5a1.4 1.4 0 1 0 2.8 0a1.4 1.4 0 1 0 -2.8 0M500.2 188.7a1.4 1.4 0 1 0 2.8 0a1.4 1.4 0 1 0 -2.8 0M500.4 187.6a1.4 1.4 0 1 0 2.8 0a1.4 1.4 0 1 0 -2.8 0M500.7 187.7a1.4 1.4 0 1 0 2.8 0a1.4 1.4 0 1 0 -2.8 0M501 187.7a1.4 1.4 0 1 0 2.8 0a1.4 1.4 0 1 0 -2.8 0M501.2 186.8a1.4 1.4 0 1 0 2.8 0a1.4 1.4 0 1 0 -2.8 0M501.5 187.6a1.4 1.4 0 1 0 2.8 0a1.4 1.4 0 1 0 -2.8 0M501.8 187.8a1.4 1.4 0 1 0 2.8 0a1.4 1.4 0 1 0 -2.8 0M502 187a1.4 1.4 0 1 0 2.8 0a1.4 1.4 0 1 0 -2.8 0M502.3 186.6a1.4 1.4 0 1 0 2.8 0a1.4 1.4 0 1 0 -2.8 0M502.5 186.7a1.4 1.4 0 1 0 2.8 0a1.4 1.4 0 1 0 -2.8 0M502.8 187.8a1.4 1.4 0 1 0 2.8 0a1.4 1.4 0 1 0 -2.8 0M503.1 186.6a1.4 1.4 0 1 0 2.8 0a1.4 1.4 0 1 0 -2.8 0M503.3 187.7a1.4 1.4 0 1 0 2.8 0a1.4 1.4 0 1 0 -2.8 0M503.6 186.8a1.4 1.4 0 1 0 2.8 0a1.4 1.4 0 1 0 -2.8 0M503.9 187.5a1.4 1.4 0 1 0 2.8 0a1.4 1.4 0 1 0 -2.8 0M504.1 186.7a1.4 1.4 0 1 0 2.8 0a1.4 1.4 0 1 0 -2.8 0M504.4 186.8a1.4 1.4 0 1 0 2.8 0a1.4 1.4 0 1 0 -2.8 0M504.7 187.4a1.4 1.4 0 1 0 2.8 0a1.4 1.4 0 1 0 -2.8 0M504.9 186.7a1.4 1.4 0 1 0 2.8 0a1.4 1.4 0 1 0 -2.8 0M505.2 187a1.4 1.4 0 1 0 2.8 0a1.4 1.4 0 1 0 -2.8 0M505.4 187.7a1.4 1.4 0 1 0 2.8 0a1.4 1.4 0 1 0 -2.8 0M505.7 187.5a1.4 1.4 0 1 0 2.8 0a1.4 1.4 0 1 0 -2.8 0M506 187.7a1.4 1.4 0 1 0 2.8 0a1.4 1.4 0 1 0 -2.8 0M506.2 187.8a1.4 1.4 0 1 0 2.8 0a1.4 1.4 0 1 0 -2.8 0M506.5 186.6a1.4 1.4 0 1 0 2.8 0a1.4 1.4 0 1 0 -2.8 0M506.8 186.9a1.4 1.4 0 1 0 2.8 0a1.4 1.4 0 1 0 -2.8 0M507 187.6a1.4 1.4 0 1 0 2.8 0a1.4 1.4 0 1 0 -2.8 0M507.3 187.4a1.4 1.4 0 1 0 2.8 0a1.4 1.4 0 1 0 -2.8 0M507.6 186.6a1.4 1.4 0 1 0 2.8 0a1.4 1.4 0 1 0 -2.8 0M507.8 187.2a1.4 1.4 0 1 0 2.8 0a1.4 1.4 0 1 0 -2.8 0M508.1 186.9a1.4 1.4 0 1 0 2.8 0a1.4 1.4 0 1 0 -2.8 0M508.4 187.1a1.4 1.4 0 1 0 2.8 0a1.4 1.4 0 1 0 -2.8 0M508.6 186.7a1.4 1.4 0 1 0 2.8 0a1.4 1.4 0 1 0 -2.8 0M508.9 186.6a1.4 1.4 0 1 0 2.8 0a1.4 1.4 0 1 0 -2.8 0M509.1 187.8a1.4 1.4 0 1 0 2.8 0a1.4 1.4 0 1 0 -2.8 0M509.4 187a1.4 1.4 0 1 0 2.8 0a1.4 1.4 0 1 0 -2.8 0M509.7 187.7a1.4 1.4 0 1 0 2.8 0a1.4 1.4 0 1 0 -2.8 0M509.9 186.7a1.4 1.4 0 1 0 2.8 0a1.4 1.4 0 1 0 -2.8 0M510.2 187.2a1.4 1.4 0 1 0 2.8 0a1.4 1.4 0 1 0 -2.8 0M510.5 186.8a1.4 1.4 0 1 0 2.8 0a1.4 1.4 0 1 0 -2.8 0M510.7 187.8a1.4 1.4 0 1 0 2.8 0a1.4 1.4 0 1 0 -2.8 0M511 189.4a1.4 1.4 0 1 0 2.8 0a1.4 1.4 0 1 0 -2.8 0M511.3 192.4a1.4 1.4 0 1 0 2.8 0a1.4 1.4 0 1 0 -2.8 0M511.5 193.9a1.4 1.4 0 1 0 2.8 0a1.4 1.4 0 1 0 -2.8 0M511.8 195.6a1.4 1.4 0 1 0 2.8 0a1.4 1.4 0 1 0 -2.8 0M512 195.3a1.4 1.4 0 1 0 2.8 0a1.4 1.4 0 1 0 -2.8 0M512.3 194.8a1.4 1.4 0 1 0 2.8 0a1.4 1.4 0 1 0 -2.8 0M512.6 195.1a1.4 1.4 0 1 0 2.8 0a1.4 1.4 0 1 0 -2.8 0M512.8 195.3a1.4 1.4 0 1 0 2.8 0a1.4 1.4 0 1 0 -2.8 0M513.1 195.8a1.4 1.4 0 1 0 2.8 0a1.4 1.4 0 1 0 -2.8 0M513.4 195.1a1.4 1.4 0 1 0 2.8 0a1.4 1.4 0 1 0 -2.8 0M513.6 195a1.4 1.4 0 1 0 2.8 0a1.4 1.4 0 1 0 -2.8 0M513.9 195.9a1.4 1.4 0 1 0 2.8 0a1.4 1.4 0 1 0 -2.8 0M514.2 195.8a1.4 1.4 0 1 0 2.8 0a1.4 1.4 0 1 0 -2.8 0M514.4 195.6a1.4 1.4 0 1 0 2.8 0a1.4 1.4 0 1 0 -2.8 0M514.7 195a1.4 1.4 0 1 0 2.8 0a1.4 1.4 0 1 0 -2.8 0M515 194.9a1.4 1.4 0 1 0 2.8 0a1.4 1.4 0 1 0 -2.8 0M515.2 195a1.4 1.4 0 1 0 2.8 0a1.4 1.4 0 1 0 -2.8 0M515.5 194.8a1.4 1.4 0 1 0 2.8 0a1.4 1.4 0 1 0 -2.8 0M515.7 194.8a1.4 1.4 0 1 0 2.8 0a1.4 1.4 0 1 0 -2.8 0M516 195.3a1.4 1.4 0 1 0 2.8 0a1.4 1.4 0 1 0 -2.8 0M516.3 195.2a1.4 1.4 0 1 0 2.8 0a1.4 1.4 0 1 0 -2.8 0M516.5 195.4a1.4 1.4 0 1 0 2.8 0a1.4 1.4 0 1 0 -2.8 0M516.8 195.1a1.4 1.4 0 1 0 2.8 0a1.4 1.4 0 1 0 -2.8 0M517.1 194.7a1.4 1.4 0 1 0 2.8 0a1.4 1.4 0 1 0 -2.8 0M517.3 195.5a1.4 1.4 0 1 0 2.8 0a1.4 1.4 0 1 0 -2.8 0M517.6 195.5a1.4 1.4 0 1 0 2.8 0a1.4 1.4 0 1 0 -2.8 0M517.9 195.4a1.4 1.4 0 1 0 2.8 0a1.4 1.4 0 1 0 -2.8 0M518.1 195.4a1.4 1.4 0 1 0 2.8 0a1.4 1.4 0 1 0 -2.8 0M518.4 195.5a1.4 1.4 0 1 0 2.8 0a1.4 1.4 0 1 0 -2.8 0M518.6 195.9a1.4 1.4 0 1 0 2.8 0a1.4 1.4 0 1 0 -2.8 0M518.9 195.7a1.4 1.4 0 1 0 2.8 0a1.4 1.4 0 1 0 -2.8 0M519.2 195.6a1.4 1.4 0 1 0 2.8 0a1.4 1.4 0 1 0 -2.8 0M519.4 195.2a1.4 1.4 0 1 0 2.8 0a1.4 1.4 0 1 0 -2.8 0M519.7 195.1a1.4 1.4 0 1 0 2.8 0a1.4 1.4 0 1 0 -2.8 0M520 195.2a1.4 1.4 0 1 0 2.8 0a1.4 1.4 0 1 0 -2.8 0M520.2 195.9a1.4 1.4 0 1 0 2.8 0a1.4 1.4 0 1 0 -2.8 0M520.5 195.2a1.4 1.4 0 1 0 2.8 0a1.4 1.4 0 1 0 -2.8 0M520.8 195.2a1.4 1.4 0 1 0 2.8 0a1.4 1.4 0 1 0 -2.8 0M521 195.2a1.4 1.4 0 1 0 2.8 0a1.4 1.4 0 1 0 -2.8 0M521.3 194.9a1.4 1.4 0 1 0 2.8 0a1.4 1.4 0 1 0 -2.8 0M521.6 195.9a1.4 1.4 0 1 0 2.8 0a1.4 1.4 0 1 0 -2.8 0M521.8 194.7a1.4 1.4 0 1 0 2.8 0a1.4 1.4 0 1 0 -2.8 0M522.1 195.4a1.4 1.4 0 1 0 2.8 0a1.4 1.4 0 1 0 -2.8 0M522.3 195.8a1.4 1.4 0 1 0 2.8 0a1.4 1.4 0 1 0 -2.8 0M522.6 195a1.4 1.4 0 1 0 2.8 0a1.4 1.4 0 1 0 -2.8 0M522.9 195.4a1.4 1.4 0 1 0 2.8 0a1.4 1.4 0 1 0 -2.8 0M523.1 195.2a1.4 1.4 0 1 0 2.8 0a1.4 1.4 0 1 0 -2.8 0M523.4 195a1.4 1.4 0 1 0 2.8 0a1.4 1.4 0 1 0 -2.8 0M523.7 194.9a1.4 1.4 0 1 0 2.8 0a1.4 1.4 0 1 0 -2.8 0M523.9 194.6a1.4 1.4 0 1 0 2.8 0a1.4 1.4 0 1 0 -2.8 0M524.2 195.1a1.4 1.4 0 1 0 2.8 0a1.4 1.4 0 1 0 -2.8 0M524.5 194.5a1.4 1.4 0 1 0 2.8 0a1.4 1.4 0 1 0 -2.8 0M524.7 194a1.4 1.4 0 1 0 2.8 0a1.4 1.4 0 1 0 -2.8 0M525 192.2a1.4 1.4 0 1 0 2.8 0a1.4 1.4 0 1 0 -2.8 0M525.2 192.2a1.4 1.4 0 1 0 2.8 0a1.4 1.4 0 1 0 -2.8 0M525.5 191a1.4 1.4 0 1 0 2.8 0a1.4 1.4 0 1 0 -2.8 0M525.8 190.5a1.4 1.4 0 1 0 2.8 0a1.4 1.4 0 1 0 -2.8 0M526 189.7a1.4 1.4 0 1 0 2.8 0a1.4 1.4 0 1 0 -2.8 0M526.3 188.7a1.4 1.4 0 1 0 2.8 0a1.4 1.4 0 1 0 -2.8 0M526.6 188.8a1.4 1.4 0 1 0 2.8 0a1.4 1.4 0 1 0 -2.8 0M526.8 187.2a1.4 1.4 0 1 0 2.8 0a1.4 1.4 0 1 0 -2.8 0M527.1 187.7a1.4 1.4 0 1 0 2.8 0a1.4 1.4 0 1 0 -2.8 0M527.4 187.6a1.4 1.4 0 1 0 2.8 0a1.4 1.4 0 1 0 -2.8 0M527.6 187.2a1.4 1.4 0 1 0 2.8 0a1.4 1.4 0 1 0 -2.8 0M527.9 187.3a1.4 1.4 0 1 0 2.8 0a1.4 1.4 0 1 0 -2.8 0M528.2 187.8a1.4 1.4 0 1 0 2.8 0a1.4 1.4 0 1 0 -2.8 0M528.4 186.9a1.4 1.4 0 1 0 2.8 0a1.4 1.4 0 1 0 -2.8 0M528.7 187.4a1.4 1.4 0 1 0 2.8 0a1.4 1.4 0 1 0 -2.8 0M528.9 187.5a1.4 1.4 0 1 0 2.8 0a1.4 1.4 0 1 0 -2.8 0M529.2 187.1a1.4 1.4 0 1 0 2.8 0a1.4 1.4 0 1 0 -2.8 0M529.5 187.5a1.4 1.4 0 1 0 2.8 0a1.4 1.4 0 1 0 -2.8 0M529.7 187.1a1.4 1.4 0 1 0 2.8 0a1.4 1.4 0 1 0 -2.8 0M530 187.2a1.4 1.4 0 1 0 2.8 0a1.4 1.4 0 1 0 -2.8 0M530.3 187.3a1.4 1.4 0 1 0 2.8 0a1.4 1.4 0 1 0 -2.8 0M530.5 187.4a1.4 1.4 0 1 0 2.8 0a1.4 1.4 0 1 0 -2.8 0M530.8 187a1.4 1.4 0 1 0 2.8 0a1.4 1.4 0 1 0 -2.8 0M531.1 187.4a1.4 1.4 0 1 0 2.8 0a1.4 1.4 0 1 0 -2.8 0M531.3 187.3a1.4 1.4 0 1 0 2.8 0a1.4 1.4 0 1 0 -2.8 0M531.6 186.9a1.4 1.4 0 1 0 2.8 0a1.4 1.4 0 1 0 -2.8 0M531.8 187.3a1.4 1.4 0 1 0 2.8 0a1.4 1.4 0 1 0 -2.8 0M532.1 186.9a1.4 1.4 0 1 0 2.8 0a1.4 1.4 0 1 0 -2.8 0M532.4 187.7a1.4 1.4 0 1 0 2.8 0a1.4 1.4 0 1 0 -2.8 0M532.6 187.2a1.4 1.4 0 1 0 2.8 0a1.4 1.4 0 1 0 -2.8 0M532.9 187.5a1.4 1.4 0 1 0 2.8 0a1.4 1.4 0 1 0 -2.8 0M533.2 187.2a1.4 1.4 0 1 0 2.8 0a1.4 1.4 0 1 0 -2.8 0M533.4 187.2a1.4 1.4 0 1 0 2.8 0a1.4 1.4 0 1 0 -2.8 0M533.7 186.9a1.4 1.4 0 1 0 2.8 0a1.4 1.4 0 1 0 -2.8 0M534 186.8a1.4 1.4 0 1 0 2.8 0a1.4 1.4 0 1 0 -2.8 0M534.2 187.7a1.4 1.4 0 1 0 2.8 0a1.4 1.4 0 1 0 -2.8 0M534.5 187.2a1.4 1.4 0 1 0 2.8 0a1.4 1.4 0 1 0 -2.8 0M534.8 187.2a1.4 1.4 0 1 0 2.8 0a1.4 1.4 0 1 0 -2.8 0M535 187.2a1.4 1.4 0 1 0 2.8 0a1.4 1.4 0 1 0 -2.8 0M535.3 187.6a1.4 1.4 0 1 0 2.8 0a1.4 1.4 0 1 0 -2.8 0M535.5 186.9a1.4 1.4 0 1 0 2.8 0a1.4 1.4 0 1 0 -2.8 0M535.8 186.8a1.4 1.4 0 1 0 2.8 0a1.4 1.4 0 1 0 -2.8 0M536.1 187.6a1.4 1.4 0 1 0 2.8 0a1.4 1.4 0 1 0 -2.8 0M536.3 187.2a1.4 1.4 0 1 0 2.8 0a1.4 1.4 0 1 0 -2.8 0M536.6 187.4a1.4 1.4 0 1 0 2.8 0a1.4 1.4 0 1 0 -2.8 0M536.9 187.6a1.4 1.4 0 1 0 2.8 0a1.4 1.4 0 1 0 -2.8 0M537.1 188.4a1.4 1.4 0 1 0 2.8 0a1.4 1.4 0 1 0 -2.8 0M537.4 190.3a1.4 1.4 0 1 0 2.8 0a1.4 1.4 0 1 0 -2.8 0M537.7 191.7a1.4 1.4 0 1 0 2.8 0a1.4 1.4 0 1 0 -2.8 0M537.9 194.2a1.4 1.4 0 1 0 2.8 0a1.4 1.4 0 1 0 -2.8 0M538.2 195.7a1.4 1.4 0 1 0 2.8 0a1.4 1.4 0 1 0 -2.8 0M538.4 195.7a1.4 1.4 0 1 0 2.8 0a1.4 1.4 0 1 0 -2.8 0M538.7 194.8a1.4 1.4 0 1 0 2.8 0a1.4 1.4 0 1 0 -2.8 0M539 194.9a1.4 1.4 0 1 0 2.8 0a1.4 1.4 0 1 0 -2.8 0M539.2 195a1.4 1.4 0 1 0 2.8 0a1.4 1.4 0 1 0 -2.8 0M539.5 194.8a1.4 1.4 0 1 0 2.8 0a1.4 1.4 0 1 0 -2.8 0M539.8 195.1a1.4 1.4 0 1 0 2.8 0a1.4 1.4 0 1 0 -2.8 0M540 195.7a1.4 1.4 0 1 0 2.8 0a1.4 1.4 0 1 0 -2.8 0M540.3 195.3a1.4 1.4 0 1 0 2.8 0a1.4 1.4 0 1 0 -2.8 0M540.6 195.2a1.4 1.4 0 1 0 2.8 0a1.4 1.4 0 1 0 -2.8 0M540.8 194.8a1.4 1.4 0 1 0 2.8 0a1.4 1.4 0 1 0 -2.8 0M541.1 195.2a1.4 1.4 0 1 0 2.8 0a1.4 1.4 0 1 0 -2.8 0M541.4 195.9a1.4 1.4 0 1 0 2.8 0a1.4 1.4 0 1 0 -2.8 0M541.6 195.5a1.4 1.4 0 1 0 2.8 0a1.4 1.4 0 1 0 -2.8 0M541.9 195.2a1.4 1.4 0 1 0 2.8 0a1.4 1.4 0 1 0 -2.8 0M542.1 195.3a1.4 1.4 0 1 0 2.8 0a1.4 1.4 0 1 0 -2.8 0M542.4 195.7a1.4 1.4 0 1 0 2.8 0a1.4 1.4 0 1 0 -2.8 0M542.7 195.6a1.4 1.4 0 1 0 2.8 0a1.4 1.4 0 1 0 -2.8 0M542.9 194.9a1.4 1.4 0 1 0 2.8 0a1.4 1.4 0 1 0 -2.8 0M543.2 195.5a1.4 1.4 0 1 0 2.8 0a1.4 1.4 0 1 0 -2.8 0M543.5 195.1a1.4 1.4 0 1 0 2.8 0a1.4 1.4 0 1 0 -2.8 0M543.7 195.3a1.4 1.4 0 1 0 2.8 0a1.4 1.4 0 1 0 -2.8 0M544 195a1.4 1.4 0 1 0 2.8 0a1.4 1.4 0 1 0 -2.8 0M544.3 195.1a1.4 1.4 0 1 0 2.8 0a1.4 1.4 0 1 0 -2.8 0M544.5 195.1a1.4 1.4 0 1 0 2.8 0a1.4 1.4 0 1 0 -2.8 0M544.8 195.2a1.4 1.4 0 1 0 2.8 0a1.4 1.4 0 1 0 -2.8 0M545 194.7a1.4 1.4 0 1 0 2.8 0a1.4 1.4 0 1 0 -2.8 0M545.3 194.9a1.4 1.4 0 1 0 2.8 0a1.4 1.4 0 1 0 -2.8 0M545.6 195.4a1.4 1.4 0 1 0 2.8 0a1.4 1.4 0 1 0 -2.8 0M545.8 194.8a1.4 1.4 0 1 0 2.8 0a1.4 1.4 0 1 0 -2.8 0M546.1 194.9a1.4 1.4 0 1 0 2.8 0a1.4 1.4 0 1 0 -2.8 0M546.4 195.6a1.4 1.4 0 1 0 2.8 0a1.4 1.4 0 1 0 -2.8 0M546.6 195a1.4 1.4 0 1 0 2.8 0a1.4 1.4 0 1 0 -2.8 0M546.9 195.1a1.4 1.4 0 1 0 2.8 0a1.4 1.4 0 1 0 -2.8 0M547.2 195a1.4 1.4 0 1 0 2.8 0a1.4 1.4 0 1 0 -2.8 0M547.4 195.7a1.4 1.4 0 1 0 2.8 0a1.4 1.4 0 1 0 -2.8 0M547.7 194.8a1.4 1.4 0 1 0 2.8 0a1.4 1.4 0 1 0 -2.8 0M548 195.5a1.4 1.4 0 1 0 2.8 0a1.4 1.4 0 1 0 -2.8 0M548.2 195.7a1.4 1.4 0 1 0 2.8 0a1.4 1.4 0 1 0 -2.8 0M548.5 194.9a1.4 1.4 0 1 0 2.8 0a1.4 1.4 0 1 0 -2.8 0M548.7 195.2a1.4 1.4 0 1 0 2.8 0a1.4 1.4 0 1 0 -2.8 0M549 195.7a1.4 1.4 0 1 0 2.8 0a1.4 1.4 0 1 0 -2.8 0M549.3 195.4a1.4 1.4 0 1 0 2.8 0a1.4 1.4 0 1 0 -2.8 0M549.5 195.1a1.4 1.4 0 1 0 2.8 0a1.4 1.4 0 1 0 -2.8 0M549.8 194.8a1.4 1.4 0 1 0 2.8 0a1.4 1.4 0 1 0 -2.8 0M550.1 195.2a1.4 1.4 0 1 0 2.8 0a1.4 1.4 0 1 0 -2.8 0M550.3 194.9a1.4 1.4 0 1 0 2.8 0a1.4 1.4 0 1 0 -2.8 0M550.6 194.9a1.4 1.4 0 1 0 2.8 0a1.4 1.4 0 1 0 -2.8 0M550.9 193.9a1.4 1.4 0 1 0 2.8 0a1.4 1.4 0 1 0 -2.8 0M551.1 193.4a1.4 1.4 0 1 0 2.8 0a1.4 1.4 0 1 0 -2.8 0M551.4 192.9a1.4 1.4 0 1 0 2.8 0a1.4 1.4 0 1 0 -2.8 0M551.6 192.3a1.4 1.4 0 1 0 2.8 0a1.4 1.4 0 1 0 -2.8 0M551.9 191a1.4 1.4 0 1 0 2.8 0a1.4 1.4 0 1 0 -2.8 0M552.2 190.2a1.4 1.4 0 1 0 2.8 0a1.4 1.4 0 1 0 -2.8 0M552.4 189.7a1.4 1.4 0 1 0 2.8 0a1.4 1.4 0 1 0 -2.8 0M552.7 189.4a1.4 1.4 0 1 0 2.8 0a1.4 1.4 0 1 0 -2.8 0M553 187.9a1.4 1.4 0 1 0 2.8 0a1.4 1.4 0 1 0 -2.8 0M553.2 188.3a1.4 1.4 0 1 0 2.8 0a1.4 1.4 0 1 0 -2.8 0M553.5 187.7a1.4 1.4 0 1 0 2.8 0a1.4 1.4 0 1 0 -2.8 0M553.8 187.1a1.4 1.4 0 1 0 2.8 0a1.4 1.4 0 1 0 -2.8 0M554 187.4a1.4 1.4 0 1 0 2.8 0a1.4 1.4 0 1 0 -2.8 0M554.3 187a1.4 1.4 0 1 0 2.8 0a1.4 1.4 0 1 0 -2.8 0M554.6 186.7a1.4 1.4 0 1 0 2.8 0a1.4 1.4 0 1 0 -2.8 0M554.8 187.5a1.4 1.4 0 1 0 2.8 0a1.4 1.4 0 1 0 -2.8 0M555.1 187.1a1.4 1.4 0 1 0 2.8 0a1.4 1.4 0 1 0 -2.8 0M555.3 187.2a1.4 1.4 0 1 0 2.8 0a1.4 1.4 0 1 0 -2.8 0M555.6 187.2a1.4 1.4 0 1 0 2.8 0a1.4 1.4 0 1 0 -2.8 0M555.9 187.7a1.4 1.4 0 1 0 2.8 0a1.4 1.4 0 1 0 -2.8 0M556.1 187.5a1.4 1.4 0 1 0 2.8 0a1.4 1.4 0 1 0 -2.8 0M556.4 186.6a1.4 1.4 0 1 0 2.8 0a1.4 1.4 0 1 0 -2.8 0M556.7 187.3a1.4 1.4 0 1 0 2.8 0a1.4 1.4 0 1 0 -2.8 0M556.9 187.2a1.4 1.4 0 1 0 2.8 0a1.4 1.4 0 1 0 -2.8 0M557.2 187.2a1.4 1.4 0 1 0 2.8 0a1.4 1.4 0 1 0 -2.8 0M557.5 187.6a1.4 1.4 0 1 0 2.8 0a1.4 1.4 0 1 0 -2.8 0M557.7 187.1a1.4 1.4 0 1 0 2.8 0a1.4 1.4 0 1 0 -2.8 0M558 187.2a1.4 1.4 0 1 0 2.8 0a1.4 1.4 0 1 0 -2.8 0M558.2 187.7a1.4 1.4 0 1 0 2.8 0a1.4 1.4 0 1 0 -2.8 0M558.5 187.1a1.4 1.4 0 1 0 2.8 0a1.4 1.4 0 1 0 -2.8 0M558.8 187.2a1.4 1.4 0 1 0 2.8 0a1.4 1.4 0 1 0 -2.8 0M559 187.2a1.4 1.4 0 1 0 2.8 0a1.4 1.4 0 1 0 -2.8 0M559.3 187.6a1.4 1.4 0 1 0 2.8 0a1.4 1.4 0 1 0 -2.8 0M559.6 187.4a1.4 1.4 0 1 0 2.8 0a1.4 1.4 0 1 0 -2.8 0M559.8 187.5a1.4 1.4 0 1 0 2.8 0a1.4 1.4 0 1 0 -2.8 0M560.1 187.1a1.4 1.4 0 1 0 2.8 0a1.4 1.4 0 1 0 -2.8 0M560.4 186.6a1.4 1.4 0 1 0 2.8 0a1.4 1.4 0 1 0 -2.8 0M560.6 187.4a1.4 1.4 0 1 0 2.8 0a1.4 1.4 0 1 0 -2.8 0M560.9 187.3a1.4 1.4 0 1 0 2.8 0a1.4 1.4 0 1 0 -2.8 0M561.2 187.5a1.4 1.4 0 1 0 2.8 0a1.4 1.4 0 1 0 -2.8 0M561.4 187.5a1.4 1.4 0 1 0 2.8 0a1.4 1.4 0 1 0 -2.8 0M561.7 186.7a1.4 1.4 0 1 0 2.8 0a1.4 1.4 0 1 0 -2.8 0M561.9 186.9a1.4 1.4 0 1 0 2.8 0a1.4 1.4 0 1 0 -2.8 0M562.2 186.7a1.4 1.4 0 1 0 2.8 0a1.4 1.4 0 1 0 -2.8 0M562.5 187.6a1.4 1.4 0 1 0 2.8 0a1.4 1.4 0 1 0 -2.8 0M562.7 186.7a1.4 1.4 0 1 0 2.8 0a1.4 1.4 0 1 0 -2.8 0M563 186.7a1.4 1.4 0 1 0 2.8 0a1.4 1.4 0 1 0 -2.8 0M563.3 187.5a1.4 1.4 0 1 0 2.8 0a1.4 1.4 0 1 0 -2.8 0M563.5 188a1.4 1.4 0 1 0 2.8 0a1.4 1.4 0 1 0 -2.8 0M563.8 189.3a1.4 1.4 0 1 0 2.8 0a1.4 1.4 0 1 0 -2.8 0M564.1 192.4a1.4 1.4 0 1 0 2.8 0a1.4 1.4 0 1 0 -2.8 0M564.3 194.5a1.4 1.4 0 1 0 2.8 0a1.4 1.4 0 1 0 -2.8 0M564.6 195.3a1.4 1.4 0 1 0 2.8 0a1.4 1.4 0 1 0 -2.8 0M564.8 194.8a1.4 1.4 0 1 0 2.8 0a1.4 1.4 0 1 0 -2.8 0M565.1 195.5a1.4 1.4 0 1 0 2.8 0a1.4 1.4 0 1 0 -2.8 0M565.4 195.2a1.4 1.4 0 1 0 2.8 0a1.4 1.4 0 1 0 -2.8 0M565.6 195.4a1.4 1.4 0 1 0 2.8 0a1.4 1.4 0 1 0 -2.8 0M565.9 195.9a1.4 1.4 0 1 0 2.8 0a1.4 1.4 0 1 0 -2.8 0M566.2 195.7a1.4 1.4 0 1 0 2.8 0a1.4 1.4 0 1 0 -2.8 0M566.4 195.7a1.4 1.4 0 1 0 2.8 0a1.4 1.4 0 1 0 -2.8 0M566.7 194.9a1.4 1.4 0 1 0 2.8 0a1.4 1.4 0 1 0 -2.8 0M567 195.1a1.4 1.4 0 1 0 2.8 0a1.4 1.4 0 1 0 -2.8 0M567.2 195.3a1.4 1.4 0 1 0 2.8 0a1.4 1.4 0 1 0 -2.8 0M567.5 194.7a1.4 1.4 0 1 0 2.8 0a1.4 1.4 0 1 0 -2.8 0M567.8 195.9a1.4 1.4 0 1 0 2.8 0a1.4 1.4 0 1 0 -2.8 0M568 195a1.4 1.4 0 1 0 2.8 0a1.4 1.4 0 1 0 -2.8 0M568.3 195a1.4 1.4 0 1 0 2.8 0a1.4 1.4 0 1 0 -2.8 0M568.5 195.1a1.4 1.4 0 1 0 2.8 0a1.4 1.4 0 1 0 -2.8 0M568.8 195a1.4 1.4 0 1 0 2.8 0a1.4 1.4 0 1 0 -2.8 0M569.1 195.7a1.4 1.4 0 1 0 2.8 0a1.4 1.4 0 1 0 -2.8 0M569.3 195.4a1.4 1.4 0 1 0 2.8 0a1.4 1.4 0 1 0 -2.8 0M569.6 195.3a1.4 1.4 0 1 0 2.8 0a1.4 1.4 0 1 0 -2.8 0M569.9 195.2a1.4 1.4 0 1 0 2.8 0a1.4 1.4 0 1 0 -2.8 0M570.1 194.8a1.4 1.4 0 1 0 2.8 0a1.4 1.4 0 1 0 -2.8 0M570.4 195.1a1.4 1.4 0 1 0 2.8 0a1.4 1.4 0 1 0 -2.8 0M570.7 195.7a1.4 1.4 0 1 0 2.8 0a1.4 1.4 0 1 0 -2.8 0M570.9 195.7a1.4 1.4 0 1 0 2.8 0a1.4 1.4 0 1 0 -2.8 0M571.2 195.7a1.4 1.4 0 1 0 2.8 0a1.4 1.4 0 1 0 -2.8 0M571.4 195a1.4 1.4 0 1 0 2.8 0a1.4 1.4 0 1 0 -2.8 0M571.7 194.9a1.4 1.4 0 1 0 2.8 0a1.4 1.4 0 1 0 -2.8 0M572 194.8a1.4 1.4 0 1 0 2.8 0a1.4 1.4 0 1 0 -2.8 0M572.2 195.3a1.4 1.4 0 1 0 2.8 0a1.4 1.4 0 1 0 -2.8 0M572.5 195.1a1.4 1.4 0 1 0 2.8 0a1.4 1.4 0 1 0 -2.8 0M572.8 195.3a1.4 1.4 0 1 0 2.8 0a1.4 1.4 0 1 0 -2.8 0M573 195.3a1.4 1.4 0 1 0 2.8 0a1.4 1.4 0 1 0 -2.8 0M573.3 195.4a1.4 1.4 0 1 0 2.8 0a1.4 1.4 0 1 0 -2.8 0M573.6 195.1a1.4 1.4 0 1 0 2.8 0a1.4 1.4 0 1 0 -2.8 0M573.8 195.7a1.4 1.4 0 1 0 2.8 0a1.4 1.4 0 1 0 -2.8 0M574.1 194.9a1.4 1.4 0 1 0 2.8 0a1.4 1.4 0 1 0 -2.8 0M574.4 195.8a1.4 1.4 0 1 0 2.8 0a1.4 1.4 0 1 0 -2.8 0M574.6 195.4a1.4 1.4 0 1 0 2.8 0a1.4 1.4 0 1 0 -2.8 0M574.9 194.8a1.4 1.4 0 1 0 2.8 0a1.4 1.4 0 1 0 -2.8 0M575.1 195.1a1.4 1.4 0 1 0 2.8 0a1.4 1.4 0 1 0 -2.8 0M575.4 195.3a1.4 1.4 0 1 0 2.8 0a1.4 1.4 0 1 0 -2.8 0M575.7 195.2a1.4 1.4 0 1 0 2.8 0a1.4 1.4 0 1 0 -2.8 0M575.9 195.4a1.4 1.4 0 1 0 2.8 0a1.4 1.4 0 1 0 -2.8 0M576.2 195.1a1.4 1.4 0 1 0 2.8 0a1.4 1.4 0 1 0 -2.8 0M576.5 195a1.4 1.4 0 1 0 2.8 0a1.4 1.4 0 1 0 -2.8 0M576.7 195.4a1.4 1.4 0 1 0 2.8 0a1.4 1.4 0 1 0 -2.8 0M577 194.4a1.4 1.4 0 1 0 2.8 0a1.4 1.4 0 1 0 -2.8 0M577.3 194.4a1.4 1.4 0 1 0 2.8 0a1.4 1.4 0 1 0 -2.8 0M577.5 193.8a1.4 1.4 0 1 0 2.8 0a1.4 1.4 0 1 0 -2.8 0M577.8 192.9a1.4 1.4 0 1 0 2.8 0a1.4 1.4 0 1 0 -2.8 0M578 191.9a1.4 1.4 0 1 0 2.8 0a1.4 1.4 0 1 0 -2.8 0M578.3 191.7a1.4 1.4 0 1 0 2.8 0a1.4 1.4 0 1 0 -2.8 0M578.6 190.3a1.4 1.4 0 1 0 2.8 0a1.4 1.4 0 1 0 -2.8 0M578.8 190a1.4 1.4 0 1 0 2.8 0a1.4 1.4 0 1 0 -2.8 0M579.1 188.4a1.4 1.4 0 1 0 2.8 0a1.4 1.4 0 1 0 -2.8 0M579.4 188.2a1.4 1.4 0 1 0 2.8 0a1.4 1.4 0 1 0 -2.8 0M579.6 187.9a1.4 1.4 0 1 0 2.8 0a1.4 1.4 0 1 0 -2.8 0M579.9 186.9a1.4 1.4 0 1 0 2.8 0a1.4 1.4 0 1 0 -2.8 0M580.2 187.7a1.4 1.4 0 1 0 2.8 0a1.4 1.4 0 1 0 -2.8 0M580.4 186.7a1.4 1.4 0 1 0 2.8 0a1.4 1.4 0 1 0 -2.8 0M580.7 187.3a1.4 1.4 0 1 0 2.8 0a1.4 1.4 0 1 0 -2.8 0M581 186.8a1.4 1.4 0 1 0 2.8 0a1.4 1.4 0 1 0 -2.8 0M581.2 187.7a1.4 1.4 0 1 0 2.8 0a1.4 1.4 0 1 0 -2.8 0M581.5 187.3a1.4 1.4 0 1 0 2.8 0a1.4 1.4 0 1 0 -2.8 0M581.7 187.6a1.4 1.4 0 1 0 2.8 0a1.4 1.4 0 1 0 -2.8 0M582 187.2a1.4 1.4 0 1 0 2.8 0a1.4 1.4 0 1 0 -2.8 0M582.3 187.4a1.4 1.4 0 1 0 2.8 0a1.4 1.4 0 1 0 -2.8 0M582.5 187.4a1.4 1.4 0 1 0 2.8 0a1.4 1.4 0 1 0 -2.8 0M582.8 187a1.4 1.4 0 1 0 2.8 0a1.4 1.4 0 1 0 -2.8 0M583.1 186.9a1.4 1.4 0 1 0 2.8 0a1.4 1.4 0 1 0 -2.8 0M583.3 187.6a1.4 1.4 0 1 0 2.8 0a1.4 1.4 0 1 0 -2.8 0M583.6 186.8a1.4 1.4 0 1 0 2.8 0a1.4 1.4 0 1 0 -2.8 0M583.9 187.7a1.4 1.4 0 1 0 2.8 0a1.4 1.4 0 1 0 -2.8 0M584.1 186.8a1.4 1.4 0 1 0 2.8 0a1.4 1.4 0 1 0 -2.8 0M584.4 186.7a1.4 1.4 0 1 0 2.8 0a1.4 1.4 0 1 0 -2.8 0M584.6 186.7a1.4 1.4 0 1 0 2.8 0a1.4 1.4 0 1 0 -2.8 0M584.9 187.5a1.4 1.4 0 1 0 2.8 0a1.4 1.4 0 1 0 -2.8 0M585.2 187.7a1.4 1.4 0 1 0 2.8 0a1.4 1.4 0 1 0 -2.8 0M585.4 187.1a1.4 1.4 0 1 0 2.8 0a1.4 1.4 0 1 0 -2.8 0M585.7 187.4a1.4 1.4 0 1 0 2.8 0a1.4 1.4 0 1 0 -2.8 0M586 186.9a1.4 1.4 0 1 0 2.8 0a1.4 1.4 0 1 0 -2.8 0M586.2 187.7a1.4 1.4 0 1 0 2.8 0a1.4 1.4 0 1 0 -2.8 0M586.5 187.4a1.4 1.4 0 1 0 2.8 0a1.4 1.4 0 1 0 -2.8 0M586.8 186.8a1.4 1.4 0 1 0 2.8 0a1.4 1.4 0 1 0 -2.8 0M587 186.7a1.4 1.4 0 1 0 2.8 0a1.4 1.4 0 1 0 -2.8 0M587.3 187.4a1.4 1.4 0 1 0 2.8 0a1.4 1.4 0 1 0 -2.8 0M587.6 186.7a1.4 1.4 0 1 0 2.8 0a1.4 1.4 0 1 0 -2.8 0M587.8 187.6a1.4 1.4 0 1 0 2.8 0a1.4 1.4 0 1 0 -2.8 0M588.1 187a1.4 1.4 0 1 0 2.8 0a1.4 1.4 0 1 0 -2.8 0M588.3 186.9a1.4 1.4 0 1 0 2.8 0a1.4 1.4 0 1 0 -2.8 0M588.6 187.3a1.4 1.4 0 1 0 2.8 0a1.4 1.4 0 1 0 -2.8 0M588.9 187a1.4 1.4 0 1 0 2.8 0a1.4 1.4 0 1 0 -2.8 0M589.1 187.3a1.4 1.4 0 1 0 2.8 0a1.4 1.4 0 1 0 -2.8 0M589.4 186.8a1.4 1.4 0 1 0 2.8 0a1.4 1.4 0 1 0 -2.8 0M589.7 187.7a1.4 1.4 0 1 0 2.8 0a1.4 1.4 0 1 0 -2.8 0M589.9 187.7a1.4 1.4 0 1 0 2.8 0a1.4 1.4 0 1 0 -2.8 0M590.2 190.2a1.4 1.4 0 1 0 2.8 0a1.4 1.4 0 1 0 -2.8 0M590.5 191.8a1.4 1.4 0 1 0 2.8 0a1.4 1.4 0 1 0 -2.8 0M590.7 194.7a1.4 1.4 0 1 0 2.8 0a1.4 1.4 0 1 0 -2.8 0M591 195.9a1.4 1.4 0 1 0 2.8 0a1.4 1.4 0 1 0 -2.8 0M591.2 195.2a1.4 1.4 0 1 0 2.8 0a1.4 1.4 0 1 0 -2.8 0M591.5 194.7a1.4 1.4 0 1 0 2.8 0a1.4 1.4 0 1 0 -2.8 0M591.8 195.2a1.4 1.4 0 1 0 2.8 0a1.4 1.4 0 1 0 -2.8 0M592 195.5a1.4 1.4 0 1 0 2.8 0a1.4 1.4 0 1 0 -2.8 0M592.3 195a1.4 1.4 0 1 0 2.8 0a1.4 1.4 0 1 0 -2.8 0M592.6 195.4a1.4 1.4 0 1 0 2.8 0a1.4 1.4 0 1 0 -2.8 0M592.8 194.8a1.4 1.4 0 1 0 2.8 0a1.4 1.4 0 1 0 -2.8 0M593.1 195.3a1.4 1.4 0 1 0 2.8 0a1.4 1.4 0 1 0 -2.8 0M593.4 195.6a1.4 1.4 0 1 0 2.8 0a1.4 1.4 0 1 0 -2.8 0M593.6 195.2a1.4 1.4 0 1 0 2.8 0a1.4 1.4 0 1 0 -2.8 0M593.9 195.5a1.4 1.4 0 1 0 2.8 0a1.4 1.4 0 1 0 -2.8 0M594.2 194.8a1.4 1.4 0 1 0 2.8 0a1.4 1.4 0 1 0 -2.8 0M594.4 195.7a1.4 1.4 0 1 0 2.8 0a1.4 1.4 0 1 0 -2.8 0M594.7 194.8a1.4 1.4 0 1 0 2.8 0a1.4 1.4 0 1 0 -2.8 0M594.9 195.8a1.4 1.4 0 1 0 2.8 0a1.4 1.4 0 1 0 -2.8 0M595.2 195.9a1.4 1.4 0 1 0 2.8 0a1.4 1.4 0 1 0 -2.8 0M595.5 195.8a1.4 1.4 0 1 0 2.8 0a1.4 1.4 0 1 0 -2.8 0M595.7 195.3a1.4 1.4 0 1 0 2.8 0a1.4 1.4 0 1 0 -2.8 0M596 195a1.4 1.4 0 1 0 2.8 0a1.4 1.4 0 1 0 -2.8 0M596.3 195.1a1.4 1.4 0 1 0 2.8 0a1.4 1.4 0 1 0 -2.8 0M596.5 195.6a1.4 1.4 0 1 0 2.8 0a1.4 1.4 0 1 0 -2.8 0M596.8 195.3a1.4 1.4 0 1 0 2.8 0a1.4 1.4 0 1 0 -2.8 0M597.1 195.8a1.4 1.4 0 1 0 2.8 0a1.4 1.4 0 1 0 -2.8 0M597.3 194.8a1.4 1.4 0 1 0 2.8 0a1.4 1.4 0 1 0 -2.8 0M597.6 195.3a1.4 1.4 0 1 0 2.8 0a1.4 1.4 0 1 0 -2.8 0M597.8 195.7a1.4 1.4 0 1 0 2.8 0a1.4 1.4 0 1 0 -2.8 0M598.1 195.4a1.4 1.4 0 1 0 2.8 0a1.4 1.4 0 1 0 -2.8 0M598.4 195.3a1.4 1.4 0 1 0 2.8 0a1.4 1.4 0 1 0 -2.8 0M598.6 194.8a1.4 1.4 0 1 0 2.8 0a1.4 1.4 0 1 0 -2.8 0M598.9 194.9a1.4 1.4 0 1 0 2.8 0a1.4 1.4 0 1 0 -2.8 0M599.2 195a1.4 1.4 0 1 0 2.8 0a1.4 1.4 0 1 0 -2.8 0M599.4 195.8a1.4 1.4 0 1 0 2.8 0a1.4 1.4 0 1 0 -2.8 0M599.7 195.7a1.4 1.4 0 1 0 2.8 0a1.4 1.4 0 1 0 -2.8 0M600 195a1.4 1.4 0 1 0 2.8 0a1.4 1.4 0 1 0 -2.8 0M600.2 195.8a1.4 1.4 0 1 0 2.8 0a1.4 1.4 0 1 0 -2.8 0M600.5 194.7a1.4 1.4 0 1 0 2.8 0a1.4 1.4 0 1 0 -2.8 0M600.8 195.4a1.4 1.4 0 1 0 2.8 0a1.4 1.4 0 1 0 -2.8 0M601 195.9a1.4 1.4 0 1 0 2.8 0a1.4 1.4 0 1 0 -2.8 0M601.3 195.1a1.4 1.4 0 1 0 2.8 0a1.4 1.4 0 1 0 -2.8 0M601.5 195.8a1.4 1.4 0 1 0 2.8 0a1.4 1.4 0 1 0 -2.8 0M601.8 195.5a1.4 1.4 0 1 0 2.8 0a1.4 1.4 0 1 0 -2.8 0M602.1 194.8a1.4 1.4 0 1 0 2.8 0a1.4 1.4 0 1 0 -2.8 0M602.3 195.1a1.4 1.4 0 1 0 2.8 0a1.4 1.4 0 1 0 -2.8 0M602.6 195.2a1.4 1.4 0 1 0 2.8 0a1.4 1.4 0 1 0 -2.8 0M602.9 195a1.4 1.4 0 1 0 2.8 0a1.4 1.4 0 1 0 -2.8 0M603.1 195.3a1.4 1.4 0 1 0 2.8 0a1.4 1.4 0 1 0 -2.8 0M603.4 194.3a1.4 1.4 0 1 0 2.8 0a1.4 1.4 0 1 0 -2.8 0M603.7 194.5a1.4 1.4 0 1 0 2.8 0a1.4 1.4 0 1 0 -2.8 0M603.9 193.2a1.4 1.4 0 1 0 2.8 0a1.4 1.4 0 1 0 -2.8 0M604.2 192.2a1.4 1.4 0 1 0 2.8 0a1.4 1.4 0 1 0 -2.8 0M604.4 192a1.4 1.4 0 1 0 2.8 0a1.4 1.4 0 1 0 -2.8 0M604.7 190.7a1.4 1.4 0 1 0 2.8 0a1.4 1.4 0 1 0 -2.8 0M605 190.4a1.4 1.4 0 1 0 2.8 0a1.4 1.4 0 1 0 -2.8 0M605.2 189.9a1.4 1.4 0 1 0 2.8 0a1.4 1.4 0 1 0 -2.8 0M605.5 189a1.4 1.4 0 1 0 2.8 0a1.4 1.4 0 1 0 -2.8 0M605.8 188.2a1.4 1.4 0 1 0 2.8 0a1.4 1.4 0 1 0 -2.8 0M606 187.2a1.4 1.4 0 1 0 2.8 0a1.4 1.4 0 1 0 -2.8 0M606.3 187.4a1.4 1.4 0 1 0 2.8 0a1.4 1.4 0 1 0 -2.8 0M606.6 186.7a1.4 1.4 0 1 0 2.8 0a1.4 1.4 0 1 0 -2.8 0M606.8 187.4a1.4 1.4 0 1 0 2.8 0a1.4 1.4 0 1 0 -2.8 0M607.1 186.8a1.4 1.4 0 1 0 2.8 0a1.4 1.4 0 1 0 -2.8 0M607.4 187.3a1.4 1.4 0 1 0 2.8 0a1.4 1.4 0 1 0 -2.8 0M607.6 187a1.4 1.4 0 1 0 2.8 0a1.4 1.4 0 1 0 -2.8 0M607.9 187a1.4 1.4 0 1 0 2.8 0a1.4 1.4 0 1 0 -2.8 0M608.1 187.4a1.4 1.4 0 1 0 2.8 0a1.4 1.4 0 1 0 -2.8 0M608.4 186.8a1.4 1.4 0 1 0 2.8 0a1.4 1.4 0 1 0 -2.8 0M608.7 186.8a1.4 1.4 0 1 0 2.8 0a1.4 1.4 0 1 0 -2.8 0M608.9 187.7a1.4 1.4 0 1 0 2.8 0a1.4 1.4 0 1 0 -2.8 0M609.2 187a1.4 1.4 0 1 0 2.8 0a1.4 1.4 0 1 0 -2.8 0M609.5 187.6a1.4 1.4 0 1 0 2.8 0a1.4 1.4 0 1 0 -2.8 0M609.7 187.6a1.4 1.4 0 1 0 2.8 0a1.4 1.4 0 1 0 -2.8 0M610 187.2a1.4 1.4 0 1 0 2.8 0a1.4 1.4 0 1 0 -2.8 0M610.3 186.8a1.4 1.4 0 1 0 2.8 0a1.4 1.4 0 1 0 -2.8 0M610.5 186.7a1.4 1.4 0 1 0 2.8 0a1.4 1.4 0 1 0 -2.8 0M610.8 187.7a1.4 1.4 0 1 0 2.8 0a1.4 1.4 0 1 0 -2.8 0M611 186.7a1.4 1.4 0 1 0 2.8 0a1.4 1.4 0 1 0 -2.8 0M611.3 187.2a1.4 1.4 0 1 0 2.8 0a1.4 1.4 0 1 0 -2.8 0M611.6 187.2a1.4 1.4 0 1 0 2.8 0a1.4 1.4 0 1 0 -2.8 0M611.8 186.7a1.4 1.4 0 1 0 2.8 0a1.4 1.4 0 1 0 -2.8 0M612.1 187.2a1.4 1.4 0 1 0 2.8 0a1.4 1.4 0 1 0 -2.8 0M612.4 186.8a1.4 1.4 0 1 0 2.8 0a1.4 1.4 0 1 0 -2.8 0M612.6 187.2a1.4 1.4 0 1 0 2.8 0a1.4 1.4 0 1 0 -2.8 0M612.9 187.2a1.4 1.4 0 1 0 2.8 0a1.4 1.4 0 1 0 -2.8 0M613.2 187a1.4 1.4 0 1 0 2.8 0a1.4 1.4 0 1 0 -2.8 0M613.4 186.8a1.4 1.4 0 1 0 2.8 0a1.4 1.4 0 1 0 -2.8 0M613.7 187.1a1.4 1.4 0 1 0 2.8 0a1.4 1.4 0 1 0 -2.8 0M614 186.8a1.4 1.4 0 1 0 2.8 0a1.4 1.4 0 1 0 -2.8 0M614.2 186.8a1.4 1.4 0 1 0 2.8 0a1.4 1.4 0 1 0 -2.8 0M614.5 186.9a1.4 1.4 0 1 0 2.8 0a1.4 1.4 0 1 0 -2.8 0M614.7 187.6a1.4 1.4 0 1 0 2.8 0a1.4 1.4 0 1 0 -2.8 0M615 187.2a1.4 1.4 0 1 0 2.8 0a1.4 1.4 0 1 0 -2.8 0M615.3 187.7a1.4 1.4 0 1 0 2.8 0a1.4 1.4 0 1 0 -2.8 0M615.5 186.6a1.4 1.4 0 1 0 2.8 0a1.4 1.4 0 1 0 -2.8 0M615.8 187.7a1.4 1.4 0 1 0 2.8 0a1.4 1.4 0 1 0 -2.8 0M616.1 187.2a1.4 1.4 0 1 0 2.8 0a1.4 1.4 0 1 0 -2.8 0M616.3 188.2a1.4 1.4 0 1 0 2.8 0a1.4 1.4 0 1 0 -2.8 0M616.6 189.9a1.4 1.4 0 1 0 2.8 0a1.4 1.4 0 1 0 -2.8 0M616.9 192.4a1.4 1.4 0 1 0 2.8 0a1.4 1.4 0 1 0 -2.8 0M617.1 194a1.4 1.4 0 1 0 2.8 0a1.4 1.4 0 1 0 -2.8 0M617.4 195.6a1.4 1.4 0 1 0 2.8 0a1.4 1.4 0 1 0 -2.8 0M617.6 194.9a1.4 1.4 0 1 0 2.8 0a1.4 1.4 0 1 0 -2.8 0M617.9 195a1.4 1.4 0 1 0 2.8 0a1.4 1.4 0 1 0 -2.8 0M618.2 194.7a1.4 1.4 0 1 0 2.8 0a1.4 1.4 0 1 0 -2.8 0M618.4 195.2a1.4 1.4 0 1 0 2.8 0a1.4 1.4 0 1 0 -2.8 0M618.7 195.3a1.4 1.4 0 1 0 2.8 0a1.4 1.4 0 1 0 -2.8 0M619 195.1a1.4 1.4 0 1 0 2.8 0a1.4 1.4 0 1 0 -2.8 0M619.2 195.8a1.4 1.4 0 1 0 2.8 0a1.4 1.4 0 1 0 -2.8 0M619.5 194.8a1.4 1.4 0 1 0 2.8 0a1.4 1.4 0 1 0 -2.8 0M619.8 195.4a1.4 1.4 0 1 0 2.8 0a1.4 1.4 0 1 0 -2.8 0M620 195a1.4 1.4 0 1 0 2.8 0a1.4 1.4 0 1 0 -2.8 0M620.3 195.4a1.4 1.4 0 1 0 2.8 0a1.4 1.4 0 1 0 -2.8 0M620.6 195.6a1.4 1.4 0 1 0 2.8 0a1.4 1.4 0 1 0 -2.8 0M620.8 195.6a1.4 1.4 0 1 0 2.8 0a1.4 1.4 0 1 0 -2.8 0M621.1 194.8a1.4 1.4 0 1 0 2.8 0a1.4 1.4 0 1 0 -2.8 0M621.3 195a1.4 1.4 0 1 0 2.8 0a1.4 1.4 0 1 0 -2.8 0M621.6 195.4a1.4 1.4 0 1 0 2.8 0a1.4 1.4 0 1 0 -2.8 0M621.9 195.9a1.4 1.4 0 1 0 2.8 0a1.4 1.4 0 1 0 -2.8 0M622.1 194.7a1.4 1.4 0 1 0 2.8 0a1.4 1.4 0 1 0 -2.8 0M622.4 195.4a1.4 1.4 0 1 0 2.8 0a1.4 1.4 0 1 0 -2.8 0M622.7 195.5a1.4 1.4 0 1 0 2.8 0a1.4 1.4 0 1 0 -2.8 0M622.9 195.7a1.4 1.4 0 1 0 2.8 0a1.4 1.4 0 1 0 -2.8 0M623.2 195.1a1.4 1.4 0 1 0 2.8 0a1.4 1.4 0 1 0 -2.8 0M623.5 195.7a1.4 1.4 0 1 0 2.8 0a1.4 1.4 0 1 0 -2.8 0M623.7 195.3a1.4 1.4 0 1 0 2.8 0a1.4 1.4 0 1 0 -2.8 0M624 195.8a1.4 1.4 0 1 0 2.8 0a1.4 1.4 0 1 0 -2.8 0M624.2 194.7a1.4 1.4 0 1 0 2.8 0a1.4 1.4 0 1 0 -2.8 0M624.5 195.8a1.4 1.4 0 1 0 2.8 0a1.4 1.4 0 1 0 -2.8 0M624.8 195.2a1.4 1.4 0 1 0 2.8 0a1.4 1.4 0 1 0 -2.8 0M625 195.2a1.4 1.4 0 1 0 2.8 0a1.4 1.4 0 1 0 -2.8 0M625.3 194.8a1.4 1.4 0 1 0 2.8 0a1.4 1.4 0 1 0 -2.8 0M625.6 195a1.4 1.4 0 1 0 2.8 0a1.4 1.4 0 1 0 -2.8 0M625.8 195.6a1.4 1.4 0 1 0 2.8 0a1.4 1.4 0 1 0 -2.8 0M626.1 195.5a1.4 1.4 0 1 0 2.8 0a1.4 1.4 0 1 0 -2.8 0M626.4 194.9a1.4 1.4 0 1 0 2.8 0a1.4 1.4 0 1 0 -2.8 0M626.6 195.1a1.4 1.4 0 1 0 2.8 0a1.4 1.4 0 1 0 -2.8 0M626.9 194.9a1.4 1.4 0 1 0 2.8 0a1.4 1.4 0 1 0 -2.8 0M627.2 194.9a1.4 1.4 0 1 0 2.8 0a1.4 1.4 0 1 0 -2.8 0M627.4 195a1.4 1.4 0 1 0 2.8 0a1.4 1.4 0 1 0 -2.8 0M627.7 195.1a1.4 1.4 0 1 0 2.8 0a1.4 1.4 0 1 0 -2.8 0M627.9 195.9a1.4 1.4 0 1 0 2.8 0a1.4 1.4 0 1 0 -2.8 0M628.2 195.9a1.4 1.4 0 1 0 2.8 0a1.4 1.4 0 1 0 -2.8 0M628.5 195.6a1.4 1.4 0 1 0 2.8 0a1.4 1.4 0 1 0 -2.8 0M628.7 195.3a1.4 1.4 0 1 0 2.8 0a1.4 1.4 0 1 0 -2.8 0M629 195.3a1.4 1.4 0 1 0 2.8 0a1.4 1.4 0 1 0 -2.8 0M629.3 195.6a1.4 1.4 0 1 0 2.8 0a1.4 1.4 0 1 0 -2.8 0M629.5 195.5a1.4 1.4 0 1 0 2.8 0a1.4 1.4 0 1 0 -2.8 0M629.8 195a1.4 1.4 0 1 0 2.8 0a1.4 1.4 0 1 0 -2.8 0M630.1 194.3a1.4 1.4 0 1 0 2.8 0a1.4 1.4 0 1 0 -2.8 0M630.3 193.1a1.4 1.4 0 1 0 2.8 0a1.4 1.4 0 1 0 -2.8 0M630.6 192.9a1.4 1.4 0 1 0 2.8 0a1.4 1.4 0 1 0 -2.8 0M630.8 192.4a1.4 1.4 0 1 0 2.8 0a1.4 1.4 0 1 0 -2.8 0M631.1 191.5a1.4 1.4 0 1 0 2.8 0a1.4 1.4 0 1 0 -2.8 0M631.4 189.9a1.4 1.4 0 1 0 2.8 0a1.4 1.4 0 1 0 -2.8 0M631.6 189.9a1.4 1.4 0 1 0 2.8 0a1.4 1.4 0 1 0 -2.8 0M631.9 188.7a1.4 1.4 0 1 0 2.8 0a1.4 1.4 0 1 0 -2.8 0M632.2 187.9a1.4 1.4 0 1 0 2.8 0a1.4 1.4 0 1 0 -2.8 0M632.4 188.3a1.4 1.4 0 1 0 2.8 0a1.4 1.4 0 1 0 -2.8 0M632.7 187.6a1.4 1.4 0 1 0 2.8 0a1.4 1.4 0 1 0 -2.8 0M633 187.5a1.4 1.4 0 1 0 2.8 0a1.4 1.4 0 1 0 -2.8 0M633.2 186.8a1.4 1.4 0 1 0 2.8 0a1.4 1.4 0 1 0 -2.8 0M633.5 187.6a1.4 1.4 0 1 0 2.8 0a1.4 1.4 0 1 0 -2.8 0M633.8 187.7a1.4 1.4 0 1 0 2.8 0a1.4 1.4 0 1 0 -2.8 0M634 187.7a1.4 1.4 0 1 0 2.8 0a1.4 1.4 0 1 0 -2.8 0M634.3 187.5a1.4 1.4 0 1 0 2.8 0a1.4 1.4 0 1 0 -2.8 0M634.5 187.6a1.4 1.4 0 1 0 2.8 0a1.4 1.4 0 1 0 -2.8 0M634.8 187.6a1.4 1.4 0 1 0 2.8 0a1.4 1.4 0 1 0 -2.8 0M635.1 187.3a1.4 1.4 0 1 0 2.8 0a1.4 1.4 0 1 0 -2.8 0M635.3 187.1a1.4 1.4 0 1 0 2.8 0a1.4 1.4 0 1 0 -2.8 0M635.6 187.6a1.4 1.4 0 1 0 2.8 0a1.4 1.4 0 1 0 -2.8 0M635.9 187.5a1.4 1.4 0 1 0 2.8 0a1.4 1.4 0 1 0 -2.8 0M636.1 187.6a1.4 1.4 0 1 0 2.8 0a1.4 1.4 0 1 0 -2.8 0M636.4 187a1.4 1.4 0 1 0 2.8 0a1.4 1.4 0 1 0 -2.8 0M636.7 187.8a1.4 1.4 0 1 0 2.8 0a1.4 1.4 0 1 0 -2.8 0M636.9 187.2a1.4 1.4 0 1 0 2.8 0a1.4 1.4 0 1 0 -2.8 0M637.2 187.7a1.4 1.4 0 1 0 2.8 0a1.4 1.4 0 1 0 -2.8 0M637.4 186.7a1.4 1.4 0 1 0 2.8 0a1.4 1.4 0 1 0 -2.8 0M637.7 187.8a1.4 1.4 0 1 0 2.8 0a1.4 1.4 0 1 0 -2.8 0M638 187.5a1.4 1.4 0 1 0 2.8 0a1.4 1.4 0 1 0 -2.8 0M638.2 186.9a1.4 1.4 0 1 0 2.8 0a1.4 1.4 0 1 0 -2.8 0M638.5 187.6a1.4 1.4 0 1 0 2.8 0a1.4 1.4 0 1 0 -2.8 0M638.8 186.9a1.4 1.4 0 1 0 2.8 0a1.4 1.4 0 1 0 -2.8 0M639 186.8a1.4 1.4 0 1 0 2.8 0a1.4 1.4 0 1 0 -2.8 0M639.3 187.1a1.4 1.4 0 1 0 2.8 0a1.4 1.4 0 1 0 -2.8 0M639.6 186.9a1.4 1.4 0 1 0 2.8 0a1.4 1.4 0 1 0 -2.8 0M639.8 187.2a1.4 1.4 0 1 0 2.8 0a1.4 1.4 0 1 0 -2.8 0M640.1 187.7a1.4 1.4 0 1 0 2.8 0a1.4 1.4 0 1 0 -2.8 0M640.4 187.4a1.4 1.4 0 1 0 2.8 0a1.4 1.4 0 1 0 -2.8 0M640.6 187.5a1.4 1.4 0 1 0 2.8 0a1.4 1.4 0 1 0 -2.8 0M640.9 187.1a1.4 1.4 0 1 0 2.8 0a1.4 1.4 0 1 0 -2.8 0M641.1 187.5a1.4 1.4 0 1 0 2.8 0a1.4 1.4 0 1 0 -2.8 0M641.4 187.6a1.4 1.4 0 1 0 2.8 0a1.4 1.4 0 1 0 -2.8 0M641.7 187.4a1.4 1.4 0 1 0 2.8 0a1.4 1.4 0 1 0 -2.8 0M641.9 187.7a1.4 1.4 0 1 0 2.8 0a1.4 1.4 0 1 0 -2.8 0M642.2 187.6a1.4 1.4 0 1 0 2.8 0a1.4 1.4 0 1 0 -2.8 0M642.5 187.1a1.4 1.4 0 1 0 2.8 0a1.4 1.4 0 1 0 -2.8 0M642.7 187.4a1.4 1.4 0 1 0 2.8 0a1.4 1.4 0 1 0 -2.8 0M643 190a1.4 1.4 0 1 0 2.8 0a1.4 1.4 0 1 0 -2.8 0M643.3 192.6a1.4 1.4 0 1 0 2.8 0a1.4 1.4 0 1 0 -2.8 0M643.5 194.1a1.4 1.4 0 1 0 2.8 0a1.4 1.4 0 1 0 -2.8 0M643.8 195.4a1.4 1.4 0 1 0 2.8 0a1.4 1.4 0 1 0 -2.8 0M644 195.7a1.4 1.4 0 1 0 2.8 0a1.4 1.4 0 1 0 -2.8 0M644.3 195.7a1.4 1.4 0 1 0 2.8 0a1.4 1.4 0 1 0 -2.8 0M644.6 194.7a1.4 1.4 0 1 0 2.8 0a1.4 1.4 0 1 0 -2.8 0M644.8 195.3a1.4 1.4 0 1 0 2.8 0a1.4 1.4 0 1 0 -2.8 0M645.1 194.7a1.4 1.4 0 1 0 2.8 0a1.4 1.4 0 1 0 -2.8 0M645.4 194.8a1.4 1.4 0 1 0 2.8 0a1.4 1.4 0 1 0 -2.8 0M645.6 195.7a1.4 1.4 0 1 0 2.8 0a1.4 1.4 0 1 0 -2.8 0M645.9 195.2a1.4 1.4 0 1 0 2.8 0a1.4 1.4 0 1 0 -2.8 0M646.2 195.4a1.4 1.4 0 1 0 2.8 0a1.4 1.4 0 1 0 -2.8 0M646.4 195.2a1.4 1.4 0 1 0 2.8 0a1.4 1.4 0 1 0 -2.8 0M646.7 195.1a1.4 1.4 0 1 0 2.8 0a1.4 1.4 0 1 0 -2.8 0M647 195a1.4 1.4 0 1 0 2.8 0a1.4 1.4 0 1 0 -2.8 0M647.2 195.1a1.4 1.4 0 1 0 2.8 0a1.4 1.4 0 1 0 -2.8 0M647.5 195.7a1.4 1.4 0 1 0 2.8 0a1.4 1.4 0 1 0 -2.8 0M647.7 195.4a1.4 1.4 0 1 0 2.8 0a1.4 1.4 0 1 0 -2.8 0M648 195.1a1.4 1.4 0 1 0 2.8 0a1.4 1.4 0 1 0 -2.8 0M648.3 194.8a1.4 1.4 0 1 0 2.8 0a1.4 1.4 0 1 0 -2.8 0M648.5 195a1.4 1.4 0 1 0 2.8 0a1.4 1.4 0 1 0 -2.8 0M648.8 195.5a1.4 1.4 0 1 0 2.8 0a1.4 1.4 0 1 0 -2.8 0M649.1 195.2a1.4 1.4 0 1 0 2.8 0a1.4 1.4 0 1 0 -2.8 0M649.3 195.5a1.4 1.4 0 1 0 2.8 0a1.4 1.4 0 1 0 -2.8 0M649.6 195.7a1.4 1.4 0 1 0 2.8 0a1.4 1.4 0 1 0 -2.8 0M649.9 194.8a1.4 1.4 0 1 0 2.8 0a1.4 1.4 0 1 0 -2.8 0M650.1 195.5a1.4 1.4 0 1 0 2.8 0a1.4 1.4 0 1 0 -2.8 0M650.4 194.7a1.4 1.4 0 1 0 2.8 0a1.4 1.4 0 1 0 -2.8 0M650.6 195.7a1.4 1.4 0 1 0 2.8 0a1.4 1.4 0 1 0 -2.8 0M650.9 194.9a1.4 1.4 0 1 0 2.8 0a1.4 1.4 0 1 0 -2.8 0M651.2 195a1.4 1.4 0 1 0 2.8 0a1.4 1.4 0 1 0 -2.8 0M651.4 195.8a1.4 1.4 0 1 0 2.8 0a1.4 1.4 0 1 0 -2.8 0M651.7 195.1a1.4 1.4 0 1 0 2.8 0a1.4 1.4 0 1 0 -2.8 0M652 195a1.4 1.4 0 1 0 2.8 0a1.4 1.4 0 1 0 -2.8 0M652.2 195.8a1.4 1.4 0 1 0 2.8 0a1.4 1.4 0 1 0 -2.8 0M652.5 195.4a1.4 1.4 0 1 0 2.8 0a1.4 1.4 0 1 0 -2.8 0M652.8 195.8a1.4 1.4 0 1 0 2.8 0a1.4 1.4 0 1 0 -2.8 0M653 195.2a1.4 1.4 0 1 0 2.8 0a1.4 1.4 0 1 0 -2.8 0M653.3 195.3a1.4 1.4 0 1 0 2.8 0a1.4 1.4 0 1 0 -2.8 0M653.6 195.8a1.4 1.4 0 1 0 2.8 0a1.4 1.4 0 1 0 -2.8 0M653.8 195.3a1.4 1.4 0 1 0 2.8 0a1.4 1.4 0 1 0 -2.8 0M654.1 195.9a1.4 1.4 0 1 0 2.8 0a1.4 1.4 0 1 0 -2.8 0M654.3 194.9a1.4 1.4 0 1 0 2.8 0a1.4 1.4 0 1 0 -2.8 0M654.6 195.7a1.4 1.4 0 1 0 2.8 0a1.4 1.4 0 1 0 -2.8 0M654.9 194.9a1.4 1.4 0 1 0 2.8 0a1.4 1.4 0 1 0 -2.8 0M655.1 195.3a1.4 1.4 0 1 0 2.8 0a1.4 1.4 0 1 0 -2.8 0M655.4 194.7a1.4 1.4 0 1 0 2.8 0a1.4 1.4 0 1 0 -2.8 0M655.7 194.9a1.4 1.4 0 1 0 2.8 0a1.4 1.4 0 1 0 -2.8 0M655.9 195.6a1.4 1.4 0 1 0 2.8 0a1.4 1.4 0 1 0 -2.8 0M656.2 194.6a1.4 1.4 0 1 0 2.8 0a1.4 1.4 0 1 0 -2.8 0M656.5 194.5a1.4 1.4 0 1 0 2.8 0a1.4 1.4 0 1 0 -2.8 0M656.7 193.2a1.4 1.4 0 1 0 2.8 0a1.4 1.4 0 1 0 -2.8 0M657 192.6a1.4 1.4 0 1 0 2.8 0a1.4 1.4 0 1 0 -2.8 0M657.2 191.5a1.4 1.4 0 1 0 2.8 0a1.4 1.4 0 1 0 -2.8 0M657.5 191.2a1.4 1.4 0 1 0 2.8 0a1.4 1.4 0 1 0 -2.8 0M657.8 190.8a1.4 1.4 0 1 0 2.8 0a1.4 1.4 0 1 0 -2.8 0M658 189.6a1.4 1.4 0 1 0 2.8 0a1.4 1.4 0 1 0 -2.8 0M658.3 188.7a1.4 1.4 0 1 0 2.8 0a1.4 1.4 0 1 0 -2.8 0M658.6 188.8a1.4 1.4 0 1 0 2.8 0a1.4 1.4 0 1 0 -2.8 0M658.8 188.2a1.4 1.4 0 1 0 2.8 0a1.4 1.4 0 1 0 -2.8 0M659.1 187.6a1.4 1.4 0 1 0 2.8 0a1.4 1.4 0 1 0 -2.8 0M659.4 186.7a1.4 1.4 0 1 0 2.8 0a1.4 1.4 0 1 0 -2.8 0M659.6 187.3a1.4 1.4 0 1 0 2.8 0a1.4 1.4 0 1 0 -2.8 0M659.9 187.1a1.4 1.4 0 1 0 2.8 0a1.4 1.4 0 1 0 -2.8 0M660.2 187.7a1.4 1.4 0 1 0 2.8 0a1.4 1.4 0 1 0 -2.8 0M660.4 187a1.4 1.4 0 1 0 2.8 0a1.4 1.4 0 1 0 -2.8 0M660.7 187.4a1.4 1.4 0 1 0 2.8 0a1.4 1.4 0 1 0 -2.8 0M660.9 187.4a1.4 1.4 0 1 0 2.8 0a1.4 1.4 0 1 0 -2.8 0M661.2 187.1a1.4 1.4 0 1 0 2.8 0a1.4 1.4 0 1 0 -2.8 0M661.5 187.2a1.4 1.4 0 1 0 2.8 0a1.4 1.4 0 1 0 -2.8 0M661.7 187.4a1.4 1.4 0 1 0 2.8 0a1.4 1.4 0 1 0 -2.8 0M662 187.7a1.4 1.4 0 1 0 2.8 0a1.4 1.4 0 1 0 -2.8 0M662.3 187.2a1.4 1.4 0 1 0 2.8 0a1.4 1.4 0 1 0 -2.8 0M662.5 187a1.4 1.4 0 1 0 2.8 0a1.4 1.4 0 1 0 -2.8 0M662.8 187.8a1.4 1.4 0 1 0 2.8 0a1.4 1.4 0 1 0 -2.8 0M663.1 186.7a1.4 1.4 0 1 0 2.8 0a1.4 1.4 0 1 0 -2.8 0M663.3 187.6a1.4 1.4 0 1 0 2.8 0a1.4 1.4 0 1 0 -2.8 0M663.6 187.4a1.4 1.4 0 1 0 2.8 0a1.4 1.4 0 1 0 -2.8 0M663.8 187.3a1.4 1.4 0 1 0 2.8 0a1.4 1.4 0 1 0 -2.8 0M664.1 187.1a1.4 1.4 0 1 0 2.8 0a1.4 1.4 0 1 0 -2.8 0M664.4 187.5a1.4 1.4 0 1 0 2.8 0a1.4 1.4 0 1 0 -2.8 0M664.6 187.7a1.4 1.4 0 1 0 2.8 0a1.4 1.4 0 1 0 -2.8 0M664.9 187.5a1.4 1.4 0 1 0 2.8 0a1.4 1.4 0 1 0 -2.8 0M665.2 187.5a1.4 1.4 0 1 0 2.8 0a1.4 1.4 0 1 0 -2.8 0M665.4 186.6a1.4 1.4 0 1 0 2.8 0a1.4 1.4 0 1 0 -2.8 0M665.7 187a1.4 1.4 0 1 0 2.8 0a1.4 1.4 0 1 0 -2.8 0M666 186.8a1.4 1.4 0 1 0 2.8 0a1.4 1.4 0 1 0 -2.8 0M666.2 187.7a1.4 1.4 0 1 0 2.8 0a1.4 1.4 0 1 0 -2.8 0M666.5 187.7a1.4 1.4 0 1 0 2.8 0a1.4 1.4 0 1 0 -2.8 0M666.8 186.8a1.4 1.4 0 1 0 2.8 0a1.4 1.4 0 1 0 -2.8 0M667 187.3a1.4 1.4 0 1 0 2.8 0a1.4 1.4 0 1 0 -2.8 0M667.3 187.3a1.4 1.4 0 1 0 2.8 0a1.4 1.4 0 1 0 -2.8 0M667.5 186.7a1.4 1.4 0 1 0 2.8 0a1.4 1.4 0 1 0 -2.8 0M667.8 187.1a1.4 1.4 0 1 0 2.8 0a1.4 1.4 0 1 0 -2.8 0M668.1 187.5a1.4 1.4 0 1 0 2.8 0a1.4 1.4 0 1 0 -2.8 0M668.3 187.4a1.4 1.4 0 1 0 2.8 0a1.4 1.4 0 1 0 -2.8 0M668.6 186.9a1.4 1.4 0 1 0 2.8 0a1.4 1.4 0 1 0 -2.8 0" stroke="#ff10f0" stroke-width="0.9" fill="none"/>
<path d="M406 196.1 406.3 195.2 406.5 195.7 406.8 195.4 407.1 196.6 407.3 195.9 407.6 196.2 407.8 196 408.1 195.4 408.4 196.5 408.6 196 408.9 196 409.2 195.2 409.4 194.9 409.7 195.8 410 196.3 410.2 196.2 410.5 195.3 410.8 194.9 411 195.6 411.3 196.4 411.5 194.9 411.8 196.1 412.1 194.9 412.3 195.2 412.6 194.7 412.9 195.2 413.1 195.4 413.4 196.5 413.7 196.5 413.9 195 414.2 195.2 414.4 196.5 414.7 195 415 195.2 415.2 195.5 415.5 194.8 415.8 195.1 416 195.4 416.3 195.4 416.6 196.5 416.8 195.1 417.1 195 417.4 196.4 417.6 195.5 417.9 196.3 418.1 195.9 418.4 196.2 418.7 195.2 418.9 194.9 419.2 196.1 419.5 185.9 419.7 169.8 420 153.1 420.3 137 420.5 120.9 420.8 105.9 421 102.9 421.3 100.8 421.6 99.9 421.8 99.2 422.1 99.8 422.4 99.3 422.6 98.9 422.9 99.5 423.2 99.5 423.4 99.6 423.7 99.8 424 99.1 424.2 99.7 424.5 98.9 424.7 99.3 425 99.5 425.3 98.9 425.5 98.8 425.8 99.3 426.1 99.5 426.3 99.2 426.6 99 426.9 99.6 427.1 98.9 427.4 99.6 427.6 99.8 427.9 99.6 428.2 99.5 428.4 98.9 428.7 99.5 429 99 429.2 99.4 429.5 99 429.8 99 430 99.5 430.3 99.7 430.6 99.5 430.8 99.7 431.1 98.7 431.3 98.9 431.6 98.8 431.9 99.4 432.1 98.7 432.4 103.6 432.7 114.9 432.9 126.5 433.2 138.2 433.5 148.7 433.7 160.2 434 171.9 434.2 181 434.5 186.2 434.8 190.7 435 192.5 435.3 192.5 435.6 194.5 435.8 194 436.1 194.6 436.4 194.9 436.6 194.6 436.9 196.2 437.2 196.7 437.4 195.6 437.7 194.9 437.9 195.6 438.2 195 438.5 194.8 438.7 195.6 439 195.2 439.3 195.1 439.5 196.9 439.8 195.8 440.1 194.9 440.3 194.8 440.6 196.6 440.8 196.5 441.1 195.6 441.4 194.5 441.6 195.7 441.9 196.5 442.2 195 442.4 194.6 442.7 196.4 443 194.8 443.2 195 443.5 194.6 443.8 195.9 444 195.1 444.3 194.7 444.5 196.1 444.8 196.1 445.1 195.2 445.3 194.5 445.6 195 445.9 186.2 446.1 169.8 446.4 152.8 446.7 137.3 446.9 120.2 447.2 106.1 447.4 102.7 447.7 101.1 448 99.9 448.2 99.2 448.5 99 448.8 99.7 449 99.7 449.3 99.3 449.6 99.7 449.8 99.8 450.1 99.7 450.4 99.7 450.6 99.4 450.9 99.7 451.1 98.8 451.4 99 451.7 98.7 451.9 98.7 452.2 99.7 452.5 98.8 452.7 98.9 453 98.8 453.3 99.4 453.5 98.8 453.8 99.7 454 98.8 454.3 99.1 454.6 98.9 454.8 99.9 455.1 98.7 455.4 98.8 455.6 99.4 455.9 99.2 456.2 99.4 456.4 99.8 456.7 99.7 457 99.7 457.2 98.7 457.5 99.7 457.7 99.8 458 99.8 458.3 99.5 458.5 99.1 458.8 103.5 459.1 115.4 459.3 126.8 459.6 137.7 459.9 148.5 460.1 161 460.4 172.1 460.6 181.7 460.9 186.9 461.2 189.6 461.4 191.3 461.7 193.7 462 195.1 462.2 193.6 462.5 195.4 462.8 196 463 195.4 463.3 196.1 463.6 194.6 463.8 194.8 464.1 195.9 464.3 195.9 464.6 194.4 464.9 195 465.1 196 465.4 195.4 465.7 194.6 465.9 195.9 466.2 195.1 466.5 195.9 466.7 195.3 467 195.8 467.2 195.3 467.5 196 467.8 194.7 468 196.5 468.3 195.5 468.6 194.9 468.8 196.4 469.1 195.1 469.4 195.4 469.6 195.3 469.9 195.6 470.2 194.8 470.4 195.4 470.7 196 470.9 196.1 471.2 195.2 471.5 195.7 471.7 195.3 472 195.2 472.3 185.7 472.5 170.1 472.8 152.7 473.1 137.3 473.3 121.1 473.6 106 473.8 103.1 474.1 100.6 474.4 100.6 474.6 99.2 474.9 100 475.2 99.7 475.4 99.3 475.7 99 476 99.1 476.2 99.9 476.5 98.9 476.8 99.5 477 98.7 477.3 99.6 477.5 99 477.8 99.4 478.1 98.9 478.3 99.8 478.6 99.7 478.9 99.8 479.1 99 479.4 99.8 479.7 99 479.9 99.2 480.2 98.9 480.4 99.4 480.7 99.2 481 98.7 481.2 99 481.5 99.3 481.8 99.3 482 99.4 482.3 99.7 482.6 99.9 482.8 99 483.1 99.1 483.4 99.1 483.6 98.7 483.9 98.9 484.1 98.7 484.4 99 484.7 99.4 484.9 98.9 485.2 104.1 485.5 115 485.7 126.2 486 137.5 486.3 149.2 486.5 161 486.8 172.1 487 181.5 487.3 185.9 487.6 190.4 487.8 192.8 488.1 193 488.4 194.5 488.6 195.8 488.9 194.5 489.2 194.7 489.4 194.7 489.7 195.5 490 195.7 490.2 195.7 490.5 196.1 490.7 195.3 491 195 491.3 194.9 491.5 196.2 491.8 195.4 492.1 194.6 492.3 194.8 492.6 195.3 492.9 196.1 493.1 195.5 493.4 194.9 493.6 195.7 493.9 196.7 494.2 196 494.4 196.3 494.7 195 495 196.1 495.2 195.5 495.5 195.9 495.8 194.3 496 195.6 496.3 195.3 496.6 194.3 496.8 196.3 497.1 195.5 497.3 195.4 497.6 194.5 497.9 196 498.1 196.4 498.4 195.3 498.7 185.9 498.9 169.1 499.2 153.1 499.5 136.7 499.7 121.1 500 105.7 500.2 102.8 500.5 101.3 500.8 99.7 501 99.8 501.3 99.2 501.6 98.9 501.8 99 502.1 99.2 502.4 99.6 502.6 99.6 502.9 99.1 503.2 99.5 503.4 99.8 503.7 99.1 503.9 99 504.2 99 504.5 99.7 504.7 99.9 505 99.1 505.3 99.6 505.5 99.4 505.8 98.8 506.1 98.9 506.3 99.8 506.6 98.9 506.8 99.3 507.1 99.1 507.4 99.3 507.6 98.8 507.9 99.2 508.2 99 508.4 99 508.7 99.3 509 99.6 509.2 99.2 509.5 99.8 509.8 98.8 510 99.5 510.3 98.7 510.5 99.8 510.8 99.3 511.1 99.1 511.3 99.6 511.6 103.5 511.9 115.3 512.1 126.5 512.4 137 512.7 149.2 512.9 160 513.2 171 513.4 181.6 513.7 187.2 514 190.1 514.2 191.5 514.5 193.4 514.8 194.7 515 194.1 515.3 195.3 515.6 195.8 515.8 195.7 516.1 195.5 516.4 195.3 516.6 196.1 516.9 195.5 517.1 195 517.4 195.2 517.7 195.4 517.9 196.2 518.2 195.4 518.5 196.8 518.7 196 519 195.6 519.3 195.5 519.5 195.6 519.8 196.1 520 196.2 520.3 195 520.6 195.4 520.8 196.5 521.1 195.1 521.4 194.9 521.6 194.7 521.9 195.8 522.2 195.6 522.4 195.3 522.7 195.9 523 195.5 523.2 194.9 523.5 195.6 523.7 196.5 524 195.2 524.3 195.7 524.5 194.7 524.8 196 525.1 185.9 525.3 169.9 525.6 152.9 525.9 137.3 526.1 121.2 526.4 105.5 526.6 102.8 526.9 100.6 527.2 99.9 527.4 99.4 527.7 99.5 528 99 528.2 100 528.5 99.7 528.8 99.8 529 99.6 529.3 99.1 529.6 99 529.8 99.3 530.1 99.8 530.3 99.3 530.6 99.4 530.9 99.5 531.1 99.2 531.4 99 531.7 99.2 531.9 99.3 532.2 98.7 532.5 99.6 532.7 99 533 99.3 533.2 99.4 533.5 98.9 533.8 99.6 534 99.6 534.3 99 534.6 99.8 534.8 99.8 535.1 98.8 535.4 99.7 535.6 98.9 535.9 99.5 536.2 99.1 536.4 99 536.7 98.9 536.9 99.4 537.2 98.9 537.5 98.8 537.7 99.1 538 103.8 538.3 115.2 538.5 126.1 538.8 137.1 539.1 149.5 539.3 160 539.6 171.7 539.8 181.8 540.1 187.2 540.4 190.4 540.6 191.6 540.9 193.8 541.2 193.3 541.4 195.3 541.7 195 542 194.8 542.2 196.4 542.5 195.1 542.8 195.5 543 195.9 543.3 195.4 543.5 196 543.8 195.2 544.1 196.4 544.3 195.5 544.6 195.6 544.9 195 545.1 194.7 545.4 196.2 545.7 196.5 545.9 195.1 546.2 195.2 546.4 195 546.7 196.2 547 194.3 547.2 194.8 547.5 194.6 547.8 196 548 195.7 548.3 195.2 548.6 196.9 548.8 194.7 549.1 195.5 549.4 195.8 549.6 195.7 549.9 195.8 550.1 195.2 550.4 196.7 550.7 194.6 550.9 195.6 551.2 196.2 551.5 186.2 551.7 169.7 552 153.5 552.3 137.5 552.5 121.2 552.8 105.4 553 102.3 553.3 101.3 553.6 100.5 553.8 100 554.1 99.8 554.4 99.5 554.6 99.8 554.9 99.1 555.2 98.8 555.4 99.6 555.7 99.6 556 99.8 556.2 99.2 556.5 98.8 556.7 98.8 557 98.8 557.3 99.2 557.5 99 557.8 99.5 558.1 99.3 558.3 99 558.6 99 558.9 99.8 559.1 99.9 559.4 99.4 559.6 99.6 559.9 99.7 560.2 99.8 560.4 98.8 560.7 98.9 561 98.8 561.2 99.3 561.5 98.9 561.8 99.2 562 99.7 562.3 99.3 562.6 99.7 562.8 98.7 563.1 99.3 563.3 99.6 563.6 99.8 563.9 98.9 564.1 98.8 564.4 103.7 564.7 115.2 564.9 126.6 565.2 138.1 565.5 149.3 565.7 160.6 566 172.4 566.2 181.3 566.5 187.4 566.8 189.3 567 191.5 567.3 193.2 567.6 193.9 567.8 194.6 568.1 195.1 568.4 194.6 568.6 195.2 568.9 194.3 569.2 195.2 569.4 196.6 569.7 196.6 569.9 196.4 570.2 195.6 570.5 195.5 570.7 194.7 571 195.3 571.3 196.1 571.5 196.7 571.8 194.2 572.1 196.4 572.3 194.5 572.6 196 572.8 194.7 573.1 195.1 573.4 196.4 573.6 196.5 573.9 195 574.2 195 574.4 194.8 574.7 196.9 575 196 575.2 196.1 575.5 196.2 575.8 194.6 576 195.9 576.3 195.8 576.5 195.3 576.8 195.2 577.1 195.3 577.3 194.8 577.6 195.5 577.9 186 578.1 169.5 578.4 153.8 578.7 136.6 578.9 120.2 579.2 105.1 579.4 102.4 579.7 101 580 99.8 580.2 99.5 580.5 100 580.8 99.3 581 98.8 581.3 99.7 581.6 98.9 581.8 98.8 582.1 99.1 582.4 99.6 582.6 99.3 582.9 99.5 583.1 99.5 583.4 99.8 583.7 99 583.9 98.9 584.2 99.5 584.5 99.1 584.7 99.5 585 99.2 585.3 99.2 585.5 98.8 585.8 99.9 586 98.8 586.3 99.3 586.6 99.5 586.8 99.7 587.1 99.8 587.4 99.3 587.6 99.3 587.9 99.5 588.2 99.4 588.4 98.8 588.7 99.7 589 99.1 589.2 99.4 589.5 99.1 589.7 99.1 590 99 590.3 99.2 590.5 98.8 590.8 104 591.1 115.4 591.3 126.4 591.6 137.2 591.9 149.3 592.1 160.9 592.4 172.3 592.6 181 592.9 186.3 593.2 189.9 593.4 191.5 593.7 193.2 594 194 594.2 195.3 594.5 194.8 594.8 194.8 595 196 595.3 195.7 595.6 195.1 595.8 196.2 596.1 195.3 596.3 196 596.6 194.8 596.9 195 597.1 196.3 597.4 194.9 597.7 196.4 597.9 195.2 598.2 196.3 598.5 196.3 598.7 195.6 599 194.7 599.2 196.2 599.5 196.3 599.8 196 600 196.4 600.3 195.6 600.6 195.3 600.8 195.6 601.1 196.1 601.4 194.8 601.6 194.9 601.9 196.2 602.2 195.6 602.4 195.4 602.7 195.3 602.9 195.2 603.2 196.1 603.5 195.4 603.7 195.7 604 196.4 604.3 186.2 604.5 170.1 604.8 153.1 605.1 137.1 605.3 121.1 605.6 105.5 605.8 102.1 606.1 101.3 606.4 100.7 606.6 99.7 606.9 98.9 607.2 98.9 607.4 99.3 607.7 99.1 608 99.3 608.2 98.9 608.5 99.3 608.8 99.7 609 99.8 609.3 99.1 609.5 99.4 609.8 98.8 610.1 99.1 610.3 99.5 610.6 99.1 610.9 99.7 611.1 99.2 611.4 99.1 611.7 98.9 611.9 99.5 612.2 99.2 612.4 99.6 612.7 99.7 613 99.6 613.2 99 613.5 99.5 613.8 99.3 614 98.9 614.3 99.5 614.6 99 614.8 98.9 615.1 98.9 615.4 99.1 615.6 98.9 615.9 99.4 616.1 99.1 616.4 99.4 616.7 99.6 616.9 99 617.2 103.9 617.5 115 617.7 126.7 618 137.4 618.3 149.6 618.5 160.4 618.8 171.1 619 181.3 619.3 186.8 619.6 190.4 619.8 191.2 620.1 193.2 620.4 193.5 620.6 195.8 620.9 195.1 621.2 196.3 621.4 194.5 621.7 195.6 622 194.9 622.2 196.1 622.5 196.3 622.7 196 623 195.2 623.3 196.4 623.5 195.2 623.8 196.4 624.1 194.9 624.3 195.8 624.6 195.2 624.9 195.8 625.1 195.9 625.4 194.6 625.6 195.5 625.9 195 626.2 196 626.4 195.8 626.7 195.1 627 196.6 627.2 196.2 627.5 196.3 627.8 195.4 628 195.3 628.3 194.6 628.6 195 628.8 195.5 629.1 195 629.3 194.9 629.6 195.4 629.9 195.4 630.1 195.9 630.4 195.2 630.7 186.1 630.9 169.6 631.2 152.8 631.5 137.4 631.7 120.4 632 105.3 632.2 102.5 632.5 100.7 632.8 100 633 100 633.3 99.2 633.6 99.2 633.8 99.6 634.1 99.9 634.4 98.8 634.6 99.2 634.9 99.2 635.2 98.8 635.4 99.3 635.7 99.2 635.9 99.7 636.2 98.9 636.5 99.8 636.7 99.5 637 99.3 637.3 99 637.5 99.7 637.8 99.1 638.1 99.9 638.3 99.5 638.6 99.7 638.8 98.9 639.1 99.6 639.4 98.9 639.6 99.5 639.9 98.7 640.2 99.1 640.4 99.1 640.7 99.5 641 99.6 641.2 99.4 641.5 98.8 641.8 98.8 642 98.7 642.3 99.1 642.5 99.2 642.8 99.2 643.1 99.3 643.3 99.9 643.6 103.6 643.9 115.2 644.1 126.5 644.4 137 644.7 149.1 644.9 160.4 645.2 171.5 645.4 181.6 645.7 185.9 646 190.4 646.2 192 646.5 192.3 646.8 193.1 647 194.2 647.3 194.1 647.6 194.6 647.8 195.9 648.1 195.2 648.4 195.7 648.6 195.4 648.9 194.4 649.1 195.9 649.4 195.3 649.7 195.2 649.9 195.3 650.2 196.2 650.5 194.8 650.7 195.9 651 196.2 651.3 196.8 651.5 195.4 651.8 195.4 652 196.3 652.3 196.1 652.6 195.6 652.8 195.7 653.1 194.8 653.4 195.6 653.6 196.4 653.9 195.5 654.2 195.8 654.4 195.4 654.7 196.8 655 195.8 655.2 196.3 655.5 196.6 655.7 196.2 656 195.6 656.3 196.4 656.5 195 656.8 195 657.1 186.1 657.3 170 657.6 153.7 657.9 136.7 658.1 120.1 658.4 105.5 658.6 103 658.9 100.4 659.2 99.8 659.4 99.2 659.7 99.8 660 99.4 660.2 99.1 660.5 99.2 660.8 99.8 661 99.7 661.3 99.6 661.6 99.5 661.8 99.7 662.1 99.3 662.3 99.2 662.6 99.6 662.9 99.6 663.1 99.4 663.4 99.7 663.7 99.1 663.9 99.1 664.2 99.1 664.5 99.8 664.7 99.5 665 99.6 665.2 99.3 665.5 99.1 665.8 99.4 666 99 666.3 99.8 666.6 98.9 666.8 99.1 667.1 99.9 667.4 99.7 667.6 98.9 667.9 98.9 668.2 99.2 668.4 99.3 668.7 99.8 668.9 99.7 669.2 99.4 669.5 99.1 669.7 99.2 670 103.7" stroke="#0a8282" stroke-width="1.0" fill="none" stroke-linejoin="round"/>
<path d="M406 196.1h0M406.3 195.2h0M406.5 195.7h0M406.8 195.4h0M407.1 196.6h0M407.3 195.9h0M407.6 196.2h0M407.8 196h0M408.1 195.4h0M408.4 196.5h0M408.6 196h0M408.9 196h0M409.2 195.2h0M409.4 194.9h0M409.7 195.8h0M410 196.3h0M410.2 196.2h0M410.5 195.3h0M410.8 194.9h0M411 195.6h0M411.3 196.4h0M411.5 194.9h0M411.8 196.1h0M412.1 194.9h0M412.3 195.2h0M412.6 194.7h0M412.9 195.2h0M413.1 195.4h0M413.4 196.5h0M413.7 196.5h0M413.9 195h0M414.2 195.2h0M414.4 196.5h0M414.7 195h0M415 195.2h0M415.2 195.5h0M415.5 194.8h0M415.8 195.1h0M416 195.4h0M416.3 195.4h0M416.6 196.5h0M416.8 195.1h0M417.1 195h0M417.4 196.4h0M417.6 195.5h0M417.9 196.3h0M418.1 195.9h0M418.4 196.2h0M418.7 195.2h0M418.9 194.9h0M419.2 196.1h0M419.5 185.9h0M419.7 169.8h0M420 153.1h0M420.3 137h0M420.5 120.9h0M420.8 105.9h0M421 102.9h0M421.3 100.8h0M421.6 99.9h0M421.8 99.2h0M422.1 99.8h0M422.4 99.3h0M422.6 98.9h0M422.9 99.5h0M423.2 99.5h0M423.4 99.6h0M423.7 99.8h0M424 99.1h0M424.2 99.7h0M424.5 98.9h0M424.7 99.3h0M425 99.5h0M425.3 98.9h0M425.5 98.8h0M425.8 99.3h0M426.1 99.5h0M426.3 99.2h0M426.6 99h0M426.9 99.6h0M427.1 98.9h0M427.4 99.6h0M427.6 99.8h0M427.9 99.6h0M428.2 99.5h0M428.4 98.9h0M428.7 99.5h0M429 99h0M429.2 99.4h0M429.5 99h0M429.8 99h0M430 99.5h0M430.3 99.7h0M430.6 99.5h0M430.8 99.7h0M431.1 98.7h0M431.3 98.9h0M431.6 98.8h0M431.9 99.4h0M432.1 98.7h0M432.4 103.6h0M432.7 114.9h0M432.9 126.5h0M433.2 138.2h0M433.5 148.7h0M433.7 160.2h0M434 171.9h0M434.2 181h0M434.5 186.2h0M434.8 190.7h0M435 192.5h0M435.3 192.5h0M435.6 194.5h0M435.8 194h0M436.1 194.6h0M436.4 194.9h0M436.6 194.6h0M436.9 196.2h0M437.2 196.7h0M437.4 195.6h0M437.7 194.9h0M437.9 195.6h0M438.2 195h0M438.5 194.8h0M438.7 195.6h0M439 195.2h0M439.3 195.1h0M439.5 196.9h0M439.8 195.8h0M440.1 194.9h0M440.3 194.8h0M440.6 196.6h0M440.8 196.5h0M441.1 195.6h0M441.4 194.5h0M441.6 195.7h0M441.9 196.5h0M442.2 195h0M442.4 194.6h0M442.7 196.4h0M443 194.8h0M443.2 195h0M443.5 194.6h0M443.8 195.9h0M444 195.1h0M444.3 194.7h0M444.5 196.1h0M444.8 196.1h0M445.1 195.2h0M445.3 194.5h0M445.6 195h0M445.9 186.2h0M446.1 169.8h0M446.4 152.8h0M446.7 137.3h0M446.9 120.2h0M447.2 106.1h0M447.4 102.7h0M447.7 101.1h0M448 99.9h0M448.2 99.2h0M448.5 99h0M448.8 99.7h0M449 99.7h0M449.3 99.3h0M449.6 99.7h0M449.8 99.8h0M450.1 99.7h0M450.4 99.7h0M450.6 99.4h0M450.9 99.7h0M451.1 98.8h0M451.4 99h0M451.7 98.7h0M451.9 98.7h0M452.2 99.7h0M452.5 98.8h0M452.7 98.9h0M453 98.8h0M453.3 99.4h0M453.5 98.8h0M453.8 99.7h0M454 98.8h0M454.3 99.1h0M454.6 98.9h0M454.8 99.9h0M455.1 98.7h0M455.4 98.8h0M455.6 99.4h0M455.9 99.2h0M456.2 99.4h0M456.4 99.8h0M456.7 99.7h0M457 99.7h0M457.2 98.7h0M457.5 99.7h0M457.7 99.8h0M458 99.8h0M458.3 99.5h0M458.5 99.1h0M458.8 103.5h0M459.1 115.4h0M459.3 126.8h0M459.6 137.7h0M459.9 148.5h0M460.1 161h0M460.4 172.1h0M460.6 181.7h0M460.9 186.9h0M461.2 189.6h0M461.4 191.3h0M461.7 193.7h0M462 195.1h0M462.2 193.6h0M462.5 195.4h0M462.8 196h0M463 195.4h0M463.3 196.1h0M463.6 194.6h0M463.8 194.8h0M464.1 195.9h0M464.3 195.9h0M464.6 194.4h0M464.9 195h0M465.1 196h0M465.4 195.4h0M465.7 194.6h0M465.9 195.9h0M466.2 195.1h0M466.5 195.9h0M466.7 195.3h0M467 195.8h0M467.2 195.3h0M467.5 196h0M467.8 194.7h0M468 196.5h0M468.3 195.5h0M468.6 194.9h0M468.8 196.4h0M469.1 195.1h0M469.4 195.4h0M469.6 195.3h0M469.9 195.6h0M470.2 194.8h0M470.4 195.4h0M470.7 196h0M470.9 196.1h0M471.2 195.2h0M471.5 195.7h0M471.7 195.3h0M472 195.2h0M472.3 185.7h0M472.5 170.1h0M472.8 152.7h0M473.1 137.3h0M473.3 121.1h0M473.6 106h0M473.8 103.1h0M474.1 100.6h0M474.4 100.6h0M474.6 99.2h0M474.9 100h0M475.2 99.7h0M475.4 99.3h0M475.7 99h0M476 99.1h0M476.2 99.9h0M476.5 98.9h0M476.8 99.5h0M477 98.7h0M477.3 99.6h0M477.5 99h0M477.8 99.4h0M478.1 98.9h0M478.3 99.8h0M478.6 99.7h0M478.9 99.8h0M479.1 99h0M479.4 99.8h0M479.7 99h0M479.9 99.2h0M480.2 98.9h0M480.4 99.4h0M480.7 99.2h0M481 98.7h0M481.2 99h0M481.5 99.3h0M481.8 99.3h0M482 99.4h0M482.3 99.7h0M482.6 99.9h0M482.8 99h0M483.1 99.1h0M483.4 99.1h0M483.6 98.7h0M483.9 98.9h0M484.1 98.7h0M484.4 99h0M484.7 99.4h0M484.9 98.9h0M485.2 104.1h0M485.5 115h0M485.7 126.2h0M486 137.5h0M486.3 149.2h0M486.5 161h0M486.8 172.1h0M487 181.5h0M487.3 185.9h0M487.6 190.4h0M487.8 192.8h0M488.1 193h0M488.4 194.5h0M488.6 195.8h0M488.9 194.5h0M489.2 194.7h0M489.4 194.7h0M489.7 195.5h0M490 195.7h0M490.2 195.7h0M490.5 196.1h0M490.7 195.3h0M491 195h0M491.3 194.9h0M491.5 196.2h0M491.8 195.4h0M492.1 194.6h0M492.3 194.8h0M492.6 195.3h0M492.9 196.1h0M493.1 195.5h0M493.4 194.9h0M493.6 195.7h0M493.9 196.7h0M494.2 196h0M494.4 196.3h0M494.7 195h0M495 196.1h0M495.2 195.5h0M495.5 195.9h0M495.8 194.3h0M496 195.6h0M496.3 195.3h0M496.6 194.3h0M496.8 196.3h0M497.1 195.5h0M497.3 195.4h0M497.6 194.5h0M497.9 196h0M498.1 196.4h0M498.4 195.3h0M498.7 185.9h0M498.9 169.1h0M499.2 153.1h0M499.5 136.7h0M499.7 121.1h0M500 105.7h0M500.2 102.8h0M500.5 101.3h0M500.8 99.7h0M501 99.8h0M501.3 99.2h0M501.6 98.9h0M501.8 99h0M502.1 99.2h0M502.4 99.6h0M502.6 99.6h0M502.9 99.1h0M503.2 99.5h0M503.4 99.8h0M503.7 99.1h0M503.9 99h0M504.2 99h0M504.5 99.7h0M504.7 99.9h0M505 99.1h0M505.3 99.6h0M505.5 99.4h0M505.8 98.8h0M506.1 98.9h0M506.3 99.8h0M506.6 98.9h0M506.8 99.3h0M507.1 99.1h0M507.4 99.3h0M507.6 98.8h0M507.9 99.2h0M508.2 99h0M508.4 99h0M508.7 99.3h0M509 99.6h0M509.2 99.2h0M509.5 99.8h0M509.8 98.8h0M510 99.5h0M510.3 98.7h0M510.5 99.8h0M510.8 99.3h0M511.1 99.1h0M511.3 99.6h0M511.6 103.5h0M511.9 115.3h0M512.1 126.5h0M512.4 137h0M512.7 149.2h0M512.9 160h0M513.2 171h0M513.4 181.6h0M513.7 187.2h0M514 190.1h0M514.2 191.5h0M514.5 193.4h0M514.8 194.7h0M515 194.1h0M515.3 195.3h0M515.6 195.8h0M515.8 195.7h0M516.1 195.5h0M516.4 195.3h0M516.6 196.1h0M516.9 195.5h0M517.1 195h0M517.4 195.2h0M517.7 195.4h0M517.9 196.2h0M518.2 195.4h0M518.5 196.8h0M518.7 196h0M519 195.6h0M519.3 195.5h0M519.5 195.6h0M519.8 196.1h0M520 196.2h0M520.3 195h0M520.6 195.4h0M520.8 196.5h0M521.1 195.1h0M521.4 194.9h0M521.6 194.7h0M521.9 195.8h0M522.2 195.6h0M522.4 195.3h0M522.7 195.9h0M523 195.5h0M523.2 194.9h0M523.5 195.6h0M523.7 196.5h0M524 195.2h0M524.3 195.7h0M524.5 194.7h0M524.8 196h0M525.1 185.9h0M525.3 169.9h0M525.6 152.9h0M525.9 137.3h0M526.1 121.2h0M526.4 105.5h0M526.6 102.8h0M526.9 100.6h0M527.2 99.9h0M527.4 99.4h0M527.7 99.5h0M528 99h0M528.2 100h0M528.5 99.7h0M528.8 99.8h0M529 99.6h0M529.3 99.1h0M529.6 99h0M529.8 99.3h0M530.1 99.8h0M530.3 99.3h0M530.6 99.4h0M530.9 99.5h0M531.1 99.2h0M531.4 99h0M531.7 99.2h0M531.9 99.3h0M532.2 98.7h0M532.5 99.6h0M532.7 99h0M533 99.3h0M533.2 99.4h0M533.5 98.9h0M533.8 99.6h0M534 99.6h0M534.3 99h0M534.6 99.8h0M534.8 99.8h0M535.1 98.8h0M535.4 99.7h0M535.6 98.9h0M535.9 99.5h0M536.2 99.1h0M536.4 99h0M536.7 98.9h0M536.9 99.4h0M537.2 98.9h0M537.5 98.8h0M537.7 99.1h0M538 103.8h0M538.3 115.2h0M538.5 126.1h0M538.8 137.1h0M539.1 149.5h0M539.3 160h0M539.6 171.7h0M539.8 181.8h0M540.1 187.2h0M540.4 190.4h0M540.6 191.6h0M540.9 193.8h0M541.2 193.3h0M541.4 195.3h0M541.7 195h0M542 194.8h0M542.2 196.4h0M542.5 195.1h0M542.8 195.5h0M543 195.9h0M543.3 195.4h0M543.5 196h0M543.8 195.2h0M544.1 196.4h0M544.3 195.5h0M544.6 195.6h0M544.9 195h0M545.1 194.7h0M545.4 196.2h0M545.7 196.5h0M545.9 195.1h0M546.2 195.2h0M546.4 195h0M546.7 196.2h0M547 194.3h0M547.2 194.8h0M547.5 194.6h0M547.8 196h0M548 195.7h0M548.3 195.2h0M548.6 196.9h0M548.8 194.7h0M549.1 195.5h0M549.4 195.8h0M549.6 195.7h0M549.9 195.8h0M550.1 195.2h0M550.4 196.7h0M550.7 194.6h0M550.9 195.6h0M551.2 196.2h0M551.5 186.2h0M551.7 169.7h0M552 153.5h0M552.3 137.5h0M552.5 121.2h0M552.8 105.4h0M553 102.3h0M553.3 101.3h0M553.6 100.5h0M553.8 100h0M554.1 99.8h0M554.4 99.5h0M554.6 99.8h0M554.9 99.1h0M555.2 98.8h0M555.4 99.6h0M555.7 99.6h0M556 99.8h0M556.2 99.2h0M556.5 98.8h0M556.7 98.8h0M557 98.8h0M557.3 99.2h0M557.5 99h0M557.8 99.5h0M558.1 99.3h0M558.3 99h0M558.6 99h0M558.9 99.8h0M559.1 99.9h0M559.4 99.4h0M559.6 99.6h0M559.9 99.7h0M560.2 99.8h0M560.4 98.8h0M560.7 98.9h0M561 98.8h0M561.2 99.3h0M561.5 98.9h0M561.8 99.2h0M562 99.7h0M562.3 99.3h0M562.6 99.7h0M562.8 98.7h0M563.1 99.3h0M563.3 99.6h0M563.6 99.8h0M563.9 98.9h0M564.1 98.8h0M564.4 103.7h0M564.7 115.2h0M564.9 126.6h0M565.2 138.1h0M565.5 149.3h0M565.7 160.6h0M566 172.4h0M566.2 181.3h0M566.5 187.4h0M566.8 189.3h0M567 191.5h0M567.3 193.2h0M567.6 193.9h0M567.8 194.6h0M568.1 195.1h0M568.4 194.6h0M568.6 195.2h0M568.9 194.3h0M569.2 195.2h0M569.4 196.6h0M569.7 196.6h0M569.9 196.4h0M570.2 195.6h0M570.5 195.5h0M570.7 194.7h0M571 195.3h0M571.3 196.1h0M571.5 196.7h0M571.8 194.2h0M572.1 196.4h0M572.3 194.5h0M572.6 196h0M572.8 194.7h0M573.1 195.1h0M573.4 196.4h0M573.6 196.5h0M573.9 195h0M574.2 195h0M574.4 194.8h0M574.7 196.9h0M575 196h0M575.2 196.1h0M575.5 196.2h0M575.8 194.6h0M576 195.9h0M576.3 195.8h0M576.5 195.3h0M576.8 195.2h0M577.1 195.3h0M577.3 194.8h0M577.6 195.5h0M577.9 186h0M578.1 169.5h0M578.4 153.8h0M578.7 136.6h0M578.9 120.2h0M579.2 105.1h0M579.4 102.4h0M579.7 101h0M580 99.8h0M580.2 99.5h0M580.5 100h0M580.8 99.3h0M581 98.8h0M581.3 99.7h0M581.6 98.9h0M581.8 98.8h0M582.1 99.1h0M582.4 99.6h0M582.6 99.3h0M582.9 99.5h0M583.1 99.5h0M583.4 99.8h0M583.7 99h0M583.9 98.9h0M584.2 99.5h0M584.5 99.1h0M584.7 99.5h0M585 99.2h0M585.3 99.2h0M585.5 98.8h0M585.8 99.9h0M586 98.8h0M586.3 99.3h0M586.6 99.5h0M586.8 99.7h0M587.1 99.8h0M587.4 99.3h0M587.6 99.3h0M587.9 99.5h0M588.2 99.4h0M588.4 98.8h0M588.7 99.7h0M589 99.1h0M589.2 99.4h0M589.5 99.1h0M589.7 99.1h0M590 99h0M590.3 99.2h0M590.5 98.8h0M590.8 104h0M591.1 115.4h0M591.3 126.4h0M591.6 137.2h0M591.9 149.3h0M592.1 160.9h0M592.4 172.3h0M592.6 181h0M592.9 186.3h0M593.2 189.9h0M593.4 191.5h0M593.7 193.2h0M594 194h0M594.2 195.3h0M594.5 194.8h0M594.8 194.8h0M595 196h0M595.3 195.7h0M595.6 195.1h0M595.8 196.2h0M596.1 195.3h0M596.3 196h0M596.6 194.8h0M596.9 195h0M597.1 196.3h0M597.4 194.9h0M597.7 196.4h0M597.9 195.2h0M598.2 196.3h0M598.5 196.3h0M598.7 195.6h0M599 194.7h0M599.2 196.2h0M599.5 196.3h0M599.8 196h0M600 196.4h0M600.3 195.6h0M600.6 195.3h0M600.8 195.6h0M601.1 196.1h0M601.4 194.8h0M601.6 194.9h0M601.9 196.2h0M602.2 195.6h0M602.4 195.4h0M602.7 195.3h0M602.9 195.2h0M603.2 196.1h0M603.5 195.4h0M603.7 195.7h0M604 196.4h0M604.3 186.2h0M604.5 170.1h0M604.8 153.1h0M605.1 137.1h0M605.3 121.1h0M605.6 105.5h0M605.8 102.1h0M606.1 101.3h0M606.4 100.7h0M606.6 99.7h0M606.9 98.9h0M607.2 98.9h0M607.4 99.3h0M607.7 99.1h0M608 99.3h0M608.2 98.9h0M608.5 99.3h0M608.8 99.7h0M609 99.8h0M609.3 99.1h0M609.5 99.4h0M609.8 98.8h0M610.1 99.1h0M610.3 99.5h0M610.6 99.1h0M610.9 99.7h0M611.1 99.2h0M611.4 99.1h0M611.7 98.9h0M611.9 99.5h0M612.2 99.2h0M612.4 99.6h0M612.7 99.7h0M613 99.6h0M613.2 99h0M613.5 99.5h0M613.8 99.3h0M614 98.9h0M614.3 99.5h0M614.6 99h0M614.8 98.9h0M615.1 98.9h0M615.4 99.1h0M615.6 98.9h0M615.9 99.4h0M616.1 99.1h0M616.4 99.4h0M616.7 99.6h0M616.9 99h0M617.2 103.9h0M617.5 115h0M617.7 126.7h0M618 137.4h0M618.3 149.6h0M618.5 160.4h0M618.8 171.1h0M619 181.3h0M619.3 186.8h0M619.6 190.4h0M619.8 191.2h0M620.1 193.2h0M620.4 193.5h0M620.6 195.8h0M620.9 195.1h0M621.2 196.3h0M621.4 194.5h0M621.7 195.6h0M622 194.9h0M622.2 196.1h0M622.5 196.3h0M622.7 196h0M623 195.2h0M623.3 196.4h0M623.5 195.2h0M623.8 196.4h0M624.1 194.9h0M624.3 195.8h0M624.6 195.2h0M624.9 195.8h0M625.1 195.9h0M625.4 194.6h0M625.6 195.5h0M625.9 195h0M626.2 196h0M626.4 195.8h0M626.7 195.1h0M627 196.6h0M627.2 196.2h0M627.5 196.3h0M627.8 195.4h0M628 195.3h0M628.3 194.6h0M628.6 195h0M628.8 195.5h0M629.1 195h0M629.3 194.9h0M629.6 195.4h0M629.9 195.4h0M630.1 195.9h0M630.4 195.2h0M630.7 186.1h0M630.9 169.6h0M631.2 152.8h0M631.5 137.4h0M631.7 120.4h0M632 105.3h0M632.2 102.5h0M632.5 100.7h0M632.8 100h0M633 100h0M633.3 99.2h0M633.6 99.2h0M633.8 99.6h0M634.1 99.9h0M634.4 98.8h0M634.6 99.2h0M634.9 99.2h0M635.2 98.8h0M635.4 99.3h0M635.7 99.2h0M635.9 99.7h0M636.2 98.9h0M636.5 99.8h0M636.7 99.5h0M637 99.3h0M637.3 99h0M637.5 99.7h0M637.8 99.1h0M638.1 99.9h0M638.3 99.5h0M638.6 99.7h0M638.8 98.9h0M639.1 99.6h0M639.4 98.9h0M639.6 99.5h0M639.9 98.7h0M640.2 99.1h0M640.4 99.1h0M640.7 99.5h0M641 99.6h0M641.2 99.4h0M641.5 98.8h0M641.8 98.8h0M642 98.7h0M642.3 99.1h0M642.5 99.2h0M642.8 99.2h0M643.1 99.3h0M643.3 99.9h0M643.6 103.6h0M643.9 115.2h0M644.1 126.5h0M644.4 137h0M644.7 149.1h0M644.9 160.4h0M645.2 171.5h0M645.4 181.6h0M645.7 185.9h0M646 190.4h0M646.2 192h0M646.5 192.3h0M646.8 193.1h0M647 194.2h0M647.3 194.1h0M647.6 194.6h0M647.8 195.9h0M648.1 195.2h0M648.4 195.7h0M648.6 195.4h0M648.9 194.4h0M649.1 195.9h0M649.4 195.3h0M649.7 195.2h0M649.9 195.3h0M650.2 196.2h0M650.5 194.8h0M650.7 195.9h0M651 196.2h0M651.3 196.8h0M651.5 195.4h0M651.8 195.4h0M652 196.3h0M652.3 196.1h0M652.6 195.6h0M652.8 195.7h0M653.1 194.8h0M653.4 195.6h0M653.6 196.4h0M653.9 195.5h0M654.2 195.8h0M654.4 195.4h0M654.7 196.8h0M655 195.8h0M655.2 196.3h0M655.5 196.6h0M655.7 196.2h0M656 195.6h0M656.3 196.4h0M656.5 195h0M656.8 195h0M657.1 186.1h0M657.3 170h0M657.6 153.7h0M657.9 136.7h0M658.1 120.1h0M658.4 105.5h0M658.6 103h0M658.9 100.4h0M659.2 99.8h0M659.4 99.2h0M659.7 99.8h0M660 99.4h0M660.2 99.1h0M660.5 99.2h0M660.8 99.8h0M661 99.7h0M661.3 99.6h0M661.6 99.5h0M661.8 99.7h0M662.1 99.3h0M662.3 99.2h0M662.6 99.6h0M662.9 99.6h0M663.1 99.4h0M663.4 99.7h0M663.7 99.1h0M663.9 99.1h0M664.2 99.1h0M664.5 99.8h0M664.7 99.5h0M665 99.6h0M665.2 99.3h0M665.5 99.1h0M665.8 99.4h0M666 99h0M666.3 99.8h0M666.6 98.9h0M666.8 99.1h0M667.1 99.9h0M667.4 99.7h0M667.6 98.9h0M667.9 98.9h0M668.2 99.2h0M668.4 99.3h0M668.7 99.8h0M668.9 99.7h0M669.2 99.4h0M669.5 99.1h0M669.7 99.2h0M670 103.7h0" stroke="#077070" stroke-width="3.5" stroke-linecap="round" fill="none"/>
<path d="M406 196.1h0M406.3 195.2h0M406.5 195.7h0M406.8 195.4h0M407.1 196.6h0M407.3 195.9h0M407.6 196.2h0M407.8 196h0M408.1 195.4h0M408.4 196.5h0M408.6 196h0M408.9 196h0M409.2 195.2h0M409.4 194.9h0M409.7 195.8h0M410 196.3h0M410.2 196.2h0M410.5 195.3h0M410.8 194.9h0M411 195.6h0M411.3 196.4h0M411.5 194.9h0M411.8 196.1h0M412.1 194.9h0M412.3 195.2h0M412.6 194.7h0M412.9 195.2h0M413.1 195.4h0M413.4 196.5h0M413.7 196.5h0M413.9 195h0M414.2 195.2h0M414.4 196.5h0M414.7 195h0M415 195.2h0M415.2 195.5h0M415.5 194.8h0M415.8 195.1h0M416 195.4h0M416.3 195.4h0M416.6 196.5h0M416.8 195.1h0M417.1 195h0M417.4 196.4h0M417.6 195.5h0M417.9 196.3h0M418.1 195.9h0M418.4 196.2h0M418.7 195.2h0M418.9 194.9h0M419.2 196.1h0M419.5 185.9h0M419.7 169.8h0M420 153.1h0M420.3 137h0M420.5 120.9h0M420.8 105.9h0M421 102.9h0M421.3 100.8h0M421.6 99.9h0M421.8 99.2h0M422.1 99.8h0M422.4 99.3h0M422.6 98.9h0M422.9 99.5h0M423.2 99.5h0M423.4 99.6h0M423.7 99.8h0M424 99.1h0M424.2 99.7h0M424.5 98.9h0M424.7 99.3h0M425 99.5h0M425.3 98.9h0M425.5 98.8h0M425.8 99.3h0M426.1 99.5h0M426.3 99.2h0M426.6 99h0M426.9 99.6h0M427.1 98.9h0M427.4 99.6h0M427.6 99.8h0M427.9 99.6h0M428.2 99.5h0M428.4 98.9h0M428.7 99.5h0M429 99h0M429.2 99.4h0M429.5 99h0M429.8 99h0M430 99.5h0M430.3 99.7h0M430.6 99.5h0M430.8 99.7h0M431.1 98.7h0M431.3 98.9h0M431.6 98.8h0M431.9 99.4h0M432.1 98.7h0M432.4 103.6h0M432.7 114.9h0M432.9 126.5h0M433.2 138.2h0M433.5 148.7h0M433.7 160.2h0M434 171.9h0M434.2 181h0M434.5 186.2h0M434.8 190.7h0M435 192.5h0M435.3 192.5h0M435.6 194.5h0M435.8 194h0M436.1 194.6h0M436.4 194.9h0M436.6 194.6h0M436.9 196.2h0M437.2 196.7h0M437.4 195.6h0M437.7 194.9h0M437.9 195.6h0M438.2 195h0M438.5 194.8h0M438.7 195.6h0M439 195.2h0M439.3 195.1h0M439.5 196.9h0M439.8 195.8h0M440.1 194.9h0M440.3 194.8h0M440.6 196.6h0M440.8 196.5h0M441.1 195.6h0M441.4 194.5h0M441.6 195.7h0M441.9 196.5h0M442.2 195h0M442.4 194.6h0M442.7 196.4h0M443 194.8h0M443.2 195h0M443.5 194.6h0M443.8 195.9h0M444 195.1h0M444.3 194.7h0M444.5 196.1h0M444.8 196.1h0M445.1 195.2h0M445.3 194.5h0M445.6 195h0M445.9 186.2h0M446.1 169.8h0M446.4 152.8h0M446.7 137.3h0M446.9 120.2h0M447.2 106.1h0M447.4 102.7h0M447.7 101.1h0M448 99.9h0M448.2 99.2h0M448.5 99h0M448.8 99.7h0M449 99.7h0M449.3 99.3h0M449.6 99.7h0M449.8 99.8h0M450.1 99.7h0M450.4 99.7h0M450.6 99.4h0M450.9 99.7h0M451.1 98.8h0M451.4 99h0M451.7 98.7h0M451.9 98.7h0M452.2 99.7h0M452.5 98.8h0M452.7 98.9h0M453 98.8h0M453.3 99.4h0M453.5 98.8h0M453.8 99.7h0M454 98.8h0M454.3 99.1h0M454.6 98.9h0M454.8 99.9h0M455.1 98.7h0M455.4 98.8h0M455.6 99.4h0M455.9 99.2h0M456.2 99.4h0M456.4 99.8h0M456.7 99.7h0M457 99.7h0M457.2 98.7h0M457.5 99.7h0M457.7 99.8h0M458 99.8h0M458.3 99.5h0M458.5 99.1h0M458.8 103.5h0M459.1 115.4h0M459.3 126.8h0M459.6 137.7h0M459.9 148.5h0M460.1 161h0M460.4 172.1h0M460.6 181.7h0M460.9 186.9h0M461.2 189.6h0M461.4 191.3h0M461.7 193.7h0M462 195.1h0M462.2 193.6h0M462.5 195.4h0M462.8 196h0M463 195.4h0M463.3 196.1h0M463.6 194.6h0M463.8 194.8h0M464.1 195.9h0M464.3 195.9h0M464.6 194.4h0M464.9 195h0M465.1 196h0M465.4 195.4h0M465.7 194.6h0M465.9 195.9h0M466.2 195.1h0M466.5 195.9h0M466.7 195.3h0M467 195.8h0M467.2 195.3h0M467.5 196h0M467.8 194.7h0M468 196.5h0M468.3 195.5h0M468.6 194.9h0M468.8 196.4h0M469.1 195.1h0M469.4 195.4h0M469.6 195.3h0M469.9 195.6h0M470.2 194.8h0M470.4 195.4h0M470.7 196h0M470.9 196.1h0M471.2 195.2h0M471.5 195.7h0M471.7 195.3h0M472 195.2h0M472.3 185.7h0M472.5 170.1h0M472.8 152.7h0M473.1 137.3h0M473.3 121.1h0M473.6 106h0M473.8 103.1h0M474.1 100.6h0M474.4 100.6h0M474.6 99.2h0M474.9 100h0M475.2 99.7h0M475.4 99.3h0M475.7 99h0M476 99.1h0M476.2 99.9h0M476.5 98.9h0M476.8 99.5h0M477 98.7h0M477.3 99.6h0M477.5 99h0M477.8 99.4h0M478.1 98.9h0M478.3 99.8h0M478.6 99.7h0M478.9 99.8h0M479.1 99h0M479.4 99.8h0M479.7 99h0M479.9 99.2h0M480.2 98.9h0M480.4 99.4h0M480.7 99.2h0M481 98.7h0M481.2 99h0M481.5 99.3h0M481.8 99.3h0M482 99.4h0M482.3 99.7h0M482.6 99.9h0M482.8 99h0M483.1 99.1h0M483.4 99.1h0M483.6 98.7h0M483.9 98.9h0M484.1 98.7h0M484.4 99h0M484.7 99.4h0M484.9 98.9h0M485.2 104.1h0M485.5 115h0M485.7 126.2h0M486 137.5h0M486.3 149.2h0M486.5 161h0M486.8 172.1h0M487 181.5h0M487.3 185.9h0M487.6 190.4h0M487.8 192.8h0M488.1 193h0M488.4 194.5h0M488.6 195.8h0M488.9 194.5h0M489.2 194.7h0M489.4 194.7h0M489.7 195.5h0M490 195.7h0M490.2 195.7h0M490.5 196.1h0M490.7 195.3h0M491 195h0M491.3 194.9h0M491.5 196.2h0M491.8 195.4h0M492.1 194.6h0M492.3 194.8h0M492.6 195.3h0M492.9 196.1h0M493.1 195.5h0M493.4 194.9h0M493.6 195.7h0M493.9 196.7h0M494.2 196h0M494.4 196.3h0M494.7 195h0M495 196.1h0M495.2 195.5h0M495.5 195.9h0M495.8 194.3h0M496 195.6h0M496.3 195.3h0M496.6 194.3h0M496.8 196.3h0M497.1 195.5h0M497.3 195.4h0M497.6 194.5h0M497.9 196h0M498.1 196.4h0M498.4 195.3h0M498.7 185.9h0M498.9 169.1h0M499.2 153.1h0M499.5 136.7h0M499.7 121.1h0M500 105.7h0M500.2 102.8h0M500.5 101.3h0M500.8 99.7h0M501 99.8h0M501.3 99.2h0M501.6 98.9h0M501.8 99h0M502.1 99.2h0M502.4 99.6h0M502.6 99.6h0M502.9 99.1h0M503.2 99.5h0M503.4 99.8h0M503.7 99.1h0M503.9 99h0M504.2 99h0M504.5 99.7h0M504.7 99.9h0M505 99.1h0M505.3 99.6h0M505.5 99.4h0M505.8 98.8h0M506.1 98.9h0M506.3 99.8h0M506.6 98.9h0M506.8 99.3h0M507.1 99.1h0M507.4 99.3h0M507.6 98.8h0M507.9 99.2h0M508.2 99h0M508.4 99h0M508.7 99.3h0M509 99.6h0M509.2 99.2h0M509.5 99.8h0M509.8 98.8h0M510 99.5h0M510.3 98.7h0M510.5 99.8h0M510.8 99.3h0M511.1 99.1h0M511.3 99.6h0M511.6 103.5h0M511.9 115.3h0M512.1 126.5h0M512.4 137h0M512.7 149.2h0M512.9 160h0M513.2 171h0M513.4 181.6h0M513.7 187.2h0M514 190.1h0M514.2 191.5h0M514.5 193.4h0M514.8 194.7h0M515 194.1h0M515.3 195.3h0M515.6 195.8h0M515.8 195.7h0M516.1 195.5h0M516.4 195.3h0M516.6 196.1h0M516.9 195.5h0M517.1 195h0M517.4 195.2h0M517.7 195.4h0M517.9 196.2h0M518.2 195.4h0M518.5 196.8h0M518.7 196h0M519 195.6h0M519.3 195.5h0M519.5 195.6h0M519.8 196.1h0M520 196.2h0M520.3 195h0M520.6 195.4h0M520.8 196.5h0M521.1 195.1h0M521.4 194.9h0M521.6 194.7h0M521.9 195.8h0M522.2 195.6h0M522.4 195.3h0M522.7 195.9h0M523 195.5h0M523.2 194.9h0M523.5 195.6h0M523.7 196.5h0M524 195.2h0M524.3 195.7h0M524.5 194.7h0M524.8 196h0M525.1 185.9h0M525.3 169.9h0M525.6 152.9h0M525.9 137.3h0M526.1 121.2h0M526.4 105.5h0M526.6 102.8h0M526.9 100.6h0M527.2 99.9h0M527.4 99.4h0M527.7 99.5h0M528 99h0M528.2 100h0M528.5 99.7h0M528.8 99.8h0M529 99.6h0M529.3 99.1h0M529.6 99h0M529.8 99.3h0M530.1 99.8h0M530.3 99.3h0M530.6 99.4h0M530.9 99.5h0M531.1 99.2h0M531.4 99h0M531.7 99.2h0M531.9 99.3h0M532.2 98.7h0M532.5 99.6h0M532.7 99h0M533 99.3h0M533.2 99.4h0M533.5 98.9h0M533.8 99.6h0M534 99.6h0M534.3 99h0M534.6 99.8h0M534.8 99.8h0M535.1 98.8h0M535.4 99.7h0M535.6 98.9h0M535.9 99.5h0M536.2 99.1h0M536.4 99h0M536.7 98.9h0M536.9 99.4h0M537.2 98.9h0M537.5 98.8h0M537.7 99.1h0M538 103.8h0M538.3 115.2h0M538.5 126.1h0M538.8 137.1h0M539.1 149.5h0M539.3 160h0M539.6 171.7h0M539.8 181.8h0M540.1 187.2h0M540.4 190.4h0M540.6 191.6h0M540.9 193.8h0M541.2 193.3h0M541.4 195.3h0M541.7 195h0M542 194.8h0M542.2 196.4h0M542.5 195.1h0M542.8 195.5h0M543 195.9h0M543.3 195.4h0M543.5 196h0M543.8 195.2h0M544.1 196.4h0M544.3 195.5h0M544.6 195.6h0M544.9 195h0M545.1 194.7h0M545.4 196.2h0M545.7 196.5h0M545.9 195.1h0M546.2 195.2h0M546.4 195h0M546.7 196.2h0M547 194.3h0M547.2 194.8h0M547.5 194.6h0M547.8 196h0M548 195.7h0M548.3 195.2h0M548.6 196.9h0M548.8 194.7h0M549.1 195.5h0M549.4 195.8h0M549.6 195.7h0M549.9 195.8h0M550.1 195.2h0M550.4 196.7h0M550.7 194.6h0M550.9 195.6h0M551.2 196.2h0M551.5 186.2h0M551.7 169.7h0M552 153.5h0M552.3 137.5h0M552.5 121.2h0M552.8 105.4h0M553 102.3h0M553.3 101.3h0M553.6 100.5h0M553.8 100h0M554.1 99.8h0M554.4 99.5h0M554.6 99.8h0M554.9 99.1h0M555.2 98.8h0M555.4 99.6h0M555.7 99.6h0M556 99.8h0M556.2 99.2h0M556.5 98.8h0M556.7 98.8h0M557 98.8h0M557.3 99.2h0M557.5 99h0M557.8 99.5h0M558.1 99.3h0M558.3 99h0M558.6 99h0M558.9 99.8h0M559.1 99.9h0M559.4 99.4h0M559.6 99.6h0M559.9 99.7h0M560.2 99.8h0M560.4 98.8h0M560.7 98.9h0M561 98.8h0M561.2 99.3h0M561.5 98.9h0M561.8 99.2h0M562 99.7h0M562.3 99.3h0M562.6 99.7h0M562.8 98.7h0M563.1 99.3h0M563.3 99.6h0M563.6 99.8h0M563.9 98.9h0M564.1 98.8h0M564.4 103.7h0M564.7 115.2h0M564.9 126.6h0M565.2 138.1h0M565.5 149.3h0M565.7 160.6h0M566 172.4h0M566.2 181.3h0M566.5 187.4h0M566.8 189.3h0M567 191.5h0M567.3 193.2h0M567.6 193.9h0M567.8 194.6h0M568.1 195.1h0M568.4 194.6h0M568.6 195.2h0M568.9 194.3h0M569.2 195.2h0M569.4 196.6h0M569.7 196.6h0M569.9 196.4h0M570.2 195.6h0M570.5 195.5h0M570.7 194.7h0M571 195.3h0M571.3 196.1h0M571.5 196.7h0M571.8 194.2h0M572.1 196.4h0M572.3 194.5h0M572.6 196h0M572.8 194.7h0M573.1 195.1h0M573.4 196.4h0M573.6 196.5h0M573.9 195h0M574.2 195h0M574.4 194.8h0M574.7 196.9h0M575 196h0M575.2 196.1h0M575.5 196.2h0M575.8 194.6h0M576 195.9h0M576.3 195.8h0M576.5 195.3h0M576.8 195.2h0M577.1 195.3h0M577.3 194.8h0M577.6 195.5h0M577.9 186h0M578.1 169.5h0M578.4 153.8h0M578.7 136.6h0M578.9 120.2h0M579.2 105.1h0M579.4 102.4h0M579.7 101h0M580 99.8h0M580.2 99.5h0M580.5 100h0M580.8 99.3h0M581 98.8h0M581.3 99.7h0M581.6 98.9h0M581.8 98.8h0M582.1 99.1h0M582.4 99.6h0M582.6 99.3h0M582.9 99.5h0M583.1 99.5h0M583.4 99.8h0M583.7 99h0M583.9 98.9h0M584.2 99.5h0M584.5 99.1h0M584.7 99.5h0M585 99.2h0M585.3 99.2h0M585.5 98.8h0M585.8 99.9h0M586 98.8h0M586.3 99.3h0M586.6 99.5h0M586.8 99.7h0M587.1 99.8h0M587.4 99.3h0M587.6 99.3h0M587.9 99.5h0M588.2 99.4h0M588.4 98.8h0M588.7 99.7h0M589 99.1h0M589.2 99.4h0M589.5 99.1h0M589.7 99.1h0M590 99h0M590.3 99.2h0M590.5 98.8h0M590.8 104h0M591.1 115.4h0M591.3 126.4h0M591.6 137.2h0M591.9 149.3h0M592.1 160.9h0M592.4 172.3h0M592.6 181h0M592.9 186.3h0M593.2 189.9h0M593.4 191.5h0M593.7 193.2h0M594 194h0M594.2 195.3h0M594.5 194.8h0M594.8 194.8h0M595 196h0M595.3 195.7h0M595.6 195.1h0M595.8 196.2h0M596.1 195.3h0M596.3 196h0M596.6 194.8h0M596.9 195h0M597.1 196.3h0M597.4 194.9h0M597.7 196.4h0M597.9 195.2h0M598.2 196.3h0M598.5 196.3h0M598.7 195.6h0M599 194.7h0M599.2 196.2h0M599.5 196.3h0M599.8 196h0M600 196.4h0M600.3 195.6h0M600.6 195.3h0M600.8 195.6h0M601.1 196.1h0M601.4 194.8h0M601.6 194.9h0M601.9 196.2h0M602.2 195.6h0M602.4 195.4h0M602.7 195.3h0M602.9 195.2h0M603.2 196.1h0M603.5 195.4h0M603.7 195.7h0M604 196.4h0M604.3 186.2h0M604.5 170.1h0M604.8 153.1h0M605.1 137.1h0M605.3 121.1h0M605.6 105.5h0M605.8 102.1h0M606.1 101.3h0M606.4 100.7h0M606.6 99.7h0M606.9 98.9h0M607.2 98.9h0M607.4 99.3h0M607.7 99.1h0M608 99.3h0M608.2 98.9h0M608.5 99.3h0M608.8 99.7h0M609 99.8h0M609.3 99.1h0M609.5 99.4h0M609.8 98.8h0M610.1 99.1h0M610.3 99.5h0M610.6 99.1h0M610.9 99.7h0M611.1 99.2h0M611.4 99.1h0M611.7 98.9h0M611.9 99.5h0M612.2 99.2h0M612.4 99.6h0M612.7 99.7h0M613 99.6h0M613.2 99h0M613.5 99.5h0M613.8 99.3h0M614 98.9h0M614.3 99.5h0M614.6 99h0M614.8 98.9h0M615.1 98.9h0M615.4 99.1h0M615.6 98.9h0M615.9 99.4h0M616.1 99.1h0M616.4 99.4h0M616.7 99.6h0M616.9 99h0M617.2 103.9h0M617.5 115h0M617.7 126.7h0M618 137.4h0M618.3 149.6h0M618.5 160.4h0M618.8 171.1h0M619 181.3h0M619.3 186.8h0M619.6 190.4h0M619.8 191.2h0M620.1 193.2h0M620.4 193.5h0M620.6 195.8h0M620.9 195.1h0M621.2 196.3h0M621.4 194.5h0M621.7 195.6h0M622 194.9h0M622.2 196.1h0M622.5 196.3h0M622.7 196h0M623 195.2h0M623.3 196.4h0M623.5 195.2h0M623.8 196.4h0M624.1 194.9h0M624.3 195.8h0M624.6 195.2h0M624.9 195.8h0M625.1 195.9h0M625.4 194.6h0M625.6 195.5h0M625.9 195h0M626.2 196h0M626.4 195.8h0M626.7 195.1h0M627 196.6h0M627.2 196.2h0M627.5 196.3h0M627.8 195.4h0M628 195.3h0M628.3 194.6h0M628.6 195h0M628.8 195.5h0M629.1 195h0M629.3 194.9h0M629.6 195.4h0M629.9 195.4h0M630.1 195.9h0M630.4 195.2h0M630.7 186.1h0M630.9 169.6h0M631.2 152.8h0M631.5 137.4h0M631.7 120.4h0M632 105.3h0M632.2 102.5h0M632.5 100.7h0M632.8 100h0M633 100h0M633.3 99.2h0M633.6 99.2h0M633.8 99.6h0M634.1 99.9h0M634.4 98.8h0M634.6 99.2h0M634.9 99.2h0M635.2 98.8h0M635.4 99.3h0M635.7 99.2h0M635.9 99.7h0M636.2 98.9h0M636.5 99.8h0M636.7 99.5h0M637 99.3h0M637.3 99h0M637.5 99.7h0M637.8 99.1h0M638.1 99.9h0M638.3 99.5h0M638.6 99.7h0M638.8 98.9h0M639.1 99.6h0M639.4 98.9h0M639.6 99.5h0M639.9 98.7h0M640.2 99.1h0M640.4 99.1h0M640.7 99.5h0M641 99.6h0M641.2 99.4h0M641.5 98.8h0M641.8 98.8h0M642 98.7h0M642.3 99.1h0M642.5 99.2h0M642.8 99.2h0M643.1 99.3h0M643.3 99.9h0M643.6 103.6h0M643.9 115.2h0M644.1 126.5h0M644.4 137h0M644.7 149.1h0M644.9 160.4h0M645.2 171.5h0M645.4 181.6h0M645.7 185.9h0M646 190.4h0M646.2 192h0M646.5 192.3h0M646.8 193.1h0M647 194.2h0M647.3 194.1h0M647.6 194.6h0M647.8 195.9h0M648.1 195.2h0M648.4 195.7h0M648.6 195.4h0M648.9 194.4h0M649.1 195.9h0M649.4 195.3h0M649.7 195.2h0M649.9 195.3h0M650.2 196.2h0M650.5 194.8h0M650.7 195.9h0M651 196.2h0M651.3 196.8h0M651.5 195.4h0M651.8 195.4h0M652 196.3h0M652.3 196.1h0M652.6 195.6h0M652.8 195.7h0M653.1 194.8h0M653.4 195.6h0M653.6 196.4h0M653.9 195.5h0M654.2 195.8h0M654.4 195.4h0M654.7 196.8h0M655 195.8h0M655.2 196.3h0M655.5 196.6h0M655.7 196.2h0M656 195.6h0M656.3 196.4h0M656.5 195h0M656.8 195h0M657.1 186.1h0M657.3 170h0M657.6 153.7h0M657.9 136.7h0M658.1 120.1h0M658.4 105.5h0M658.6 103h0M658.9 100.4h0M659.2 99.8h0M659.4 99.2h0M659.7 99.8h0M660 99.4h0M660.2 99.1h0M660.5 99.2h0M660.8 99.8h0M661 99.7h0M661.3 99.6h0M661.6 99.5h0M661.8 99.7h0M662.1 99.3h0M662.3 99.2h0M662.6 99.6h0M662.9 99.6h0M663.1 99.4h0M663.4 99.7h0M663.7 99.1h0M663.9 99.1h0M664.2 99.1h0M664.5 99.8h0M664.7 99.5h0M665 99.6h0M665.2 99.3h0M665.5 99.1h0M665.8 99.4h0M666 99h0M666.3 99.8h0M666.6 98.9h0M666.8 99.1h0M667.1 99.9h0M667.4 99.7h0M667.6 98.9h0M667.9 98.9h0M668.2 99.2h0M668.4 99.3h0M668.7 99.8h0M668.9 99.7h0M669.2 99.4h0M669.5 99.1h0M669.7 99.2h0M670 103.7h0" stroke="#0a8282" stroke-width="2.1" stroke-linecap="round" fill="none"/>
<path d="M405.8 195.9h0M406 194.9h0M406.3 195.4h0M406.5 195.2h0M406.8 196.3h0M407.1 195.6h0M407.3 196h0M407.6 195.7h0M407.9 195.1h0M408.1 196.3h0M408.4 195.8h0M408.7 195.7h0M408.9 194.9h0M409.2 194.7h0M409.4 195.5h0M409.7 196h0M410 195.9h0M410.2 195h0M410.5 194.6h0M410.8 195.4h0M411 196.1h0M411.3 194.7h0M411.6 195.8h0M411.8 194.7h0M412.1 195h0M412.4 194.5h0M412.6 194.9h0M412.9 195.1h0M413.1 196.3h0M413.4 196.3h0M413.7 194.7h0M413.9 195h0M414.2 196.2h0M414.5 194.7h0M414.7 195h0M415 195.2h0M415.3 194.6h0M415.5 194.9h0M415.8 195.1h0M416 195.1h0M416.3 196.3h0M416.6 194.9h0M416.8 194.8h0M417.1 196.2h0M417.4 195.3h0M417.6 196h0M417.9 195.6h0M418.2 195.9h0M418.4 195h0M418.7 194.7h0M418.9 195.9h0M419.2 185.7h0M419.5 169.6h0M419.7 152.8h0M420 136.8h0M420.3 120.6h0M420.5 105.7h0M420.8 102.7h0M421.1 100.5h0M421.3 99.6h0M421.6 99h0M421.9 99.6h0M422.1 99.1h0M422.4 98.6h0M422.6 99.3h0M422.9 99.2h0M423.2 99.4h0M423.4 99.6h0M423.7 98.9h0M424 99.4h0M424.2 98.7h0M424.5 99.1h0M424.8 99.3h0M425 98.6h0M425.3 98.5h0M425.6 99.1h0M425.8 99.3h0M426.1 98.9h0M426.3 98.8h0M426.6 99.4h0M426.9 98.6h0M427.1 99.4h0M427.4 99.5h0M427.7 99.3h0M427.9 99.2h0M428.2 98.6h0M428.5 99.3h0M428.7 98.8h0M429 99.2h0M429.2 98.8h0M429.5 98.7h0M429.8 99.3h0M430 99.4h0M430.3 99.3h0M430.6 99.5h0M430.8 98.5h0M431.1 98.6h0M431.4 98.5h0M431.6 99.1h0M431.9 98.5h0M432.1 103.3h0M432.4 114.7h0M432.7 126.2h0M432.9 137.9h0M433.2 148.4h0M433.5 159.9h0M433.7 171.6h0M434 180.7h0M434.3 186h0M434.5 190.5h0M434.8 192.2h0M435.1 192.3h0M435.3 194.2h0M435.6 193.7h0M435.8 194.3h0M436.1 194.6h0M436.4 194.3h0M436.6 196h0M436.9 196.5h0M437.2 195.4h0M437.4 194.6h0M437.7 195.4h0M438 194.8h0M438.2 194.6h0M438.5 195.4h0M438.8 194.9h0M439 194.9h0M439.3 196.7h0M439.5 195.6h0M439.8 194.6h0M440.1 194.6h0M440.3 196.3h0M440.6 196.3h0M440.9 195.4h0M441.1 194.2h0M441.4 195.4h0M441.7 196.2h0M441.9 194.7h0M442.2 194.4h0M442.4 196.1h0M442.7 194.6h0M443 194.8h0M443.2 194.4h0M443.5 195.6h0M443.8 194.9h0M444 194.4h0M444.3 195.9h0M444.6 195.8h0M444.8 195h0M445.1 194.3h0M445.4 194.7h0M445.6 186h0M445.9 169.6h0M446.1 152.5h0M446.4 137.1h0M446.7 119.9h0M446.9 105.9h0M447.2 102.5h0M447.5 100.9h0M447.7 99.6h0M448 98.9h0M448.3 98.8h0M448.5 99.4h0M448.8 99.5h0M449 99.1h0M449.3 99.4h0M449.6 99.6h0M449.8 99.5h0M450.1 99.4h0M450.4 99.2h0M450.6 99.4h0M450.9 98.5h0M451.2 98.8h0M451.4 98.5h0M451.7 98.5h0M451.9 99.4h0M452.2 98.6h0M452.5 98.7h0M452.7 98.6h0M453 99.1h0M453.3 98.6h0M453.5 99.5h0M453.8 98.6h0M454.1 98.8h0M454.3 98.6h0M454.6 99.6h0M454.9 98.5h0M455.1 98.6h0M455.4 99.2h0M455.6 99h0M455.9 99.2h0M456.2 99.5h0M456.4 99.4h0M456.7 99.5h0M457 98.5h0M457.2 99.5h0M457.5 99.5h0M457.8 99.6h0M458 99.3h0M458.3 98.8h0M458.6 103.2h0M458.8 115.1h0M459.1 126.5h0M459.3 137.4h0M459.6 148.2h0M459.9 160.8h0M460.1 171.9h0M460.4 181.4h0M460.7 186.6h0M460.9 189.3h0M461.2 191h0M461.5 193.4h0M461.7 194.8h0M462 193.4h0M462.2 195.2h0M462.5 195.8h0M462.8 195.1h0M463 195.9h0M463.3 194.4h0M463.6 194.5h0M463.8 195.7h0M464.1 195.7h0M464.4 194.1h0M464.6 194.8h0M464.9 195.7h0M465.1 195.1h0M465.4 194.4h0M465.7 195.7h0M465.9 194.9h0M466.2 195.6h0M466.5 195.1h0M466.7 195.5h0M467 195.1h0M467.3 195.7h0M467.5 194.4h0M467.8 196.2h0M468.1 195.3h0M468.3 194.7h0M468.6 196.2h0M468.8 194.9h0M469.1 195.1h0M469.4 195.1h0M469.6 195.3h0M469.9 194.5h0M470.2 195.2h0M470.4 195.7h0M470.7 195.8h0M471 194.9h0M471.2 195.4h0M471.5 195h0M471.8 194.9h0M472 185.4h0M472.3 169.8h0M472.5 152.5h0M472.8 137h0M473.1 120.9h0M473.3 105.8h0M473.6 102.8h0M473.9 100.4h0M474.1 100.3h0M474.4 99h0M474.7 99.8h0M474.9 99.4h0M475.2 99.1h0M475.4 98.7h0M475.7 98.9h0M476 99.6h0M476.2 98.7h0M476.5 99.2h0M476.8 98.5h0M477 99.3h0M477.3 98.7h0M477.6 99.2h0M477.8 98.6h0M478.1 99.6h0M478.4 99.5h0M478.6 99.5h0M478.9 98.7h0M479.1 99.5h0M479.4 98.7h0M479.7 99h0M479.9 98.7h0M480.2 99.1h0M480.5 98.9h0M480.7 98.5h0M481 98.7h0M481.3 99.1h0M481.5 99h0M481.8 99.2h0M482 99.5h0M482.3 99.6h0M482.6 98.7h0M482.8 98.8h0M483.1 98.9h0M483.4 98.5h0M483.6 98.6h0M483.9 98.5h0M484.2 98.8h0M484.4 99.1h0M484.7 98.6h0M484.9 103.9h0M485.2 114.7h0M485.5 126h0M485.7 137.2h0M486 148.9h0M486.3 160.8h0M486.5 171.8h0M486.8 181.3h0M487.1 185.6h0M487.3 190.2h0M487.6 192.6h0M487.9 192.7h0M488.1 194.2h0M488.4 195.6h0M488.6 194.2h0M488.9 194.5h0M489.2 194.5h0M489.4 195.2h0M489.7 195.5h0M490 195.5h0M490.2 195.8h0M490.5 195.1h0M490.8 194.7h0M491 194.7h0M491.3 195.9h0M491.6 195.2h0M491.8 194.4h0M492.1 194.5h0M492.3 195.1h0M492.6 195.9h0M492.9 195.2h0M493.1 194.7h0M493.4 195.4h0M493.7 196.5h0M493.9 195.7h0M494.2 196h0M494.5 194.8h0M494.7 195.8h0M495 195.3h0M495.2 195.6h0M495.5 194.1h0M495.8 195.3h0M496 195h0M496.3 194.1h0M496.6 196h0M496.8 195.3h0M497.1 195.1h0M497.4 194.2h0M497.6 195.8h0M497.9 196.1h0M498.1 195.1h0M498.4 185.7h0M498.7 168.9h0M498.9 152.9h0M499.2 136.4h0M499.5 120.8h0M499.7 105.5h0M500 102.5h0M500.3 101.1h0M500.5 99.4h0M500.8 99.6h0M501.1 98.9h0M501.3 98.7h0M501.6 98.8h0M501.8 99h0M502.1 99.3h0M502.4 99.3h0M502.6 98.8h0M502.9 99.3h0M503.2 99.5h0M503.4 98.8h0M503.7 98.8h0M504 98.7h0M504.2 99.4h0M504.5 99.6h0M504.8 98.8h0M505 99.3h0M505.3 99.2h0M505.5 98.5h0M505.8 98.6h0M506.1 99.5h0M506.3 98.7h0M506.6 99.1h0M506.9 98.9h0M507.1 99.1h0M507.4 98.6h0M507.7 98.9h0M507.9 98.8h0M508.2 98.7h0M508.4 99h0M508.7 99.4h0M509 99h0M509.2 99.6h0M509.5 98.6h0M509.8 99.2h0M510 98.5h0M510.3 99.5h0M510.6 99h0M510.8 98.8h0M511.1 99.4h0M511.4 103.2h0M511.6 115.1h0M511.9 126.2h0M512.1 136.7h0M512.4 149h0M512.7 159.8h0M512.9 170.7h0M513.2 181.4h0M513.5 186.9h0M513.7 189.8h0M514 191.2h0M514.3 193.2h0M514.5 194.4h0M514.8 193.9h0M515 195.1h0M515.3 195.5h0M515.6 195.5h0M515.8 195.3h0M516.1 195h0M516.4 195.8h0M516.6 195.2h0M516.9 194.7h0M517.2 194.9h0M517.4 195.1h0M517.7 195.9h0M518 195.2h0M518.2 196.5h0M518.5 195.8h0M518.7 195.4h0M519 195.3h0M519.3 195.3h0M519.5 195.8h0M519.8 196h0M520.1 194.7h0M520.3 195.1h0M520.6 196.2h0M520.9 194.8h0M521.1 194.6h0M521.4 194.5h0M521.6 195.6h0M521.9 195.4h0M522.2 195.1h0M522.4 195.6h0M522.7 195.3h0M523 194.6h0M523.2 195.4h0M523.5 196.2h0M523.8 195h0M524 195.4h0M524.3 194.5h0M524.5 195.7h0M524.8 185.6h0M525.1 169.6h0M525.3 152.7h0M525.6 137.1h0M525.9 120.9h0M526.1 105.3h0M526.4 102.5h0M526.7 100.4h0M526.9 99.7h0M527.2 99.1h0M527.5 99.3h0M527.7 98.7h0M528 99.7h0M528.2 99.4h0M528.5 99.6h0M528.8 99.4h0M529 98.9h0M529.3 98.7h0M529.6 99.1h0M529.8 99.5h0M530.1 99.1h0M530.4 99.1h0M530.6 99.2h0M530.9 99h0M531.1 98.8h0M531.4 99h0M531.7 99h0M531.9 98.5h0M532.2 99.3h0M532.5 98.7h0M532.7 99.1h0M533 99.2h0M533.3 98.7h0M533.5 99.3h0M533.8 99.3h0M534.1 98.8h0M534.3 99.6h0M534.6 99.6h0M534.8 98.6h0M535.1 99.4h0M535.4 98.6h0M535.6 99.2h0M535.9 98.9h0M536.2 98.7h0M536.4 98.6h0M536.7 99.2h0M537 98.6h0M537.2 98.6h0M537.5 98.8h0M537.8 103.5h0M538 115h0M538.3 125.9h0M538.5 136.9h0M538.8 149.3h0M539.1 159.7h0M539.3 171.4h0M539.6 181.6h0M539.9 187h0M540.1 190.1h0M540.4 191.4h0M540.7 193.5h0M540.9 193.1h0M541.2 195.1h0M541.4 194.8h0M541.7 194.5h0M542 196.1h0M542.2 194.8h0M542.5 195.3h0M542.8 195.7h0M543 195.1h0M543.3 195.8h0M543.6 195h0M543.8 196.2h0M544.1 195.3h0M544.4 195.3h0M544.6 194.7h0M544.9 194.5h0M545.1 196h0M545.4 196.3h0M545.7 194.9h0M545.9 194.9h0M546.2 194.8h0M546.5 195.9h0M546.7 194.1h0M547 194.6h0M547.3 194.3h0M547.5 195.7h0M547.8 195.5h0M548 194.9h0M548.3 196.7h0M548.6 194.4h0M548.8 195.2h0M549.1 195.6h0M549.4 195.5h0M549.6 195.6h0M549.9 194.9h0M550.2 196.4h0M550.4 194.4h0M550.7 195.3h0M551 195.9h0M551.2 185.9h0M551.5 169.5h0M551.7 153.3h0M552 137.3h0M552.3 121h0M552.5 105.1h0M552.8 102h0M553.1 101.1h0M553.3 100.3h0M553.6 99.7h0M553.9 99.6h0M554.1 99.3h0M554.4 99.5h0M554.6 98.8h0M554.9 98.6h0M555.2 99.4h0M555.4 99.4h0M555.7 99.5h0M556 99h0M556.2 98.6h0M556.5 98.6h0M556.8 98.6h0M557 99h0M557.3 98.8h0M557.5 99.2h0M557.8 99h0M558.1 98.7h0M558.3 98.8h0M558.6 99.6h0M558.9 99.6h0M559.1 99.1h0M559.4 99.4h0M559.7 99.5h0M559.9 99.6h0M560.2 98.6h0M560.5 98.6h0M560.7 98.5h0M561 99.1h0M561.2 98.6h0M561.5 98.9h0M561.8 99.4h0M562 99h0M562.3 99.5h0M562.6 98.5h0M562.8 99h0M563.1 99.3h0M563.4 99.6h0M563.6 98.6h0M563.9 98.6h0M564.1 103.4h0M564.4 115h0M564.7 126.3h0M564.9 137.8h0M565.2 149.1h0M565.5 160.4h0M565.7 172.1h0M566 181.1h0M566.3 187.1h0M566.5 189h0M566.8 191.2h0M567.1 192.9h0M567.3 193.6h0M567.6 194.3h0M567.8 194.9h0M568.1 194.3h0M568.4 194.9h0M568.6 194h0M568.9 194.9h0M569.2 196.3h0M569.4 196.3h0M569.7 196.2h0M570 195.4h0M570.2 195.2h0M570.5 194.4h0M570.8 195.1h0M571 195.8h0M571.3 196.5h0M571.5 194h0M571.8 196.1h0M572.1 194.3h0M572.3 195.8h0M572.6 194.5h0M572.9 194.9h0M573.1 196.1h0M573.4 196.2h0M573.7 194.7h0M573.9 194.8h0M574.2 194.5h0M574.4 196.7h0M574.7 195.7h0M575 195.8h0M575.2 196h0M575.5 194.4h0M575.8 195.7h0M576 195.5h0M576.3 195h0M576.6 195h0M576.8 195.1h0M577.1 194.5h0M577.4 195.2h0M577.6 185.8h0M577.9 169.2h0M578.1 153.5h0M578.4 136.3h0M578.7 119.9h0M578.9 104.9h0M579.2 102.2h0M579.5 100.7h0M579.7 99.6h0M580 99.3h0M580.3 99.8h0M580.5 99.1h0M580.8 98.6h0M581 99.5h0M581.3 98.7h0M581.6 98.5h0M581.8 98.9h0M582.1 99.3h0M582.4 99.1h0M582.6 99.3h0M582.9 99.2h0M583.2 99.5h0M583.4 98.7h0M583.7 98.7h0M584 99.3h0M584.2 98.9h0M584.5 99.3h0M584.7 98.9h0M585 99h0M585.3 98.5h0M585.5 99.6h0M585.8 98.6h0M586.1 99h0M586.3 99.3h0M586.6 99.4h0M586.9 99.6h0M587.1 99h0M587.4 99h0M587.6 99.3h0M587.9 99.1h0M588.2 98.5h0M588.4 99.4h0M588.7 98.8h0M589 99.1h0M589.2 98.9h0M589.5 98.9h0M589.8 98.8h0M590 99h0M590.3 98.6h0M590.5 103.7h0M590.8 115.1h0M591.1 126.2h0M591.3 136.9h0M591.6 149.1h0M591.9 160.6h0M592.1 172.1h0M592.4 180.8h0M592.7 186h0M592.9 189.6h0M593.2 191.2h0M593.5 193h0M593.7 193.7h0M594 195h0M594.2 194.6h0M594.5 194.6h0M594.8 195.8h0M595 195.4h0M595.3 194.8h0M595.6 196h0M595.8 195h0M596.1 195.8h0M596.4 194.5h0M596.6 194.8h0M596.9 196.1h0M597.1 194.7h0M597.4 196.1h0M597.7 194.9h0M597.9 196.1h0M598.2 196h0M598.5 195.4h0M598.7 194.5h0M599 195.9h0M599.3 196.1h0M599.5 195.8h0M599.8 196.1h0M600.1 195.3h0M600.3 195h0M600.6 195.3h0M600.8 195.8h0M601.1 194.5h0M601.4 194.7h0M601.6 196h0M601.9 195.4h0M602.2 195.1h0M602.4 195.1h0M602.7 194.9h0M603 195.8h0M603.2 195.1h0M603.5 195.4h0M603.8 196.2h0M604 185.9h0M604.3 169.9h0M604.5 152.9h0M604.8 136.9h0M605.1 120.9h0M605.3 105.2h0M605.6 101.8h0M605.9 101h0M606.1 100.5h0M606.4 99.4h0M606.7 98.7h0M606.9 98.7h0M607.2 99h0M607.4 98.8h0M607.7 99.1h0M608 98.7h0M608.2 99h0M608.5 99.5h0M608.8 99.5h0M609 98.9h0M609.3 99.1h0M609.6 98.6h0M609.8 98.9h0M610.1 99.2h0M610.4 98.8h0M610.6 99.5h0M610.9 99h0M611.1 98.9h0M611.4 98.6h0M611.7 99.2h0M611.9 98.9h0M612.2 99.4h0M612.5 99.4h0M612.7 99.3h0M613 98.7h0M613.3 99.3h0M613.5 99h0M613.8 98.7h0M614 99.2h0M614.3 98.8h0M614.6 98.6h0M614.8 98.7h0M615.1 98.8h0M615.4 98.6h0M615.6 99.2h0M615.9 98.8h0M616.2 99.1h0M616.4 99.4h0M616.7 98.7h0M617 103.6h0M617.2 114.8h0M617.5 126.4h0M617.7 137.1h0M618 149.4h0M618.3 160.1h0M618.5 170.9h0M618.8 181.1h0M619.1 186.5h0M619.3 190.1h0M619.6 191h0M619.9 192.9h0M620.1 193.3h0M620.4 195.5h0M620.6 194.9h0M620.9 196.1h0M621.2 194.2h0M621.4 195.4h0M621.7 194.7h0M622 195.8h0M622.2 196h0M622.5 195.8h0M622.8 194.9h0M623 196.1h0M623.3 195h0M623.5 196.1h0M623.8 194.6h0M624.1 195.6h0M624.3 195h0M624.6 195.6h0M624.9 195.7h0M625.1 194.4h0M625.4 195.2h0M625.7 194.7h0M625.9 195.8h0M626.2 195.5h0M626.5 194.8h0M626.7 196.3h0M627 195.9h0M627.2 196h0M627.5 195.2h0M627.8 195.1h0M628 194.4h0M628.3 194.7h0M628.6 195.2h0M628.8 194.7h0M629.1 194.6h0M629.4 195.2h0M629.6 195.1h0M629.9 195.6h0M630.1 195h0M630.4 185.8h0M630.7 169.4h0M630.9 152.5h0M631.2 137.2h0M631.5 120.1h0M631.7 105.1h0M632 102.3h0M632.3 100.5h0M632.5 99.7h0M632.8 99.8h0M633.1 98.9h0M633.3 99h0M633.6 99.3h0M633.8 99.7h0M634.1 98.5h0M634.4 99h0M634.6 98.9h0M634.9 98.5h0M635.2 99.1h0M635.4 99h0M635.7 99.4h0M636 98.7h0M636.2 99.5h0M636.5 99.2h0M636.8 99h0M637 98.7h0M637.3 99.5h0M637.5 98.9h0M637.8 99.6h0M638.1 99.2h0M638.3 99.5h0M638.6 98.6h0M638.9 99.3h0M639.1 98.7h0M639.4 99.2h0M639.7 98.5h0M639.9 98.8h0M640.2 98.9h0M640.4 99.3h0M640.7 99.4h0M641 99.1h0M641.2 98.6h0M641.5 98.5h0M641.8 98.5h0M642 98.9h0M642.3 98.9h0M642.6 98.9h0M642.8 99.1h0M643.1 99.6h0M643.4 103.3h0M643.6 114.9h0M643.9 126.3h0M644.1 136.7h0M644.4 148.8h0M644.7 160.1h0M644.9 171.2h0M645.2 181.4h0M645.5 185.7h0M645.7 190.2h0M646 191.7h0M646.3 192.1h0M646.5 192.8h0M646.8 194h0M647 193.9h0M647.3 194.4h0M647.6 195.7h0M647.8 195h0M648.1 195.4h0M648.4 195.2h0M648.6 194.2h0M648.9 195.7h0M649.2 195.1h0M649.4 195h0M649.7 195h0M650 195.9h0M650.2 194.6h0M650.5 195.7h0M650.7 196h0M651 196.5h0M651.3 195.1h0M651.5 195.2h0M651.8 196h0M652.1 195.8h0M652.3 195.3h0M652.6 195.5h0M652.9 194.5h0M653.1 195.4h0M653.4 196.2h0M653.6 195.3h0M653.9 195.6h0M654.2 195.1h0M654.4 196.5h0M654.7 195.6h0M655 196h0M655.2 196.3h0M655.5 195.9h0M655.8 195.3h0M656 196.2h0M656.3 194.7h0M656.5 194.7h0M656.8 185.8h0M657.1 169.7h0M657.3 153.4h0M657.6 136.5h0M657.9 119.9h0M658.1 105.2h0M658.4 102.7h0M658.7 100.1h0M658.9 99.6h0M659.2 98.9h0M659.5 99.5h0M659.7 99.2h0M660 98.9h0M660.2 98.9h0M660.5 99.5h0M660.8 99.5h0M661 99.3h0M661.3 99.3h0M661.6 99.4h0M661.8 99.1h0M662.1 98.9h0M662.4 99.3h0M662.6 99.4h0M662.9 99.2h0M663.2 99.4h0M663.4 98.8h0M663.7 98.9h0M663.9 98.8h0M664.2 99.6h0M664.5 99.2h0M664.7 99.4h0M665 99h0M665.3 98.8h0M665.5 99.2h0M665.8 98.7h0M666.1 99.5h0M666.3 98.6h0M666.6 98.9h0M666.8 99.6h0M667.1 99.4h0M667.4 98.7h0M667.6 98.7h0M667.9 99h0M668.2 99h0M668.4 99.6h0M668.7 99.5h0M669 99.2h0M669.2 98.8h0M669.5 98.9h0M669.8 103.4h0" stroke="#48aaaa" stroke-width="0.9" stroke-linecap="round" fill="none"/>
<line x1="406" y1="199.1" x2="406" y2="203.3" stroke="#000" stroke-width="1.0"/>
<text x="406" y="214.3" font-size="10.1" text-anchor="middle" font-weight="bold">0</text>
<line x1="432.4" y1="199.1" x2="432.4" y2="201.6" stroke="#000" stroke-width="1.0"/>
<line x1="458.8" y1="199.1" x2="458.8" y2="203.3" stroke="#000" stroke-width="1.0"/>
<text x="458.8" y="214.3" font-size="10.1" text-anchor="middle" font-weight="bold">200</text>
<line x1="485.2" y1="199.1" x2="485.2" y2="201.6" stroke="#000" stroke-width="1.0"/>
<line x1="511.6" y1="199.1" x2="511.6" y2="203.3" stroke="#000" stroke-width="1.0"/>
<text x="511.6" y="214.3" font-size="10.1" text-anchor="middle" font-weight="bold">400</text>
<line x1="538" y1="199.1" x2="538" y2="201.6" stroke="#000" stroke-width="1.0"/>
<line x1="564.4" y1="199.1" x2="564.4" y2="203.3" stroke="#000" stroke-width="1.0"/>
<text x="564.4" y="214.3" font-size="10.1" text-anchor="middle" font-weight="bold">600</text>
<line x1="590.8" y1="199.1" x2="590.8" y2="201.6" stroke="#000" stroke-width="1.0"/>
<line x1="617.2" y1="199.1" x2="617.2" y2="203.3" stroke="#000" stroke-width="1.0"/>
<text x="617.2" y="214.3" font-size="10.1" text-anchor="middle" font-weight="bold">800</text>
<line x1="643.6" y1="199.1" x2="643.6" y2="201.6" stroke="#000" stroke-width="1.0"/>
<line x1="670" y1="199.1" x2="670" y2="203.3" stroke="#000" stroke-width="1.0"/>
<text x="670" y="214.3" font-size="10.1" text-anchor="middle" font-weight="bold">1000</text>
<line x1="401.8" y1="199.1" x2="406" y2="199.1" stroke="#000" stroke-width="1.0"/>
<text x="399.8" y="202.6" font-size="10.3" text-anchor="end" font-weight="bold">0</text>
<line x1="403.5" y1="183" x2="406" y2="183" stroke="#000" stroke-width="1.0"/>
<line x1="401.8" y1="166.8" x2="406" y2="166.8" stroke="#000" stroke-width="1.0"/>
<text x="399.8" y="170.3" font-size="10.3" text-anchor="end" font-weight="bold">10</text>
<line x1="403.5" y1="150.7" x2="406" y2="150.7" stroke="#000" stroke-width="1.0"/>
<line x1="401.8" y1="134.6" x2="406" y2="134.6" stroke="#000" stroke-width="1.0"/>
<text x="399.8" y="138.1" font-size="10.3" text-anchor="end" font-weight="bold">20</text>
<line x1="403.5" y1="118.5" x2="406" y2="118.5" stroke="#000" stroke-width="1.0"/>
<line x1="401.8" y1="102.3" x2="406" y2="102.3" stroke="#000" stroke-width="1.0"/>
<text x="399.8" y="105.8" font-size="10.3" text-anchor="end" font-weight="bold">30</text>
<line x1="403.5" y1="86.2" x2="406" y2="86.2" stroke="#000" stroke-width="1.0"/>
<line x1="401.8" y1="70.1" x2="406" y2="70.1" stroke="#000" stroke-width="1.0"/>
<text x="399.8" y="73.6" font-size="10.3" text-anchor="end" font-weight="bold">40</text>
<line x1="403.5" y1="54" x2="406" y2="54" stroke="#000" stroke-width="1.0"/>
<line x1="401.8" y1="37.8" x2="406" y2="37.8" stroke="#000" stroke-width="1.0"/>
<text x="399.8" y="41.3" font-size="10.3" text-anchor="end" font-weight="bold">50</text>
<line x1="403.5" y1="21.7" x2="406" y2="21.7" stroke="#000" stroke-width="1.0"/>
<line x1="401.8" y1="5.6" x2="406" y2="5.6" stroke="#000" stroke-width="1.0"/>
<text x="399.8" y="9.1" font-size="10.3" text-anchor="end" font-weight="bold">60</text>
<rect x="406" y="5.6" width="264" height="193.5" fill="none" stroke="#000" stroke-width="1.4"/>
<text x="366.8" y="17.2" font-size="18.5" font-weight="bold">(b)</text>
<text x="538.2" y="234.2" font-size="16" text-anchor="middle" font-weight="bold" textLength="54" lengthAdjust="spacingAndGlyphs">Time(s)</text>
<text transform="translate(380.2 105) rotate(-90)" font-size="12.6" font-weight="bold" text-anchor="middle" textLength="92" lengthAdjust="spacingAndGlyphs">Response (R<tspan font-size="8" dy="3.1">a</tspan><tspan dy="-3.1">/R</tspan><tspan font-size="8" dy="3.1">g</tspan><tspan dy="-3.1">)</tspan></text>
<rect x="407.6" y="7" width="136.9" height="43.7" fill="#fff" stroke="#777" stroke-width="0.9"/>
<line x1="411.8" y1="16.8" x2="437.7" y2="16.8" stroke="#ff10f0" stroke-width="1.5"/>
<circle cx="424.8" cy="16.8" r="2.3" fill="#ff10f0"/>
<circle cx="424.8" cy="16.8" r="1.035" fill="#ff90f8"/>
<line x1="411.8" y1="39.6" x2="437.7" y2="39.6" stroke="#0a8282" stroke-width="1.5"/>
<circle cx="424.8" cy="39.6" r="2.3" fill="#077070"/>
<circle cx="424.8" cy="39.6" r="1.035" fill="#48aaaa"/>
<text x="441.2" y="21" font-size="14.5" font-weight="bold">TiO<tspan font-size="9.0" dy="4.3">2</tspan></text>
<text x="441.2" y="43.8" font-size="14.5" font-weight="bold" textLength="97.5" lengthAdjust="spacingAndGlyphs">TiO<tspan font-size="9.0" dy="4.3">2</tspan><tspan dy="-4.3">/Ag</tspan><tspan font-size="9.0" dy="4.3">0.35</tspan><tspan dy="-4.3">V</tspan><tspan font-size="9.0" dy="4.3">2</tspan><tspan dy="-4.3">O</tspan><tspan font-size="9.0" dy="4.3">5</tspan></text>
<rect x="561.4" y="5.6" width="108.6" height="63" fill="#fff"/>
<line x1="559.4" y1="68.6" x2="561.4" y2="68.6" stroke="#000" stroke-width="0.7"/>
<text x="558.8" y="70.6" font-size="5.8" text-anchor="end">0</text>
<line x1="559.4" y1="52.1" x2="561.4" y2="52.1" stroke="#000" stroke-width="0.7"/>
<text x="558.8" y="54.1" font-size="5.8" text-anchor="end">10</text>
<line x1="559.4" y1="35.5" x2="561.4" y2="35.5" stroke="#000" stroke-width="0.7"/>
<text x="558.8" y="37.5" font-size="5.8" text-anchor="end">20</text>
<line x1="559.4" y1="19" x2="561.4" y2="19" stroke="#000" stroke-width="0.7"/>
<text x="558.8" y="21" font-size="5.8" text-anchor="end">30</text>
<line x1="567.5" y1="68.6" x2="567.5" y2="70.4" stroke="#000" stroke-width="0.7"/>
<text x="567.5" y="75" font-size="5.8" text-anchor="middle">40</text>
<line x1="592" y1="68.6" x2="592" y2="70.4" stroke="#000" stroke-width="0.7"/>
<text x="592" y="75" font-size="5.8" text-anchor="middle">60</text>
<line x1="629.7" y1="68.6" x2="629.7" y2="70.4" stroke="#000" stroke-width="0.7"/>
<text x="629.7" y="75" font-size="5.8" text-anchor="middle">100</text>
<line x1="661.2" y1="68.6" x2="661.2" y2="70.4" stroke="#000" stroke-width="0.7"/>
<text x="661.2" y="75" font-size="5.8" text-anchor="middle">120</text>
<path d="M561.4 67.6 581 67.4 582 64 584 52 586.5 35 588.3 22 589.5 19.2 592 18.9 592 18.7 593.5 18.7 595 18.7 596.5 18.7 598 18.7 599.5 18.7 601 18.7 602.5 18.7 604 18.7 605.5 18.7 607 18.7 608.5 18.7 610 18.7 611.5 18.7 613 18.7 614.5 18.7 616 18.7 617.5 18.7 619 18.7 620.5 18.7 622 18.7 623.5 18.7 625 18.7 626.5 18.7 628 18.7 629.5 18.7 631 18.7 632.3 18.9 633.5 22 636 33 639 47 642 60 644.5 66 648 67.6 670 67.8" stroke="#0a8282" stroke-width="1.4" fill="none" stroke-linejoin="round"/>
<path d="M561.4 67.9 581 67.7 585 66 590 64.3 596 63.3 605 62.8 620 62.8 632 63 638 63.8 644 65.5 650 67 656 67.6 670 67.9" stroke="#ff10f0" stroke-width="1.9" fill="none" stroke-linejoin="round"/>
<line x1="580.7" y1="7.6" x2="580.7" y2="68.6" stroke="#000" stroke-width="0.8" stroke-dasharray="1.6 1.3"/>
<line x1="631.2" y1="7.6" x2="631.2" y2="68.6" stroke="#000" stroke-width="0.8" stroke-dasharray="1.6 1.3"/>
<line x1="588.6" y1="7" x2="588.6" y2="37" stroke="#0a8282" stroke-width="0.8" stroke-dasharray="1.6 1.3"/>
<line x1="642.9" y1="24" x2="642.9" y2="68.6" stroke="#0a8282" stroke-width="0.8" stroke-dasharray="1.6 1.3"/>
<line x1="594.8" y1="46" x2="594.8" y2="68.6" stroke="#ff10f0" stroke-width="0.8" stroke-dasharray="1.6 1.3"/>
<line x1="651.4" y1="49" x2="651.4" y2="68.6" stroke="#ff10f0" stroke-width="0.8" stroke-dasharray="1.6 1.3"/>
<line x1="615.2" y1="5.6" x2="615.2" y2="68.6" stroke="#000" stroke-width="0.9"/>
<line x1="578" y1="14.9" x2="571.8" y2="14.9" stroke="#0a8282" stroke-width="1.0"/>
<path d="M571.8 14.9L574.3 13.6L574.3 16.2Z" fill="#0a8282"/>
<line x1="589.4" y1="14.9" x2="594" y2="14.9" stroke="#0a8282" stroke-width="1.0"/>
<path d="M594 14.9L591.5 16.2L591.5 13.6Z" fill="#0a8282"/>
<text x="595" y="17" font-size="6.3" font-weight="bold" fill="#0a8282" style="stroke:#0a8282">7 s</text>
<line x1="638.5" y1="16.6" x2="633.6" y2="16.6" stroke="#000" stroke-width="1.0"/>
<path d="M633.6 16.6L636.1 15.3L636.1 17.9Z" fill="#000"/>
<text x="640" y="18.6" font-size="6.3" font-weight="bold">gas out</text>
<line x1="628.5" y1="36.8" x2="622.5" y2="36.8" stroke="#0a8282" stroke-width="1.0"/>
<path d="M622.5 36.8L625 35.5L625 38.1Z" fill="#0a8282"/>
<line x1="643.3" y1="36.8" x2="648" y2="36.8" stroke="#0a8282" stroke-width="1.0"/>
<path d="M648 36.8L645.5 38.1L645.5 35.5Z" fill="#0a8282"/>
<text x="650.2" y="38.9" font-size="6.3" font-weight="bold" fill="#0a8282" style="stroke:#0a8282">8 s</text>
<line x1="572" y1="52.6" x2="578" y2="52.6" stroke="#ff10f0" stroke-width="1.0"/>
<path d="M578 52.6L575.5 53.9L575.5 51.3Z" fill="#ff10f0"/>
<line x1="595.2" y1="52.6" x2="599.8" y2="52.6" stroke="#ff10f0" stroke-width="1.0"/>
<path d="M599.8 52.6L597.3 53.9L597.3 51.3Z" fill="#ff10f0"/>
<text x="600.6" y="54.7" font-size="6.3" font-weight="bold" fill="#ff10f0" style="stroke:#ff10f0">12 s</text>
<line x1="623" y1="57" x2="629" y2="57" stroke="#ff10f0" stroke-width="1.0"/>
<path d="M629 57L626.5 58.3L626.5 55.7Z" fill="#ff10f0"/>
<line x1="651.8" y1="57" x2="656.4" y2="57" stroke="#ff10f0" stroke-width="1.0"/>
<path d="M656.4 57L653.9 58.3L653.9 55.7Z" fill="#ff10f0"/>
<text x="656.6" y="59.1" font-size="6.3" font-weight="bold" fill="#ff10f0" style="stroke:#ff10f0">13 s</text>
<text x="562" y="59.6" font-size="6.3" font-weight="bold">gas in</text>
<line x1="576.5" y1="61.5" x2="580" y2="66" stroke="#000" stroke-width="1.0"/>
<path d="M580 66L577.4 64.9L579.5 63.2Z" fill="#000"/>
<line x1="561.4" y1="5.6" x2="561.4" y2="69.1" stroke="#000" stroke-width="0.9"/>
<line x1="560.9" y1="68.6" x2="670" y2="68.6" stroke="#000" stroke-width="0.9"/>
<line x1="670" y1="5.6" x2="670" y2="68.6" stroke="#000" stroke-width="1.4"/>
<line x1="561.4" y1="5.6" x2="670" y2="5.6" stroke="#000" stroke-width="1.4"/>
<line x1="473.6" y1="377.5" x2="628.1" y2="386.3" stroke="#b8b0b0" stroke-width="0.7" stroke-dasharray="1.2 1.8"/>
<line x1="473.5" y1="354.2" x2="629" y2="362.1" stroke="#b8b0b0" stroke-width="0.7" stroke-dasharray="1.2 1.8"/>
<line x1="473.4" y1="330.6" x2="629.8" y2="337.5" stroke="#b8b0b0" stroke-width="0.7" stroke-dasharray="1.2 1.8"/>
<line x1="473.3" y1="306.7" x2="630.7" y2="312.6" stroke="#b8b0b0" stroke-width="0.7" stroke-dasharray="1.2 1.8"/>
<line x1="473.2" y1="282.6" x2="631.5" y2="287.4" stroke="#b8b0b0" stroke-width="0.7" stroke-dasharray="1.2 1.8"/>
<line x1="473" y1="258.2" x2="632.4" y2="261.9" stroke="#b8b0b0" stroke-width="0.7" stroke-dasharray="1.2 1.8"/>
<line x1="489.5" y1="401.5" x2="489.5" y2="248" stroke="#b8b0b0" stroke-width="0.7" stroke-dasharray="1.2 1.8"/>
<line x1="518.9" y1="403.4" x2="520" y2="248.6" stroke="#b8b0b0" stroke-width="0.7" stroke-dasharray="1.2 1.8"/>
<line x1="548.8" y1="405.3" x2="551.1" y2="249.2" stroke="#b8b0b0" stroke-width="0.7" stroke-dasharray="1.2 1.8"/>
<line x1="579.2" y1="407.2" x2="582.7" y2="249.9" stroke="#b8b0b0" stroke-width="0.7" stroke-dasharray="1.2 1.8"/>
<line x1="610.2" y1="409.2" x2="615" y2="250.5" stroke="#b8b0b0" stroke-width="0.7" stroke-dasharray="1.2 1.8"/>
<line x1="411.6" y1="418.6" x2="473.6" y2="377.5" stroke="#b8b0b0" stroke-width="0.7" stroke-dasharray="1.2 1.8"/>
<line x1="411" y1="390.3" x2="473.5" y2="354.2" stroke="#b8b0b0" stroke-width="0.7" stroke-dasharray="1.2 1.8"/>
<line x1="410.4" y1="361.5" x2="473.4" y2="330.6" stroke="#b8b0b0" stroke-width="0.7" stroke-dasharray="1.2 1.8"/>
<line x1="409.8" y1="332.4" x2="473.3" y2="306.7" stroke="#b8b0b0" stroke-width="0.7" stroke-dasharray="1.2 1.8"/>
<line x1="409.2" y1="302.8" x2="473.2" y2="282.6" stroke="#b8b0b0" stroke-width="0.7" stroke-dasharray="1.2 1.8"/>
<line x1="408.6" y1="272.8" x2="473" y2="258.2" stroke="#b8b0b0" stroke-width="0.7" stroke-dasharray="1.2 1.8"/>
<line x1="429.5" y1="433.5" x2="426.6" y2="256.4" stroke="#b8b0b0" stroke-width="0.7" stroke-dasharray="1.2 1.8"/>
<line x1="460.4" y1="410.4" x2="459.2" y2="250.3" stroke="#b8b0b0" stroke-width="0.7" stroke-dasharray="1.2 1.8"/>
<line x1="431.2" y1="448" x2="489.5" y2="401.5" stroke="#d0b8b8" stroke-width="0.7" stroke-dasharray="1.2 1.8"/>
<line x1="466.7" y1="450.7" x2="518.9" y2="403.4" stroke="#d0b8b8" stroke-width="0.7" stroke-dasharray="1.2 1.8"/>
<line x1="503" y1="453.6" x2="548.8" y2="405.3" stroke="#d0b8b8" stroke-width="0.7" stroke-dasharray="1.2 1.8"/>
<line x1="540" y1="456.5" x2="579.2" y2="407.2" stroke="#d0b8b8" stroke-width="0.7" stroke-dasharray="1.2 1.8"/>
<line x1="577.7" y1="459.5" x2="610.2" y2="409.2" stroke="#d0b8b8" stroke-width="0.7" stroke-dasharray="1.2 1.8"/>
<line x1="429.5" y1="433.5" x2="606.8" y2="446.7" stroke="#d0b8b8" stroke-width="0.7" stroke-dasharray="1.2 1.8"/>
<line x1="460.4" y1="410.4" x2="621.2" y2="421.2" stroke="#d0b8b8" stroke-width="0.7" stroke-dasharray="1.2 1.8"/>
<line x1="412.1" y1="446.5" x2="408.3" y2="259.9" stroke="#000" stroke-width="1.0"/>
<line x1="408.3" y1="259.9" x2="473" y2="247.6" stroke="#000" stroke-width="1.0"/>
<line x1="473" y1="247.6" x2="632.8" y2="250.9" stroke="#000" stroke-width="1.0"/>
<line x1="473" y1="247.6" x2="473.7" y2="400.5" stroke="#000" stroke-width="1.0"/>
<line x1="632.8" y1="250.9" x2="627.3" y2="410.3" stroke="#000" stroke-width="1.0"/>
<line x1="473.7" y1="400.5" x2="627.3" y2="410.3" stroke="#222" stroke-width="1.3"/>
<line x1="412.1" y1="446.5" x2="473.7" y2="400.5" stroke="#222" stroke-width="1.3"/>
<path d="M482.7 415L489.6 409.3L489.6 255.5L482.4 257.2Z" fill="#35adf3" stroke="#35adf3" stroke-width="0.35" stroke-linejoin="round"/>
<path d="M464.1 413.7L482.7 415L482.4 257.2L463 256.8Z" fill="#64c6fb" stroke="#64c6fb" stroke-width="0.35" stroke-linejoin="round"/>
<path d="M463 256.8L482.4 257.2L489.6 255.5L470.7 255.1Z" fill="#2a8dcc" stroke="#2a8dcc" stroke-width="0.35" stroke-linejoin="round"/>
<path d="M514 417.1L520.2 411.3L520.2 402.7L514 408.3Z" fill="#3c80d8" stroke="#3c80d8" stroke-width="0.35" stroke-linejoin="round"/>
<path d="M495 415.9L514 417.1L514 408.3L495 407.1Z" fill="#6fa0e0" stroke="#6fa0e0" stroke-width="0.35" stroke-linejoin="round"/>
<path d="M495 407.1L514 408.3L520.2 402.7L501.7 401.5Z" fill="#3169bd" stroke="#3169bd" stroke-width="0.35" stroke-linejoin="round"/>
<path d="M545.8 419.3L551.2 413.4L551.4 402.3L546 407.9Z" fill="#50cc7a" stroke="#50cc7a" stroke-width="0.35" stroke-linejoin="round"/>
<path d="M526.5 418L545.8 419.3L546 407.9L526.6 406.7Z" fill="#7ddfa0" stroke="#7ddfa0" stroke-width="0.35" stroke-linejoin="round"/>
<path d="M526.6 406.7L546 407.9L551.4 402.3L532.5 401.1Z" fill="#37a862" stroke="#37a862" stroke-width="0.35" stroke-linejoin="round"/>
<path d="M578.3 421.5L582.8 415.5L583.1 403.3L578.5 409Z" fill="#a6d631" stroke="#a6d631" stroke-width="0.35" stroke-linejoin="round"/>
<path d="M558.6 420.2L578.3 421.5L578.5 409L558.8 407.7Z" fill="#c0e852" stroke="#c0e852" stroke-width="0.35" stroke-linejoin="round"/>
<path d="M558.8 407.7L578.5 409L583.1 403.3L563.9 402Z" fill="#7ea81a" stroke="#7ea81a" stroke-width="0.35" stroke-linejoin="round"/>
<path d="M611.3 423.8L615 417.6L615.2 409.9L611.5 415.9Z" fill="#ecb548" stroke="#ecb548" stroke-width="0.35" stroke-linejoin="round"/>
<path d="M591.2 422.4L611.3 423.8L611.5 415.9L591.4 414.6Z" fill="#f8cd6a" stroke="#f8cd6a" stroke-width="0.35" stroke-linejoin="round"/>
<path d="M591.4 414.6L611.5 415.9L615.2 409.9L595.7 408.7Z" fill="#c49a3a" stroke="#c49a3a" stroke-width="0.35" stroke-linejoin="round"/>
<path d="M453.5 439.2L462 432.2L461.8 412.6L453.3 419.1Z" fill="#35adf3" stroke="#35adf3" stroke-width="0.35" stroke-linejoin="round"/>
<path d="M433 437.7L453.5 439.2L453.3 419.1L432.7 417.7Z" fill="#64c6fb" stroke="#64c6fb" stroke-width="0.35" stroke-linejoin="round"/>
<path d="M432.7 417.7L453.3 419.1L461.8 412.6L441.8 411.2Z" fill="#2a8dcc" stroke="#2a8dcc" stroke-width="0.35" stroke-linejoin="round"/>
<path d="M487.9 441.8L495.5 434.6L495.5 427.3L487.9 434.2Z" fill="#3c80d8" stroke="#3c80d8" stroke-width="0.35" stroke-linejoin="round"/>
<path d="M467 440.2L487.9 441.8L487.9 434.2L467 432.7Z" fill="#6fa0e0" stroke="#6fa0e0" stroke-width="0.35" stroke-linejoin="round"/>
<path d="M467 432.7L487.9 434.2L495.5 427.3L475.2 425.8Z" fill="#3169bd" stroke="#3169bd" stroke-width="0.35" stroke-linejoin="round"/>
<path d="M523.1 444.5L529.7 437.1L529.8 431.3L523.1 438.4Z" fill="#50cc7a" stroke="#50cc7a" stroke-width="0.35" stroke-linejoin="round"/>
<path d="M501.8 442.9L523.1 444.5L523.1 438.4L501.8 436.8Z" fill="#7ddfa0" stroke="#7ddfa0" stroke-width="0.35" stroke-linejoin="round"/>
<path d="M501.8 436.8L523.1 438.4L529.8 431.3L509 429.8Z" fill="#37a862" stroke="#37a862" stroke-width="0.35" stroke-linejoin="round"/>
<path d="M559 447.2L564.6 439.7L564.7 432.1L559.1 439.3Z" fill="#a6d631" stroke="#a6d631" stroke-width="0.35" stroke-linejoin="round"/>
<path d="M537.2 445.5L559 447.2L559.1 439.3L537.3 437.7Z" fill="#c0e852" stroke="#c0e852" stroke-width="0.35" stroke-linejoin="round"/>
<path d="M537.3 437.7L559.1 439.3L564.7 432.1L543.5 430.6Z" fill="#7ea81a" stroke="#7ea81a" stroke-width="0.35" stroke-linejoin="round"/>
<path d="M595.6 450L600.2 442.3L600.3 436L595.7 443.5Z" fill="#ecb548" stroke="#ecb548" stroke-width="0.35" stroke-linejoin="round"/>
<path d="M573.4 448.3L595.6 450L595.7 443.5L573.5 441.8Z" fill="#f8cd6a" stroke="#f8cd6a" stroke-width="0.35" stroke-linejoin="round"/>
<path d="M573.5 441.8L595.7 443.5L600.3 436L578.7 434.5Z" fill="#c49a3a" stroke="#c49a3a" stroke-width="0.35" stroke-linejoin="round"/>
<line x1="412.1" y1="446.5" x2="598.7" y2="461.1" stroke="#222" stroke-width="1.3"/>
<line x1="598.7" y1="461.1" x2="627.3" y2="410.3" stroke="#222" stroke-width="1.3"/>
<line x1="407.9" y1="446.5" x2="412.1" y2="446.5" stroke="#000" stroke-width="1.0"/>
<text transform="translate(406.2 456.4) rotate(-75)" font-size="8" font-weight="bold" text-anchor="middle" fill="#222" style="stroke:#222">0</text>
<line x1="407.4" y1="418.6" x2="411.6" y2="418.6" stroke="#000" stroke-width="1.0"/>
<text transform="translate(405.4 425.9) rotate(-75)" font-size="8" font-weight="bold" text-anchor="middle" fill="#222" style="stroke:#222">5</text>
<line x1="406.8" y1="390.3" x2="411" y2="390.3" stroke="#000" stroke-width="1.0"/>
<text transform="translate(403.7 397.5) rotate(-75)" font-size="8" font-weight="bold" text-anchor="middle" fill="#222" style="stroke:#222">10</text>
<line x1="406.2" y1="361.5" x2="410.4" y2="361.5" stroke="#000" stroke-width="1.0"/>
<text transform="translate(403.3 368.1) rotate(-75)" font-size="8" font-weight="bold" text-anchor="middle" fill="#222" style="stroke:#222">15</text>
<line x1="405.6" y1="332.4" x2="409.8" y2="332.4" stroke="#000" stroke-width="1.0"/>
<text transform="translate(402.2 338.9) rotate(-75)" font-size="8" font-weight="bold" text-anchor="middle" fill="#222" style="stroke:#222">20</text>
<line x1="405" y1="302.8" x2="409.2" y2="302.8" stroke="#000" stroke-width="1.0"/>
<text transform="translate(401.7 307.9) rotate(-75)" font-size="8" font-weight="bold" text-anchor="middle" fill="#222" style="stroke:#222">25</text>
<line x1="404.4" y1="272.8" x2="408.6" y2="272.8" stroke="#000" stroke-width="1.0"/>
<text transform="translate(400.2 277.6) rotate(-75)" font-size="8" font-weight="bold" text-anchor="middle" fill="#222" style="stroke:#222">30</text>
<text x="366" y="259" font-size="18.5" font-weight="bold" textLength="22.5" lengthAdjust="spacingAndGlyphs">(d)</text>
<text transform="translate(390.2 364.3) rotate(-90)" font-size="10.2" font-weight="bold" text-anchor="middle" textLength="111" lengthAdjust="spacingAndGlyphs">Response (R<tspan font-size="6.5" dy="2.5">a</tspan><tspan dy="-2.5">/R</tspan><tspan font-size="6.5" dy="2.5">g</tspan><tspan dy="-2.5">)</tspan></text>
<text transform="translate(434.2 453.5) rotate(-52)" font-size="10.2" font-weight="bold" text-anchor="end">Eth</text>
<text transform="translate(469.7 456.2) rotate(-52)" font-size="10.2" font-weight="bold" text-anchor="end">Ace</text>
<text transform="translate(506 459.1) rotate(-52)" font-size="10.2" font-weight="bold" text-anchor="end">Amm</text>
<text transform="translate(543 462) rotate(-52)" font-size="10.2" font-weight="bold" text-anchor="end">Met</text>
<text transform="translate(580.7 465) rotate(-52)" font-size="10.2" font-weight="bold" text-anchor="end">Tol</text>
<rect x="545.3" y="297.6" width="6.3" height="12.5" fill="#5aa2f2"/>
<rect x="551.6" y="292.9" width="7.4" height="17.2" fill="#9dcb66"/>
<rect x="568" y="299.6" width="6.5" height="10.5" fill="#5aa2f2"/>
<rect x="574.5" y="288.2" width="7.2" height="21.9" fill="#9dcb66"/>
<rect x="590.8" y="296.3" width="6.4" height="13.8" fill="#5aa2f2"/>
<rect x="597.2" y="283.9" width="6.9" height="26.2" fill="#9dcb66"/>
<rect x="613.7" y="299.3" width="6.7" height="10.8" fill="#5aa2f2"/>
<rect x="620.4" y="294.6" width="6.4" height="15.5" fill="#9dcb66"/>
<rect x="543.4" y="251.2" width="86.3" height="58.9" fill="none" stroke="#333" stroke-width="1.1"/>
<line x1="541.6" y1="310.1" x2="543.4" y2="310.1" stroke="#000" stroke-width="0.7"/>
<text x="541.2" y="312" font-size="5.5" text-anchor="end" font-weight="bold">0</text>
<line x1="541.6" y1="290.5" x2="543.4" y2="290.5" stroke="#000" stroke-width="0.7"/>
<text x="541.2" y="292.4" font-size="5.5" text-anchor="end" font-weight="bold">2</text>
<line x1="541.6" y1="270.9" x2="543.4" y2="270.9" stroke="#000" stroke-width="0.7"/>
<text x="541.2" y="272.8" font-size="5.5" text-anchor="end" font-weight="bold">4</text>
<line x1="541.6" y1="251.3" x2="543.4" y2="251.3" stroke="#000" stroke-width="0.7"/>
<text x="541.2" y="253.2" font-size="5.5" text-anchor="end" font-weight="bold">6</text>
<line x1="542.3" y1="300.3" x2="543.4" y2="300.3" stroke="#000" stroke-width="0.6"/>
<line x1="542.3" y1="280.7" x2="543.4" y2="280.7" stroke="#000" stroke-width="0.6"/>
<line x1="542.3" y1="261.1" x2="543.4" y2="261.1" stroke="#000" stroke-width="0.6"/>
<line x1="551.2" y1="310.1" x2="551.2" y2="311.7" stroke="#000" stroke-width="0.7"/>
<text x="551.2" y="320.4" font-size="8.8" text-anchor="middle" font-weight="bold">Ace</text>
<line x1="574.9" y1="310.1" x2="574.9" y2="311.7" stroke="#000" stroke-width="0.7"/>
<text x="574.9" y="320.4" font-size="8.8" text-anchor="middle" font-weight="bold">Amm</text>
<line x1="597.4" y1="310.1" x2="597.4" y2="311.7" stroke="#000" stroke-width="0.7"/>
<text x="597.4" y="320.4" font-size="8.8" text-anchor="middle" font-weight="bold">Met</text>
<line x1="620.2" y1="310.1" x2="620.2" y2="311.7" stroke="#000" stroke-width="0.7"/>
<text x="620.2" y="320.4" font-size="8.8" text-anchor="middle" font-weight="bold">Tol</text>
<rect x="544.3" y="252.4" width="60.3" height="20.4" fill="#fff" stroke="#aaa" stroke-width="0.6"/>
<rect x="546.4" y="253.8" width="13.7" height="6.3" fill="#5aa2f2"/>
<rect x="546.4" y="264.3" width="13.7" height="6.4" fill="#9dcb66"/>
<text x="562.2" y="259.3" font-size="6.2" font-weight="bold">TiO<tspan font-size="3.8" dy="1.9">2</tspan></text>
<text x="562.2" y="269.8" font-size="6.2" font-weight="bold" textLength="41.3" lengthAdjust="spacingAndGlyphs">TiO<tspan font-size="3.8" dy="1.9">2</tspan><tspan dy="-1.9">/Ag</tspan><tspan font-size="3.8" dy="1.9">0.35</tspan><tspan dy="-1.9">V</tspan><tspan font-size="3.8" dy="1.9">2</tspan><tspan dy="-1.9">O</tspan><tspan font-size="3.8" dy="1.9">5</tspan></text>
<text transform="translate(532.6 280.4) rotate(-90)" font-size="8.2" font-weight="bold" text-anchor="middle" textLength="57.6" lengthAdjust="spacingAndGlyphs">Response (R<tspan font-size="5.2" dy="2.0">a</tspan><tspan dy="-2.0">/R</tspan><tspan font-size="5.2" dy="2.0">g</tspan><tspan dy="-2.0">)</tspan></text>
<text transform="translate(620.6 426.3) skewY(13.5) skewX(-12)" font-size="11" font-weight="bold" textLength="61" lengthAdjust="spacingAndGlyphs">TiO<tspan font-size="6.8" dy="3.3">2</tspan><tspan dy="-3.3">/Ag</tspan><tspan font-size="6.8" dy="3.3">0.35</tspan><tspan dy="-3.3">V</tspan><tspan font-size="6.8" dy="3.3">2</tspan><tspan dy="-3.3">O</tspan><tspan font-size="6.8" dy="3.3">5</tspan></text>
<text transform="translate(606.6 451.9) skewY(4) skewX(-12)" font-size="11" font-weight="bold">TiO<tspan font-size="6.8" dy="3.3">2</tspan></text>
</svg></body></html>
